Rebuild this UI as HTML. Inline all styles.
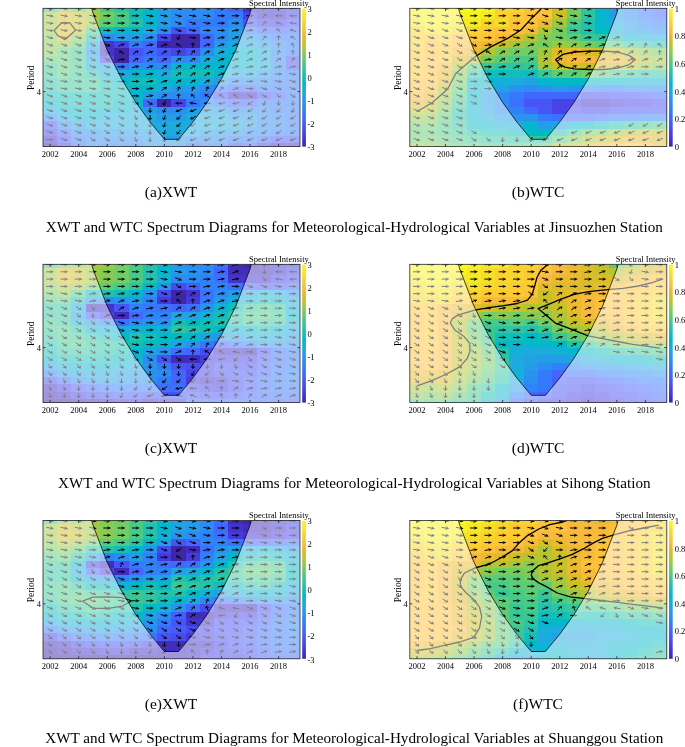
<!DOCTYPE html><html><head><meta charset="utf-8"><title>XWT and WTC Spectrum Diagrams</title>
<style>html,body{margin:0;padding:0;background:#fff}svg{display:block}.t{font-family:"Liberation Serif",serif;fill:#000}</style></head><body>
<svg width="685" height="747" viewBox="0 0 685 747">
<defs><linearGradient id="pg" x1="0" y1="0" x2="0" y2="1"><stop offset="0.000" stop-color="#f9fb15"/><stop offset="0.050" stop-color="#f5e825"/><stop offset="0.100" stop-color="#fad42e"/><stop offset="0.150" stop-color="#fec13a"/><stop offset="0.200" stop-color="#eaba31"/><stop offset="0.250" stop-color="#c8c129"/><stop offset="0.300" stop-color="#9fc942"/><stop offset="0.350" stop-color="#71cd64"/><stop offset="0.400" stop-color="#48cb86"/><stop offset="0.450" stop-color="#2fc5a2"/><stop offset="0.500" stop-color="#12beb9"/><stop offset="0.550" stop-color="#05b6ce"/><stop offset="0.600" stop-color="#1caadf"/><stop offset="0.650" stop-color="#259ce7"/><stop offset="0.700" stop-color="#2d8cf3"/><stop offset="0.750" stop-color="#347afd"/><stop offset="0.800" stop-color="#4367fd"/><stop offset="0.850" stop-color="#4755f6"/><stop offset="0.900" stop-color="#4743e7"/><stop offset="0.950" stop-color="#4433cc"/><stop offset="1.000" stop-color="#3e26a8"/></linearGradient></defs>
<rect width="685" height="747" fill="#fff"/>
<g transform="translate(43.00,8.30)">
<clipPath id="ca"><rect x="0" y="0" width="257.00" height="138.30"/></clipPath>
<g clip-path="url(#ca)">
<g shape-rendering="crispEdges">
<rect x="-0.2" y="-0.2" width="14.7" height="4.3" fill="#2fc5a2"/>
<rect x="14.1" y="-0.2" width="14.7" height="4.3" fill="#71cd64"/>
<rect x="28.4" y="-0.2" width="14.7" height="4.3" fill="#48cb86"/>
<rect x="42.6" y="-0.2" width="14.7" height="4.3" fill="#9fc942"/>
<rect x="56.9" y="-0.2" width="14.7" height="4.3" fill="#48cb86"/>
<rect x="71.2" y="-0.2" width="14.7" height="4.3" fill="#2fc5a2"/>
<rect x="85.5" y="-0.2" width="14.7" height="4.3" fill="#12beb9"/>
<rect x="99.7" y="-0.2" width="14.7" height="4.3" fill="#05b6ce"/>
<rect x="114.0" y="-0.2" width="14.7" height="4.3" fill="#259ce7"/>
<rect x="128.3" y="-0.2" width="43.2" height="4.3" fill="#2d8cf3"/>
<rect x="171.1" y="-0.2" width="14.7" height="4.3" fill="#347afd"/>
<rect x="185.4" y="-0.2" width="14.7" height="4.3" fill="#4367fd"/>
<rect x="199.7" y="-0.2" width="43.2" height="4.3" fill="#4433cc"/>
<rect x="242.5" y="-0.2" width="14.7" height="4.3" fill="#4743e7"/>
<rect x="-0.2" y="3.7" width="14.7" height="7.7" fill="#9fc942"/>
<rect x="14.1" y="3.7" width="14.7" height="7.7" fill="#dabd28"/>
<rect x="28.4" y="3.7" width="14.7" height="7.7" fill="#c8c129"/>
<rect x="42.6" y="3.7" width="14.7" height="7.7" fill="#9fc942"/>
<rect x="56.9" y="3.7" width="14.7" height="7.7" fill="#71cd64"/>
<rect x="71.2" y="3.7" width="14.7" height="7.7" fill="#48cb86"/>
<rect x="85.5" y="3.7" width="14.7" height="7.7" fill="#12beb9"/>
<rect x="99.7" y="3.7" width="14.7" height="7.7" fill="#05b6ce"/>
<rect x="114.0" y="3.7" width="14.7" height="7.7" fill="#259ce7"/>
<rect x="128.3" y="3.7" width="43.2" height="7.7" fill="#2d8cf3"/>
<rect x="171.1" y="3.7" width="29.0" height="7.7" fill="#347afd"/>
<rect x="199.7" y="3.7" width="14.7" height="7.7" fill="#4743e7"/>
<rect x="214.0" y="3.7" width="29.0" height="7.7" fill="#4433cc"/>
<rect x="242.5" y="3.7" width="14.7" height="7.7" fill="#4743e7"/>
<rect x="-0.2" y="11.0" width="14.7" height="7.7" fill="#9fc942"/>
<rect x="14.1" y="11.0" width="14.7" height="7.7" fill="#dabd28"/>
<rect x="28.4" y="11.0" width="14.7" height="7.7" fill="#c8c129"/>
<rect x="42.6" y="11.0" width="14.7" height="7.7" fill="#9fc942"/>
<rect x="56.9" y="11.0" width="14.7" height="7.7" fill="#5ccc76"/>
<rect x="71.2" y="11.0" width="14.7" height="7.7" fill="#48cb86"/>
<rect x="85.5" y="11.0" width="14.7" height="7.7" fill="#24c2ae"/>
<rect x="99.7" y="11.0" width="14.7" height="7.7" fill="#05b6ce"/>
<rect x="114.0" y="11.0" width="14.7" height="7.7" fill="#259ce7"/>
<rect x="128.3" y="11.0" width="14.7" height="7.7" fill="#2d8cf3"/>
<rect x="142.6" y="11.0" width="43.2" height="7.7" fill="#347afd"/>
<rect x="185.4" y="11.0" width="14.7" height="7.7" fill="#2d8cf3"/>
<rect x="199.7" y="11.0" width="14.7" height="7.7" fill="#4755f6"/>
<rect x="214.0" y="11.0" width="29.0" height="7.7" fill="#4743e7"/>
<rect x="242.5" y="11.0" width="14.7" height="7.7" fill="#4755f6"/>
<rect x="-0.2" y="18.3" width="14.7" height="7.7" fill="#9fc942"/>
<rect x="14.1" y="18.3" width="14.7" height="7.7" fill="#dabd28"/>
<rect x="28.4" y="18.3" width="14.7" height="7.7" fill="#c8c129"/>
<rect x="42.6" y="18.3" width="14.7" height="7.7" fill="#48cb86"/>
<rect x="56.9" y="18.3" width="14.7" height="7.7" fill="#12beb9"/>
<rect x="71.2" y="18.3" width="29.0" height="7.7" fill="#05b6ce"/>
<rect x="99.7" y="18.3" width="14.7" height="7.7" fill="#1caadf"/>
<rect x="114.0" y="18.3" width="14.7" height="7.7" fill="#2d8cf3"/>
<rect x="128.3" y="18.3" width="14.7" height="7.7" fill="#4755f6"/>
<rect x="142.6" y="18.3" width="14.7" height="7.7" fill="#4367fd"/>
<rect x="156.9" y="18.3" width="29.0" height="7.7" fill="#2d8cf3"/>
<rect x="185.4" y="18.3" width="14.7" height="7.7" fill="#259ce7"/>
<rect x="199.7" y="18.3" width="14.7" height="7.7" fill="#347afd"/>
<rect x="214.0" y="18.3" width="43.2" height="7.7" fill="#4367fd"/>
<rect x="-0.2" y="25.5" width="14.7" height="7.7" fill="#88cb53"/>
<rect x="14.1" y="25.5" width="14.7" height="7.7" fill="#dabd28"/>
<rect x="28.4" y="25.5" width="14.7" height="7.7" fill="#88cb53"/>
<rect x="42.6" y="25.5" width="14.7" height="7.7" fill="#24c2ae"/>
<rect x="56.9" y="25.5" width="14.7" height="7.7" fill="#2d8cf3"/>
<rect x="71.2" y="25.5" width="29.0" height="7.7" fill="#259ce7"/>
<rect x="99.7" y="25.5" width="14.7" height="7.7" fill="#2d8cf3"/>
<rect x="114.0" y="25.5" width="14.7" height="7.7" fill="#4743e7"/>
<rect x="128.3" y="25.5" width="29.0" height="7.7" fill="#3e26a8"/>
<rect x="156.9" y="25.5" width="14.7" height="7.7" fill="#4367fd"/>
<rect x="171.1" y="25.5" width="14.7" height="7.7" fill="#2d8cf3"/>
<rect x="185.4" y="25.5" width="29.0" height="7.7" fill="#259ce7"/>
<rect x="214.0" y="25.5" width="14.7" height="7.7" fill="#2d8cf3"/>
<rect x="228.2" y="25.5" width="29.0" height="7.7" fill="#347afd"/>
<rect x="-0.2" y="32.8" width="29.0" height="7.7" fill="#88cb53"/>
<rect x="28.4" y="32.8" width="14.7" height="7.7" fill="#5ccc76"/>
<rect x="42.6" y="32.8" width="14.7" height="7.7" fill="#1caadf"/>
<rect x="56.9" y="32.8" width="14.7" height="7.7" fill="#4433cc"/>
<rect x="71.2" y="32.8" width="14.7" height="7.7" fill="#4743e7"/>
<rect x="85.5" y="32.8" width="14.7" height="7.7" fill="#347afd"/>
<rect x="99.7" y="32.8" width="14.7" height="7.7" fill="#4367fd"/>
<rect x="114.0" y="32.8" width="43.2" height="7.7" fill="#3e26a8"/>
<rect x="156.9" y="32.8" width="14.7" height="7.7" fill="#4367fd"/>
<rect x="171.1" y="32.8" width="14.7" height="7.7" fill="#259ce7"/>
<rect x="185.4" y="32.8" width="29.0" height="7.7" fill="#1caadf"/>
<rect x="214.0" y="32.8" width="14.7" height="7.7" fill="#259ce7"/>
<rect x="228.2" y="32.8" width="14.7" height="7.7" fill="#2d8cf3"/>
<rect x="242.5" y="32.8" width="14.7" height="7.7" fill="#347afd"/>
<rect x="-0.2" y="40.1" width="14.7" height="7.7" fill="#88cb53"/>
<rect x="14.1" y="40.1" width="14.7" height="7.7" fill="#5ccc76"/>
<rect x="28.4" y="40.1" width="14.7" height="7.7" fill="#39c895"/>
<rect x="42.6" y="40.1" width="14.7" height="7.7" fill="#259ce7"/>
<rect x="56.9" y="40.1" width="14.7" height="7.7" fill="#4433cc"/>
<rect x="71.2" y="40.1" width="14.7" height="7.7" fill="#3e26a8"/>
<rect x="85.5" y="40.1" width="14.7" height="7.7" fill="#4755f6"/>
<rect x="99.7" y="40.1" width="14.7" height="7.7" fill="#4367fd"/>
<rect x="114.0" y="40.1" width="14.7" height="7.7" fill="#4755f6"/>
<rect x="128.3" y="40.1" width="14.7" height="7.7" fill="#4743e7"/>
<rect x="142.6" y="40.1" width="14.7" height="7.7" fill="#4755f6"/>
<rect x="156.9" y="40.1" width="14.7" height="7.7" fill="#2d8cf3"/>
<rect x="171.1" y="40.1" width="14.7" height="7.7" fill="#1caadf"/>
<rect x="185.4" y="40.1" width="29.0" height="7.7" fill="#05b6ce"/>
<rect x="214.0" y="40.1" width="14.7" height="7.7" fill="#1caadf"/>
<rect x="228.2" y="40.1" width="14.7" height="7.7" fill="#2d8cf3"/>
<rect x="242.5" y="40.1" width="14.7" height="7.7" fill="#347afd"/>
<rect x="-0.2" y="47.4" width="29.0" height="7.7" fill="#5ccc76"/>
<rect x="28.4" y="47.4" width="14.7" height="7.7" fill="#39c895"/>
<rect x="42.6" y="47.4" width="14.7" height="7.7" fill="#1caadf"/>
<rect x="56.9" y="47.4" width="14.7" height="7.7" fill="#4743e7"/>
<rect x="71.2" y="47.4" width="14.7" height="7.7" fill="#3e26a8"/>
<rect x="85.5" y="47.4" width="14.7" height="7.7" fill="#4367fd"/>
<rect x="99.7" y="47.4" width="14.7" height="7.7" fill="#347afd"/>
<rect x="114.0" y="47.4" width="14.7" height="7.7" fill="#4367fd"/>
<rect x="128.3" y="47.4" width="29.0" height="7.7" fill="#2d8cf3"/>
<rect x="156.9" y="47.4" width="14.7" height="7.7" fill="#1caadf"/>
<rect x="171.1" y="47.4" width="43.2" height="7.7" fill="#05b6ce"/>
<rect x="214.0" y="47.4" width="14.7" height="7.7" fill="#1caadf"/>
<rect x="228.2" y="47.4" width="14.7" height="7.7" fill="#2d8cf3"/>
<rect x="242.5" y="47.4" width="14.7" height="7.7" fill="#4755f6"/>
<rect x="-0.2" y="54.7" width="14.7" height="7.7" fill="#39c895"/>
<rect x="14.1" y="54.7" width="14.7" height="7.7" fill="#5ccc76"/>
<rect x="28.4" y="54.7" width="14.7" height="7.7" fill="#39c895"/>
<rect x="42.6" y="54.7" width="14.7" height="7.7" fill="#13b0d7"/>
<rect x="56.9" y="54.7" width="14.7" height="7.7" fill="#1caadf"/>
<rect x="71.2" y="54.7" width="14.7" height="7.7" fill="#347afd"/>
<rect x="85.5" y="54.7" width="43.2" height="7.7" fill="#2d8cf3"/>
<rect x="128.3" y="54.7" width="86.1" height="7.7" fill="#05b6ce"/>
<rect x="214.0" y="54.7" width="14.7" height="7.7" fill="#1caadf"/>
<rect x="228.2" y="54.7" width="14.7" height="7.7" fill="#2d8cf3"/>
<rect x="242.5" y="54.7" width="14.7" height="7.7" fill="#4755f6"/>
<rect x="-0.2" y="61.9" width="14.7" height="7.7" fill="#39c895"/>
<rect x="14.1" y="61.9" width="14.7" height="7.7" fill="#5ccc76"/>
<rect x="28.4" y="61.9" width="14.7" height="7.7" fill="#39c895"/>
<rect x="42.6" y="61.9" width="14.7" height="7.7" fill="#24c2ae"/>
<rect x="56.9" y="61.9" width="29.0" height="7.7" fill="#1caadf"/>
<rect x="85.5" y="61.9" width="29.0" height="7.7" fill="#05b6ce"/>
<rect x="114.0" y="61.9" width="14.7" height="7.7" fill="#1caadf"/>
<rect x="128.3" y="61.9" width="43.2" height="7.7" fill="#12beb9"/>
<rect x="171.1" y="61.9" width="14.7" height="7.7" fill="#05b6ce"/>
<rect x="185.4" y="61.9" width="29.0" height="7.7" fill="#1caadf"/>
<rect x="214.0" y="61.9" width="14.7" height="7.7" fill="#259ce7"/>
<rect x="228.2" y="61.9" width="14.7" height="7.7" fill="#2d8cf3"/>
<rect x="242.5" y="61.9" width="14.7" height="7.7" fill="#347afd"/>
<rect x="-0.2" y="69.2" width="14.7" height="7.7" fill="#24c2ae"/>
<rect x="14.1" y="69.2" width="43.2" height="7.7" fill="#39c895"/>
<rect x="56.9" y="69.2" width="14.7" height="7.7" fill="#12beb9"/>
<rect x="71.2" y="69.2" width="14.7" height="7.7" fill="#05b6ce"/>
<rect x="85.5" y="69.2" width="29.0" height="7.7" fill="#12beb9"/>
<rect x="114.0" y="69.2" width="43.2" height="7.7" fill="#05b6ce"/>
<rect x="156.9" y="69.2" width="14.7" height="7.7" fill="#1caadf"/>
<rect x="171.1" y="69.2" width="14.7" height="7.7" fill="#259ce7"/>
<rect x="185.4" y="69.2" width="43.2" height="7.7" fill="#2d8cf3"/>
<rect x="228.2" y="69.2" width="29.0" height="7.7" fill="#347afd"/>
<rect x="-0.2" y="76.5" width="14.7" height="7.7" fill="#24c2ae"/>
<rect x="14.1" y="76.5" width="43.2" height="7.7" fill="#39c895"/>
<rect x="56.9" y="76.5" width="29.0" height="7.7" fill="#12beb9"/>
<rect x="85.5" y="76.5" width="29.0" height="7.7" fill="#05b6ce"/>
<rect x="114.0" y="76.5" width="14.7" height="7.7" fill="#1caadf"/>
<rect x="128.3" y="76.5" width="29.0" height="7.7" fill="#259ce7"/>
<rect x="156.9" y="76.5" width="14.7" height="7.7" fill="#2d8cf3"/>
<rect x="171.1" y="76.5" width="14.7" height="7.7" fill="#347afd"/>
<rect x="185.4" y="76.5" width="29.0" height="7.7" fill="#4367fd"/>
<rect x="214.0" y="76.5" width="43.2" height="7.7" fill="#347afd"/>
<rect x="-0.2" y="83.8" width="86.1" height="7.7" fill="#12beb9"/>
<rect x="85.5" y="83.8" width="14.7" height="7.7" fill="#05b6ce"/>
<rect x="99.7" y="83.8" width="14.7" height="7.7" fill="#259ce7"/>
<rect x="114.0" y="83.8" width="43.2" height="7.7" fill="#2d8cf3"/>
<rect x="156.9" y="83.8" width="14.7" height="7.7" fill="#347afd"/>
<rect x="171.1" y="83.8" width="14.7" height="7.7" fill="#4755f6"/>
<rect x="185.4" y="83.8" width="29.0" height="7.7" fill="#4433cc"/>
<rect x="214.0" y="83.8" width="14.7" height="7.7" fill="#4755f6"/>
<rect x="228.2" y="83.8" width="14.7" height="7.7" fill="#4367fd"/>
<rect x="242.5" y="83.8" width="14.7" height="7.7" fill="#347afd"/>
<rect x="-0.2" y="91.1" width="14.7" height="7.7" fill="#05b6ce"/>
<rect x="14.1" y="91.1" width="57.5" height="7.7" fill="#12beb9"/>
<rect x="71.2" y="91.1" width="29.0" height="7.7" fill="#05b6ce"/>
<rect x="99.7" y="91.1" width="14.7" height="7.7" fill="#4367fd"/>
<rect x="114.0" y="91.1" width="14.7" height="7.7" fill="#3e26a8"/>
<rect x="128.3" y="91.1" width="14.7" height="7.7" fill="#4743e7"/>
<rect x="142.6" y="91.1" width="14.7" height="7.7" fill="#347afd"/>
<rect x="156.9" y="91.1" width="14.7" height="7.7" fill="#2d8cf3"/>
<rect x="171.1" y="91.1" width="14.7" height="7.7" fill="#347afd"/>
<rect x="185.4" y="91.1" width="29.0" height="7.7" fill="#4367fd"/>
<rect x="214.0" y="91.1" width="43.2" height="7.7" fill="#347afd"/>
<rect x="-0.2" y="98.3" width="14.7" height="7.7" fill="#1caadf"/>
<rect x="14.1" y="98.3" width="71.8" height="7.7" fill="#05b6ce"/>
<rect x="85.5" y="98.3" width="14.7" height="7.7" fill="#1caadf"/>
<rect x="99.7" y="98.3" width="14.7" height="7.7" fill="#259ce7"/>
<rect x="114.0" y="98.3" width="29.0" height="7.7" fill="#2d8cf3"/>
<rect x="142.6" y="98.3" width="43.2" height="7.7" fill="#259ce7"/>
<rect x="185.4" y="98.3" width="43.2" height="7.7" fill="#2d8cf3"/>
<rect x="228.2" y="98.3" width="29.0" height="7.7" fill="#347afd"/>
<rect x="-0.2" y="105.6" width="14.7" height="7.7" fill="#2d8cf3"/>
<rect x="14.1" y="105.6" width="14.7" height="7.7" fill="#1caadf"/>
<rect x="28.4" y="105.6" width="29.0" height="7.7" fill="#05b6ce"/>
<rect x="56.9" y="105.6" width="57.5" height="7.7" fill="#1caadf"/>
<rect x="114.0" y="105.6" width="29.0" height="7.7" fill="#259ce7"/>
<rect x="142.6" y="105.6" width="43.2" height="7.7" fill="#1caadf"/>
<rect x="185.4" y="105.6" width="29.0" height="7.7" fill="#259ce7"/>
<rect x="214.0" y="105.6" width="29.0" height="7.7" fill="#2d8cf3"/>
<rect x="242.5" y="105.6" width="14.7" height="7.7" fill="#347afd"/>
<rect x="-0.2" y="112.9" width="14.7" height="7.7" fill="#4755f6"/>
<rect x="14.1" y="112.9" width="14.7" height="7.7" fill="#2d8cf3"/>
<rect x="28.4" y="112.9" width="14.7" height="7.7" fill="#259ce7"/>
<rect x="42.6" y="112.9" width="157.5" height="7.7" fill="#1caadf"/>
<rect x="199.7" y="112.9" width="14.7" height="7.7" fill="#259ce7"/>
<rect x="214.0" y="112.9" width="29.0" height="7.7" fill="#2d8cf3"/>
<rect x="242.5" y="112.9" width="14.7" height="7.7" fill="#347afd"/>
<rect x="-0.2" y="120.2" width="14.7" height="7.7" fill="#4743e7"/>
<rect x="14.1" y="120.2" width="14.7" height="7.7" fill="#4367fd"/>
<rect x="28.4" y="120.2" width="29.0" height="7.7" fill="#2d8cf3"/>
<rect x="56.9" y="120.2" width="57.5" height="7.7" fill="#259ce7"/>
<rect x="114.0" y="120.2" width="43.2" height="7.7" fill="#1caadf"/>
<rect x="156.9" y="120.2" width="43.2" height="7.7" fill="#259ce7"/>
<rect x="199.7" y="120.2" width="29.0" height="7.7" fill="#2d8cf3"/>
<rect x="228.2" y="120.2" width="29.0" height="7.7" fill="#347afd"/>
<rect x="-0.2" y="127.5" width="14.7" height="7.7" fill="#4433cc"/>
<rect x="14.1" y="127.5" width="14.7" height="7.7" fill="#4755f6"/>
<rect x="28.4" y="127.5" width="14.7" height="7.7" fill="#347afd"/>
<rect x="42.6" y="127.5" width="57.5" height="7.7" fill="#2d8cf3"/>
<rect x="99.7" y="127.5" width="43.2" height="7.7" fill="#259ce7"/>
<rect x="142.6" y="127.5" width="43.2" height="7.7" fill="#2d8cf3"/>
<rect x="185.4" y="127.5" width="29.0" height="7.7" fill="#347afd"/>
<rect x="214.0" y="127.5" width="14.7" height="7.7" fill="#4367fd"/>
<rect x="228.2" y="127.5" width="29.0" height="7.7" fill="#4755f6"/>
<rect x="-0.2" y="134.7" width="14.7" height="3.8" fill="#3e26a8"/>
<rect x="14.1" y="134.7" width="14.7" height="3.8" fill="#4743e7"/>
<rect x="28.4" y="134.7" width="14.7" height="3.8" fill="#4367fd"/>
<rect x="42.6" y="134.7" width="14.7" height="3.8" fill="#2d8cf3"/>
<rect x="56.9" y="134.7" width="43.2" height="3.8" fill="#347afd"/>
<rect x="99.7" y="134.7" width="14.7" height="3.8" fill="#259ce7"/>
<rect x="114.0" y="134.7" width="29.0" height="3.8" fill="#2d8cf3"/>
<rect x="142.6" y="134.7" width="14.7" height="3.8" fill="#4367fd"/>
<rect x="156.9" y="134.7" width="29.0" height="3.8" fill="#347afd"/>
<rect x="185.4" y="134.7" width="14.7" height="3.8" fill="#4755f6"/>
<rect x="199.7" y="134.7" width="14.7" height="3.8" fill="#4367fd"/>
<rect x="214.0" y="134.7" width="14.7" height="3.8" fill="#4743e7"/>
<rect x="228.2" y="134.7" width="29.0" height="3.8" fill="#4433cc"/>
</g>
<path d="M3.4 -0.4L8.1 0.5M17.6 -0.4L22.4 0.5M31.9 -0.4L36.6 0.5M46.2 -0.4L50.9 0.5M60.4 0.3L65.2 0.3M74.6 0.3L79.5 0.3M88.9 0.3L93.8 0.3M103.3 -0.4L108.0 0.5M117.6 -0.4L122.3 0.5M132.3 -1.0L136.5 0.6M146.1 -0.4L150.9 0.5M160.4 -0.4L165.1 0.5M174.6 0.3L179.4 0.3M188.8 0.3L193.7 0.3M203.1 0.3L208.0 0.3M219.4 2.5L221.8 -0.3M239.5 0.3L234.6 0.3M253.8 0.3L248.9 0.3M3.4 6.9L8.1 7.7M17.6 6.9L22.4 7.7M31.9 6.9L36.6 7.7M46.2 6.9L50.9 7.7M60.4 7.5L65.2 7.5M74.6 7.5L79.5 7.5M88.9 7.5L93.8 7.5M103.3 6.9L108.0 7.7M117.6 6.9L122.3 7.7M132.3 6.3L136.5 7.9M146.1 6.9L150.9 7.7M160.4 6.9L165.1 7.7M174.6 7.5L179.4 7.5M188.8 7.5L193.7 7.5M203.1 7.5L208.0 7.5M219.4 9.7L221.8 7.0M239.5 7.5L234.6 7.5M253.8 7.5L248.9 7.5M3.4 14.2L8.1 15.0M17.6 14.2L22.4 15.0M31.9 14.2L36.6 15.0M46.2 14.2L50.9 15.0M60.4 14.8L65.2 14.8M74.6 14.8L79.5 14.8M88.9 14.8L93.8 14.8M103.2 14.8L108.1 14.8M117.6 14.2L122.3 15.0M132.3 13.5L136.5 15.1M146.5 13.5L150.8 15.1M160.4 14.2L165.1 15.0M174.6 14.8L179.4 14.8M188.8 14.8L193.7 14.8M203.3 15.5L208.0 14.7M219.4 17.0L221.8 14.3M239.0 16.1L234.7 14.5M253.6 15.5L248.9 14.7M3.4 21.4L8.1 22.3M17.6 21.4L22.4 22.3M31.9 21.4L36.6 22.3M46.6 20.8L50.8 22.4M60.4 22.1L65.2 22.1M74.6 22.1L79.5 22.1M88.9 22.1L93.8 22.1M103.2 22.1L108.1 22.1M117.6 21.4L122.3 22.3M132.3 20.8L136.5 22.4M146.1 21.4L150.9 22.3M160.3 22.1L165.2 22.1M174.6 22.1L179.4 22.1M189.0 22.8L193.7 21.9M203.3 22.8L208.0 21.9M219.4 24.3L221.8 21.5M237.5 24.3L235.1 21.5M253.2 23.4L249.0 21.8M3.8 28.1L8.0 29.7M18.0 28.1L22.3 29.7M32.3 28.1L36.5 29.7M46.6 28.1L50.8 29.7M60.5 28.7L65.2 29.5M74.6 29.4L79.5 29.4M89.0 30.0L93.7 29.2M103.3 30.0L108.0 29.2M117.6 28.7L122.3 29.5M136.6 26.9L135.4 30.0M146.1 28.7L150.9 29.5M160.4 30.0L165.1 29.2M174.7 30.0L179.4 29.2M189.4 30.7L193.6 29.1M203.7 30.7L207.9 29.1M219.4 31.6L221.8 28.8M235.6 31.9L235.6 28.7M252.6 31.2L249.2 28.9M3.8 35.4L8.0 37.0M18.0 35.4L22.3 37.0M32.3 35.4L36.5 37.0M47.2 34.9L50.7 37.1M60.9 35.4L65.1 37.0M75.2 37.9L79.4 36.3M89.4 37.9L93.6 36.3M103.3 37.3L108.0 36.5M118.0 37.9L122.2 36.3M138.4 38.5L134.9 36.2M149.9 39.2L149.9 36.0M160.8 37.9L165.0 36.3M175.1 37.9L179.3 36.3M189.4 37.9L193.6 36.3M203.7 37.9L207.9 36.3M219.4 38.9L221.8 36.1M235.6 39.2L235.6 36.0M250.9 39.1L249.6 36.0M3.8 42.7L8.0 44.3M18.0 42.7L22.3 44.3M32.3 42.7L36.5 44.3M47.2 42.1L50.7 44.4M61.5 42.1L64.9 44.4M81.3 45.7L77.8 43.5M90.0 45.7L93.5 43.5M103.7 45.2L107.9 43.6M118.6 45.7L122.1 43.5M134.6 46.4L135.9 43.3M148.0 46.1L150.4 43.4M161.4 45.7L164.9 43.5M175.1 45.2L179.3 43.6M189.4 45.2L193.6 43.6M204.3 45.7L207.7 43.5M218.5 45.7L222.0 43.5M234.6 46.4L235.8 43.3M249.9 46.5L249.9 43.3M3.8 49.9L8.0 51.5M18.0 49.9L22.3 51.5M32.3 49.9L36.5 51.5M47.2 49.4L50.7 51.7M61.5 49.4L64.9 51.7M74.8 51.9L79.5 51.1M90.0 53.0L93.5 50.8M104.3 53.0L107.8 50.8M118.6 53.0L122.1 50.8M132.9 53.0L136.3 50.8M147.2 53.0L150.6 50.8M161.4 53.0L164.9 50.8M175.1 52.5L179.3 50.9M189.4 52.5L193.6 50.9M203.7 52.5L207.9 50.9M218.5 53.0L222.0 50.8M232.8 53.0L236.3 50.8M247.9 53.4L250.3 50.7M3.8 57.2L8.0 58.8M18.0 57.2L22.3 58.8M32.3 57.2L36.5 58.8M46.6 57.2L50.8 58.8M60.9 57.2L65.1 58.8M74.6 58.5L79.5 58.5M89.0 59.2L93.7 58.3M103.7 59.8L107.9 58.2M118.6 60.3L122.1 58.0M132.9 60.3L136.3 58.0M147.2 60.3L150.6 58.0M161.4 60.3L164.9 58.0M175.1 59.8L179.3 58.2M189.4 59.8L193.6 58.2M203.3 59.2L208.0 58.3M217.5 59.2L222.2 58.3M231.8 59.2L236.5 58.3M246.1 59.2L250.8 58.3M3.8 64.5L8.0 66.1M18.0 64.5L22.3 66.1M32.3 64.5L36.5 66.1M46.6 64.5L50.8 66.1M60.9 64.5L65.1 66.1M74.8 65.1L79.5 65.9M88.9 65.8L93.8 65.8M103.3 66.4L108.0 65.6M118.6 67.6L122.1 65.3M132.9 67.6L136.3 65.3M147.2 67.6L150.6 65.3M161.4 67.6L164.9 65.3M175.1 67.1L179.3 65.5M189.0 66.4L193.7 65.6M203.3 66.4L208.0 65.6M217.4 65.8L222.3 65.8M231.7 65.8L236.6 65.8M246.1 65.1L250.8 65.9M3.8 71.8L8.0 73.4M17.6 72.4L22.4 73.2M31.9 72.4L36.6 73.2M46.2 72.4L50.9 73.2M60.5 72.4L65.2 73.2M74.6 73.1L79.5 73.1M88.9 73.1L93.8 73.1M103.3 73.7L108.0 72.9M118.0 74.3L122.2 72.7M132.9 74.9L136.3 72.6M147.2 74.9L150.6 72.6M161.4 74.9L164.9 72.6M175.1 74.3L179.3 72.7M189.0 73.7L193.7 72.9M203.1 73.1L208.0 73.1M217.5 72.4L222.2 73.2M231.8 72.4L236.5 73.2M246.5 71.8L250.7 73.4M3.4 79.7L8.1 80.5M17.6 79.7L22.4 80.5M31.9 79.7L36.6 80.5M46.2 79.7L50.9 80.5M60.5 79.7L65.2 80.5M74.8 79.7L79.5 80.5M88.9 80.3L93.8 80.3M103.3 81.0L108.0 80.2M118.6 82.1L122.1 79.9M134.6 82.8L135.9 79.7M148.9 82.8L150.2 79.7M163.2 82.8L164.4 79.7M176.5 82.5L179.0 79.8M189.4 81.6L193.6 80.0M203.1 80.3L208.0 80.3M217.9 79.1L222.1 80.7M232.2 79.1L236.4 80.7M246.5 79.1L250.7 80.7M3.8 86.3L8.0 87.9M18.0 86.3L22.3 87.9M32.3 86.3L36.5 87.9M46.6 86.3L50.8 87.9M60.9 86.3L65.1 87.9M75.2 86.3L79.4 87.9M88.9 87.6L93.8 87.6M103.3 88.3L108.0 87.5M118.6 89.4L122.1 87.2M135.6 90.2L135.6 87.0M151.9 89.8L149.4 87.1M167.0 89.4L163.5 87.2M181.2 89.4L177.8 87.2M195.5 89.4L192.1 87.2M204.3 85.8L207.7 88.1M218.5 85.8L222.0 88.1M233.6 85.4L236.1 88.2M247.1 85.8L250.6 88.1M3.8 93.6L8.0 95.2M18.0 93.6L22.3 95.2M32.3 93.6L36.5 95.2M46.6 93.6L50.8 95.2M60.9 93.6L65.1 95.2M75.2 93.6L79.4 95.2M89.4 93.6L93.6 95.2M104.3 93.1L107.8 95.4M122.4 92.4L121.1 95.5M139.5 94.9L134.7 94.9M153.7 95.6L149.0 94.7M168.1 94.9L163.2 94.9M182.2 94.2L177.5 95.1M196.5 94.2L191.8 95.1M209.8 93.1L206.3 95.4M222.3 92.4L221.1 95.5M235.6 92.4L235.6 95.5M249.9 92.4L249.9 95.5M3.8 100.9L8.0 102.5M18.0 100.9L22.3 102.5M32.3 100.9L36.5 102.5M46.6 100.9L50.8 102.5M60.9 100.9L65.1 102.5M75.8 100.4L79.2 102.6M90.9 100.0L93.3 102.7M107.1 99.6L107.1 102.8M122.4 99.7L121.1 102.8M139.0 100.9L134.8 102.5M153.3 100.9L149.1 102.5M168.0 101.5L163.3 102.3M181.8 100.9L177.6 102.5M196.1 100.9L191.9 102.5M209.8 100.4L206.3 102.6M223.3 100.0L220.8 102.7M237.5 100.0L235.1 102.7M250.9 99.7L249.6 102.8M3.8 108.2L8.0 109.8M18.0 108.2L22.3 109.8M32.3 108.2L36.5 109.8M46.6 108.2L50.8 109.8M61.5 107.7L64.9 109.9M75.8 107.7L79.2 109.9M91.8 107.0L93.1 110.1M107.1 106.9L107.1 110.1M122.4 107.0L121.1 110.1M137.6 107.3L135.2 110.0M152.7 107.7L149.2 109.9M167.6 108.2L163.4 109.8M181.8 108.2L177.6 109.8M196.1 108.2L191.9 109.8M209.8 107.7L206.3 109.9M224.1 107.7L220.6 109.9M238.3 107.7L234.9 109.9M252.6 107.7L249.2 109.9M3.8 115.5L8.0 117.1M18.0 115.5L22.3 117.1M32.3 115.5L36.5 117.1M46.6 115.5L50.8 117.1M61.5 114.9L64.9 117.2M75.8 114.9L79.2 117.2M91.8 114.3L93.1 117.4M107.1 114.2L107.1 117.4M122.4 114.3L121.1 117.4M137.6 114.5L135.2 117.3M152.7 114.9L149.2 117.2M167.6 115.5L163.4 117.1M181.8 115.5L177.6 117.1M196.1 115.5L191.9 117.1M210.4 115.5L206.2 117.1M224.1 114.9L220.6 117.2M238.3 114.9L234.9 117.2M252.6 114.9L249.2 117.2M3.8 122.7L8.0 124.3M18.0 122.7L22.3 124.3M32.3 122.7L36.5 124.3M47.2 122.2L50.7 124.5M61.5 122.2L64.9 124.5M76.6 121.8L79.0 124.6M91.8 121.6L93.1 124.6M107.1 121.5L107.1 124.7M122.4 121.6L121.1 124.6M137.6 121.8L135.2 124.6M152.7 122.2L149.2 124.5M167.6 122.7L163.4 124.3M181.8 122.7L177.6 124.3M196.1 122.7L191.9 124.3M210.4 122.7L206.2 124.3M224.1 122.2L220.6 124.5M238.3 122.2L234.9 124.5M252.6 122.2L249.2 124.5M3.2 131.3L8.1 131.3M18.0 130.0L22.3 131.6M32.3 130.0L36.5 131.6M47.2 129.5L50.7 131.8M61.5 129.5L64.9 131.8M76.6 129.1L79.0 131.9M91.8 128.8L93.1 131.9M107.1 128.8L107.1 131.9M121.4 128.8L121.4 131.9M138.4 129.5L134.9 131.8M153.3 130.0L149.1 131.6M167.6 130.0L163.4 131.6M181.8 130.0L177.6 131.6M196.1 130.0L191.9 131.6M210.4 130.0L206.2 131.6M224.7 130.0L220.5 131.6M239.0 130.0L234.7 131.6M253.2 130.0L249.0 131.6" stroke="#000" stroke-width="1" fill="none"/>
<path d="M10.9 1.0L7.6 -1.4L8.1 0.5L6.2 1.9ZM25.2 1.0L21.8 -1.4L22.4 0.5L20.5 1.9ZM39.5 1.0L36.1 -1.4L36.6 0.5L34.7 1.9ZM53.7 1.0L50.4 -1.4L50.9 0.5L49.0 1.9ZM68.2 0.3L64.0 -1.4L65.2 0.3L64.0 2.0ZM82.4 0.3L78.3 -1.4L79.5 0.3L78.3 2.0ZM96.7 0.3L92.5 -1.4L93.8 0.3L92.5 2.0ZM110.9 1.0L107.5 -1.4L108.0 0.5L106.1 1.9ZM125.1 1.0L121.8 -1.4L122.3 0.5L120.4 1.9ZM139.0 1.6L136.7 -1.3L136.5 0.6L134.1 1.7ZM153.7 1.0L150.3 -1.4L150.9 0.5L149.0 1.9ZM168.0 1.0L164.6 -1.4L165.1 0.5L163.2 1.9ZM182.4 0.3L178.2 -1.4L179.4 0.3L178.2 2.0ZM196.7 0.3L192.5 -1.4L193.7 0.3L192.5 2.0ZM210.9 0.3L206.8 -1.4L208.0 0.3L206.8 2.0ZM223.3 -1.9L218.9 -0.4L221.8 -0.3L223.5 1.3ZM231.7 0.3L235.9 2.0L234.6 0.3L235.9 -1.4ZM246.0 0.3L250.1 2.0L248.9 0.3L250.1 -1.4ZM10.9 8.2L7.6 5.8L8.1 7.7L6.2 9.2ZM25.2 8.2L21.8 5.8L22.4 7.7L20.5 9.2ZM39.5 8.2L36.1 5.8L36.6 7.7L34.7 9.2ZM53.7 8.2L50.4 5.8L50.9 7.7L49.0 9.2ZM68.2 7.5L64.0 5.8L65.2 7.5L64.0 9.3ZM82.4 7.5L78.3 5.8L79.5 7.5L78.3 9.3ZM96.7 7.5L92.5 5.8L93.8 7.5L92.5 9.3ZM110.9 8.2L107.5 5.8L108.0 7.7L106.1 9.2ZM125.1 8.2L121.8 5.8L122.3 7.7L120.4 9.2ZM139.0 8.8L136.7 5.9L136.5 7.9L134.1 9.0ZM153.7 8.2L150.3 5.8L150.9 7.7L149.0 9.2ZM168.0 8.2L164.6 5.8L165.1 7.7L163.2 9.2ZM182.4 7.5L178.2 5.8L179.4 7.5L178.2 9.3ZM196.7 7.5L192.5 5.8L193.7 7.5L192.5 9.3ZM210.9 7.5L206.8 5.8L208.0 7.5L206.8 9.3ZM223.3 5.3L218.9 6.8L221.8 7.0L223.5 8.6ZM231.7 7.5L235.9 9.3L234.6 7.5L235.9 5.8ZM246.0 7.5L250.1 9.3L248.9 7.5L250.1 5.8ZM10.9 15.5L7.6 13.1L8.1 15.0L6.2 16.4ZM25.2 15.5L21.8 13.1L22.4 15.0L20.5 16.4ZM39.5 15.5L36.1 13.1L36.6 15.0L34.7 16.4ZM53.7 15.5L50.4 13.1L50.9 15.0L49.0 16.4ZM68.2 14.8L64.0 13.1L65.2 14.8L64.0 16.6ZM82.4 14.8L78.3 13.1L79.5 14.8L78.3 16.6ZM96.7 14.8L92.5 13.1L93.8 14.8L92.5 16.6ZM111.0 14.8L106.8 13.1L108.1 14.8L106.8 16.6ZM125.1 15.5L121.8 13.1L122.3 15.0L120.4 16.4ZM139.0 16.1L136.7 13.2L136.5 15.1L134.1 16.2ZM153.3 16.1L151.0 13.2L150.8 15.1L148.4 16.2ZM168.0 15.5L164.6 13.1L165.1 15.0L163.2 16.4ZM182.4 14.8L178.2 13.1L179.4 14.8L178.2 16.6ZM196.7 14.8L192.5 13.1L193.7 14.8L192.5 16.6ZM210.8 14.2L206.1 13.2L208.0 14.7L207.5 16.5ZM223.3 12.6L218.9 14.1L221.8 14.3L223.5 15.8ZM232.2 13.5L234.5 16.4L234.7 14.5L237.1 13.4ZM246.1 14.2L249.4 16.5L248.9 14.7L250.8 13.2ZM10.9 22.8L7.6 20.4L8.1 22.3L6.2 23.7ZM25.2 22.8L21.8 20.4L22.4 22.3L20.5 23.7ZM39.5 22.8L36.1 20.4L36.6 22.3L34.7 23.7ZM53.3 23.4L51.1 20.5L50.8 22.4L48.4 23.5ZM68.2 22.1L64.0 20.4L65.2 22.1L64.0 23.8ZM82.4 22.1L78.3 20.4L79.5 22.1L78.3 23.8ZM96.7 22.1L92.5 20.4L93.8 22.1L92.5 23.8ZM111.0 22.1L106.8 20.4L108.1 22.1L106.8 23.8ZM125.1 22.8L121.8 20.4L122.3 22.3L120.4 23.7ZM139.0 23.4L136.7 20.5L136.5 22.4L134.1 23.5ZM153.7 22.8L150.3 20.4L150.9 22.3L149.0 23.7ZM168.1 22.1L163.9 20.4L165.2 22.1L163.9 23.8ZM182.4 22.1L178.2 20.4L179.4 22.1L178.2 23.8ZM196.5 21.4L191.8 20.5L193.7 21.9L193.2 23.8ZM210.8 21.4L206.1 20.5L208.0 21.9L207.5 23.8ZM223.3 19.9L218.9 21.4L221.8 21.5L223.5 23.1ZM233.6 19.9L233.4 23.1L235.1 21.5L238.0 21.4ZM246.5 20.8L248.8 23.7L249.0 21.8L251.4 20.7ZM10.5 30.7L8.2 27.8L8.0 29.7L5.6 30.8ZM24.8 30.7L22.5 27.8L22.3 29.7L19.9 30.8ZM39.1 30.7L36.8 27.8L36.5 29.7L34.1 30.8ZM53.3 30.7L51.1 27.8L50.8 29.7L48.4 30.8ZM68.0 30.0L64.7 27.7L65.2 29.5L63.3 31.0ZM82.4 29.4L78.3 27.6L79.5 29.4L78.3 31.1ZM96.6 28.7L91.9 27.8L93.7 29.2L93.2 31.1ZM110.9 28.7L106.1 27.8L108.0 29.2L107.5 31.1ZM125.1 30.0L121.8 27.7L122.3 29.5L120.4 31.0ZM134.6 31.8L138.3 29.7L135.4 30.0L133.1 28.8ZM153.7 30.0L150.3 27.7L150.9 29.5L149.0 31.0ZM168.0 28.7L163.2 27.8L165.1 29.2L164.6 31.1ZM182.2 28.7L177.5 27.8L179.4 29.2L178.9 31.1ZM196.1 28.1L191.2 28.0L193.6 29.1L193.8 31.0ZM210.4 28.1L205.5 28.0L207.9 29.1L208.1 31.0ZM223.3 27.2L218.9 28.7L221.8 28.8L223.5 30.4ZM235.6 26.8L232.9 29.6L235.6 28.7L238.2 29.6ZM247.1 27.6L248.2 30.7L249.2 28.9L251.9 28.3ZM10.5 37.9L8.2 35.1L8.0 37.0L5.6 38.1ZM24.8 37.9L22.5 35.1L22.3 37.0L19.9 38.1ZM39.1 37.9L36.8 35.1L36.5 37.0L34.1 38.1ZM52.7 38.5L51.7 35.3L50.7 37.1L47.9 37.8ZM67.6 37.9L65.3 35.1L65.1 37.0L62.7 38.1ZM81.9 35.4L77.0 35.2L79.4 36.3L79.6 38.3ZM96.2 35.4L91.2 35.2L93.6 36.3L93.9 38.3ZM110.9 36.0L106.1 35.0L108.0 36.5L107.5 38.4ZM124.7 35.4L119.8 35.2L122.2 36.3L122.5 38.3ZM132.9 34.9L134.0 38.0L134.9 36.2L137.7 35.6ZM149.9 34.1L147.3 36.8L149.9 36.0L152.6 36.8ZM167.6 35.4L162.6 35.2L165.0 36.3L165.3 38.3ZM181.8 35.4L176.9 35.2L179.3 36.3L179.6 38.3ZM196.1 35.4L191.2 35.2L193.6 36.3L193.8 38.3ZM210.4 35.4L205.5 35.2L207.9 36.3L208.1 38.3ZM223.3 34.5L218.9 35.9L221.8 36.1L223.5 37.7ZM235.6 34.1L232.9 36.8L235.6 36.0L238.2 36.8ZM248.9 34.2L247.4 37.3L249.6 36.0L252.5 36.4ZM10.5 45.2L8.2 42.3L8.0 44.3L5.6 45.4ZM24.8 45.2L22.5 42.3L22.3 44.3L19.9 45.4ZM39.1 45.2L36.8 42.3L36.5 44.3L34.1 45.4ZM52.7 45.7L51.7 42.6L50.7 44.4L47.9 45.0ZM67.0 45.7L65.9 42.6L64.9 44.4L62.2 45.0ZM75.8 42.1L76.8 45.3L77.8 43.5L80.6 42.8ZM95.6 42.1L90.7 42.8L93.5 43.5L94.5 45.3ZM110.5 42.7L105.5 42.5L107.9 43.6L108.2 45.5ZM124.1 42.1L119.3 42.8L122.1 43.5L123.0 45.3ZM136.6 41.5L133.0 43.7L135.9 43.3L138.1 44.6ZM151.9 41.7L147.5 43.2L150.4 43.4L152.1 45.0ZM167.0 42.1L162.1 42.8L164.9 43.5L165.9 45.3ZM181.8 42.7L176.9 42.5L179.3 43.6L179.6 45.5ZM196.1 42.7L191.2 42.5L193.6 43.6L193.8 45.5ZM209.8 42.1L205.0 42.8L207.7 43.5L208.7 45.3ZM224.1 42.1L219.2 42.8L222.0 43.5L223.0 45.3ZM236.6 41.5L233.0 43.7L235.8 43.3L238.1 44.6ZM249.9 41.4L247.2 44.1L249.9 43.3L252.5 44.1ZM10.5 52.5L8.2 49.6L8.0 51.5L5.6 52.6ZM24.8 52.5L22.5 49.6L22.3 51.5L19.9 52.6ZM39.1 52.5L36.8 49.6L36.5 51.5L34.1 52.6ZM52.7 53.0L51.7 49.9L50.7 51.7L47.9 52.3ZM67.0 53.0L65.9 49.9L64.9 51.7L62.2 52.3ZM82.3 50.6L77.6 49.6L79.5 51.1L79.0 52.9ZM95.6 49.4L90.7 50.1L93.5 50.8L94.5 52.6ZM109.8 49.4L105.0 50.1L107.8 50.8L108.8 52.6ZM124.1 49.4L119.3 50.1L122.1 50.8L123.0 52.6ZM138.4 49.4L133.6 50.1L136.3 50.8L137.3 52.6ZM152.7 49.4L147.8 50.1L150.6 50.8L151.6 52.6ZM167.0 49.4L162.1 50.1L164.9 50.8L165.9 52.6ZM181.8 49.9L176.9 49.8L179.3 50.9L179.6 52.8ZM196.1 49.9L191.2 49.8L193.6 50.9L193.8 52.8ZM210.4 49.9L205.5 49.8L207.9 50.9L208.1 52.8ZM224.1 49.4L219.2 50.1L222.0 50.8L223.0 52.6ZM238.3 49.4L233.5 50.1L236.3 50.8L237.3 52.6ZM251.8 49.0L247.4 50.5L250.3 50.7L252.0 52.2ZM10.5 59.8L8.2 56.9L8.0 58.8L5.6 59.9ZM24.8 59.8L22.5 56.9L22.3 58.8L19.9 59.9ZM39.1 59.8L36.8 56.9L36.5 58.8L34.1 59.9ZM53.3 59.8L51.1 56.9L50.8 58.8L48.4 59.9ZM67.6 59.8L65.3 56.9L65.1 58.8L62.7 59.9ZM82.4 58.5L78.3 56.8L79.5 58.5L78.3 60.2ZM96.6 57.8L91.9 56.9L93.7 58.3L93.2 60.2ZM110.5 57.2L105.5 57.1L107.9 58.2L108.2 60.1ZM124.1 56.7L119.3 57.4L122.1 58.0L123.0 59.9ZM138.4 56.7L133.6 57.4L136.3 58.0L137.3 59.9ZM152.7 56.7L147.8 57.4L150.6 58.0L151.6 59.9ZM167.0 56.7L162.1 57.4L164.9 58.0L165.9 59.9ZM181.8 57.2L176.9 57.1L179.3 58.2L179.6 60.1ZM196.1 57.2L191.2 57.1L193.6 58.2L193.8 60.1ZM210.8 57.8L206.1 56.9L208.0 58.3L207.5 60.2ZM225.1 57.8L220.4 56.9L222.2 58.3L221.7 60.2ZM239.4 57.8L234.6 56.9L236.5 58.3L236.0 60.2ZM253.6 57.8L248.9 56.9L250.8 58.3L250.3 60.2ZM10.5 67.1L8.2 64.2L8.0 66.1L5.6 67.2ZM24.8 67.1L22.5 64.2L22.3 66.1L19.9 67.2ZM39.1 67.1L36.8 64.2L36.5 66.1L34.1 67.2ZM53.3 67.1L51.1 64.2L50.8 66.1L48.4 67.2ZM67.6 67.1L65.3 64.2L65.1 66.1L62.7 67.2ZM82.3 66.4L79.0 64.1L79.5 65.9L77.6 67.4ZM96.7 65.8L92.5 64.0L93.8 65.8L92.5 67.5ZM110.9 65.1L106.1 64.2L108.0 65.6L107.5 67.5ZM124.1 64.0L119.3 64.7L122.1 65.3L123.0 67.1ZM138.4 64.0L133.6 64.7L136.3 65.3L137.3 67.1ZM152.7 64.0L147.8 64.7L150.6 65.3L151.6 67.1ZM167.0 64.0L162.1 64.7L164.9 65.3L165.9 67.1ZM181.8 64.5L176.9 64.4L179.3 65.5L179.6 67.4ZM196.5 65.1L191.8 64.2L193.7 65.6L193.2 67.5ZM210.8 65.1L206.1 64.2L208.0 65.6L207.5 67.5ZM225.2 65.8L221.0 64.0L222.3 65.8L221.0 67.5ZM239.5 65.8L235.3 64.0L236.6 65.8L235.3 67.5ZM253.6 66.4L250.3 64.1L250.8 65.9L248.9 67.4ZM10.5 74.3L8.2 71.5L8.0 73.4L5.6 74.5ZM25.2 73.7L21.8 71.3L22.4 73.2L20.5 74.7ZM39.5 73.7L36.1 71.3L36.6 73.2L34.7 74.7ZM53.7 73.7L50.4 71.3L50.9 73.2L49.0 74.7ZM68.0 73.7L64.7 71.3L65.2 73.2L63.3 74.7ZM82.4 73.1L78.3 71.3L79.5 73.1L78.3 74.8ZM96.7 73.1L92.5 71.3L93.8 73.1L92.5 74.8ZM110.9 72.4L106.1 71.4L108.0 72.9L107.5 74.8ZM124.7 71.8L119.8 71.6L122.2 72.7L122.5 74.7ZM138.4 71.3L133.6 72.0L136.3 72.6L137.3 74.4ZM152.7 71.3L147.8 72.0L150.6 72.6L151.6 74.4ZM167.0 71.3L162.1 72.0L164.9 72.6L165.9 74.4ZM181.8 71.8L176.9 71.6L179.3 72.7L179.6 74.7ZM196.5 72.4L191.8 71.4L193.7 72.9L193.2 74.8ZM210.9 73.1L206.8 71.3L208.0 73.1L206.8 74.8ZM225.1 73.7L221.7 71.3L222.2 73.2L220.4 74.7ZM239.4 73.7L236.0 71.3L236.5 73.2L234.6 74.7ZM253.2 74.3L251.0 71.5L250.7 73.4L248.3 74.5ZM10.9 81.0L7.6 78.6L8.1 80.5L6.2 82.0ZM25.2 81.0L21.8 78.6L22.4 80.5L20.5 82.0ZM39.5 81.0L36.1 78.6L36.6 80.5L34.7 82.0ZM53.7 81.0L50.4 78.6L50.9 80.5L49.0 82.0ZM68.0 81.0L64.7 78.6L65.2 80.5L63.3 82.0ZM82.3 81.0L79.0 78.6L79.5 80.5L77.6 82.0ZM96.7 80.3L92.5 78.6L93.8 80.3L92.5 82.1ZM110.9 79.7L106.1 78.7L108.0 80.2L107.5 82.1ZM124.1 78.5L119.3 79.2L122.1 79.9L123.0 81.7ZM136.6 77.9L133.0 80.1L135.9 79.7L138.1 81.0ZM150.9 77.9L147.3 80.1L150.2 79.7L152.4 81.0ZM165.2 77.9L161.6 80.1L164.4 79.7L166.7 81.0ZM180.4 78.1L176.0 79.6L179.0 79.8L180.6 81.4ZM196.1 79.1L191.2 78.9L193.6 80.0L193.8 81.9ZM210.9 80.3L206.8 78.6L208.0 80.3L206.8 82.1ZM224.7 81.6L222.4 78.7L222.1 80.7L219.7 81.8ZM239.0 81.6L236.7 78.7L236.4 80.7L234.0 81.8ZM253.2 81.6L251.0 78.7L250.7 80.7L248.3 81.8ZM10.5 88.9L8.2 86.0L8.0 87.9L5.6 89.0ZM24.8 88.9L22.5 86.0L22.3 87.9L19.9 89.0ZM39.1 88.9L36.8 86.0L36.5 87.9L34.1 89.0ZM53.3 88.9L51.1 86.0L50.8 87.9L48.4 89.0ZM67.6 88.9L65.3 86.0L65.1 87.9L62.7 89.0ZM81.9 88.9L79.6 86.0L79.4 87.9L77.0 89.0ZM96.7 87.6L92.5 85.9L93.8 87.6L92.5 89.4ZM110.9 87.0L106.1 86.0L108.0 87.5L107.5 89.3ZM124.1 85.8L119.3 86.5L122.1 87.2L123.0 89.0ZM135.6 85.1L133.0 87.8L135.6 87.0L138.3 87.8ZM148.0 85.4L147.8 88.6L149.4 87.1L152.3 86.9ZM161.4 85.8L162.5 89.0L163.5 87.2L166.3 86.5ZM175.7 85.8L176.8 89.0L177.8 87.2L180.5 86.5ZM190.0 85.8L191.1 89.0L192.1 87.2L194.8 86.5ZM209.8 89.4L208.7 86.3L207.7 88.1L205.0 88.7ZM224.1 89.4L223.0 86.3L222.0 88.1L219.2 88.7ZM237.5 89.8L237.7 86.6L236.1 88.2L233.2 88.3ZM252.6 89.4L251.5 86.3L250.6 88.1L247.8 88.7ZM10.5 96.2L8.2 93.3L8.0 95.2L5.6 96.3ZM24.8 96.2L22.5 93.3L22.3 95.2L19.9 96.3ZM39.1 96.2L36.8 93.3L36.5 95.2L34.1 96.3ZM53.3 96.2L51.1 93.3L50.8 95.2L48.4 96.3ZM67.6 96.2L65.3 93.3L65.1 95.2L62.7 96.3ZM81.9 96.2L79.6 93.3L79.4 95.2L77.0 96.3ZM96.2 96.2L93.9 93.3L93.6 95.2L91.2 96.3ZM109.8 96.7L108.8 93.5L107.8 95.4L105.0 96.0ZM120.4 97.4L124.0 95.2L121.1 95.5L118.9 94.3ZM131.7 94.9L135.9 96.6L134.7 94.9L135.9 93.2ZM146.1 94.2L149.5 96.6L149.0 94.7L150.9 93.3ZM160.3 94.9L164.5 96.6L163.2 94.9L164.5 93.2ZM174.7 95.6L179.4 96.5L177.5 95.1L178.0 93.2ZM189.0 95.6L193.7 96.5L191.8 95.1L192.3 93.2ZM204.3 96.7L209.1 96.0L206.3 95.4L205.3 93.5ZM220.3 97.4L223.9 95.2L221.1 95.5L218.8 94.3ZM235.6 97.5L238.2 94.7L235.6 95.5L232.9 94.7ZM249.9 97.5L252.5 94.7L249.9 95.5L247.2 94.7ZM10.5 103.5L8.2 100.6L8.0 102.5L5.6 103.6ZM24.8 103.5L22.5 100.6L22.3 102.5L19.9 103.6ZM39.1 103.5L36.8 100.6L36.5 102.5L34.1 103.6ZM53.3 103.5L51.1 100.6L50.8 102.5L48.4 103.6ZM67.6 103.5L65.3 100.6L65.1 102.5L62.7 103.6ZM81.3 104.0L80.2 100.8L79.2 102.6L76.5 103.3ZM94.8 104.4L95.0 101.2L93.3 102.7L90.4 102.9ZM107.1 104.7L109.7 102.0L107.1 102.8L104.4 102.0ZM120.4 104.6L124.0 102.5L121.1 102.8L118.9 101.6ZM132.3 103.5L137.2 103.6L134.8 102.5L134.5 100.6ZM146.5 103.5L151.5 103.6L149.1 102.5L148.8 100.6ZM160.4 102.8L165.1 103.8L163.3 102.3L163.8 100.5ZM175.1 103.5L180.0 103.6L177.6 102.5L177.4 100.6ZM189.4 103.5L194.3 103.6L191.9 102.5L191.7 100.6ZM204.3 104.0L209.1 103.3L206.3 102.6L205.3 100.8ZM219.4 104.4L223.7 102.9L220.8 102.7L219.1 101.2ZM233.6 104.4L238.0 102.9L235.1 102.7L233.4 101.2ZM248.9 104.6L252.5 102.5L249.6 102.8L247.4 101.6ZM10.5 110.7L8.2 107.9L8.0 109.8L5.6 110.9ZM24.8 110.7L22.5 107.9L22.3 109.8L19.9 110.9ZM39.1 110.7L36.8 107.9L36.5 109.8L34.1 110.9ZM53.3 110.7L51.1 107.9L50.8 109.8L48.4 110.9ZM67.0 111.3L65.9 108.1L64.9 109.9L62.2 110.6ZM81.3 111.3L80.2 108.1L79.2 109.9L76.5 110.6ZM93.8 111.9L95.3 108.8L93.1 110.1L90.2 109.7ZM107.1 112.0L109.7 109.3L107.1 110.1L104.4 109.3ZM120.4 111.9L124.0 109.7L121.1 110.1L118.9 108.8ZM133.7 111.7L138.1 110.2L135.2 110.0L133.5 108.4ZM147.2 111.3L152.0 110.6L149.2 109.9L148.2 108.1ZM160.8 110.7L165.8 110.9L163.4 109.8L163.1 107.9ZM175.1 110.7L180.0 110.9L177.6 109.8L177.4 107.9ZM189.4 110.7L194.3 110.9L191.9 109.8L191.7 107.9ZM204.3 111.3L209.1 110.6L206.3 109.9L205.3 108.1ZM218.5 111.3L223.4 110.6L220.6 109.9L219.6 108.1ZM232.8 111.3L237.7 110.6L234.9 109.9L233.9 108.1ZM247.1 111.3L251.9 110.6L249.2 109.9L248.2 108.1ZM10.5 118.0L8.2 115.1L8.0 117.1L5.6 118.2ZM24.8 118.0L22.5 115.1L22.3 117.1L19.9 118.2ZM39.1 118.0L36.8 115.1L36.5 117.1L34.1 118.2ZM53.3 118.0L51.1 115.1L50.8 117.1L48.4 118.2ZM67.0 118.5L65.9 115.4L64.9 117.2L62.2 117.8ZM81.3 118.5L80.2 115.4L79.2 117.2L76.5 117.8ZM93.8 119.2L95.3 116.1L93.1 117.4L90.2 117.0ZM107.1 119.3L109.7 116.6L107.1 117.4L104.4 116.6ZM120.4 119.2L124.0 117.0L121.1 117.4L118.9 116.1ZM133.7 118.9L138.1 117.5L135.2 117.3L133.5 115.7ZM147.2 118.5L152.0 117.8L149.2 117.2L148.2 115.4ZM160.8 118.0L165.8 118.2L163.4 117.1L163.1 115.1ZM175.1 118.0L180.0 118.2L177.6 117.1L177.4 115.1ZM189.4 118.0L194.3 118.2L191.9 117.1L191.7 115.1ZM203.7 118.0L208.6 118.2L206.2 117.1L205.9 115.1ZM218.5 118.5L223.4 117.8L220.6 117.2L219.6 115.4ZM232.8 118.5L237.7 117.8L234.9 117.2L233.9 115.4ZM247.1 118.5L251.9 117.8L249.2 117.2L248.2 115.4ZM10.5 125.3L8.2 122.4L8.0 124.3L5.6 125.4ZM24.8 125.3L22.5 122.4L22.3 124.3L19.9 125.4ZM39.1 125.3L36.8 122.4L36.5 124.3L34.1 125.4ZM52.7 125.8L51.7 122.7L50.7 124.5L47.9 125.1ZM67.0 125.8L65.9 122.7L64.9 124.5L62.2 125.1ZM80.5 126.2L80.7 123.0L79.0 124.6L76.1 124.7ZM93.8 126.5L95.3 123.4L93.1 124.6L90.2 124.3ZM107.1 126.6L109.7 123.8L107.1 124.7L104.4 123.8ZM120.4 126.5L124.0 124.3L121.1 124.6L118.9 123.4ZM133.7 126.2L138.1 124.7L135.2 124.6L133.5 123.0ZM147.2 125.8L152.0 125.1L149.2 124.5L148.2 122.7ZM160.8 125.3L165.8 125.4L163.4 124.3L163.1 122.4ZM175.1 125.3L180.0 125.4L177.6 124.3L177.4 122.4ZM189.4 125.3L194.3 125.4L191.9 124.3L191.7 122.4ZM203.7 125.3L208.6 125.4L206.2 124.3L205.9 122.4ZM218.5 125.8L223.4 125.1L220.6 124.5L219.6 122.7ZM232.8 125.8L237.7 125.1L234.9 124.5L233.9 122.7ZM247.1 125.8L251.9 125.1L249.2 124.5L248.2 122.7ZM11.0 131.3L6.9 129.6L8.1 131.3L6.9 133.0ZM24.8 132.6L22.5 129.7L22.3 131.6L19.9 132.7ZM39.1 132.6L36.8 129.7L36.5 131.6L34.1 132.7ZM52.7 133.1L51.7 129.9L50.7 131.8L47.9 132.4ZM67.0 133.1L65.9 129.9L64.9 131.8L62.2 132.4ZM80.5 133.5L80.7 130.3L79.0 131.9L76.1 132.0ZM93.8 133.8L95.3 130.7L93.1 131.9L90.2 131.6ZM107.1 133.9L109.7 131.1L107.1 131.9L104.4 131.1ZM121.4 133.9L124.0 131.1L121.4 131.9L118.7 131.1ZM132.9 133.1L137.7 132.4L134.9 131.8L134.0 129.9ZM146.5 132.6L151.5 132.7L149.1 131.6L148.8 129.7ZM160.8 132.6L165.8 132.7L163.4 131.6L163.1 129.7ZM175.1 132.6L180.0 132.7L177.6 131.6L177.4 129.7ZM189.4 132.6L194.3 132.7L191.9 131.6L191.7 129.7ZM203.7 132.6L208.6 132.7L206.2 131.6L205.9 129.7ZM217.9 132.6L222.9 132.7L220.5 131.6L220.2 129.7ZM232.2 132.6L237.1 132.7L234.7 131.6L234.5 129.7ZM246.5 132.6L251.4 132.7L249.0 131.6L248.8 129.7Z" fill="#000"/>
<path d="M11.1 22.2L18.7 14.4L26.9 14.6L32.5 21.9L23 30.5L21.5 31.3L15 27.5Z" fill="none" stroke="#000" stroke-width="1.2" stroke-linejoin="round"/>
<path d="M0 0H257.00V138.30H0Z M48.7 0.0L50.0 4.8L64.2 41.8L78.5 70.5L92.8 94.0L107.1 113.8L121.4 131.0L135.6 131.0L149.9 113.8L164.2 94.0L178.5 70.5L192.8 41.8L207.0 4.8L208.3 0.0Z" fill="#fff" fill-opacity="0.5" fill-rule="evenodd"/>
<path d="M48.7 0.0L50.0 4.8L64.2 41.8L78.5 70.5L92.8 94.0L107.1 113.8L121.4 131.0L135.6 131.0L149.9 113.8L164.2 94.0L178.5 70.5L192.8 41.8L207.0 4.8L208.3 0.0" fill="none" stroke="#000" stroke-width="0.75"/>
</g>
<rect x="0" y="0" width="257.00" height="138.30" fill="none" stroke="#262626" stroke-width="0.8"/>
<path d="M7.14 138.30v-2.6M7.14 0v2.6M35.69 138.30v-2.6M35.69 0v2.6M64.25 138.30v-2.6M64.25 0v2.6M92.81 138.30v-2.6M92.81 0v2.6M121.36 138.30v-2.6M121.36 0v2.6M149.92 138.30v-2.6M149.92 0v2.6M178.47 138.30v-2.6M178.47 0v2.6M207.03 138.30v-2.6M207.03 0v2.6M235.58 138.30v-2.6M235.58 0v2.6M0 83.30h2.6M257.00 83.30h-2.6" stroke="#262626" stroke-width="0.8" fill="none"/>
<text x="7.14" y="148.50" text-anchor="middle" font-size="8.5" class="t">2002</text>
<text x="35.69" y="148.50" text-anchor="middle" font-size="8.5" class="t">2004</text>
<text x="64.25" y="148.50" text-anchor="middle" font-size="8.5" class="t">2006</text>
<text x="92.81" y="148.50" text-anchor="middle" font-size="8.5" class="t">2008</text>
<text x="121.36" y="148.50" text-anchor="middle" font-size="8.5" class="t">2010</text>
<text x="149.92" y="148.50" text-anchor="middle" font-size="8.5" class="t">2012</text>
<text x="178.47" y="148.50" text-anchor="middle" font-size="8.5" class="t">2014</text>
<text x="207.03" y="148.50" text-anchor="middle" font-size="8.5" class="t">2016</text>
<text x="235.58" y="148.50" text-anchor="middle" font-size="8.5" class="t">2018</text>
<text x="-2" y="86.60" text-anchor="end" font-size="8.5" class="t">4</text>
<text transform="translate(-8.9,69.45) rotate(-90)" text-anchor="middle" font-size="9.35" class="t">Period</text>
<rect x="259.20" y="0.2" width="3.70" height="138.10" fill="url(#pg)"/>
<text x="264.50" y="3.90" font-size="8.5" class="t">3</text>
<text x="264.50" y="26.92" font-size="8.5" class="t">2</text>
<text x="264.50" y="49.93" font-size="8.5" class="t">1</text>
<text x="264.50" y="72.95" font-size="8.5" class="t">0</text>
<text x="264.50" y="95.97" font-size="8.5" class="t">-1</text>
<text x="264.50" y="118.98" font-size="8.5" class="t">-2</text>
<text x="264.50" y="142.00" font-size="8.5" class="t">-3</text>
<text x="265.80" y="-2.8" text-anchor="end" font-size="8.5" class="t">Spectral Intensity</text>
</g>
<g transform="translate(409.80,8.30)">
<clipPath id="cb"><rect x="0" y="0" width="257.00" height="138.30"/></clipPath>
<g clip-path="url(#cb)">
<g shape-rendering="crispEdges">
<rect x="-0.2" y="-0.2" width="43.2" height="4.3" fill="#f6f21e"/>
<rect x="42.6" y="-0.2" width="29.0" height="4.3" fill="#f9fb15"/>
<rect x="71.2" y="-0.2" width="14.7" height="4.3" fill="#f6f21e"/>
<rect x="85.5" y="-0.2" width="29.0" height="4.3" fill="#fad42e"/>
<rect x="114.0" y="-0.2" width="29.0" height="4.3" fill="#fec13a"/>
<rect x="142.6" y="-0.2" width="14.7" height="4.3" fill="#c8c129"/>
<rect x="156.9" y="-0.2" width="14.7" height="4.3" fill="#71cd64"/>
<rect x="171.1" y="-0.2" width="14.7" height="4.3" fill="#2fc5a2"/>
<rect x="185.4" y="-0.2" width="14.7" height="4.3" fill="#05b6ce"/>
<rect x="199.7" y="-0.2" width="14.7" height="4.3" fill="#259ce7"/>
<rect x="214.0" y="-0.2" width="14.7" height="4.3" fill="#2d8cf3"/>
<rect x="228.2" y="-0.2" width="14.7" height="4.3" fill="#347afd"/>
<rect x="242.5" y="-0.2" width="14.7" height="4.3" fill="#4367fd"/>
<rect x="-0.2" y="3.7" width="71.8" height="7.7" fill="#f6f21e"/>
<rect x="71.2" y="3.7" width="14.7" height="7.7" fill="#f5e825"/>
<rect x="85.5" y="3.7" width="14.7" height="7.7" fill="#fad42e"/>
<rect x="99.7" y="3.7" width="14.7" height="7.7" fill="#feca33"/>
<rect x="114.0" y="3.7" width="29.0" height="7.7" fill="#fec13a"/>
<rect x="142.6" y="3.7" width="14.7" height="7.7" fill="#c8c129"/>
<rect x="156.9" y="3.7" width="14.7" height="7.7" fill="#71cd64"/>
<rect x="171.1" y="3.7" width="14.7" height="7.7" fill="#2fc5a2"/>
<rect x="185.4" y="3.7" width="14.7" height="7.7" fill="#05b6ce"/>
<rect x="199.7" y="3.7" width="14.7" height="7.7" fill="#259ce7"/>
<rect x="214.0" y="3.7" width="14.7" height="7.7" fill="#2d8cf3"/>
<rect x="228.2" y="3.7" width="14.7" height="7.7" fill="#347afd"/>
<rect x="242.5" y="3.7" width="14.7" height="7.7" fill="#4367fd"/>
<rect x="-0.2" y="11.0" width="14.7" height="7.7" fill="#f5e825"/>
<rect x="14.1" y="11.0" width="29.0" height="7.7" fill="#f6f21e"/>
<rect x="42.6" y="11.0" width="29.0" height="7.7" fill="#f5e825"/>
<rect x="71.2" y="11.0" width="14.7" height="7.7" fill="#fad42e"/>
<rect x="85.5" y="11.0" width="14.7" height="7.7" fill="#f6de29"/>
<rect x="99.7" y="11.0" width="29.0" height="7.7" fill="#fec13a"/>
<rect x="128.3" y="11.0" width="14.7" height="7.7" fill="#eaba31"/>
<rect x="142.6" y="11.0" width="14.7" height="7.7" fill="#9fc942"/>
<rect x="156.9" y="11.0" width="14.7" height="7.7" fill="#48cb86"/>
<rect x="171.1" y="11.0" width="14.7" height="7.7" fill="#24c2ae"/>
<rect x="185.4" y="11.0" width="14.7" height="7.7" fill="#05b6ce"/>
<rect x="199.7" y="11.0" width="14.7" height="7.7" fill="#1caadf"/>
<rect x="214.0" y="11.0" width="14.7" height="7.7" fill="#259ce7"/>
<rect x="228.2" y="11.0" width="14.7" height="7.7" fill="#2d8cf3"/>
<rect x="242.5" y="11.0" width="14.7" height="7.7" fill="#347afd"/>
<rect x="-0.2" y="18.3" width="14.7" height="7.7" fill="#fad42e"/>
<rect x="14.1" y="18.3" width="29.0" height="7.7" fill="#f5e825"/>
<rect x="42.6" y="18.3" width="14.7" height="7.7" fill="#f6de29"/>
<rect x="56.9" y="18.3" width="14.7" height="7.7" fill="#fad42e"/>
<rect x="71.2" y="18.3" width="14.7" height="7.7" fill="#feca33"/>
<rect x="85.5" y="18.3" width="29.0" height="7.7" fill="#fec13a"/>
<rect x="114.0" y="18.3" width="14.7" height="7.7" fill="#f8ba3d"/>
<rect x="128.3" y="18.3" width="14.7" height="7.7" fill="#b4c533"/>
<rect x="142.6" y="18.3" width="14.7" height="7.7" fill="#71cd64"/>
<rect x="156.9" y="18.3" width="14.7" height="7.7" fill="#39c895"/>
<rect x="171.1" y="18.3" width="14.7" height="7.7" fill="#24c2ae"/>
<rect x="185.4" y="18.3" width="14.7" height="7.7" fill="#02bac4"/>
<rect x="199.7" y="18.3" width="14.7" height="7.7" fill="#1caadf"/>
<rect x="214.0" y="18.3" width="14.7" height="7.7" fill="#259ce7"/>
<rect x="228.2" y="18.3" width="14.7" height="7.7" fill="#2994ed"/>
<rect x="242.5" y="18.3" width="14.7" height="7.7" fill="#2d8cf3"/>
<rect x="-0.2" y="25.5" width="14.7" height="7.7" fill="#fad42e"/>
<rect x="14.1" y="25.5" width="14.7" height="7.7" fill="#feca33"/>
<rect x="28.4" y="25.5" width="14.7" height="7.7" fill="#fad42e"/>
<rect x="42.6" y="25.5" width="14.7" height="7.7" fill="#fec13a"/>
<rect x="56.9" y="25.5" width="14.7" height="7.7" fill="#feca33"/>
<rect x="71.2" y="25.5" width="14.7" height="7.7" fill="#fec13a"/>
<rect x="85.5" y="25.5" width="14.7" height="7.7" fill="#f8ba3d"/>
<rect x="99.7" y="25.5" width="14.7" height="7.7" fill="#dabd28"/>
<rect x="114.0" y="25.5" width="14.7" height="7.7" fill="#b4c533"/>
<rect x="128.3" y="25.5" width="14.7" height="7.7" fill="#88cb53"/>
<rect x="142.6" y="25.5" width="14.7" height="7.7" fill="#71cd64"/>
<rect x="156.9" y="25.5" width="14.7" height="7.7" fill="#5ccc76"/>
<rect x="171.1" y="25.5" width="14.7" height="7.7" fill="#39c895"/>
<rect x="185.4" y="25.5" width="14.7" height="7.7" fill="#2fc5a2"/>
<rect x="199.7" y="25.5" width="14.7" height="7.7" fill="#12beb9"/>
<rect x="214.0" y="25.5" width="14.7" height="7.7" fill="#05b6ce"/>
<rect x="228.2" y="25.5" width="14.7" height="7.7" fill="#13b0d7"/>
<rect x="242.5" y="25.5" width="14.7" height="7.7" fill="#1caadf"/>
<rect x="-0.2" y="32.8" width="14.7" height="7.7" fill="#fad42e"/>
<rect x="14.1" y="32.8" width="14.7" height="7.7" fill="#fec13a"/>
<rect x="28.4" y="32.8" width="14.7" height="7.7" fill="#feca33"/>
<rect x="42.6" y="32.8" width="14.7" height="7.7" fill="#fec13a"/>
<rect x="56.9" y="32.8" width="14.7" height="7.7" fill="#f8ba3d"/>
<rect x="71.2" y="32.8" width="14.7" height="7.7" fill="#eaba31"/>
<rect x="85.5" y="32.8" width="14.7" height="7.7" fill="#c8c129"/>
<rect x="99.7" y="32.8" width="14.7" height="7.7" fill="#9fc942"/>
<rect x="114.0" y="32.8" width="14.7" height="7.7" fill="#88cb53"/>
<rect x="128.3" y="32.8" width="14.7" height="7.7" fill="#71cd64"/>
<rect x="142.6" y="32.8" width="14.7" height="7.7" fill="#9fc942"/>
<rect x="156.9" y="32.8" width="14.7" height="7.7" fill="#88cb53"/>
<rect x="171.1" y="32.8" width="14.7" height="7.7" fill="#71cd64"/>
<rect x="185.4" y="32.8" width="29.0" height="7.7" fill="#5ccc76"/>
<rect x="214.0" y="32.8" width="14.7" height="7.7" fill="#39c895"/>
<rect x="228.2" y="32.8" width="14.7" height="7.7" fill="#2fc5a2"/>
<rect x="242.5" y="32.8" width="14.7" height="7.7" fill="#24c2ae"/>
<rect x="-0.2" y="40.1" width="14.7" height="7.7" fill="#feca33"/>
<rect x="14.1" y="40.1" width="14.7" height="7.7" fill="#fec13a"/>
<rect x="28.4" y="40.1" width="14.7" height="7.7" fill="#feca33"/>
<rect x="42.6" y="40.1" width="14.7" height="7.7" fill="#f8ba3d"/>
<rect x="56.9" y="40.1" width="14.7" height="7.7" fill="#eaba31"/>
<rect x="71.2" y="40.1" width="14.7" height="7.7" fill="#b4c533"/>
<rect x="85.5" y="40.1" width="14.7" height="7.7" fill="#88cb53"/>
<rect x="99.7" y="40.1" width="29.0" height="7.7" fill="#71cd64"/>
<rect x="128.3" y="40.1" width="14.7" height="7.7" fill="#9fc942"/>
<rect x="142.6" y="40.1" width="14.7" height="7.7" fill="#dabd28"/>
<rect x="156.9" y="40.1" width="14.7" height="7.7" fill="#eaba31"/>
<rect x="171.1" y="40.1" width="14.7" height="7.7" fill="#dabd28"/>
<rect x="185.4" y="40.1" width="29.0" height="7.7" fill="#c8c129"/>
<rect x="214.0" y="40.1" width="14.7" height="7.7" fill="#9fc942"/>
<rect x="228.2" y="40.1" width="14.7" height="7.7" fill="#88cb53"/>
<rect x="242.5" y="40.1" width="14.7" height="7.7" fill="#71cd64"/>
<rect x="-0.2" y="47.4" width="14.7" height="7.7" fill="#feca33"/>
<rect x="14.1" y="47.4" width="14.7" height="7.7" fill="#fec13a"/>
<rect x="28.4" y="47.4" width="14.7" height="7.7" fill="#feca33"/>
<rect x="42.6" y="47.4" width="14.7" height="7.7" fill="#dabd28"/>
<rect x="56.9" y="47.4" width="14.7" height="7.7" fill="#b4c533"/>
<rect x="71.2" y="47.4" width="14.7" height="7.7" fill="#71cd64"/>
<rect x="85.5" y="47.4" width="14.7" height="7.7" fill="#5ccc76"/>
<rect x="99.7" y="47.4" width="29.0" height="7.7" fill="#48cb86"/>
<rect x="128.3" y="47.4" width="14.7" height="7.7" fill="#b4c533"/>
<rect x="142.6" y="47.4" width="14.7" height="7.7" fill="#eaba31"/>
<rect x="156.9" y="47.4" width="29.0" height="7.7" fill="#f8ba3d"/>
<rect x="185.4" y="47.4" width="29.0" height="7.7" fill="#eaba31"/>
<rect x="214.0" y="47.4" width="14.7" height="7.7" fill="#dabd28"/>
<rect x="228.2" y="47.4" width="14.7" height="7.7" fill="#b4c533"/>
<rect x="242.5" y="47.4" width="14.7" height="7.7" fill="#9fc942"/>
<rect x="-0.2" y="54.7" width="14.7" height="7.7" fill="#feca33"/>
<rect x="14.1" y="54.7" width="14.7" height="7.7" fill="#fec13a"/>
<rect x="28.4" y="54.7" width="14.7" height="7.7" fill="#f8ba3d"/>
<rect x="42.6" y="54.7" width="14.7" height="7.7" fill="#b4c533"/>
<rect x="56.9" y="54.7" width="14.7" height="7.7" fill="#5ccc76"/>
<rect x="71.2" y="54.7" width="14.7" height="7.7" fill="#39c895"/>
<rect x="85.5" y="54.7" width="29.0" height="7.7" fill="#2fc5a2"/>
<rect x="114.0" y="54.7" width="14.7" height="7.7" fill="#39c895"/>
<rect x="128.3" y="54.7" width="14.7" height="7.7" fill="#9fc942"/>
<rect x="142.6" y="54.7" width="14.7" height="7.7" fill="#c8c129"/>
<rect x="156.9" y="54.7" width="14.7" height="7.7" fill="#dabd28"/>
<rect x="171.1" y="54.7" width="14.7" height="7.7" fill="#c8c129"/>
<rect x="185.4" y="54.7" width="14.7" height="7.7" fill="#dabd28"/>
<rect x="199.7" y="54.7" width="14.7" height="7.7" fill="#c8c129"/>
<rect x="214.0" y="54.7" width="14.7" height="7.7" fill="#b4c533"/>
<rect x="228.2" y="54.7" width="14.7" height="7.7" fill="#9fc942"/>
<rect x="242.5" y="54.7" width="14.7" height="7.7" fill="#88cb53"/>
<rect x="-0.2" y="61.9" width="14.7" height="7.7" fill="#feca33"/>
<rect x="14.1" y="61.9" width="14.7" height="7.7" fill="#fec13a"/>
<rect x="28.4" y="61.9" width="14.7" height="7.7" fill="#eaba31"/>
<rect x="42.6" y="61.9" width="14.7" height="7.7" fill="#88cb53"/>
<rect x="56.9" y="61.9" width="14.7" height="7.7" fill="#2fc5a2"/>
<rect x="71.2" y="61.9" width="57.5" height="7.7" fill="#12beb9"/>
<rect x="128.3" y="61.9" width="14.7" height="7.7" fill="#39c895"/>
<rect x="142.6" y="61.9" width="29.0" height="7.7" fill="#5ccc76"/>
<rect x="171.1" y="61.9" width="14.7" height="7.7" fill="#71cd64"/>
<rect x="185.4" y="61.9" width="14.7" height="7.7" fill="#5ccc76"/>
<rect x="199.7" y="61.9" width="14.7" height="7.7" fill="#48cb86"/>
<rect x="214.0" y="61.9" width="14.7" height="7.7" fill="#39c895"/>
<rect x="228.2" y="61.9" width="29.0" height="7.7" fill="#2fc5a2"/>
<rect x="-0.2" y="69.2" width="29.0" height="7.7" fill="#fec13a"/>
<rect x="28.4" y="69.2" width="14.7" height="7.7" fill="#dabd28"/>
<rect x="42.6" y="69.2" width="14.7" height="7.7" fill="#71cd64"/>
<rect x="56.9" y="69.2" width="14.7" height="7.7" fill="#02bac4"/>
<rect x="71.2" y="69.2" width="14.7" height="7.7" fill="#05b6ce"/>
<rect x="85.5" y="69.2" width="14.7" height="7.7" fill="#13b0d7"/>
<rect x="99.7" y="69.2" width="14.7" height="7.7" fill="#1caadf"/>
<rect x="114.0" y="69.2" width="14.7" height="7.7" fill="#21a3e3"/>
<rect x="128.3" y="69.2" width="14.7" height="7.7" fill="#05b6ce"/>
<rect x="142.6" y="69.2" width="43.2" height="7.7" fill="#02bac4"/>
<rect x="185.4" y="69.2" width="43.2" height="7.7" fill="#05b6ce"/>
<rect x="228.2" y="69.2" width="29.0" height="7.7" fill="#13b0d7"/>
<rect x="-0.2" y="76.5" width="14.7" height="7.7" fill="#fec13a"/>
<rect x="14.1" y="76.5" width="14.7" height="7.7" fill="#f8ba3d"/>
<rect x="28.4" y="76.5" width="14.7" height="7.7" fill="#b4c533"/>
<rect x="42.6" y="76.5" width="14.7" height="7.7" fill="#5ccc76"/>
<rect x="56.9" y="76.5" width="14.7" height="7.7" fill="#05b6ce"/>
<rect x="71.2" y="76.5" width="14.7" height="7.7" fill="#1caadf"/>
<rect x="85.5" y="76.5" width="14.7" height="7.7" fill="#21a3e3"/>
<rect x="99.7" y="76.5" width="14.7" height="7.7" fill="#2994ed"/>
<rect x="114.0" y="76.5" width="14.7" height="7.7" fill="#2d8cf3"/>
<rect x="128.3" y="76.5" width="14.7" height="7.7" fill="#2994ed"/>
<rect x="142.6" y="76.5" width="14.7" height="7.7" fill="#259ce7"/>
<rect x="156.9" y="76.5" width="14.7" height="7.7" fill="#2994ed"/>
<rect x="171.1" y="76.5" width="14.7" height="7.7" fill="#2d8cf3"/>
<rect x="185.4" y="76.5" width="29.0" height="7.7" fill="#2e83f9"/>
<rect x="214.0" y="76.5" width="43.2" height="7.7" fill="#2d8cf3"/>
<rect x="-0.2" y="83.8" width="14.7" height="7.7" fill="#f8ba3d"/>
<rect x="14.1" y="83.8" width="14.7" height="7.7" fill="#eaba31"/>
<rect x="28.4" y="83.8" width="14.7" height="7.7" fill="#9fc942"/>
<rect x="42.6" y="83.8" width="14.7" height="7.7" fill="#48cb86"/>
<rect x="56.9" y="83.8" width="14.7" height="7.7" fill="#05b6ce"/>
<rect x="71.2" y="83.8" width="14.7" height="7.7" fill="#259ce7"/>
<rect x="85.5" y="83.8" width="14.7" height="7.7" fill="#2d8cf3"/>
<rect x="99.7" y="83.8" width="14.7" height="7.7" fill="#347afd"/>
<rect x="114.0" y="83.8" width="57.5" height="7.7" fill="#4367fd"/>
<rect x="171.1" y="83.8" width="29.0" height="7.7" fill="#484cef"/>
<rect x="199.7" y="83.8" width="29.0" height="7.7" fill="#4755f6"/>
<rect x="228.2" y="83.8" width="14.7" height="7.7" fill="#465efb"/>
<rect x="242.5" y="83.8" width="14.7" height="7.7" fill="#4367fd"/>
<rect x="-0.2" y="91.1" width="14.7" height="7.7" fill="#eaba31"/>
<rect x="14.1" y="91.1" width="14.7" height="7.7" fill="#c8c129"/>
<rect x="28.4" y="91.1" width="14.7" height="7.7" fill="#88cb53"/>
<rect x="42.6" y="91.1" width="14.7" height="7.7" fill="#39c895"/>
<rect x="56.9" y="91.1" width="14.7" height="7.7" fill="#05b6ce"/>
<rect x="71.2" y="91.1" width="14.7" height="7.7" fill="#259ce7"/>
<rect x="85.5" y="91.1" width="14.7" height="7.7" fill="#2d8cf3"/>
<rect x="99.7" y="91.1" width="14.7" height="7.7" fill="#3d70ff"/>
<rect x="114.0" y="91.1" width="29.0" height="7.7" fill="#4755f6"/>
<rect x="142.6" y="91.1" width="29.0" height="7.7" fill="#4743e7"/>
<rect x="171.1" y="91.1" width="29.0" height="7.7" fill="#4433cc"/>
<rect x="199.7" y="91.1" width="14.7" height="7.7" fill="#463adc"/>
<rect x="214.0" y="91.1" width="29.0" height="7.7" fill="#4743e7"/>
<rect x="242.5" y="91.1" width="14.7" height="7.7" fill="#484cef"/>
<rect x="-0.2" y="98.3" width="14.7" height="7.7" fill="#c8c129"/>
<rect x="14.1" y="98.3" width="14.7" height="7.7" fill="#b4c533"/>
<rect x="28.4" y="98.3" width="14.7" height="7.7" fill="#71cd64"/>
<rect x="42.6" y="98.3" width="14.7" height="7.7" fill="#24c2ae"/>
<rect x="56.9" y="98.3" width="14.7" height="7.7" fill="#05b6ce"/>
<rect x="71.2" y="98.3" width="14.7" height="7.7" fill="#21a3e3"/>
<rect x="85.5" y="98.3" width="14.7" height="7.7" fill="#2d8cf3"/>
<rect x="99.7" y="98.3" width="14.7" height="7.7" fill="#2e83f9"/>
<rect x="114.0" y="98.3" width="14.7" height="7.7" fill="#4367fd"/>
<rect x="128.3" y="98.3" width="14.7" height="7.7" fill="#4755f6"/>
<rect x="142.6" y="98.3" width="14.7" height="7.7" fill="#4743e7"/>
<rect x="156.9" y="98.3" width="14.7" height="7.7" fill="#484cef"/>
<rect x="171.1" y="98.3" width="29.0" height="7.7" fill="#4743e7"/>
<rect x="199.7" y="98.3" width="14.7" height="7.7" fill="#484cef"/>
<rect x="214.0" y="98.3" width="43.2" height="7.7" fill="#4755f6"/>
<rect x="-0.2" y="105.6" width="14.7" height="7.7" fill="#9fc942"/>
<rect x="14.1" y="105.6" width="14.7" height="7.7" fill="#88cb53"/>
<rect x="28.4" y="105.6" width="14.7" height="7.7" fill="#5ccc76"/>
<rect x="42.6" y="105.6" width="14.7" height="7.7" fill="#24c2ae"/>
<rect x="56.9" y="105.6" width="14.7" height="7.7" fill="#05b6ce"/>
<rect x="71.2" y="105.6" width="14.7" height="7.7" fill="#1caadf"/>
<rect x="85.5" y="105.6" width="14.7" height="7.7" fill="#259ce7"/>
<rect x="99.7" y="105.6" width="29.0" height="7.7" fill="#2994ed"/>
<rect x="128.3" y="105.6" width="14.7" height="7.7" fill="#347afd"/>
<rect x="142.6" y="105.6" width="14.7" height="7.7" fill="#3d70ff"/>
<rect x="156.9" y="105.6" width="29.0" height="7.7" fill="#4367fd"/>
<rect x="185.4" y="105.6" width="14.7" height="7.7" fill="#3d70ff"/>
<rect x="199.7" y="105.6" width="29.0" height="7.7" fill="#347afd"/>
<rect x="228.2" y="105.6" width="29.0" height="7.7" fill="#2e83f9"/>
<rect x="-0.2" y="112.9" width="29.0" height="7.7" fill="#71cd64"/>
<rect x="28.4" y="112.9" width="14.7" height="7.7" fill="#48cb86"/>
<rect x="42.6" y="112.9" width="14.7" height="7.7" fill="#2fc5a2"/>
<rect x="56.9" y="112.9" width="14.7" height="7.7" fill="#02bac4"/>
<rect x="71.2" y="112.9" width="14.7" height="7.7" fill="#05b6ce"/>
<rect x="85.5" y="112.9" width="14.7" height="7.7" fill="#13b0d7"/>
<rect x="99.7" y="112.9" width="14.7" height="7.7" fill="#1caadf"/>
<rect x="114.0" y="112.9" width="14.7" height="7.7" fill="#05b6ce"/>
<rect x="128.3" y="112.9" width="14.7" height="7.7" fill="#259ce7"/>
<rect x="142.6" y="112.9" width="14.7" height="7.7" fill="#21a3e3"/>
<rect x="156.9" y="112.9" width="14.7" height="7.7" fill="#05b6ce"/>
<rect x="171.1" y="112.9" width="14.7" height="7.7" fill="#02bac4"/>
<rect x="185.4" y="112.9" width="14.7" height="7.7" fill="#12beb9"/>
<rect x="199.7" y="112.9" width="14.7" height="7.7" fill="#24c2ae"/>
<rect x="214.0" y="112.9" width="14.7" height="7.7" fill="#2fc5a2"/>
<rect x="228.2" y="112.9" width="14.7" height="7.7" fill="#39c895"/>
<rect x="242.5" y="112.9" width="14.7" height="7.7" fill="#48cb86"/>
<rect x="-0.2" y="120.2" width="29.0" height="7.7" fill="#5ccc76"/>
<rect x="28.4" y="120.2" width="14.7" height="7.7" fill="#48cb86"/>
<rect x="42.6" y="120.2" width="14.7" height="7.7" fill="#39c895"/>
<rect x="56.9" y="120.2" width="14.7" height="7.7" fill="#24c2ae"/>
<rect x="71.2" y="120.2" width="29.0" height="7.7" fill="#12beb9"/>
<rect x="99.7" y="120.2" width="43.2" height="7.7" fill="#02bac4"/>
<rect x="142.6" y="120.2" width="14.7" height="7.7" fill="#24c2ae"/>
<rect x="156.9" y="120.2" width="14.7" height="7.7" fill="#48cb86"/>
<rect x="171.1" y="120.2" width="14.7" height="7.7" fill="#71cd64"/>
<rect x="185.4" y="120.2" width="14.7" height="7.7" fill="#88cb53"/>
<rect x="199.7" y="120.2" width="14.7" height="7.7" fill="#9fc942"/>
<rect x="214.0" y="120.2" width="14.7" height="7.7" fill="#b4c533"/>
<rect x="228.2" y="120.2" width="29.0" height="7.7" fill="#c8c129"/>
<rect x="-0.2" y="127.5" width="29.0" height="7.7" fill="#71cd64"/>
<rect x="28.4" y="127.5" width="14.7" height="7.7" fill="#5ccc76"/>
<rect x="42.6" y="127.5" width="14.7" height="7.7" fill="#48cb86"/>
<rect x="56.9" y="127.5" width="14.7" height="7.7" fill="#39c895"/>
<rect x="71.2" y="127.5" width="71.8" height="7.7" fill="#2fc5a2"/>
<rect x="142.6" y="127.5" width="14.7" height="7.7" fill="#5ccc76"/>
<rect x="156.9" y="127.5" width="14.7" height="7.7" fill="#88cb53"/>
<rect x="171.1" y="127.5" width="14.7" height="7.7" fill="#b4c533"/>
<rect x="185.4" y="127.5" width="14.7" height="7.7" fill="#c8c129"/>
<rect x="199.7" y="127.5" width="14.7" height="7.7" fill="#dabd28"/>
<rect x="214.0" y="127.5" width="29.0" height="7.7" fill="#eaba31"/>
<rect x="242.5" y="127.5" width="14.7" height="7.7" fill="#dabd28"/>
<rect x="-0.2" y="134.7" width="29.0" height="3.8" fill="#88cb53"/>
<rect x="28.4" y="134.7" width="14.7" height="3.8" fill="#71cd64"/>
<rect x="42.6" y="134.7" width="29.0" height="3.8" fill="#5ccc76"/>
<rect x="71.2" y="134.7" width="29.0" height="3.8" fill="#48cb86"/>
<rect x="99.7" y="134.7" width="43.2" height="3.8" fill="#5ccc76"/>
<rect x="142.6" y="134.7" width="14.7" height="3.8" fill="#b4c533"/>
<rect x="156.9" y="134.7" width="14.7" height="3.8" fill="#c8c129"/>
<rect x="171.1" y="134.7" width="14.7" height="3.8" fill="#eaba31"/>
<rect x="185.4" y="134.7" width="14.7" height="3.8" fill="#f8ba3d"/>
<rect x="199.7" y="134.7" width="14.7" height="3.8" fill="#fec13a"/>
<rect x="214.0" y="134.7" width="14.7" height="3.8" fill="#feca33"/>
<rect x="228.2" y="134.7" width="14.7" height="3.8" fill="#fec13a"/>
<rect x="242.5" y="134.7" width="14.7" height="3.8" fill="#eaba31"/>
</g>
<path d="M3.4 -0.4L8.1 0.5M17.6 -0.4L22.4 0.5M31.9 -0.4L36.6 0.5M46.2 -0.4L50.9 0.5M60.4 0.3L65.2 0.3M74.6 0.3L79.5 0.3M88.9 0.3L93.8 0.3M103.2 0.3L108.1 0.3M117.6 -0.4L122.3 0.5M132.3 -1.0L136.5 0.6M146.5 -1.0L150.8 0.6M160.4 -0.4L165.1 0.5M174.7 -0.4L179.4 0.5M3.4 6.9L8.1 7.7M17.6 6.9L22.4 7.7M31.9 6.9L36.6 7.7M46.2 6.9L50.9 7.7M60.4 7.5L65.2 7.5M74.6 7.5L79.5 7.5M88.9 7.5L93.8 7.5M103.2 7.5L108.1 7.5M117.6 6.9L122.3 7.7M132.3 6.3L136.5 7.9M146.5 6.3L150.8 7.9M160.4 6.9L165.1 7.7M174.7 6.9L179.4 7.7M3.4 14.2L8.1 15.0M17.6 14.2L22.4 15.0M31.9 14.2L36.6 15.0M46.2 14.2L50.9 15.0M60.4 14.8L65.2 14.8M74.6 14.8L79.5 14.8M88.9 14.8L93.8 14.8M103.2 14.8L108.1 14.8M117.6 14.2L122.3 15.0M132.3 13.5L136.5 15.1M146.5 13.5L150.8 15.1M160.4 14.2L165.1 15.0M174.7 14.2L179.4 15.0M3.8 20.8L8.0 22.4M18.0 20.8L22.3 22.4M32.3 20.8L36.5 22.4M46.6 20.8L50.8 22.4M60.4 22.1L65.2 22.1M74.6 22.1L79.5 22.1M88.9 22.1L93.8 22.1M103.3 21.4L108.0 22.3M118.0 20.8L122.2 22.4M132.9 20.3L136.3 22.6M146.5 20.8L150.8 22.4M160.3 22.1L165.2 22.1M174.6 22.1L179.4 22.1M3.8 28.1L8.0 29.7M18.0 28.1L22.3 29.7M32.3 28.1L36.5 29.7M46.6 28.1L50.8 29.7M60.5 28.7L65.2 29.5M74.6 29.4L79.5 29.4M88.9 29.4L93.8 29.4M103.3 28.7L108.0 29.5M117.6 28.7L122.3 29.5M134.6 26.9L135.9 30.0M146.1 28.7L150.9 29.5M160.4 30.0L165.1 29.2M174.7 30.0L179.4 29.2M189.4 30.7L193.6 29.1M203.7 30.7L207.9 29.1M3.8 35.4L8.0 37.0M18.0 35.4L22.3 37.0M32.3 35.4L36.5 37.0M47.2 34.9L50.7 37.1M61.5 34.9L64.9 37.1M74.8 37.3L79.5 36.5M89.4 37.9L93.6 36.3M103.7 37.9L107.9 36.3M118.0 37.9L122.2 36.3M138.4 38.5L134.9 36.2M149.9 39.2L149.9 36.0M161.4 38.5L164.9 36.2M175.1 37.9L179.3 36.3M189.4 37.9L193.6 36.3M203.7 37.9L207.9 36.3M218.5 38.5L222.0 36.2M234.6 39.1L235.8 36.0M251.8 38.9L249.4 36.1M3.8 42.7L8.0 44.3M18.0 42.7L22.3 44.3M32.3 42.7L36.5 44.3M47.2 42.1L50.7 44.4M61.5 42.1L64.9 44.4M81.3 45.7L77.8 43.5M90.0 45.7L93.5 43.5M104.3 45.7L107.8 43.5M118.6 45.7L122.1 43.5M134.6 46.4L135.9 43.3M148.0 46.1L150.4 43.4M161.4 45.7L164.9 43.5M175.7 45.7L179.2 43.5M189.4 45.2L193.6 43.6M203.7 45.2L207.9 43.6M218.5 45.7L222.0 43.5M233.6 46.1L236.1 43.4M249.9 46.5L249.9 43.3M3.8 49.9L8.0 51.5M18.0 49.9L22.3 51.5M32.3 49.9L36.5 51.5M47.2 49.4L50.7 51.7M61.5 49.4L64.9 51.7M74.8 51.9L79.5 51.1M90.0 53.0L93.5 50.8M104.3 53.0L107.8 50.8M118.6 53.0L122.1 50.8M133.7 53.4L136.1 50.7M147.2 53.0L150.6 50.8M161.4 53.0L164.9 50.8M175.7 53.0L179.2 50.8M189.4 52.5L193.6 50.9M203.3 51.9L208.0 51.1M217.9 52.5L222.1 50.9M232.2 52.5L236.4 50.9M247.1 53.0L250.6 50.8M3.8 57.2L8.0 58.8M18.0 57.2L22.3 58.8M32.3 57.2L36.5 58.8M47.2 56.7L50.7 59.0M61.5 56.7L64.9 59.0M74.6 58.5L79.5 58.5M89.0 59.2L93.7 58.3M103.7 59.8L107.9 58.2M118.6 60.3L122.1 58.0M132.9 60.3L136.3 58.0M147.2 60.3L150.6 58.0M161.4 60.3L164.9 58.0M175.7 60.3L179.2 58.0M189.0 59.2L193.7 58.3M203.3 59.2L208.0 58.3M217.5 59.2L222.2 58.3M231.7 58.5L236.6 58.5M246.0 58.5L250.8 58.5M3.8 64.5L8.0 66.1M18.0 64.5L22.3 66.1M32.3 64.5L36.5 66.1M46.6 64.5L50.8 66.1M60.4 65.8L65.2 65.8M74.6 65.8L79.5 65.8M88.9 65.8L93.8 65.8M118.0 67.1L122.2 65.5M132.9 67.6L136.3 65.3M147.2 67.6L150.6 65.3M161.4 67.6L164.9 65.3M175.7 67.6L179.2 65.3M189.4 67.1L193.6 65.5M203.3 66.4L208.0 65.6M217.4 65.8L222.3 65.8M231.7 65.8L236.6 65.8M3.8 71.8L8.0 73.4M18.0 71.8L22.3 73.4M32.3 71.8L36.5 73.4M46.6 71.8L50.8 73.4M60.4 73.1L65.2 73.1M74.8 72.4L79.5 73.2M3.8 79.1L8.0 80.7M18.0 79.1L22.3 80.7M32.3 79.1L36.5 80.7M46.6 79.1L50.8 80.7M60.4 80.3L65.2 80.3M74.6 80.3L79.5 80.3M3.8 86.3L8.0 87.9M18.0 86.3L22.3 87.9M32.3 86.3L36.5 87.9M46.6 86.3L50.8 87.9M60.9 86.3L65.1 87.9M3.8 93.6L8.0 95.2M18.0 93.6L22.3 95.2M32.3 93.6L36.5 95.2M46.6 93.6L50.8 95.2M60.9 93.6L65.1 95.2M3.8 100.9L8.0 102.5M18.0 100.9L22.3 102.5M32.3 100.9L36.5 102.5M46.6 100.9L50.8 102.5M3.8 108.2L8.0 109.8M18.0 108.2L22.3 109.8M32.3 108.2L36.5 109.8M46.6 108.2L50.8 109.8M3.8 115.5L8.0 117.1M18.0 115.5L22.3 117.1M32.3 115.5L36.5 117.1M46.6 115.5L50.8 117.1M224.1 114.9L220.6 117.2M238.3 114.9L234.9 117.2M252.6 114.9L249.2 117.2M3.8 122.7L8.0 124.3M18.0 122.7L22.3 124.3M32.3 122.7L36.5 124.3M46.6 122.7L50.8 124.3M61.5 122.2L64.9 124.5M167.6 122.7L163.4 124.3M181.8 122.7L177.6 124.3M196.1 122.7L191.9 124.3M210.4 122.7L206.2 124.3M224.7 122.7L220.5 124.3M239.0 122.7L234.7 124.3M253.2 122.7L249.0 124.3M3.8 130.0L8.0 131.6M18.0 130.0L22.3 131.6M32.3 130.0L36.5 131.6M46.6 130.0L50.8 131.6M61.5 129.5L64.9 131.8M76.6 129.1L79.0 131.9M92.8 128.8L92.8 131.9M107.1 128.8L107.1 131.9M122.4 128.8L121.1 131.9M139.0 130.0L134.8 131.6M153.3 130.0L149.1 131.6M167.6 130.0L163.4 131.6M181.8 130.0L177.6 131.6M196.1 130.0L191.9 131.6M210.4 130.0L206.2 131.6M224.7 130.0L220.5 131.6M239.0 130.0L234.7 131.6M253.2 130.0L249.0 131.6" stroke="#000" stroke-width="1" fill="none"/>
<path d="M10.9 1.0L7.6 -1.4L8.1 0.5L6.2 1.9ZM25.2 1.0L21.8 -1.4L22.4 0.5L20.5 1.9ZM39.5 1.0L36.1 -1.4L36.6 0.5L34.7 1.9ZM53.7 1.0L50.4 -1.4L50.9 0.5L49.0 1.9ZM68.2 0.3L64.0 -1.4L65.2 0.3L64.0 2.0ZM82.4 0.3L78.3 -1.4L79.5 0.3L78.3 2.0ZM96.7 0.3L92.5 -1.4L93.8 0.3L92.5 2.0ZM111.0 0.3L106.8 -1.4L108.1 0.3L106.8 2.0ZM125.1 1.0L121.8 -1.4L122.3 0.5L120.4 1.9ZM139.0 1.6L136.7 -1.3L136.5 0.6L134.1 1.7ZM153.3 1.6L151.0 -1.3L150.8 0.6L148.4 1.7ZM168.0 1.0L164.6 -1.4L165.1 0.5L163.2 1.9ZM182.2 1.0L178.9 -1.4L179.4 0.5L177.5 1.9ZM10.9 8.2L7.6 5.8L8.1 7.7L6.2 9.2ZM25.2 8.2L21.8 5.8L22.4 7.7L20.5 9.2ZM39.5 8.2L36.1 5.8L36.6 7.7L34.7 9.2ZM53.7 8.2L50.4 5.8L50.9 7.7L49.0 9.2ZM68.2 7.5L64.0 5.8L65.2 7.5L64.0 9.3ZM82.4 7.5L78.3 5.8L79.5 7.5L78.3 9.3ZM96.7 7.5L92.5 5.8L93.8 7.5L92.5 9.3ZM111.0 7.5L106.8 5.8L108.1 7.5L106.8 9.3ZM125.1 8.2L121.8 5.8L122.3 7.7L120.4 9.2ZM139.0 8.8L136.7 5.9L136.5 7.9L134.1 9.0ZM153.3 8.8L151.0 5.9L150.8 7.9L148.4 9.0ZM168.0 8.2L164.6 5.8L165.1 7.7L163.2 9.2ZM182.2 8.2L178.9 5.8L179.4 7.7L177.5 9.2ZM10.9 15.5L7.6 13.1L8.1 15.0L6.2 16.4ZM25.2 15.5L21.8 13.1L22.4 15.0L20.5 16.4ZM39.5 15.5L36.1 13.1L36.6 15.0L34.7 16.4ZM53.7 15.5L50.4 13.1L50.9 15.0L49.0 16.4ZM68.2 14.8L64.0 13.1L65.2 14.8L64.0 16.6ZM82.4 14.8L78.3 13.1L79.5 14.8L78.3 16.6ZM96.7 14.8L92.5 13.1L93.8 14.8L92.5 16.6ZM111.0 14.8L106.8 13.1L108.1 14.8L106.8 16.6ZM125.1 15.5L121.8 13.1L122.3 15.0L120.4 16.4ZM139.0 16.1L136.7 13.2L136.5 15.1L134.1 16.2ZM153.3 16.1L151.0 13.2L150.8 15.1L148.4 16.2ZM168.0 15.5L164.6 13.1L165.1 15.0L163.2 16.4ZM182.2 15.5L178.9 13.1L179.4 15.0L177.5 16.4ZM10.5 23.4L8.2 20.5L8.0 22.4L5.6 23.5ZM24.8 23.4L22.5 20.5L22.3 22.4L19.9 23.5ZM39.1 23.4L36.8 20.5L36.5 22.4L34.1 23.5ZM53.3 23.4L51.1 20.5L50.8 22.4L48.4 23.5ZM68.2 22.1L64.0 20.4L65.2 22.1L64.0 23.8ZM82.4 22.1L78.3 20.4L79.5 22.1L78.3 23.8ZM96.7 22.1L92.5 20.4L93.8 22.1L92.5 23.8ZM110.9 22.8L107.5 20.4L108.0 22.3L106.1 23.7ZM124.7 23.4L122.5 20.5L122.2 22.4L119.8 23.5ZM138.4 23.9L137.3 20.7L136.3 22.6L133.6 23.2ZM153.3 23.4L151.0 20.5L150.8 22.4L148.4 23.5ZM168.1 22.1L163.9 20.4L165.2 22.1L163.9 23.8ZM182.4 22.1L178.2 20.4L179.4 22.1L178.2 23.8ZM10.5 30.7L8.2 27.8L8.0 29.7L5.6 30.8ZM24.8 30.7L22.5 27.8L22.3 29.7L19.9 30.8ZM39.1 30.7L36.8 27.8L36.5 29.7L34.1 30.8ZM53.3 30.7L51.1 27.8L50.8 29.7L48.4 30.8ZM68.0 30.0L64.7 27.7L65.2 29.5L63.3 31.0ZM82.4 29.4L78.3 27.6L79.5 29.4L78.3 31.1ZM96.7 29.4L92.5 27.6L93.8 29.4L92.5 31.1ZM110.9 30.0L107.5 27.7L108.0 29.5L106.1 31.0ZM125.1 30.0L121.8 27.7L122.3 29.5L120.4 31.0ZM136.6 31.8L138.1 28.8L135.9 30.0L133.0 29.7ZM153.7 30.0L150.3 27.7L150.9 29.5L149.0 31.0ZM168.0 28.7L163.2 27.8L165.1 29.2L164.6 31.1ZM182.2 28.7L177.5 27.8L179.4 29.2L178.9 31.1ZM196.1 28.1L191.2 28.0L193.6 29.1L193.8 31.0ZM210.4 28.1L205.5 28.0L207.9 29.1L208.1 31.0ZM10.5 37.9L8.2 35.1L8.0 37.0L5.6 38.1ZM24.8 37.9L22.5 35.1L22.3 37.0L19.9 38.1ZM39.1 37.9L36.8 35.1L36.5 37.0L34.1 38.1ZM52.7 38.5L51.7 35.3L50.7 37.1L47.9 37.8ZM67.0 38.5L65.9 35.3L64.9 37.1L62.2 37.8ZM82.3 36.0L77.6 35.0L79.5 36.5L79.0 38.4ZM96.2 35.4L91.2 35.2L93.6 36.3L93.9 38.3ZM110.5 35.4L105.5 35.2L107.9 36.3L108.2 38.3ZM124.7 35.4L119.8 35.2L122.2 36.3L122.5 38.3ZM132.9 34.9L134.0 38.0L134.9 36.2L137.7 35.6ZM149.9 34.1L147.3 36.8L149.9 36.0L152.6 36.8ZM167.0 34.9L162.1 35.6L164.9 36.2L165.9 38.0ZM181.8 35.4L176.9 35.2L179.3 36.3L179.6 38.3ZM196.1 35.4L191.2 35.2L193.6 36.3L193.8 38.3ZM210.4 35.4L205.5 35.2L207.9 36.3L208.1 38.3ZM224.1 34.9L219.2 35.6L222.0 36.2L223.0 38.0ZM236.6 34.2L233.0 36.4L235.8 36.0L238.1 37.3ZM247.9 34.5L247.7 37.7L249.4 36.1L252.3 35.9ZM10.5 45.2L8.2 42.3L8.0 44.3L5.6 45.4ZM24.8 45.2L22.5 42.3L22.3 44.3L19.9 45.4ZM39.1 45.2L36.8 42.3L36.5 44.3L34.1 45.4ZM52.7 45.7L51.7 42.6L50.7 44.4L47.9 45.0ZM67.0 45.7L65.9 42.6L64.9 44.4L62.2 45.0ZM75.8 42.1L76.8 45.3L77.8 43.5L80.6 42.8ZM95.6 42.1L90.7 42.8L93.5 43.5L94.5 45.3ZM109.8 42.1L105.0 42.8L107.8 43.5L108.8 45.3ZM124.1 42.1L119.3 42.8L122.1 43.5L123.0 45.3ZM136.6 41.5L133.0 43.7L135.9 43.3L138.1 44.6ZM151.9 41.7L147.5 43.2L150.4 43.4L152.1 45.0ZM167.0 42.1L162.1 42.8L164.9 43.5L165.9 45.3ZM181.2 42.1L176.4 42.8L179.2 43.5L180.2 45.3ZM196.1 42.7L191.2 42.5L193.6 43.6L193.8 45.5ZM210.4 42.7L205.5 42.5L207.9 43.6L208.1 45.5ZM224.1 42.1L219.2 42.8L222.0 43.5L223.0 45.3ZM237.5 41.7L233.2 43.2L236.1 43.4L237.7 45.0ZM249.9 41.4L247.2 44.1L249.9 43.3L252.5 44.1ZM10.5 52.5L8.2 49.6L8.0 51.5L5.6 52.6ZM24.8 52.5L22.5 49.6L22.3 51.5L19.9 52.6ZM39.1 52.5L36.8 49.6L36.5 51.5L34.1 52.6ZM52.7 53.0L51.7 49.9L50.7 51.7L47.9 52.3ZM67.0 53.0L65.9 49.9L64.9 51.7L62.2 52.3ZM82.3 50.6L77.6 49.6L79.5 51.1L79.0 52.9ZM95.6 49.4L90.7 50.1L93.5 50.8L94.5 52.6ZM109.8 49.4L105.0 50.1L107.8 50.8L108.8 52.6ZM124.1 49.4L119.3 50.1L122.1 50.8L123.0 52.6ZM137.6 49.0L133.2 50.5L136.1 50.7L137.8 52.2ZM152.7 49.4L147.8 50.1L150.6 50.8L151.6 52.6ZM167.0 49.4L162.1 50.1L164.9 50.8L165.9 52.6ZM181.2 49.4L176.4 50.1L179.2 50.8L180.2 52.6ZM196.1 49.9L191.2 49.8L193.6 50.9L193.8 52.8ZM210.8 50.6L206.1 49.6L208.0 51.1L207.5 52.9ZM224.7 49.9L219.7 49.8L222.1 50.9L222.4 52.8ZM239.0 49.9L234.0 49.8L236.4 50.9L236.7 52.8ZM252.6 49.4L247.8 50.1L250.6 50.8L251.5 52.6ZM10.5 59.8L8.2 56.9L8.0 58.8L5.6 59.9ZM24.8 59.8L22.5 56.9L22.3 58.8L19.9 59.9ZM39.1 59.8L36.8 56.9L36.5 58.8L34.1 59.9ZM52.7 60.3L51.7 57.1L50.7 59.0L47.9 59.6ZM67.0 60.3L65.9 57.1L64.9 59.0L62.2 59.6ZM82.4 58.5L78.3 56.8L79.5 58.5L78.3 60.2ZM96.6 57.8L91.9 56.9L93.7 58.3L93.2 60.2ZM110.5 57.2L105.5 57.1L107.9 58.2L108.2 60.1ZM124.1 56.7L119.3 57.4L122.1 58.0L123.0 59.9ZM138.4 56.7L133.6 57.4L136.3 58.0L137.3 59.9ZM152.7 56.7L147.8 57.4L150.6 58.0L151.6 59.9ZM167.0 56.7L162.1 57.4L164.9 58.0L165.9 59.9ZM181.2 56.7L176.4 57.4L179.2 58.0L180.2 59.9ZM196.5 57.8L191.8 56.9L193.7 58.3L193.2 60.2ZM210.8 57.8L206.1 56.9L208.0 58.3L207.5 60.2ZM225.1 57.8L220.4 56.9L222.2 58.3L221.7 60.2ZM239.5 58.5L235.3 56.8L236.6 58.5L235.3 60.2ZM253.8 58.5L249.6 56.8L250.8 58.5L249.6 60.2ZM10.5 67.1L8.2 64.2L8.0 66.1L5.6 67.2ZM24.8 67.1L22.5 64.2L22.3 66.1L19.9 67.2ZM39.1 67.1L36.8 64.2L36.5 66.1L34.1 67.2ZM53.3 67.1L51.1 64.2L50.8 66.1L48.4 67.2ZM68.2 65.8L64.0 64.0L65.2 65.8L64.0 67.5ZM82.4 65.8L78.3 64.0L79.5 65.8L78.3 67.5ZM96.7 65.8L92.5 64.0L93.8 65.8L92.5 67.5ZM124.7 64.5L119.8 64.4L122.2 65.5L122.5 67.4ZM138.4 64.0L133.6 64.7L136.3 65.3L137.3 67.1ZM152.7 64.0L147.8 64.7L150.6 65.3L151.6 67.1ZM167.0 64.0L162.1 64.7L164.9 65.3L165.9 67.1ZM181.2 64.0L176.4 64.7L179.2 65.3L180.2 67.1ZM196.1 64.5L191.2 64.4L193.6 65.5L193.8 67.4ZM210.8 65.1L206.1 64.2L208.0 65.6L207.5 67.5ZM225.2 65.8L221.0 64.0L222.3 65.8L221.0 67.5ZM239.5 65.8L235.3 64.0L236.6 65.8L235.3 67.5ZM10.5 74.3L8.2 71.5L8.0 73.4L5.6 74.5ZM24.8 74.3L22.5 71.5L22.3 73.4L19.9 74.5ZM39.1 74.3L36.8 71.5L36.5 73.4L34.1 74.5ZM53.3 74.3L51.1 71.5L50.8 73.4L48.4 74.5ZM68.2 73.1L64.0 71.3L65.2 73.1L64.0 74.8ZM82.3 73.7L79.0 71.3L79.5 73.2L77.6 74.7ZM10.5 81.6L8.2 78.7L8.0 80.7L5.6 81.8ZM24.8 81.6L22.5 78.7L22.3 80.7L19.9 81.8ZM39.1 81.6L36.8 78.7L36.5 80.7L34.1 81.8ZM53.3 81.6L51.1 78.7L50.8 80.7L48.4 81.8ZM68.2 80.3L64.0 78.6L65.2 80.3L64.0 82.1ZM82.4 80.3L78.3 78.6L79.5 80.3L78.3 82.1ZM10.5 88.9L8.2 86.0L8.0 87.9L5.6 89.0ZM24.8 88.9L22.5 86.0L22.3 87.9L19.9 89.0ZM39.1 88.9L36.8 86.0L36.5 87.9L34.1 89.0ZM53.3 88.9L51.1 86.0L50.8 87.9L48.4 89.0ZM67.6 88.9L65.3 86.0L65.1 87.9L62.7 89.0ZM10.5 96.2L8.2 93.3L8.0 95.2L5.6 96.3ZM24.8 96.2L22.5 93.3L22.3 95.2L19.9 96.3ZM39.1 96.2L36.8 93.3L36.5 95.2L34.1 96.3ZM53.3 96.2L51.1 93.3L50.8 95.2L48.4 96.3ZM67.6 96.2L65.3 93.3L65.1 95.2L62.7 96.3ZM10.5 103.5L8.2 100.6L8.0 102.5L5.6 103.6ZM24.8 103.5L22.5 100.6L22.3 102.5L19.9 103.6ZM39.1 103.5L36.8 100.6L36.5 102.5L34.1 103.6ZM53.3 103.5L51.1 100.6L50.8 102.5L48.4 103.6ZM10.5 110.7L8.2 107.9L8.0 109.8L5.6 110.9ZM24.8 110.7L22.5 107.9L22.3 109.8L19.9 110.9ZM39.1 110.7L36.8 107.9L36.5 109.8L34.1 110.9ZM53.3 110.7L51.1 107.9L50.8 109.8L48.4 110.9ZM10.5 118.0L8.2 115.1L8.0 117.1L5.6 118.2ZM24.8 118.0L22.5 115.1L22.3 117.1L19.9 118.2ZM39.1 118.0L36.8 115.1L36.5 117.1L34.1 118.2ZM53.3 118.0L51.1 115.1L50.8 117.1L48.4 118.2ZM218.5 118.5L223.4 117.8L220.6 117.2L219.6 115.4ZM232.8 118.5L237.7 117.8L234.9 117.2L233.9 115.4ZM247.1 118.5L251.9 117.8L249.2 117.2L248.2 115.4ZM10.5 125.3L8.2 122.4L8.0 124.3L5.6 125.4ZM24.8 125.3L22.5 122.4L22.3 124.3L19.9 125.4ZM39.1 125.3L36.8 122.4L36.5 124.3L34.1 125.4ZM53.3 125.3L51.1 122.4L50.8 124.3L48.4 125.4ZM67.0 125.8L65.9 122.7L64.9 124.5L62.2 125.1ZM160.8 125.3L165.8 125.4L163.4 124.3L163.1 122.4ZM175.1 125.3L180.0 125.4L177.6 124.3L177.4 122.4ZM189.4 125.3L194.3 125.4L191.9 124.3L191.7 122.4ZM203.7 125.3L208.6 125.4L206.2 124.3L205.9 122.4ZM217.9 125.3L222.9 125.4L220.5 124.3L220.2 122.4ZM232.2 125.3L237.1 125.4L234.7 124.3L234.5 122.4ZM246.5 125.3L251.4 125.4L249.0 124.3L248.8 122.4ZM10.5 132.6L8.2 129.7L8.0 131.6L5.6 132.7ZM24.8 132.6L22.5 129.7L22.3 131.6L19.9 132.7ZM39.1 132.6L36.8 129.7L36.5 131.6L34.1 132.7ZM53.3 132.6L51.1 129.7L50.8 131.6L48.4 132.7ZM67.0 133.1L65.9 129.9L64.9 131.8L62.2 132.4ZM80.5 133.5L80.7 130.3L79.0 131.9L76.1 132.0ZM92.8 133.9L95.5 131.1L92.8 131.9L90.2 131.1ZM107.1 133.9L109.7 131.1L107.1 131.9L104.4 131.1ZM120.4 133.8L124.0 131.6L121.1 131.9L118.9 130.7ZM132.3 132.6L137.2 132.7L134.8 131.6L134.5 129.7ZM146.5 132.6L151.5 132.7L149.1 131.6L148.8 129.7ZM160.8 132.6L165.8 132.7L163.4 131.6L163.1 129.7ZM175.1 132.6L180.0 132.7L177.6 131.6L177.4 129.7ZM189.4 132.6L194.3 132.7L191.9 131.6L191.7 129.7ZM203.7 132.6L208.6 132.7L206.2 131.6L205.9 129.7ZM217.9 132.6L222.9 132.7L220.5 131.6L220.2 129.7ZM232.2 132.6L237.1 132.7L234.7 131.6L234.5 129.7ZM246.5 132.6L251.4 132.7L249.0 131.6L248.8 129.7Z" fill="#000"/>
<path d="M7.5 103.2L22.6 94.2L37.7 81L46.1 65L65.9 48L81 38.6L97.9 30.1L111.1 21.7L120.5 11.3L129 3L132.5 -1" fill="none" stroke="#000" stroke-width="1.3" stroke-linejoin="round"/>
<path d="M145.9 51.2L153.1 46.1L164.4 43.7L179.4 42.9L193.6 42.9L207.7 43.7L219 47.1L225.6 51.2L219 56.5L207.7 59.9L193.6 61.2L179.4 61.2L164.4 60.6L155 58.8L149.3 55.6Z" fill="none" stroke="#000" stroke-width="1.3" stroke-linejoin="round"/>
<path d="M0 0H257.00V138.30H0Z M48.7 0.0L50.0 4.8L64.2 41.8L78.5 70.5L92.8 94.0L107.1 113.8L121.4 131.0L135.6 131.0L149.9 113.8L164.2 94.0L178.5 70.5L192.8 41.8L207.0 4.8L208.3 0.0Z" fill="#fff" fill-opacity="0.5" fill-rule="evenodd"/>
<path d="M48.7 0.0L50.0 4.8L64.2 41.8L78.5 70.5L92.8 94.0L107.1 113.8L121.4 131.0L135.6 131.0L149.9 113.8L164.2 94.0L178.5 70.5L192.8 41.8L207.0 4.8L208.3 0.0" fill="none" stroke="#000" stroke-width="0.75"/>
</g>
<rect x="0" y="0" width="257.00" height="138.30" fill="none" stroke="#262626" stroke-width="0.8"/>
<path d="M7.14 138.30v-2.6M7.14 0v2.6M35.69 138.30v-2.6M35.69 0v2.6M64.25 138.30v-2.6M64.25 0v2.6M92.81 138.30v-2.6M92.81 0v2.6M121.36 138.30v-2.6M121.36 0v2.6M149.92 138.30v-2.6M149.92 0v2.6M178.47 138.30v-2.6M178.47 0v2.6M207.03 138.30v-2.6M207.03 0v2.6M235.58 138.30v-2.6M235.58 0v2.6M0 83.30h2.6M257.00 83.30h-2.6" stroke="#262626" stroke-width="0.8" fill="none"/>
<text x="7.14" y="148.50" text-anchor="middle" font-size="8.5" class="t">2002</text>
<text x="35.69" y="148.50" text-anchor="middle" font-size="8.5" class="t">2004</text>
<text x="64.25" y="148.50" text-anchor="middle" font-size="8.5" class="t">2006</text>
<text x="92.81" y="148.50" text-anchor="middle" font-size="8.5" class="t">2008</text>
<text x="121.36" y="148.50" text-anchor="middle" font-size="8.5" class="t">2010</text>
<text x="149.92" y="148.50" text-anchor="middle" font-size="8.5" class="t">2012</text>
<text x="178.47" y="148.50" text-anchor="middle" font-size="8.5" class="t">2014</text>
<text x="207.03" y="148.50" text-anchor="middle" font-size="8.5" class="t">2016</text>
<text x="235.58" y="148.50" text-anchor="middle" font-size="8.5" class="t">2018</text>
<text x="-2" y="86.60" text-anchor="end" font-size="8.5" class="t">4</text>
<text transform="translate(-8.9,69.45) rotate(-90)" text-anchor="middle" font-size="9.35" class="t">Period</text>
<rect x="259.20" y="0.2" width="3.70" height="138.10" fill="url(#pg)"/>
<text x="264.90" y="3.40" font-size="8.5" class="t">1</text>
<text x="264.90" y="31.02" font-size="8.5" class="t">0.8</text>
<text x="264.90" y="58.64" font-size="8.5" class="t">0.6</text>
<text x="264.90" y="86.26" font-size="8.5" class="t">0.4</text>
<text x="264.90" y="113.88" font-size="8.5" class="t">0.2</text>
<text x="264.90" y="141.50" font-size="8.5" class="t">0</text>
<text x="265.80" y="-2.8" text-anchor="end" font-size="8.5" class="t">Spectral Intensity</text>
</g>
<g transform="translate(43.00,264.30)">
<clipPath id="cc"><rect x="0" y="0" width="257.00" height="138.30"/></clipPath>
<g clip-path="url(#cc)">
<g shape-rendering="crispEdges">
<rect x="-0.2" y="-0.2" width="14.7" height="4.3" fill="#2fc5a2"/>
<rect x="14.1" y="-0.2" width="29.0" height="4.3" fill="#71cd64"/>
<rect x="42.6" y="-0.2" width="29.0" height="4.3" fill="#9fc942"/>
<rect x="71.2" y="-0.2" width="14.7" height="4.3" fill="#71cd64"/>
<rect x="85.5" y="-0.2" width="14.7" height="4.3" fill="#48cb86"/>
<rect x="99.7" y="-0.2" width="14.7" height="4.3" fill="#24c2ae"/>
<rect x="114.0" y="-0.2" width="14.7" height="4.3" fill="#05b6ce"/>
<rect x="128.3" y="-0.2" width="14.7" height="4.3" fill="#2994ed"/>
<rect x="142.6" y="-0.2" width="29.0" height="4.3" fill="#2d8cf3"/>
<rect x="171.1" y="-0.2" width="14.7" height="4.3" fill="#3d70ff"/>
<rect x="185.4" y="-0.2" width="14.7" height="4.3" fill="#412dbb"/>
<rect x="199.7" y="-0.2" width="14.7" height="4.3" fill="#3e26a8"/>
<rect x="214.0" y="-0.2" width="14.7" height="4.3" fill="#412dbb"/>
<rect x="228.2" y="-0.2" width="14.7" height="4.3" fill="#4433cc"/>
<rect x="242.5" y="-0.2" width="14.7" height="4.3" fill="#463adc"/>
<rect x="-0.2" y="3.7" width="14.7" height="7.7" fill="#9fc942"/>
<rect x="14.1" y="3.7" width="14.7" height="7.7" fill="#dabd28"/>
<rect x="28.4" y="3.7" width="14.7" height="7.7" fill="#c8c129"/>
<rect x="42.6" y="3.7" width="14.7" height="7.7" fill="#9fc942"/>
<rect x="56.9" y="3.7" width="14.7" height="7.7" fill="#88cb53"/>
<rect x="71.2" y="3.7" width="14.7" height="7.7" fill="#71cd64"/>
<rect x="85.5" y="3.7" width="14.7" height="7.7" fill="#48cb86"/>
<rect x="99.7" y="3.7" width="14.7" height="7.7" fill="#24c2ae"/>
<rect x="114.0" y="3.7" width="14.7" height="7.7" fill="#05b6ce"/>
<rect x="128.3" y="3.7" width="14.7" height="7.7" fill="#259ce7"/>
<rect x="142.6" y="3.7" width="14.7" height="7.7" fill="#2994ed"/>
<rect x="156.9" y="3.7" width="14.7" height="7.7" fill="#2d8cf3"/>
<rect x="171.1" y="3.7" width="14.7" height="7.7" fill="#4367fd"/>
<rect x="185.4" y="3.7" width="43.2" height="7.7" fill="#412dbb"/>
<rect x="228.2" y="3.7" width="14.7" height="7.7" fill="#4433cc"/>
<rect x="242.5" y="3.7" width="14.7" height="7.7" fill="#4743e7"/>
<rect x="-0.2" y="11.0" width="14.7" height="7.7" fill="#9fc942"/>
<rect x="14.1" y="11.0" width="14.7" height="7.7" fill="#dabd28"/>
<rect x="28.4" y="11.0" width="14.7" height="7.7" fill="#c8c129"/>
<rect x="42.6" y="11.0" width="14.7" height="7.7" fill="#9fc942"/>
<rect x="56.9" y="11.0" width="14.7" height="7.7" fill="#88cb53"/>
<rect x="71.2" y="11.0" width="14.7" height="7.7" fill="#71cd64"/>
<rect x="85.5" y="11.0" width="14.7" height="7.7" fill="#48cb86"/>
<rect x="99.7" y="11.0" width="14.7" height="7.7" fill="#24c2ae"/>
<rect x="114.0" y="11.0" width="14.7" height="7.7" fill="#13b0d7"/>
<rect x="128.3" y="11.0" width="29.0" height="7.7" fill="#2d8cf3"/>
<rect x="156.9" y="11.0" width="14.7" height="7.7" fill="#2e83f9"/>
<rect x="171.1" y="11.0" width="14.7" height="7.7" fill="#3d70ff"/>
<rect x="185.4" y="11.0" width="43.2" height="7.7" fill="#4433cc"/>
<rect x="228.2" y="11.0" width="14.7" height="7.7" fill="#4743e7"/>
<rect x="242.5" y="11.0" width="14.7" height="7.7" fill="#484cef"/>
<rect x="-0.2" y="18.3" width="14.7" height="7.7" fill="#88cb53"/>
<rect x="14.1" y="18.3" width="14.7" height="7.7" fill="#b4c533"/>
<rect x="28.4" y="18.3" width="14.7" height="7.7" fill="#9fc942"/>
<rect x="42.6" y="18.3" width="14.7" height="7.7" fill="#71cd64"/>
<rect x="56.9" y="18.3" width="14.7" height="7.7" fill="#5ccc76"/>
<rect x="71.2" y="18.3" width="14.7" height="7.7" fill="#48cb86"/>
<rect x="85.5" y="18.3" width="14.7" height="7.7" fill="#2fc5a2"/>
<rect x="99.7" y="18.3" width="14.7" height="7.7" fill="#02bac4"/>
<rect x="114.0" y="18.3" width="14.7" height="7.7" fill="#2994ed"/>
<rect x="128.3" y="18.3" width="14.7" height="7.7" fill="#484cef"/>
<rect x="142.6" y="18.3" width="14.7" height="7.7" fill="#465efb"/>
<rect x="156.9" y="18.3" width="29.0" height="7.7" fill="#2e83f9"/>
<rect x="185.4" y="18.3" width="14.7" height="7.7" fill="#3d70ff"/>
<rect x="199.7" y="18.3" width="14.7" height="7.7" fill="#465efb"/>
<rect x="214.0" y="18.3" width="14.7" height="7.7" fill="#4755f6"/>
<rect x="228.2" y="18.3" width="14.7" height="7.7" fill="#465efb"/>
<rect x="242.5" y="18.3" width="14.7" height="7.7" fill="#4367fd"/>
<rect x="-0.2" y="25.5" width="14.7" height="7.7" fill="#71cd64"/>
<rect x="14.1" y="25.5" width="14.7" height="7.7" fill="#88cb53"/>
<rect x="28.4" y="25.5" width="14.7" height="7.7" fill="#48cb86"/>
<rect x="42.6" y="25.5" width="14.7" height="7.7" fill="#02bac4"/>
<rect x="56.9" y="25.5" width="14.7" height="7.7" fill="#24c2ae"/>
<rect x="71.2" y="25.5" width="14.7" height="7.7" fill="#12beb9"/>
<rect x="85.5" y="25.5" width="14.7" height="7.7" fill="#05b6ce"/>
<rect x="99.7" y="25.5" width="14.7" height="7.7" fill="#2994ed"/>
<rect x="114.0" y="25.5" width="14.7" height="7.7" fill="#484cef"/>
<rect x="128.3" y="25.5" width="14.7" height="7.7" fill="#3e26a8"/>
<rect x="142.6" y="25.5" width="14.7" height="7.7" fill="#4433cc"/>
<rect x="156.9" y="25.5" width="14.7" height="7.7" fill="#3d70ff"/>
<rect x="171.1" y="25.5" width="14.7" height="7.7" fill="#2d8cf3"/>
<rect x="185.4" y="25.5" width="14.7" height="7.7" fill="#259ce7"/>
<rect x="199.7" y="25.5" width="14.7" height="7.7" fill="#21a3e3"/>
<rect x="214.0" y="25.5" width="14.7" height="7.7" fill="#13b0d7"/>
<rect x="228.2" y="25.5" width="14.7" height="7.7" fill="#1caadf"/>
<rect x="242.5" y="25.5" width="14.7" height="7.7" fill="#2994ed"/>
<rect x="-0.2" y="32.8" width="29.0" height="7.7" fill="#48cb86"/>
<rect x="28.4" y="32.8" width="14.7" height="7.7" fill="#12beb9"/>
<rect x="42.6" y="32.8" width="14.7" height="7.7" fill="#2994ed"/>
<rect x="56.9" y="32.8" width="14.7" height="7.7" fill="#2d8cf3"/>
<rect x="71.2" y="32.8" width="14.7" height="7.7" fill="#2994ed"/>
<rect x="85.5" y="32.8" width="14.7" height="7.7" fill="#259ce7"/>
<rect x="99.7" y="32.8" width="14.7" height="7.7" fill="#2e83f9"/>
<rect x="114.0" y="32.8" width="14.7" height="7.7" fill="#463adc"/>
<rect x="128.3" y="32.8" width="14.7" height="7.7" fill="#3e26a8"/>
<rect x="142.6" y="32.8" width="14.7" height="7.7" fill="#463adc"/>
<rect x="156.9" y="32.8" width="14.7" height="7.7" fill="#347afd"/>
<rect x="171.1" y="32.8" width="14.7" height="7.7" fill="#259ce7"/>
<rect x="185.4" y="32.8" width="14.7" height="7.7" fill="#13b0d7"/>
<rect x="199.7" y="32.8" width="14.7" height="7.7" fill="#05b6ce"/>
<rect x="214.0" y="32.8" width="14.7" height="7.7" fill="#12beb9"/>
<rect x="228.2" y="32.8" width="14.7" height="7.7" fill="#02bac4"/>
<rect x="242.5" y="32.8" width="14.7" height="7.7" fill="#1caadf"/>
<rect x="-0.2" y="40.1" width="29.0" height="7.7" fill="#2fc5a2"/>
<rect x="28.4" y="40.1" width="14.7" height="7.7" fill="#1caadf"/>
<rect x="42.6" y="40.1" width="14.7" height="7.7" fill="#412dbb"/>
<rect x="56.9" y="40.1" width="14.7" height="7.7" fill="#4433cc"/>
<rect x="71.2" y="40.1" width="14.7" height="7.7" fill="#4755f6"/>
<rect x="85.5" y="40.1" width="14.7" height="7.7" fill="#2e83f9"/>
<rect x="99.7" y="40.1" width="14.7" height="7.7" fill="#347afd"/>
<rect x="114.0" y="40.1" width="14.7" height="7.7" fill="#3d70ff"/>
<rect x="128.3" y="40.1" width="14.7" height="7.7" fill="#4367fd"/>
<rect x="142.6" y="40.1" width="14.7" height="7.7" fill="#3d70ff"/>
<rect x="156.9" y="40.1" width="14.7" height="7.7" fill="#2994ed"/>
<rect x="171.1" y="40.1" width="14.7" height="7.7" fill="#13b0d7"/>
<rect x="185.4" y="40.1" width="14.7" height="7.7" fill="#12beb9"/>
<rect x="199.7" y="40.1" width="14.7" height="7.7" fill="#2fc5a2"/>
<rect x="214.0" y="40.1" width="14.7" height="7.7" fill="#39c895"/>
<rect x="228.2" y="40.1" width="14.7" height="7.7" fill="#2fc5a2"/>
<rect x="242.5" y="40.1" width="14.7" height="7.7" fill="#13b0d7"/>
<rect x="-0.2" y="47.4" width="29.0" height="7.7" fill="#2fc5a2"/>
<rect x="28.4" y="47.4" width="14.7" height="7.7" fill="#21a3e3"/>
<rect x="42.6" y="47.4" width="14.7" height="7.7" fill="#465efb"/>
<rect x="56.9" y="47.4" width="14.7" height="7.7" fill="#4743e7"/>
<rect x="71.2" y="47.4" width="14.7" height="7.7" fill="#412dbb"/>
<rect x="85.5" y="47.4" width="14.7" height="7.7" fill="#4367fd"/>
<rect x="99.7" y="47.4" width="29.0" height="7.7" fill="#2e83f9"/>
<rect x="128.3" y="47.4" width="29.0" height="7.7" fill="#21a3e3"/>
<rect x="156.9" y="47.4" width="14.7" height="7.7" fill="#13b0d7"/>
<rect x="171.1" y="47.4" width="14.7" height="7.7" fill="#12beb9"/>
<rect x="185.4" y="47.4" width="14.7" height="7.7" fill="#2fc5a2"/>
<rect x="199.7" y="47.4" width="29.0" height="7.7" fill="#48cb86"/>
<rect x="228.2" y="47.4" width="14.7" height="7.7" fill="#39c895"/>
<rect x="242.5" y="47.4" width="14.7" height="7.7" fill="#05b6ce"/>
<rect x="-0.2" y="54.7" width="14.7" height="7.7" fill="#39c895"/>
<rect x="14.1" y="54.7" width="14.7" height="7.7" fill="#2fc5a2"/>
<rect x="28.4" y="54.7" width="14.7" height="7.7" fill="#13b0d7"/>
<rect x="42.6" y="54.7" width="14.7" height="7.7" fill="#2994ed"/>
<rect x="56.9" y="54.7" width="14.7" height="7.7" fill="#2e83f9"/>
<rect x="71.2" y="54.7" width="14.7" height="7.7" fill="#3d70ff"/>
<rect x="85.5" y="54.7" width="14.7" height="7.7" fill="#2d8cf3"/>
<rect x="99.7" y="54.7" width="29.0" height="7.7" fill="#2994ed"/>
<rect x="128.3" y="54.7" width="14.7" height="7.7" fill="#12beb9"/>
<rect x="142.6" y="54.7" width="14.7" height="7.7" fill="#02bac4"/>
<rect x="156.9" y="54.7" width="14.7" height="7.7" fill="#12beb9"/>
<rect x="171.1" y="54.7" width="29.0" height="7.7" fill="#24c2ae"/>
<rect x="199.7" y="54.7" width="29.0" height="7.7" fill="#39c895"/>
<rect x="228.2" y="54.7" width="14.7" height="7.7" fill="#2fc5a2"/>
<rect x="242.5" y="54.7" width="14.7" height="7.7" fill="#13b0d7"/>
<rect x="-0.2" y="61.9" width="14.7" height="7.7" fill="#39c895"/>
<rect x="14.1" y="61.9" width="14.7" height="7.7" fill="#48cb86"/>
<rect x="28.4" y="61.9" width="14.7" height="7.7" fill="#24c2ae"/>
<rect x="42.6" y="61.9" width="14.7" height="7.7" fill="#05b6ce"/>
<rect x="56.9" y="61.9" width="14.7" height="7.7" fill="#13b0d7"/>
<rect x="71.2" y="61.9" width="14.7" height="7.7" fill="#1caadf"/>
<rect x="85.5" y="61.9" width="14.7" height="7.7" fill="#13b0d7"/>
<rect x="99.7" y="61.9" width="14.7" height="7.7" fill="#05b6ce"/>
<rect x="114.0" y="61.9" width="14.7" height="7.7" fill="#13b0d7"/>
<rect x="128.3" y="61.9" width="14.7" height="7.7" fill="#2fc5a2"/>
<rect x="142.6" y="61.9" width="14.7" height="7.7" fill="#24c2ae"/>
<rect x="156.9" y="61.9" width="14.7" height="7.7" fill="#12beb9"/>
<rect x="171.1" y="61.9" width="14.7" height="7.7" fill="#02bac4"/>
<rect x="185.4" y="61.9" width="14.7" height="7.7" fill="#05b6ce"/>
<rect x="199.7" y="61.9" width="14.7" height="7.7" fill="#02bac4"/>
<rect x="214.0" y="61.9" width="14.7" height="7.7" fill="#12beb9"/>
<rect x="228.2" y="61.9" width="14.7" height="7.7" fill="#05b6ce"/>
<rect x="242.5" y="61.9" width="14.7" height="7.7" fill="#1caadf"/>
<rect x="-0.2" y="69.2" width="14.7" height="7.7" fill="#2fc5a2"/>
<rect x="14.1" y="69.2" width="14.7" height="7.7" fill="#48cb86"/>
<rect x="28.4" y="69.2" width="14.7" height="7.7" fill="#39c895"/>
<rect x="42.6" y="69.2" width="14.7" height="7.7" fill="#24c2ae"/>
<rect x="56.9" y="69.2" width="14.7" height="7.7" fill="#12beb9"/>
<rect x="71.2" y="69.2" width="14.7" height="7.7" fill="#02bac4"/>
<rect x="85.5" y="69.2" width="14.7" height="7.7" fill="#24c2ae"/>
<rect x="99.7" y="69.2" width="14.7" height="7.7" fill="#12beb9"/>
<rect x="114.0" y="69.2" width="29.0" height="7.7" fill="#02bac4"/>
<rect x="142.6" y="69.2" width="14.7" height="7.7" fill="#05b6ce"/>
<rect x="156.9" y="69.2" width="14.7" height="7.7" fill="#21a3e3"/>
<rect x="171.1" y="69.2" width="14.7" height="7.7" fill="#2994ed"/>
<rect x="185.4" y="69.2" width="14.7" height="7.7" fill="#259ce7"/>
<rect x="199.7" y="69.2" width="14.7" height="7.7" fill="#1caadf"/>
<rect x="214.0" y="69.2" width="14.7" height="7.7" fill="#13b0d7"/>
<rect x="228.2" y="69.2" width="14.7" height="7.7" fill="#1caadf"/>
<rect x="242.5" y="69.2" width="14.7" height="7.7" fill="#259ce7"/>
<rect x="-0.2" y="76.5" width="14.7" height="7.7" fill="#24c2ae"/>
<rect x="14.1" y="76.5" width="14.7" height="7.7" fill="#39c895"/>
<rect x="28.4" y="76.5" width="14.7" height="7.7" fill="#48cb86"/>
<rect x="42.6" y="76.5" width="29.0" height="7.7" fill="#2fc5a2"/>
<rect x="71.2" y="76.5" width="14.7" height="7.7" fill="#24c2ae"/>
<rect x="85.5" y="76.5" width="14.7" height="7.7" fill="#12beb9"/>
<rect x="99.7" y="76.5" width="14.7" height="7.7" fill="#02bac4"/>
<rect x="114.0" y="76.5" width="14.7" height="7.7" fill="#05b6ce"/>
<rect x="128.3" y="76.5" width="14.7" height="7.7" fill="#21a3e3"/>
<rect x="142.6" y="76.5" width="14.7" height="7.7" fill="#2994ed"/>
<rect x="156.9" y="76.5" width="14.7" height="7.7" fill="#347afd"/>
<rect x="171.1" y="76.5" width="14.7" height="7.7" fill="#465efb"/>
<rect x="185.4" y="76.5" width="14.7" height="7.7" fill="#3d70ff"/>
<rect x="199.7" y="76.5" width="14.7" height="7.7" fill="#2e83f9"/>
<rect x="214.0" y="76.5" width="29.0" height="7.7" fill="#2994ed"/>
<rect x="242.5" y="76.5" width="14.7" height="7.7" fill="#2d8cf3"/>
<rect x="-0.2" y="83.8" width="14.7" height="7.7" fill="#12beb9"/>
<rect x="14.1" y="83.8" width="43.2" height="7.7" fill="#2fc5a2"/>
<rect x="56.9" y="83.8" width="14.7" height="7.7" fill="#24c2ae"/>
<rect x="71.2" y="83.8" width="14.7" height="7.7" fill="#12beb9"/>
<rect x="85.5" y="83.8" width="14.7" height="7.7" fill="#05b6ce"/>
<rect x="99.7" y="83.8" width="14.7" height="7.7" fill="#21a3e3"/>
<rect x="114.0" y="83.8" width="14.7" height="7.7" fill="#2994ed"/>
<rect x="128.3" y="83.8" width="14.7" height="7.7" fill="#3d70ff"/>
<rect x="142.6" y="83.8" width="14.7" height="7.7" fill="#4367fd"/>
<rect x="156.9" y="83.8" width="14.7" height="7.7" fill="#484cef"/>
<rect x="171.1" y="83.8" width="29.0" height="7.7" fill="#4433cc"/>
<rect x="199.7" y="83.8" width="14.7" height="7.7" fill="#412dbb"/>
<rect x="214.0" y="83.8" width="14.7" height="7.7" fill="#4755f6"/>
<rect x="228.2" y="83.8" width="14.7" height="7.7" fill="#3d70ff"/>
<rect x="242.5" y="83.8" width="14.7" height="7.7" fill="#347afd"/>
<rect x="-0.2" y="91.1" width="14.7" height="7.7" fill="#05b6ce"/>
<rect x="14.1" y="91.1" width="57.5" height="7.7" fill="#12beb9"/>
<rect x="71.2" y="91.1" width="14.7" height="7.7" fill="#02bac4"/>
<rect x="85.5" y="91.1" width="14.7" height="7.7" fill="#13b0d7"/>
<rect x="99.7" y="91.1" width="14.7" height="7.7" fill="#2d8cf3"/>
<rect x="114.0" y="91.1" width="14.7" height="7.7" fill="#4755f6"/>
<rect x="128.3" y="91.1" width="29.0" height="7.7" fill="#412dbb"/>
<rect x="156.9" y="91.1" width="14.7" height="7.7" fill="#463adc"/>
<rect x="171.1" y="91.1" width="43.2" height="7.7" fill="#4743e7"/>
<rect x="214.0" y="91.1" width="14.7" height="7.7" fill="#465efb"/>
<rect x="228.2" y="91.1" width="14.7" height="7.7" fill="#3d70ff"/>
<rect x="242.5" y="91.1" width="14.7" height="7.7" fill="#347afd"/>
<rect x="-0.2" y="98.3" width="14.7" height="7.7" fill="#21a3e3"/>
<rect x="14.1" y="98.3" width="14.7" height="7.7" fill="#13b0d7"/>
<rect x="28.4" y="98.3" width="43.2" height="7.7" fill="#05b6ce"/>
<rect x="71.2" y="98.3" width="14.7" height="7.7" fill="#13b0d7"/>
<rect x="85.5" y="98.3" width="14.7" height="7.7" fill="#1caadf"/>
<rect x="99.7" y="98.3" width="14.7" height="7.7" fill="#2994ed"/>
<rect x="114.0" y="98.3" width="14.7" height="7.7" fill="#347afd"/>
<rect x="128.3" y="98.3" width="14.7" height="7.7" fill="#4755f6"/>
<rect x="142.6" y="98.3" width="14.7" height="7.7" fill="#484cef"/>
<rect x="156.9" y="98.3" width="14.7" height="7.7" fill="#4743e7"/>
<rect x="171.1" y="98.3" width="14.7" height="7.7" fill="#4755f6"/>
<rect x="185.4" y="98.3" width="29.0" height="7.7" fill="#484cef"/>
<rect x="214.0" y="98.3" width="14.7" height="7.7" fill="#4367fd"/>
<rect x="228.2" y="98.3" width="29.0" height="7.7" fill="#347afd"/>
<rect x="-0.2" y="105.6" width="14.7" height="7.7" fill="#2e83f9"/>
<rect x="14.1" y="105.6" width="14.7" height="7.7" fill="#259ce7"/>
<rect x="28.4" y="105.6" width="14.7" height="7.7" fill="#21a3e3"/>
<rect x="42.6" y="105.6" width="29.0" height="7.7" fill="#1caadf"/>
<rect x="71.2" y="105.6" width="14.7" height="7.7" fill="#21a3e3"/>
<rect x="85.5" y="105.6" width="14.7" height="7.7" fill="#259ce7"/>
<rect x="99.7" y="105.6" width="14.7" height="7.7" fill="#2994ed"/>
<rect x="114.0" y="105.6" width="14.7" height="7.7" fill="#2d8cf3"/>
<rect x="128.3" y="105.6" width="14.7" height="7.7" fill="#4367fd"/>
<rect x="142.6" y="105.6" width="29.0" height="7.7" fill="#4743e7"/>
<rect x="171.1" y="105.6" width="14.7" height="7.7" fill="#484cef"/>
<rect x="185.4" y="105.6" width="29.0" height="7.7" fill="#4755f6"/>
<rect x="214.0" y="105.6" width="14.7" height="7.7" fill="#4367fd"/>
<rect x="228.2" y="105.6" width="14.7" height="7.7" fill="#347afd"/>
<rect x="242.5" y="105.6" width="14.7" height="7.7" fill="#2e83f9"/>
<rect x="-0.2" y="112.9" width="14.7" height="7.7" fill="#484cef"/>
<rect x="14.1" y="112.9" width="14.7" height="7.7" fill="#3d70ff"/>
<rect x="28.4" y="112.9" width="14.7" height="7.7" fill="#2d8cf3"/>
<rect x="42.6" y="112.9" width="14.7" height="7.7" fill="#2994ed"/>
<rect x="56.9" y="112.9" width="29.0" height="7.7" fill="#259ce7"/>
<rect x="85.5" y="112.9" width="14.7" height="7.7" fill="#2994ed"/>
<rect x="99.7" y="112.9" width="14.7" height="7.7" fill="#2d8cf3"/>
<rect x="114.0" y="112.9" width="14.7" height="7.7" fill="#347afd"/>
<rect x="128.3" y="112.9" width="14.7" height="7.7" fill="#4367fd"/>
<rect x="142.6" y="112.9" width="14.7" height="7.7" fill="#463adc"/>
<rect x="156.9" y="112.9" width="14.7" height="7.7" fill="#4433cc"/>
<rect x="171.1" y="112.9" width="14.7" height="7.7" fill="#463adc"/>
<rect x="185.4" y="112.9" width="14.7" height="7.7" fill="#484cef"/>
<rect x="199.7" y="112.9" width="14.7" height="7.7" fill="#465efb"/>
<rect x="214.0" y="112.9" width="14.7" height="7.7" fill="#3d70ff"/>
<rect x="228.2" y="112.9" width="14.7" height="7.7" fill="#347afd"/>
<rect x="242.5" y="112.9" width="14.7" height="7.7" fill="#2e83f9"/>
<rect x="-0.2" y="120.2" width="14.7" height="7.7" fill="#4433cc"/>
<rect x="14.1" y="120.2" width="14.7" height="7.7" fill="#4743e7"/>
<rect x="28.4" y="120.2" width="14.7" height="7.7" fill="#465efb"/>
<rect x="42.6" y="120.2" width="14.7" height="7.7" fill="#3d70ff"/>
<rect x="56.9" y="120.2" width="14.7" height="7.7" fill="#347afd"/>
<rect x="71.2" y="120.2" width="14.7" height="7.7" fill="#2e83f9"/>
<rect x="85.5" y="120.2" width="29.0" height="7.7" fill="#347afd"/>
<rect x="114.0" y="120.2" width="29.0" height="7.7" fill="#3d70ff"/>
<rect x="142.6" y="120.2" width="14.7" height="7.7" fill="#484cef"/>
<rect x="156.9" y="120.2" width="14.7" height="7.7" fill="#4743e7"/>
<rect x="171.1" y="120.2" width="14.7" height="7.7" fill="#463adc"/>
<rect x="185.4" y="120.2" width="14.7" height="7.7" fill="#484cef"/>
<rect x="199.7" y="120.2" width="14.7" height="7.7" fill="#465efb"/>
<rect x="214.0" y="120.2" width="14.7" height="7.7" fill="#3d70ff"/>
<rect x="228.2" y="120.2" width="29.0" height="7.7" fill="#347afd"/>
<rect x="-0.2" y="127.5" width="14.7" height="7.7" fill="#412dbb"/>
<rect x="14.1" y="127.5" width="14.7" height="7.7" fill="#4433cc"/>
<rect x="28.4" y="127.5" width="14.7" height="7.7" fill="#4743e7"/>
<rect x="42.6" y="127.5" width="14.7" height="7.7" fill="#484cef"/>
<rect x="56.9" y="127.5" width="14.7" height="7.7" fill="#4755f6"/>
<rect x="71.2" y="127.5" width="29.0" height="7.7" fill="#465efb"/>
<rect x="99.7" y="127.5" width="43.2" height="7.7" fill="#4755f6"/>
<rect x="142.6" y="127.5" width="14.7" height="7.7" fill="#465efb"/>
<rect x="156.9" y="127.5" width="29.0" height="7.7" fill="#4755f6"/>
<rect x="185.4" y="127.5" width="14.7" height="7.7" fill="#465efb"/>
<rect x="199.7" y="127.5" width="14.7" height="7.7" fill="#4367fd"/>
<rect x="214.0" y="127.5" width="43.2" height="7.7" fill="#3d70ff"/>
<rect x="-0.2" y="134.7" width="29.0" height="3.8" fill="#3e26a8"/>
<rect x="28.4" y="134.7" width="29.0" height="3.8" fill="#412dbb"/>
<rect x="56.9" y="134.7" width="14.7" height="3.8" fill="#4433cc"/>
<rect x="71.2" y="134.7" width="14.7" height="3.8" fill="#463adc"/>
<rect x="85.5" y="134.7" width="14.7" height="3.8" fill="#4743e7"/>
<rect x="99.7" y="134.7" width="14.7" height="3.8" fill="#4433cc"/>
<rect x="114.0" y="134.7" width="29.0" height="3.8" fill="#463adc"/>
<rect x="142.6" y="134.7" width="14.7" height="3.8" fill="#3d70ff"/>
<rect x="156.9" y="134.7" width="14.7" height="3.8" fill="#4367fd"/>
<rect x="171.1" y="134.7" width="57.5" height="3.8" fill="#3d70ff"/>
<rect x="228.2" y="134.7" width="29.0" height="3.8" fill="#4367fd"/>
</g>
<path d="M3.2 0.3L8.1 0.3M17.5 0.3L22.4 0.3M31.8 0.3L36.7 0.3M46.1 0.3L50.9 0.3M60.4 0.3L65.2 0.3M74.6 0.3L79.5 0.3M88.9 0.3L93.8 0.3M103.2 0.3L108.1 0.3M117.6 -0.4L122.3 0.5M131.9 -0.4L136.6 0.5M146.0 0.3L150.9 0.3M160.3 0.3L165.2 0.3M174.7 1.0L179.4 0.1M189.4 1.6L193.6 -0.0M221.3 -2.2L221.3 0.9M239.5 0.3L234.6 0.3M253.8 0.3L248.9 0.3M3.2 7.5L8.1 7.5M17.5 7.5L22.4 7.5M31.8 7.5L36.7 7.5M46.1 7.5L50.9 7.5M60.4 7.5L65.2 7.5M74.6 7.5L79.5 7.5M88.9 7.5L93.8 7.5M103.2 7.5L108.1 7.5M117.6 6.9L122.3 7.7M131.9 6.9L136.6 7.7M146.0 7.5L150.9 7.5M160.3 7.5L165.2 7.5M174.7 8.2L179.4 7.4M189.4 8.8L193.6 7.2M221.3 5.0L221.3 8.2M239.5 7.5L234.6 7.5M253.8 7.5L248.9 7.5M3.2 14.8L8.1 14.8M17.5 14.8L22.4 14.8M31.8 14.8L36.7 14.8M46.1 14.8L50.9 14.8M60.4 14.8L65.2 14.8M74.6 14.8L79.5 14.8M88.9 14.8L93.8 14.8M103.2 14.8L108.1 14.8M117.6 14.2L122.3 15.0M132.3 13.5L136.5 15.1M146.0 14.8L150.9 14.8M160.3 14.8L165.2 14.8M174.7 15.5L179.4 14.7M189.0 15.5L193.7 14.7M219.4 12.6L221.8 15.4M239.4 15.5L234.6 14.7M253.8 14.8L248.9 14.8M3.2 22.1L8.1 22.1M17.5 22.1L22.4 22.1M31.8 22.1L36.7 22.1M46.1 22.1L50.9 22.1M60.4 22.1L65.2 22.1M74.6 22.1L79.5 22.1M88.9 22.1L93.8 22.1M103.2 22.1L108.1 22.1M118.0 20.8L122.2 22.4M132.9 20.3L136.3 22.6M146.0 22.1L150.9 22.1M160.4 22.8L165.1 21.9M174.7 22.8L179.4 21.9M188.8 22.1L193.7 22.1M203.7 20.8L207.9 22.4M217.9 20.8L222.1 22.4M231.8 21.4L236.5 22.3M246.0 22.1L250.8 22.1M3.4 28.7L8.1 29.5M17.6 28.7L22.4 29.5M31.9 28.7L36.6 29.5M46.2 30.0L50.9 29.2M60.5 30.0L65.2 29.2M74.8 30.0L79.5 29.2M89.0 30.0L93.7 29.2M103.2 29.4L108.1 29.4M118.0 28.1L122.2 29.7M138.4 27.6L134.9 29.8M147.2 31.2L150.6 28.9M160.8 30.7L165.0 29.1M174.7 30.0L179.4 29.2M189.0 30.0L193.7 29.2M203.1 29.4L208.0 29.4M217.4 29.4L222.3 29.4M231.7 29.4L236.6 29.4M246.0 29.4L250.8 29.4M3.4 36.0L8.1 36.8M17.6 36.0L22.4 36.8M31.9 36.0L36.6 36.8M46.2 37.3L50.9 36.5M60.9 37.9L65.1 36.3M75.2 37.9L79.4 36.3M89.0 37.3L93.7 36.5M103.2 36.7L108.1 36.7M117.5 36.7L122.3 36.7M137.6 38.9L135.2 36.1M149.9 39.2L149.9 36.0M160.8 37.9L165.0 36.3M175.1 37.9L179.3 36.3M189.0 37.3L193.7 36.5M203.1 36.7L208.0 36.7M217.4 36.7L222.3 36.7M231.7 36.7L236.6 36.7M246.0 36.7L250.8 36.7M3.8 42.7L8.0 44.3M18.0 42.7L22.3 44.3M32.9 42.1L36.4 44.4M48.0 41.7L50.5 44.5M75.8 45.7L79.2 43.5M89.4 45.2L93.6 43.6M103.3 44.6L108.0 43.8M117.6 44.6L122.3 43.8M132.9 45.7L136.3 43.5M147.2 45.7L150.6 43.5M160.8 45.2L165.0 43.6M175.1 45.2L179.3 43.6M189.4 45.2L193.6 43.6M203.3 44.6L208.0 43.8M217.4 43.9L222.3 43.9M231.7 43.9L236.6 43.9M246.0 43.9L250.8 43.9M3.8 49.9L8.0 51.5M18.0 49.9L22.3 51.5M33.7 49.0L36.2 51.8M50.0 48.7L50.0 51.9M60.9 52.5L65.1 50.9M74.6 51.2L79.5 51.2M89.0 51.9L93.7 51.1M103.3 51.9L108.0 51.1M117.6 51.9L122.3 51.1M132.3 52.5L136.5 50.9M146.5 52.5L150.8 50.9M160.8 52.5L165.0 50.9M175.1 52.5L179.3 50.9M189.0 51.9L193.7 51.1M203.1 51.2L208.0 51.2M217.4 51.2L222.3 51.2M231.7 51.2L236.6 51.2M246.0 51.2L250.8 51.2M4.4 56.7L7.8 59.0M18.7 56.7L22.1 59.0M32.9 56.7L36.4 59.0M48.0 56.3L50.5 59.1M61.5 56.7L64.9 59.0M75.2 57.2L79.4 58.8M89.0 57.8L93.7 58.7M103.2 58.5L108.1 58.5M117.6 59.2L122.3 58.3M132.3 59.8L136.5 58.2M146.5 59.8L150.8 58.2M160.8 59.8L165.0 58.2M175.1 59.8L179.3 58.2M189.0 59.2L193.7 58.3M203.3 59.2L208.0 58.3M217.4 58.5L222.3 58.5M231.7 58.5L236.6 58.5M246.0 58.5L250.8 58.5M4.4 64.0L7.8 66.2M18.7 64.0L22.1 66.2M32.9 64.0L36.4 66.2M47.2 64.0L50.7 66.2M61.5 64.0L64.9 66.2M75.2 64.5L79.4 66.1M89.0 65.1L93.7 65.9M103.2 65.8L108.1 65.8M117.5 65.8L122.3 65.8M132.3 67.1L136.5 65.5M146.5 67.1L150.8 65.5M160.8 67.1L165.0 65.5M175.1 67.1L179.3 65.5M189.4 67.1L193.6 65.5M203.3 66.4L208.0 65.6M217.4 65.8L222.3 65.8M231.7 65.8L236.6 65.8M246.1 65.1L250.8 65.9M4.4 71.3L7.8 73.5M18.7 71.3L22.1 73.5M32.9 71.3L36.4 73.5M47.2 71.3L50.7 73.5M61.5 71.3L64.9 73.5M75.2 71.8L79.4 73.4M89.0 72.4L93.7 73.2M103.2 73.1L108.1 73.1M117.5 73.1L122.3 73.1M132.3 74.3L136.5 72.7M147.2 74.9L150.6 72.6M161.4 74.9L164.9 72.6M175.1 74.3L179.3 72.7M189.4 74.3L193.6 72.7M203.3 73.7L208.0 72.9M217.4 73.1L222.3 73.1M231.8 72.4L236.5 73.2M246.1 72.4L250.8 73.2M4.4 78.5L7.8 80.8M18.7 78.5L22.1 80.8M32.9 78.5L36.4 80.8M47.2 78.5L50.7 80.8M61.5 78.5L64.9 80.8M75.2 79.1L79.4 80.7M89.0 79.7L93.7 80.5M103.2 80.3L108.1 80.3M117.5 80.3L122.3 80.3M132.3 81.6L136.5 80.0M148.0 82.5L150.4 79.8M163.2 82.8L164.4 79.7M176.5 82.5L179.0 79.8M190.0 82.1L193.4 79.9M203.3 81.0L208.0 80.2M217.4 80.3L222.3 80.3M231.8 79.7L236.5 80.5M246.1 79.7L250.8 80.5M4.4 85.8L7.8 88.1M18.7 85.8L22.1 88.1M32.9 85.8L36.4 88.1M47.2 85.8L50.7 88.1M61.5 85.8L64.9 88.1M75.8 85.8L79.2 88.1M89.4 86.3L93.6 87.9M103.3 87.0L108.0 87.8M117.5 87.6L122.3 87.6M132.3 88.9L136.5 87.3M149.9 90.2L149.9 87.0M167.0 89.4L163.5 87.2M181.2 89.4L177.8 87.2M196.5 88.3L191.8 87.5M203.1 87.6L208.0 87.6M217.5 87.0L222.2 87.8M231.8 87.0L236.5 87.8M246.1 87.0L250.8 87.8M4.4 93.1L7.8 95.4M18.7 93.1L22.1 95.4M32.9 93.1L36.4 95.4M47.2 93.1L50.7 95.4M61.5 93.1L64.9 95.4M75.8 93.1L79.2 95.4M90.0 93.1L93.5 95.4M104.3 93.1L107.8 95.4M118.6 93.1L122.1 95.4M132.9 93.1L136.3 95.4M153.8 94.9L148.9 94.9M168.1 94.9L163.2 94.9M182.2 94.2L177.5 95.1M194.7 92.7L192.3 95.5M205.1 92.7L207.5 95.5M218.5 93.1L222.0 95.4M232.2 93.6L236.4 95.2M246.5 93.6L250.7 95.2M5.2 100.0L7.6 102.7M19.5 100.0L21.9 102.7M33.7 100.0L36.2 102.7M48.0 100.0L50.5 102.7M62.3 100.0L64.7 102.7M76.6 100.0L79.0 102.7M91.8 99.7L93.1 102.8M107.1 99.6L107.1 102.8M121.4 99.6L121.4 102.8M135.6 99.6L135.6 102.8M149.9 99.6L149.9 102.8M164.2 99.6L164.2 102.8M178.5 99.6L178.5 102.8M191.7 99.7L193.0 102.8M204.3 100.4L207.7 102.6M218.5 100.4L222.0 102.6M232.2 100.9L236.4 102.5M246.5 100.9L250.7 102.5M5.2 107.3L7.6 110.0M19.5 107.3L21.9 110.0M33.7 107.3L36.2 110.0M49.0 107.0L50.2 110.1M63.2 107.0L64.5 110.1M77.5 107.0L78.8 110.1M92.8 106.9L92.8 110.1M107.1 106.9L107.1 110.1M121.4 106.9L121.4 110.1M135.6 106.9L135.6 110.1M150.9 107.0L149.7 110.1M166.1 107.3L163.7 110.0M176.5 107.3L179.0 110.0M190.0 107.7L193.4 109.9M204.3 107.7L207.7 109.9M217.9 108.2L222.1 109.8M232.2 108.2L236.4 109.8M246.1 108.8L250.8 109.6M6.1 114.3L7.4 117.4M20.4 114.3L21.7 117.4M34.7 114.3L35.9 117.4M49.0 114.3L50.2 117.4M64.2 114.2L64.2 117.4M78.5 114.2L78.5 117.4M92.8 114.2L92.8 117.4M108.1 114.3L106.8 117.4M123.3 114.5L120.9 117.3M137.6 114.5L135.2 117.3M152.7 114.9L149.2 117.2M164.2 114.2L164.2 117.4M174.6 116.7L179.4 116.7M189.0 116.1L193.7 116.9M203.3 116.1L208.0 116.9M217.5 116.1L222.2 116.9M231.7 116.7L236.6 116.7M246.0 116.7L250.8 116.7M6.1 121.6L7.4 124.6M20.4 121.6L21.7 124.6M35.7 121.5L35.7 124.7M50.0 121.5L50.0 124.7M64.2 121.5L64.2 124.7M78.5 121.5L78.5 124.7M93.8 121.6L92.6 124.6M109.0 121.8L106.6 124.6M124.1 122.2L120.7 124.5M139.4 123.4L134.7 124.2M153.8 124.0L148.9 124.0M166.1 126.2L163.7 123.5M178.5 126.6L178.5 123.4M190.0 125.8L193.4 123.6M203.7 125.3L207.9 123.7M217.5 124.7L222.2 123.9M231.8 124.7L236.5 123.9M246.1 124.7L250.8 123.9M6.1 128.8L7.4 131.9M21.4 128.8L21.4 131.9M35.7 128.8L35.7 131.9M50.0 128.8L50.0 131.9M64.2 128.8L64.2 131.9M79.5 128.8L78.3 131.9M94.8 129.1L92.3 131.9M110.5 130.0L106.2 131.6M124.7 130.0L120.5 131.6M139.4 132.0L134.7 131.1M153.3 132.6L149.1 131.0M167.0 133.1L163.5 130.8M179.5 133.8L178.2 130.7M192.8 133.9L192.8 130.7M205.1 133.5L207.5 130.7M218.5 133.1L222.0 130.8M232.2 132.6L236.4 131.0M246.5 132.6L250.7 131.0" stroke="#000" stroke-width="1" fill="none"/>
<path d="M11.0 0.3L6.9 -1.4L8.1 0.3L6.9 2.0ZM25.3 0.3L21.1 -1.4L22.4 0.3L21.1 2.0ZM39.6 0.3L35.4 -1.4L36.7 0.3L35.4 2.0ZM53.9 0.3L49.7 -1.4L50.9 0.3L49.7 2.0ZM68.2 0.3L64.0 -1.4L65.2 0.3L64.0 2.0ZM82.4 0.3L78.3 -1.4L79.5 0.3L78.3 2.0ZM96.7 0.3L92.5 -1.4L93.8 0.3L92.5 2.0ZM111.0 0.3L106.8 -1.4L108.1 0.3L106.8 2.0ZM125.1 1.0L121.8 -1.4L122.3 0.5L120.4 1.9ZM139.4 1.0L136.1 -1.4L136.6 0.5L134.7 1.9ZM153.8 0.3L149.6 -1.4L150.9 0.3L149.6 2.0ZM168.1 0.3L163.9 -1.4L165.2 0.3L163.9 2.0ZM182.2 -0.4L177.5 -1.3L179.4 0.1L178.9 2.0ZM196.1 -1.0L191.2 -1.1L193.6 -0.0L193.8 1.9ZM221.3 2.8L224.0 0.1L221.3 0.9L218.7 0.1ZM231.7 0.3L235.9 2.0L234.6 0.3L235.9 -1.4ZM246.0 0.3L250.1 2.0L248.9 0.3L250.1 -1.4ZM11.0 7.5L6.9 5.8L8.1 7.5L6.9 9.3ZM25.3 7.5L21.1 5.8L22.4 7.5L21.1 9.3ZM39.6 7.5L35.4 5.8L36.7 7.5L35.4 9.3ZM53.9 7.5L49.7 5.8L50.9 7.5L49.7 9.3ZM68.2 7.5L64.0 5.8L65.2 7.5L64.0 9.3ZM82.4 7.5L78.3 5.8L79.5 7.5L78.3 9.3ZM96.7 7.5L92.5 5.8L93.8 7.5L92.5 9.3ZM111.0 7.5L106.8 5.8L108.1 7.5L106.8 9.3ZM125.1 8.2L121.8 5.8L122.3 7.7L120.4 9.2ZM139.4 8.2L136.1 5.8L136.6 7.7L134.7 9.2ZM153.8 7.5L149.6 5.8L150.9 7.5L149.6 9.3ZM168.1 7.5L163.9 5.8L165.2 7.5L163.9 9.3ZM182.2 6.9L177.5 5.9L179.4 7.4L178.9 9.3ZM196.1 6.3L191.2 6.1L193.6 7.2L193.8 9.1ZM221.3 10.1L224.0 7.4L221.3 8.2L218.7 7.4ZM231.7 7.5L235.9 9.3L234.6 7.5L235.9 5.8ZM246.0 7.5L250.1 9.3L248.9 7.5L250.1 5.8ZM11.0 14.8L6.9 13.1L8.1 14.8L6.9 16.6ZM25.3 14.8L21.1 13.1L22.4 14.8L21.1 16.6ZM39.6 14.8L35.4 13.1L36.7 14.8L35.4 16.6ZM53.9 14.8L49.7 13.1L50.9 14.8L49.7 16.6ZM68.2 14.8L64.0 13.1L65.2 14.8L64.0 16.6ZM82.4 14.8L78.3 13.1L79.5 14.8L78.3 16.6ZM96.7 14.8L92.5 13.1L93.8 14.8L92.5 16.6ZM111.0 14.8L106.8 13.1L108.1 14.8L106.8 16.6ZM125.1 15.5L121.8 13.1L122.3 15.0L120.4 16.4ZM139.0 16.1L136.7 13.2L136.5 15.1L134.1 16.2ZM153.8 14.8L149.6 13.1L150.9 14.8L149.6 16.6ZM168.1 14.8L163.9 13.1L165.2 14.8L163.9 16.6ZM182.2 14.2L177.5 13.2L179.4 14.7L178.9 16.5ZM196.5 14.2L191.8 13.2L193.7 14.7L193.2 16.5ZM223.3 17.0L223.5 13.8L221.8 15.4L218.9 15.5ZM231.8 14.2L235.2 16.5L234.6 14.7L236.5 13.2ZM246.0 14.8L250.1 16.6L248.9 14.8L250.1 13.1ZM11.0 22.1L6.9 20.4L8.1 22.1L6.9 23.8ZM25.3 22.1L21.1 20.4L22.4 22.1L21.1 23.8ZM39.6 22.1L35.4 20.4L36.7 22.1L35.4 23.8ZM53.9 22.1L49.7 20.4L50.9 22.1L49.7 23.8ZM68.2 22.1L64.0 20.4L65.2 22.1L64.0 23.8ZM82.4 22.1L78.3 20.4L79.5 22.1L78.3 23.8ZM96.7 22.1L92.5 20.4L93.8 22.1L92.5 23.8ZM111.0 22.1L106.8 20.4L108.1 22.1L106.8 23.8ZM124.7 23.4L122.5 20.5L122.2 22.4L119.8 23.5ZM138.4 23.9L137.3 20.7L136.3 22.6L133.6 23.2ZM153.8 22.1L149.6 20.4L150.9 22.1L149.6 23.8ZM168.0 21.4L163.2 20.5L165.1 21.9L164.6 23.8ZM182.2 21.4L177.5 20.5L179.4 21.9L178.9 23.8ZM196.7 22.1L192.5 20.4L193.7 22.1L192.5 23.8ZM210.4 23.4L208.1 20.5L207.9 22.4L205.5 23.5ZM224.7 23.4L222.4 20.5L222.1 22.4L219.7 23.5ZM239.4 22.8L236.0 20.4L236.5 22.3L234.6 23.7ZM253.8 22.1L249.6 20.4L250.8 22.1L249.6 23.8ZM10.9 30.0L7.6 27.7L8.1 29.5L6.2 31.0ZM25.2 30.0L21.8 27.7L22.4 29.5L20.5 31.0ZM39.5 30.0L36.1 27.7L36.6 29.5L34.7 31.0ZM53.7 28.7L49.0 27.8L50.9 29.2L50.4 31.1ZM68.0 28.7L63.3 27.8L65.2 29.2L64.7 31.1ZM82.3 28.7L77.6 27.8L79.5 29.2L79.0 31.1ZM96.6 28.7L91.9 27.8L93.7 29.2L93.2 31.1ZM111.0 29.4L106.8 27.6L108.1 29.4L106.8 31.1ZM124.7 30.7L122.5 27.8L122.2 29.7L119.8 30.8ZM132.9 31.2L137.7 30.5L134.9 29.8L134.0 28.0ZM152.7 27.6L147.8 28.3L150.6 28.9L151.6 30.7ZM167.6 28.1L162.6 28.0L165.0 29.1L165.3 31.0ZM182.2 28.7L177.5 27.8L179.4 29.2L178.9 31.1ZM196.5 28.7L191.8 27.8L193.7 29.2L193.2 31.1ZM210.9 29.4L206.8 27.6L208.0 29.4L206.8 31.1ZM225.2 29.4L221.0 27.6L222.3 29.4L221.0 31.1ZM239.5 29.4L235.3 27.6L236.6 29.4L235.3 31.1ZM253.8 29.4L249.6 27.6L250.8 29.4L249.6 31.1ZM10.9 37.3L7.6 34.9L8.1 36.8L6.2 38.3ZM25.2 37.3L21.8 34.9L22.4 36.8L20.5 38.3ZM39.5 37.3L36.1 34.9L36.6 36.8L34.7 38.3ZM53.7 36.0L49.0 35.0L50.9 36.5L50.4 38.4ZM67.6 35.4L62.7 35.2L65.1 36.3L65.3 38.3ZM81.9 35.4L77.0 35.2L79.4 36.3L79.6 38.3ZM96.6 36.0L91.9 35.0L93.7 36.5L93.2 38.4ZM111.0 36.7L106.8 34.9L108.1 36.7L106.8 38.4ZM125.3 36.7L121.1 34.9L122.3 36.7L121.1 38.4ZM133.7 34.5L133.5 37.7L135.2 36.1L138.1 35.9ZM149.9 34.1L147.3 36.8L149.9 36.0L152.6 36.8ZM167.6 35.4L162.6 35.2L165.0 36.3L165.3 38.3ZM181.8 35.4L176.9 35.2L179.3 36.3L179.6 38.3ZM196.5 36.0L191.8 35.0L193.7 36.5L193.2 38.4ZM210.9 36.7L206.8 34.9L208.0 36.7L206.8 38.4ZM225.2 36.7L221.0 34.9L222.3 36.7L221.0 38.4ZM239.5 36.7L235.3 34.9L236.6 36.7L235.3 38.4ZM253.8 36.7L249.6 34.9L250.8 36.7L249.6 38.4ZM10.5 45.2L8.2 42.3L8.0 44.3L5.6 45.4ZM24.8 45.2L22.5 42.3L22.3 44.3L19.9 45.4ZM38.5 45.7L37.4 42.6L36.4 44.4L33.6 45.0ZM51.9 46.1L52.1 42.9L50.5 44.5L47.5 44.7ZM81.3 42.1L76.5 42.8L79.2 43.5L80.2 45.3ZM96.2 42.7L91.2 42.5L93.6 43.6L93.9 45.5ZM110.9 43.3L106.1 42.3L108.0 43.8L107.5 45.7ZM125.1 43.3L120.4 42.3L122.3 43.8L121.8 45.7ZM138.4 42.1L133.6 42.8L136.3 43.5L137.3 45.3ZM152.7 42.1L147.8 42.8L150.6 43.5L151.6 45.3ZM167.6 42.7L162.6 42.5L165.0 43.6L165.3 45.5ZM181.8 42.7L176.9 42.5L179.3 43.6L179.6 45.5ZM196.1 42.7L191.2 42.5L193.6 43.6L193.8 45.5ZM210.8 43.3L206.1 42.3L208.0 43.8L207.5 45.7ZM225.2 43.9L221.0 42.2L222.3 43.9L221.0 45.7ZM239.5 43.9L235.3 42.2L236.6 43.9L235.3 45.7ZM253.8 43.9L249.6 42.2L250.8 43.9L249.6 45.7ZM10.5 52.5L8.2 49.6L8.0 51.5L5.6 52.6ZM24.8 52.5L22.5 49.6L22.3 51.5L19.9 52.6ZM37.6 53.4L37.9 50.2L36.2 51.8L33.3 51.9ZM50.0 53.8L52.6 51.0L50.0 51.9L47.3 51.0ZM67.6 49.9L62.7 49.8L65.1 50.9L65.3 52.8ZM82.4 51.2L78.3 49.5L79.5 51.2L78.3 53.0ZM96.6 50.6L91.9 49.6L93.7 51.1L93.2 52.9ZM110.9 50.6L106.1 49.6L108.0 51.1L107.5 52.9ZM125.1 50.6L120.4 49.6L122.3 51.1L121.8 52.9ZM139.0 49.9L134.1 49.8L136.5 50.9L136.7 52.8ZM153.3 49.9L148.4 49.8L150.8 50.9L151.0 52.8ZM167.6 49.9L162.6 49.8L165.0 50.9L165.3 52.8ZM181.8 49.9L176.9 49.8L179.3 50.9L179.6 52.8ZM196.5 50.6L191.8 49.6L193.7 51.1L193.2 52.9ZM210.9 51.2L206.8 49.5L208.0 51.2L206.8 53.0ZM225.2 51.2L221.0 49.5L222.3 51.2L221.0 53.0ZM239.5 51.2L235.3 49.5L236.6 51.2L235.3 53.0ZM253.8 51.2L249.6 49.5L250.8 51.2L249.6 53.0ZM9.9 60.3L8.8 57.1L7.8 59.0L5.1 59.6ZM24.2 60.3L23.1 57.1L22.1 59.0L19.3 59.6ZM38.5 60.3L37.4 57.1L36.4 59.0L33.6 59.6ZM51.9 60.7L52.1 57.5L50.5 59.1L47.5 59.2ZM67.0 60.3L65.9 57.1L64.9 59.0L62.2 59.6ZM81.9 59.8L79.6 56.9L79.4 58.8L77.0 59.9ZM96.6 59.2L93.2 56.8L93.7 58.7L91.9 60.1ZM111.0 58.5L106.8 56.8L108.1 58.5L106.8 60.2ZM125.1 57.8L120.4 56.9L122.3 58.3L121.8 60.2ZM139.0 57.2L134.1 57.1L136.5 58.2L136.7 60.1ZM153.3 57.2L148.4 57.1L150.8 58.2L151.0 60.1ZM167.6 57.2L162.6 57.1L165.0 58.2L165.3 60.1ZM181.8 57.2L176.9 57.1L179.3 58.2L179.6 60.1ZM196.5 57.8L191.8 56.9L193.7 58.3L193.2 60.2ZM210.8 57.8L206.1 56.9L208.0 58.3L207.5 60.2ZM225.2 58.5L221.0 56.8L222.3 58.5L221.0 60.2ZM239.5 58.5L235.3 56.8L236.6 58.5L235.3 60.2ZM253.8 58.5L249.6 56.8L250.8 58.5L249.6 60.2ZM9.9 67.6L8.8 64.4L7.8 66.2L5.1 66.9ZM24.2 67.6L23.1 64.4L22.1 66.2L19.3 66.9ZM38.5 67.6L37.4 64.4L36.4 66.2L33.6 66.9ZM52.7 67.6L51.7 64.4L50.7 66.2L47.9 66.9ZM67.0 67.6L65.9 64.4L64.9 66.2L62.2 66.9ZM81.9 67.1L79.6 64.2L79.4 66.1L77.0 67.2ZM96.6 66.4L93.2 64.1L93.7 65.9L91.9 67.4ZM111.0 65.8L106.8 64.0L108.1 65.8L106.8 67.5ZM125.3 65.8L121.1 64.0L122.3 65.8L121.1 67.5ZM139.0 64.5L134.1 64.4L136.5 65.5L136.7 67.4ZM153.3 64.5L148.4 64.4L150.8 65.5L151.0 67.4ZM167.6 64.5L162.6 64.4L165.0 65.5L165.3 67.4ZM181.8 64.5L176.9 64.4L179.3 65.5L179.6 67.4ZM196.1 64.5L191.2 64.4L193.6 65.5L193.8 67.4ZM210.8 65.1L206.1 64.2L208.0 65.6L207.5 67.5ZM225.2 65.8L221.0 64.0L222.3 65.8L221.0 67.5ZM239.5 65.8L235.3 64.0L236.6 65.8L235.3 67.5ZM253.6 66.4L250.3 64.1L250.8 65.9L248.9 67.4ZM9.9 74.9L8.8 71.7L7.8 73.5L5.1 74.2ZM24.2 74.9L23.1 71.7L22.1 73.5L19.3 74.2ZM38.5 74.9L37.4 71.7L36.4 73.5L33.6 74.2ZM52.7 74.9L51.7 71.7L50.7 73.5L47.9 74.2ZM67.0 74.9L65.9 71.7L64.9 73.5L62.2 74.2ZM81.9 74.3L79.6 71.5L79.4 73.4L77.0 74.5ZM96.6 73.7L93.2 71.3L93.7 73.2L91.9 74.7ZM111.0 73.1L106.8 71.3L108.1 73.1L106.8 74.8ZM125.3 73.1L121.1 71.3L122.3 73.1L121.1 74.8ZM139.0 71.8L134.1 71.6L136.5 72.7L136.7 74.7ZM152.7 71.3L147.8 72.0L150.6 72.6L151.6 74.4ZM167.0 71.3L162.1 72.0L164.9 72.6L165.9 74.4ZM181.8 71.8L176.9 71.6L179.3 72.7L179.6 74.7ZM196.1 71.8L191.2 71.6L193.6 72.7L193.8 74.7ZM210.8 72.4L206.1 71.4L208.0 72.9L207.5 74.8ZM225.2 73.1L221.0 71.3L222.3 73.1L221.0 74.8ZM239.4 73.7L236.0 71.3L236.5 73.2L234.6 74.7ZM253.6 73.7L250.3 71.3L250.8 73.2L248.9 74.7ZM9.9 82.1L8.8 79.0L7.8 80.8L5.1 81.4ZM24.2 82.1L23.1 79.0L22.1 80.8L19.3 81.4ZM38.5 82.1L37.4 79.0L36.4 80.8L33.6 81.4ZM52.7 82.1L51.7 79.0L50.7 80.8L47.9 81.4ZM67.0 82.1L65.9 79.0L64.9 80.8L62.2 81.4ZM81.9 81.6L79.6 78.7L79.4 80.7L77.0 81.8ZM96.6 81.0L93.2 78.6L93.7 80.5L91.9 82.0ZM111.0 80.3L106.8 78.6L108.1 80.3L106.8 82.1ZM125.3 80.3L121.1 78.6L122.3 80.3L121.1 82.1ZM139.0 79.1L134.1 78.9L136.5 80.0L136.7 81.9ZM151.9 78.1L147.5 79.6L150.4 79.8L152.1 81.4ZM165.2 77.9L161.6 80.1L164.4 79.7L166.7 81.0ZM180.4 78.1L176.0 79.6L179.0 79.8L180.6 81.4ZM195.5 78.5L190.7 79.2L193.4 79.9L194.4 81.7ZM210.8 79.7L206.1 78.7L208.0 80.2L207.5 82.1ZM225.2 80.3L221.0 78.6L222.3 80.3L221.0 82.1ZM239.4 81.0L236.0 78.6L236.5 80.5L234.6 82.0ZM253.6 81.0L250.3 78.6L250.8 80.5L248.9 82.0ZM9.9 89.4L8.8 86.3L7.8 88.1L5.1 88.7ZM24.2 89.4L23.1 86.3L22.1 88.1L19.3 88.7ZM38.5 89.4L37.4 86.3L36.4 88.1L33.6 88.7ZM52.7 89.4L51.7 86.3L50.7 88.1L47.9 88.7ZM67.0 89.4L65.9 86.3L64.9 88.1L62.2 88.7ZM81.3 89.4L80.2 86.3L79.2 88.1L76.5 88.7ZM96.2 88.9L93.9 86.0L93.6 87.9L91.2 89.0ZM110.9 88.3L107.5 85.9L108.0 87.8L106.1 89.2ZM125.3 87.6L121.1 85.9L122.3 87.6L121.1 89.4ZM139.0 86.3L134.1 86.2L136.5 87.3L136.7 89.2ZM149.9 85.1L147.3 87.8L149.9 87.0L152.6 87.8ZM161.4 85.8L162.5 89.0L163.5 87.2L166.3 86.5ZM175.7 85.8L176.8 89.0L177.8 87.2L180.5 86.5ZM189.0 87.0L192.3 89.3L191.8 87.5L193.7 86.0ZM210.9 87.6L206.8 85.9L208.0 87.6L206.8 89.4ZM225.1 88.3L221.7 85.9L222.2 87.8L220.4 89.2ZM239.4 88.3L236.0 85.9L236.5 87.8L234.6 89.2ZM253.6 88.3L250.3 85.9L250.8 87.8L248.9 89.2ZM9.9 96.7L8.8 93.5L7.8 95.4L5.1 96.0ZM24.2 96.7L23.1 93.5L22.1 95.4L19.3 96.0ZM38.5 96.7L37.4 93.5L36.4 95.4L33.6 96.0ZM52.7 96.7L51.7 93.5L50.7 95.4L47.9 96.0ZM67.0 96.7L65.9 93.5L64.9 95.4L62.2 96.0ZM81.3 96.7L80.2 93.5L79.2 95.4L76.5 96.0ZM95.6 96.7L94.5 93.5L93.5 95.4L90.7 96.0ZM109.8 96.7L108.8 93.5L107.8 95.4L105.0 96.0ZM124.1 96.7L123.0 93.5L122.1 95.4L119.3 96.0ZM138.4 96.7L137.3 93.5L136.3 95.4L133.6 96.0ZM146.0 94.9L150.2 96.6L148.9 94.9L150.2 93.2ZM160.3 94.9L164.5 96.6L163.2 94.9L164.5 93.2ZM174.7 95.6L179.4 96.5L177.5 95.1L178.0 93.2ZM190.8 97.1L195.2 95.6L192.3 95.5L190.6 93.9ZM209.0 97.1L209.2 93.9L207.5 95.5L204.6 95.6ZM224.1 96.7L223.0 93.5L222.0 95.4L219.2 96.0ZM239.0 96.2L236.7 93.3L236.4 95.2L234.0 96.3ZM253.2 96.2L251.0 93.3L250.7 95.2L248.3 96.3ZM9.1 104.4L9.3 101.2L7.6 102.7L4.7 102.9ZM23.4 104.4L23.6 101.2L21.9 102.7L19.0 102.9ZM37.6 104.4L37.9 101.2L36.2 102.7L33.3 102.9ZM51.9 104.4L52.1 101.2L50.5 102.7L47.5 102.9ZM66.2 104.4L66.4 101.2L64.7 102.7L61.8 102.9ZM80.5 104.4L80.7 101.2L79.0 102.7L76.1 102.9ZM93.8 104.6L95.3 101.6L93.1 102.8L90.2 102.5ZM107.1 104.7L109.7 102.0L107.1 102.8L104.4 102.0ZM121.4 104.7L124.0 102.0L121.4 102.8L118.7 102.0ZM135.6 104.7L138.3 102.0L135.6 102.8L133.0 102.0ZM149.9 104.7L152.6 102.0L149.9 102.8L147.3 102.0ZM164.2 104.7L166.8 102.0L164.2 102.8L161.5 102.0ZM178.5 104.7L181.1 102.0L178.5 102.8L175.8 102.0ZM193.8 104.6L195.2 101.6L193.0 102.8L190.1 102.5ZM209.8 104.0L208.7 100.8L207.7 102.6L205.0 103.3ZM224.1 104.0L223.0 100.8L222.0 102.6L219.2 103.3ZM239.0 103.5L236.7 100.6L236.4 102.5L234.0 103.6ZM253.2 103.5L251.0 100.6L250.7 102.5L248.3 103.6ZM9.1 111.7L9.3 108.4L7.6 110.0L4.7 110.2ZM23.4 111.7L23.6 108.4L21.9 110.0L19.0 110.2ZM37.6 111.7L37.9 108.4L36.2 110.0L33.3 110.2ZM51.0 111.9L52.5 108.8L50.2 110.1L47.3 109.7ZM65.3 111.9L66.7 108.8L64.5 110.1L61.6 109.7ZM79.5 111.9L81.0 108.8L78.8 110.1L75.9 109.7ZM92.8 112.0L95.5 109.3L92.8 110.1L90.2 109.3ZM107.1 112.0L109.7 109.3L107.1 110.1L104.4 109.3ZM121.4 112.0L124.0 109.3L121.4 110.1L118.7 109.3ZM135.6 112.0L138.3 109.3L135.6 110.1L133.0 109.3ZM148.9 111.9L152.5 109.7L149.7 110.1L147.4 108.8ZM162.2 111.7L166.6 110.2L163.7 110.0L162.0 108.4ZM180.4 111.7L180.6 108.4L179.0 110.0L176.0 110.2ZM195.5 111.3L194.4 108.1L193.4 109.9L190.7 110.6ZM209.8 111.3L208.7 108.1L207.7 109.9L205.0 110.6ZM224.7 110.7L222.4 107.9L222.1 109.8L219.7 110.9ZM239.0 110.7L236.7 107.9L236.4 109.8L234.0 110.9ZM253.6 110.1L250.3 107.7L250.8 109.6L248.9 111.1ZM8.1 119.2L9.6 116.1L7.4 117.4L4.5 117.0ZM22.4 119.2L23.9 116.1L21.7 117.4L18.8 117.0ZM36.7 119.2L38.2 116.1L35.9 117.4L33.1 117.0ZM51.0 119.2L52.5 116.1L50.2 117.4L47.3 117.0ZM64.2 119.3L66.9 116.6L64.2 117.4L61.6 116.6ZM78.5 119.3L81.2 116.6L78.5 117.4L75.9 116.6ZM92.8 119.3L95.5 116.6L92.8 117.4L90.2 116.6ZM106.1 119.2L109.7 117.0L106.8 117.4L104.6 116.1ZM119.4 118.9L123.8 117.5L120.9 117.3L119.2 115.7ZM133.7 118.9L138.1 117.5L135.2 117.3L133.5 115.7ZM147.2 118.5L152.0 117.8L149.2 117.2L148.2 115.4ZM164.2 119.3L166.8 116.6L164.2 117.4L161.5 116.6ZM182.4 116.7L178.2 115.0L179.4 116.7L178.2 118.5ZM196.5 117.4L193.2 115.0L193.7 116.9L191.8 118.4ZM210.8 117.4L207.5 115.0L208.0 116.9L206.1 118.4ZM225.1 117.4L221.7 115.0L222.2 116.9L220.4 118.4ZM239.5 116.7L235.3 115.0L236.6 116.7L235.3 118.5ZM253.8 116.7L249.6 115.0L250.8 116.7L249.6 118.5ZM8.1 126.5L9.6 123.4L7.4 124.6L4.5 124.3ZM22.4 126.5L23.9 123.4L21.7 124.6L18.8 124.3ZM35.7 126.6L38.3 123.8L35.7 124.7L33.0 123.8ZM50.0 126.6L52.6 123.8L50.0 124.7L47.3 123.8ZM64.2 126.6L66.9 123.8L64.2 124.7L61.6 123.8ZM78.5 126.6L81.2 123.8L78.5 124.7L75.9 123.8ZM91.8 126.5L95.4 124.3L92.6 124.6L90.3 123.4ZM105.1 126.2L109.5 124.7L106.6 124.6L104.9 123.0ZM118.6 125.8L123.4 125.1L120.7 124.5L119.7 122.7ZM131.9 124.7L136.6 125.6L134.7 124.2L135.2 122.3ZM146.0 124.0L150.2 125.8L148.9 124.0L150.2 122.3ZM162.2 121.8L162.0 125.0L163.7 123.5L166.6 123.3ZM178.5 121.5L175.8 124.2L178.5 123.4L181.1 124.2ZM195.5 122.2L190.7 122.9L193.4 123.6L194.4 125.4ZM210.4 122.7L205.5 122.6L207.9 123.7L208.1 125.6ZM225.1 123.4L220.4 122.4L222.2 123.9L221.7 125.7ZM239.4 123.4L234.6 122.4L236.5 123.9L236.0 125.7ZM253.6 123.4L248.9 122.4L250.8 123.9L250.3 125.7ZM8.1 133.8L9.6 130.7L7.4 131.9L4.5 131.6ZM21.4 133.9L24.1 131.1L21.4 131.9L18.8 131.1ZM35.7 133.9L38.3 131.1L35.7 131.9L33.0 131.1ZM50.0 133.9L52.6 131.1L50.0 131.9L47.3 131.1ZM64.2 133.9L66.9 131.1L64.2 131.9L61.6 131.1ZM77.5 133.8L81.2 131.6L78.3 131.9L76.0 130.7ZM90.9 133.5L95.2 132.0L92.3 131.9L90.6 130.3ZM103.7 132.6L108.6 132.7L106.2 131.6L106.0 129.7ZM118.0 132.6L122.9 132.7L120.5 131.6L120.3 129.7ZM131.9 130.6L135.2 133.0L134.7 131.1L136.6 129.7ZM146.5 130.0L148.8 132.9L149.1 131.0L151.5 129.9ZM161.4 129.5L162.5 132.7L163.5 130.8L166.3 130.2ZM177.5 128.8L176.0 131.9L178.2 130.7L181.1 131.0ZM192.8 128.8L190.1 131.5L192.8 130.7L195.4 131.5ZM209.0 129.1L204.6 130.6L207.5 130.7L209.2 132.3ZM224.1 129.5L219.2 130.2L222.0 130.8L223.0 132.7ZM239.0 130.0L234.0 129.9L236.4 131.0L236.7 132.9ZM253.2 130.0L248.3 129.9L250.7 131.0L251.0 132.9Z" fill="#000"/>
<path d="M0 0H257.00V138.30H0Z M48.7 0.0L50.0 4.8L64.2 41.8L78.5 70.5L92.8 94.0L107.1 113.8L121.4 131.0L135.6 131.0L149.9 113.8L164.2 94.0L178.5 70.5L192.8 41.8L207.0 4.8L208.3 0.0Z" fill="#fff" fill-opacity="0.5" fill-rule="evenodd"/>
<path d="M48.7 0.0L50.0 4.8L64.2 41.8L78.5 70.5L92.8 94.0L107.1 113.8L121.4 131.0L135.6 131.0L149.9 113.8L164.2 94.0L178.5 70.5L192.8 41.8L207.0 4.8L208.3 0.0" fill="none" stroke="#000" stroke-width="0.75"/>
</g>
<rect x="0" y="0" width="257.00" height="138.30" fill="none" stroke="#262626" stroke-width="0.8"/>
<path d="M7.14 138.30v-2.6M7.14 0v2.6M35.69 138.30v-2.6M35.69 0v2.6M64.25 138.30v-2.6M64.25 0v2.6M92.81 138.30v-2.6M92.81 0v2.6M121.36 138.30v-2.6M121.36 0v2.6M149.92 138.30v-2.6M149.92 0v2.6M178.47 138.30v-2.6M178.47 0v2.6M207.03 138.30v-2.6M207.03 0v2.6M235.58 138.30v-2.6M235.58 0v2.6M0 83.30h2.6M257.00 83.30h-2.6" stroke="#262626" stroke-width="0.8" fill="none"/>
<text x="7.14" y="148.50" text-anchor="middle" font-size="8.5" class="t">2002</text>
<text x="35.69" y="148.50" text-anchor="middle" font-size="8.5" class="t">2004</text>
<text x="64.25" y="148.50" text-anchor="middle" font-size="8.5" class="t">2006</text>
<text x="92.81" y="148.50" text-anchor="middle" font-size="8.5" class="t">2008</text>
<text x="121.36" y="148.50" text-anchor="middle" font-size="8.5" class="t">2010</text>
<text x="149.92" y="148.50" text-anchor="middle" font-size="8.5" class="t">2012</text>
<text x="178.47" y="148.50" text-anchor="middle" font-size="8.5" class="t">2014</text>
<text x="207.03" y="148.50" text-anchor="middle" font-size="8.5" class="t">2016</text>
<text x="235.58" y="148.50" text-anchor="middle" font-size="8.5" class="t">2018</text>
<text x="-2" y="86.60" text-anchor="end" font-size="8.5" class="t">4</text>
<text transform="translate(-8.9,69.45) rotate(-90)" text-anchor="middle" font-size="9.35" class="t">Period</text>
<rect x="259.20" y="0.2" width="3.70" height="138.10" fill="url(#pg)"/>
<text x="264.50" y="3.90" font-size="8.5" class="t">3</text>
<text x="264.50" y="26.92" font-size="8.5" class="t">2</text>
<text x="264.50" y="49.93" font-size="8.5" class="t">1</text>
<text x="264.50" y="72.95" font-size="8.5" class="t">0</text>
<text x="264.50" y="95.97" font-size="8.5" class="t">-1</text>
<text x="264.50" y="118.98" font-size="8.5" class="t">-2</text>
<text x="264.50" y="142.00" font-size="8.5" class="t">-3</text>
<text x="265.80" y="-2.8" text-anchor="end" font-size="8.5" class="t">Spectral Intensity</text>
</g>
<g transform="translate(409.80,264.30)">
<clipPath id="cd"><rect x="0" y="0" width="257.00" height="138.30"/></clipPath>
<g clip-path="url(#cd)">
<g shape-rendering="crispEdges">
<rect x="-0.2" y="-0.2" width="43.2" height="4.3" fill="#f6f21e"/>
<rect x="42.6" y="-0.2" width="14.7" height="4.3" fill="#f9fb15"/>
<rect x="56.9" y="-0.2" width="14.7" height="4.3" fill="#f6f21e"/>
<rect x="71.2" y="-0.2" width="29.0" height="4.3" fill="#f5e825"/>
<rect x="99.7" y="-0.2" width="29.0" height="4.3" fill="#fad42e"/>
<rect x="128.3" y="-0.2" width="14.7" height="4.3" fill="#fec13a"/>
<rect x="142.6" y="-0.2" width="14.7" height="4.3" fill="#f8ba3d"/>
<rect x="156.9" y="-0.2" width="14.7" height="4.3" fill="#eaba31"/>
<rect x="171.1" y="-0.2" width="14.7" height="4.3" fill="#dabd28"/>
<rect x="185.4" y="-0.2" width="14.7" height="4.3" fill="#b4c533"/>
<rect x="199.7" y="-0.2" width="14.7" height="4.3" fill="#5ccc76"/>
<rect x="214.0" y="-0.2" width="14.7" height="4.3" fill="#88cb53"/>
<rect x="228.2" y="-0.2" width="14.7" height="4.3" fill="#b4c533"/>
<rect x="242.5" y="-0.2" width="14.7" height="4.3" fill="#c8c129"/>
<rect x="-0.2" y="3.7" width="57.5" height="7.7" fill="#f6f21e"/>
<rect x="56.9" y="3.7" width="14.7" height="7.7" fill="#f5e825"/>
<rect x="71.2" y="3.7" width="14.7" height="7.7" fill="#f6de29"/>
<rect x="85.5" y="3.7" width="29.0" height="7.7" fill="#fad42e"/>
<rect x="114.0" y="3.7" width="14.7" height="7.7" fill="#feca33"/>
<rect x="128.3" y="3.7" width="14.7" height="7.7" fill="#fec13a"/>
<rect x="142.6" y="3.7" width="14.7" height="7.7" fill="#f8ba3d"/>
<rect x="156.9" y="3.7" width="14.7" height="7.7" fill="#eaba31"/>
<rect x="171.1" y="3.7" width="14.7" height="7.7" fill="#dabd28"/>
<rect x="185.4" y="3.7" width="14.7" height="7.7" fill="#c8c129"/>
<rect x="199.7" y="3.7" width="14.7" height="7.7" fill="#b4c533"/>
<rect x="214.0" y="3.7" width="14.7" height="7.7" fill="#c8c129"/>
<rect x="228.2" y="3.7" width="14.7" height="7.7" fill="#dabd28"/>
<rect x="242.5" y="3.7" width="14.7" height="7.7" fill="#eaba31"/>
<rect x="-0.2" y="11.0" width="14.7" height="7.7" fill="#f5e825"/>
<rect x="14.1" y="11.0" width="29.0" height="7.7" fill="#f6f21e"/>
<rect x="42.6" y="11.0" width="29.0" height="7.7" fill="#f5e825"/>
<rect x="71.2" y="11.0" width="14.7" height="7.7" fill="#f6de29"/>
<rect x="85.5" y="11.0" width="29.0" height="7.7" fill="#fad42e"/>
<rect x="114.0" y="11.0" width="14.7" height="7.7" fill="#feca33"/>
<rect x="128.3" y="11.0" width="14.7" height="7.7" fill="#f8ba3d"/>
<rect x="142.6" y="11.0" width="29.0" height="7.7" fill="#eaba31"/>
<rect x="171.1" y="11.0" width="43.2" height="7.7" fill="#dabd28"/>
<rect x="214.0" y="11.0" width="14.7" height="7.7" fill="#eaba31"/>
<rect x="228.2" y="11.0" width="14.7" height="7.7" fill="#f8ba3d"/>
<rect x="242.5" y="11.0" width="14.7" height="7.7" fill="#fec13a"/>
<rect x="-0.2" y="18.3" width="14.7" height="7.7" fill="#f6de29"/>
<rect x="14.1" y="18.3" width="29.0" height="7.7" fill="#f5e825"/>
<rect x="42.6" y="18.3" width="29.0" height="7.7" fill="#f6de29"/>
<rect x="71.2" y="18.3" width="29.0" height="7.7" fill="#fad42e"/>
<rect x="99.7" y="18.3" width="29.0" height="7.7" fill="#feca33"/>
<rect x="128.3" y="18.3" width="14.7" height="7.7" fill="#eaba31"/>
<rect x="142.6" y="18.3" width="43.2" height="7.7" fill="#dabd28"/>
<rect x="185.4" y="18.3" width="14.7" height="7.7" fill="#eaba31"/>
<rect x="199.7" y="18.3" width="14.7" height="7.7" fill="#f8ba3d"/>
<rect x="214.0" y="18.3" width="29.0" height="7.7" fill="#fec13a"/>
<rect x="242.5" y="18.3" width="14.7" height="7.7" fill="#feca33"/>
<rect x="-0.2" y="25.5" width="29.0" height="7.7" fill="#f6de29"/>
<rect x="28.4" y="25.5" width="14.7" height="7.7" fill="#f5e825"/>
<rect x="42.6" y="25.5" width="29.0" height="7.7" fill="#fad42e"/>
<rect x="71.2" y="25.5" width="43.2" height="7.7" fill="#feca33"/>
<rect x="114.0" y="25.5" width="14.7" height="7.7" fill="#fec13a"/>
<rect x="128.3" y="25.5" width="14.7" height="7.7" fill="#c8c129"/>
<rect x="142.6" y="25.5" width="14.7" height="7.7" fill="#dabd28"/>
<rect x="156.9" y="25.5" width="14.7" height="7.7" fill="#eaba31"/>
<rect x="171.1" y="25.5" width="29.0" height="7.7" fill="#f8ba3d"/>
<rect x="199.7" y="25.5" width="29.0" height="7.7" fill="#fec13a"/>
<rect x="228.2" y="25.5" width="14.7" height="7.7" fill="#feca33"/>
<rect x="242.5" y="25.5" width="14.7" height="7.7" fill="#fad42e"/>
<rect x="-0.2" y="32.8" width="29.0" height="7.7" fill="#fad42e"/>
<rect x="28.4" y="32.8" width="14.7" height="7.7" fill="#f6de29"/>
<rect x="42.6" y="32.8" width="29.0" height="7.7" fill="#feca33"/>
<rect x="71.2" y="32.8" width="43.2" height="7.7" fill="#f8ba3d"/>
<rect x="114.0" y="32.8" width="14.7" height="7.7" fill="#eaba31"/>
<rect x="128.3" y="32.8" width="14.7" height="7.7" fill="#c8c129"/>
<rect x="142.6" y="32.8" width="14.7" height="7.7" fill="#dabd28"/>
<rect x="156.9" y="32.8" width="14.7" height="7.7" fill="#eaba31"/>
<rect x="171.1" y="32.8" width="14.7" height="7.7" fill="#f8ba3d"/>
<rect x="185.4" y="32.8" width="29.0" height="7.7" fill="#fec13a"/>
<rect x="214.0" y="32.8" width="14.7" height="7.7" fill="#feca33"/>
<rect x="228.2" y="32.8" width="14.7" height="7.7" fill="#fad42e"/>
<rect x="242.5" y="32.8" width="14.7" height="7.7" fill="#f6de29"/>
<rect x="-0.2" y="40.1" width="29.0" height="7.7" fill="#feca33"/>
<rect x="28.4" y="40.1" width="14.7" height="7.7" fill="#f8ba3d"/>
<rect x="42.6" y="40.1" width="14.7" height="7.7" fill="#eaba31"/>
<rect x="56.9" y="40.1" width="29.0" height="7.7" fill="#dabd28"/>
<rect x="85.5" y="40.1" width="29.0" height="7.7" fill="#c8c129"/>
<rect x="114.0" y="40.1" width="29.0" height="7.7" fill="#b4c533"/>
<rect x="142.6" y="40.1" width="14.7" height="7.7" fill="#c8c129"/>
<rect x="156.9" y="40.1" width="14.7" height="7.7" fill="#eaba31"/>
<rect x="171.1" y="40.1" width="14.7" height="7.7" fill="#f8ba3d"/>
<rect x="185.4" y="40.1" width="29.0" height="7.7" fill="#fec13a"/>
<rect x="214.0" y="40.1" width="14.7" height="7.7" fill="#feca33"/>
<rect x="228.2" y="40.1" width="14.7" height="7.7" fill="#fad42e"/>
<rect x="242.5" y="40.1" width="14.7" height="7.7" fill="#f6de29"/>
<rect x="-0.2" y="47.4" width="14.7" height="7.7" fill="#fec13a"/>
<rect x="14.1" y="47.4" width="14.7" height="7.7" fill="#feca33"/>
<rect x="28.4" y="47.4" width="14.7" height="7.7" fill="#f8ba3d"/>
<rect x="42.6" y="47.4" width="14.7" height="7.7" fill="#dabd28"/>
<rect x="56.9" y="47.4" width="14.7" height="7.7" fill="#9fc942"/>
<rect x="71.2" y="47.4" width="14.7" height="7.7" fill="#71cd64"/>
<rect x="85.5" y="47.4" width="14.7" height="7.7" fill="#88cb53"/>
<rect x="99.7" y="47.4" width="14.7" height="7.7" fill="#71cd64"/>
<rect x="114.0" y="47.4" width="29.0" height="7.7" fill="#88cb53"/>
<rect x="142.6" y="47.4" width="14.7" height="7.7" fill="#b4c533"/>
<rect x="156.9" y="47.4" width="14.7" height="7.7" fill="#dabd28"/>
<rect x="171.1" y="47.4" width="14.7" height="7.7" fill="#f8ba3d"/>
<rect x="185.4" y="47.4" width="29.0" height="7.7" fill="#fec13a"/>
<rect x="214.0" y="47.4" width="14.7" height="7.7" fill="#feca33"/>
<rect x="228.2" y="47.4" width="14.7" height="7.7" fill="#fad42e"/>
<rect x="242.5" y="47.4" width="14.7" height="7.7" fill="#f6de29"/>
<rect x="-0.2" y="54.7" width="14.7" height="7.7" fill="#fec13a"/>
<rect x="14.1" y="54.7" width="14.7" height="7.7" fill="#feca33"/>
<rect x="28.4" y="54.7" width="14.7" height="7.7" fill="#f8ba3d"/>
<rect x="42.6" y="54.7" width="14.7" height="7.7" fill="#b4c533"/>
<rect x="56.9" y="54.7" width="14.7" height="7.7" fill="#71cd64"/>
<rect x="71.2" y="54.7" width="29.0" height="7.7" fill="#48cb86"/>
<rect x="99.7" y="54.7" width="14.7" height="7.7" fill="#5ccc76"/>
<rect x="114.0" y="54.7" width="14.7" height="7.7" fill="#48cb86"/>
<rect x="128.3" y="54.7" width="14.7" height="7.7" fill="#71cd64"/>
<rect x="142.6" y="54.7" width="14.7" height="7.7" fill="#9fc942"/>
<rect x="156.9" y="54.7" width="14.7" height="7.7" fill="#c8c129"/>
<rect x="171.1" y="54.7" width="14.7" height="7.7" fill="#dabd28"/>
<rect x="185.4" y="54.7" width="14.7" height="7.7" fill="#eaba31"/>
<rect x="199.7" y="54.7" width="14.7" height="7.7" fill="#f8ba3d"/>
<rect x="214.0" y="54.7" width="14.7" height="7.7" fill="#feca33"/>
<rect x="228.2" y="54.7" width="29.0" height="7.7" fill="#fad42e"/>
<rect x="-0.2" y="61.9" width="14.7" height="7.7" fill="#fec13a"/>
<rect x="14.1" y="61.9" width="14.7" height="7.7" fill="#feca33"/>
<rect x="28.4" y="61.9" width="14.7" height="7.7" fill="#f8ba3d"/>
<rect x="42.6" y="61.9" width="14.7" height="7.7" fill="#b4c533"/>
<rect x="56.9" y="61.9" width="14.7" height="7.7" fill="#5ccc76"/>
<rect x="71.2" y="61.9" width="14.7" height="7.7" fill="#39c895"/>
<rect x="85.5" y="61.9" width="29.0" height="7.7" fill="#2fc5a2"/>
<rect x="114.0" y="61.9" width="14.7" height="7.7" fill="#24c2ae"/>
<rect x="128.3" y="61.9" width="14.7" height="7.7" fill="#39c895"/>
<rect x="142.6" y="61.9" width="14.7" height="7.7" fill="#71cd64"/>
<rect x="156.9" y="61.9" width="14.7" height="7.7" fill="#9fc942"/>
<rect x="171.1" y="61.9" width="14.7" height="7.7" fill="#b4c533"/>
<rect x="185.4" y="61.9" width="14.7" height="7.7" fill="#c8c129"/>
<rect x="199.7" y="61.9" width="14.7" height="7.7" fill="#eaba31"/>
<rect x="214.0" y="61.9" width="14.7" height="7.7" fill="#f8ba3d"/>
<rect x="228.2" y="61.9" width="29.0" height="7.7" fill="#feca33"/>
<rect x="-0.2" y="69.2" width="14.7" height="7.7" fill="#fec13a"/>
<rect x="14.1" y="69.2" width="14.7" height="7.7" fill="#feca33"/>
<rect x="28.4" y="69.2" width="14.7" height="7.7" fill="#f8ba3d"/>
<rect x="42.6" y="69.2" width="14.7" height="7.7" fill="#c8c129"/>
<rect x="56.9" y="69.2" width="14.7" height="7.7" fill="#71cd64"/>
<rect x="71.2" y="69.2" width="14.7" height="7.7" fill="#39c895"/>
<rect x="85.5" y="69.2" width="29.0" height="7.7" fill="#12beb9"/>
<rect x="114.0" y="69.2" width="14.7" height="7.7" fill="#02bac4"/>
<rect x="128.3" y="69.2" width="14.7" height="7.7" fill="#12beb9"/>
<rect x="142.6" y="69.2" width="14.7" height="7.7" fill="#39c895"/>
<rect x="156.9" y="69.2" width="14.7" height="7.7" fill="#5ccc76"/>
<rect x="171.1" y="69.2" width="14.7" height="7.7" fill="#71cd64"/>
<rect x="185.4" y="69.2" width="14.7" height="7.7" fill="#9fc942"/>
<rect x="199.7" y="69.2" width="14.7" height="7.7" fill="#b4c533"/>
<rect x="214.0" y="69.2" width="14.7" height="7.7" fill="#c8c129"/>
<rect x="228.2" y="69.2" width="14.7" height="7.7" fill="#dabd28"/>
<rect x="242.5" y="69.2" width="14.7" height="7.7" fill="#eaba31"/>
<rect x="-0.2" y="76.5" width="14.7" height="7.7" fill="#fec13a"/>
<rect x="14.1" y="76.5" width="14.7" height="7.7" fill="#feca33"/>
<rect x="28.4" y="76.5" width="14.7" height="7.7" fill="#f8ba3d"/>
<rect x="42.6" y="76.5" width="14.7" height="7.7" fill="#c8c129"/>
<rect x="56.9" y="76.5" width="14.7" height="7.7" fill="#88cb53"/>
<rect x="71.2" y="76.5" width="14.7" height="7.7" fill="#48cb86"/>
<rect x="85.5" y="76.5" width="14.7" height="7.7" fill="#02bac4"/>
<rect x="99.7" y="76.5" width="43.2" height="7.7" fill="#05b6ce"/>
<rect x="142.6" y="76.5" width="14.7" height="7.7" fill="#02bac4"/>
<rect x="156.9" y="76.5" width="14.7" height="7.7" fill="#24c2ae"/>
<rect x="171.1" y="76.5" width="14.7" height="7.7" fill="#2fc5a2"/>
<rect x="185.4" y="76.5" width="14.7" height="7.7" fill="#48cb86"/>
<rect x="199.7" y="76.5" width="14.7" height="7.7" fill="#71cd64"/>
<rect x="214.0" y="76.5" width="14.7" height="7.7" fill="#88cb53"/>
<rect x="228.2" y="76.5" width="29.0" height="7.7" fill="#9fc942"/>
<rect x="-0.2" y="83.8" width="29.0" height="7.7" fill="#fec13a"/>
<rect x="28.4" y="83.8" width="14.7" height="7.7" fill="#f8ba3d"/>
<rect x="42.6" y="83.8" width="14.7" height="7.7" fill="#c8c129"/>
<rect x="56.9" y="83.8" width="14.7" height="7.7" fill="#9fc942"/>
<rect x="71.2" y="83.8" width="14.7" height="7.7" fill="#5ccc76"/>
<rect x="85.5" y="83.8" width="14.7" height="7.7" fill="#24c2ae"/>
<rect x="99.7" y="83.8" width="14.7" height="7.7" fill="#13b0d7"/>
<rect x="114.0" y="83.8" width="29.0" height="7.7" fill="#1caadf"/>
<rect x="142.6" y="83.8" width="14.7" height="7.7" fill="#13b0d7"/>
<rect x="156.9" y="83.8" width="14.7" height="7.7" fill="#05b6ce"/>
<rect x="171.1" y="83.8" width="14.7" height="7.7" fill="#02bac4"/>
<rect x="185.4" y="83.8" width="14.7" height="7.7" fill="#12beb9"/>
<rect x="199.7" y="83.8" width="14.7" height="7.7" fill="#24c2ae"/>
<rect x="214.0" y="83.8" width="14.7" height="7.7" fill="#2fc5a2"/>
<rect x="228.2" y="83.8" width="14.7" height="7.7" fill="#39c895"/>
<rect x="242.5" y="83.8" width="14.7" height="7.7" fill="#48cb86"/>
<rect x="-0.2" y="91.1" width="29.0" height="7.7" fill="#fec13a"/>
<rect x="28.4" y="91.1" width="14.7" height="7.7" fill="#f8ba3d"/>
<rect x="42.6" y="91.1" width="14.7" height="7.7" fill="#c8c129"/>
<rect x="56.9" y="91.1" width="14.7" height="7.7" fill="#9fc942"/>
<rect x="71.2" y="91.1" width="14.7" height="7.7" fill="#71cd64"/>
<rect x="85.5" y="91.1" width="14.7" height="7.7" fill="#2fc5a2"/>
<rect x="99.7" y="91.1" width="14.7" height="7.7" fill="#1caadf"/>
<rect x="114.0" y="91.1" width="14.7" height="7.7" fill="#21a3e3"/>
<rect x="128.3" y="91.1" width="29.0" height="7.7" fill="#259ce7"/>
<rect x="156.9" y="91.1" width="14.7" height="7.7" fill="#21a3e3"/>
<rect x="171.1" y="91.1" width="14.7" height="7.7" fill="#1caadf"/>
<rect x="185.4" y="91.1" width="14.7" height="7.7" fill="#13b0d7"/>
<rect x="199.7" y="91.1" width="29.0" height="7.7" fill="#05b6ce"/>
<rect x="228.2" y="91.1" width="14.7" height="7.7" fill="#02bac4"/>
<rect x="242.5" y="91.1" width="14.7" height="7.7" fill="#12beb9"/>
<rect x="-0.2" y="98.3" width="14.7" height="7.7" fill="#f8ba3d"/>
<rect x="14.1" y="98.3" width="14.7" height="7.7" fill="#fec13a"/>
<rect x="28.4" y="98.3" width="14.7" height="7.7" fill="#f8ba3d"/>
<rect x="42.6" y="98.3" width="14.7" height="7.7" fill="#c8c129"/>
<rect x="56.9" y="98.3" width="14.7" height="7.7" fill="#9fc942"/>
<rect x="71.2" y="98.3" width="14.7" height="7.7" fill="#71cd64"/>
<rect x="85.5" y="98.3" width="14.7" height="7.7" fill="#39c895"/>
<rect x="99.7" y="98.3" width="14.7" height="7.7" fill="#1caadf"/>
<rect x="114.0" y="98.3" width="14.7" height="7.7" fill="#259ce7"/>
<rect x="128.3" y="98.3" width="14.7" height="7.7" fill="#2d8cf3"/>
<rect x="142.6" y="98.3" width="14.7" height="7.7" fill="#2e83f9"/>
<rect x="156.9" y="98.3" width="14.7" height="7.7" fill="#2d8cf3"/>
<rect x="171.1" y="98.3" width="14.7" height="7.7" fill="#2994ed"/>
<rect x="185.4" y="98.3" width="29.0" height="7.7" fill="#259ce7"/>
<rect x="214.0" y="98.3" width="14.7" height="7.7" fill="#21a3e3"/>
<rect x="228.2" y="98.3" width="29.0" height="7.7" fill="#1caadf"/>
<rect x="-0.2" y="105.6" width="29.0" height="7.7" fill="#eaba31"/>
<rect x="28.4" y="105.6" width="14.7" height="7.7" fill="#dabd28"/>
<rect x="42.6" y="105.6" width="14.7" height="7.7" fill="#b4c533"/>
<rect x="56.9" y="105.6" width="14.7" height="7.7" fill="#88cb53"/>
<rect x="71.2" y="105.6" width="14.7" height="7.7" fill="#5ccc76"/>
<rect x="85.5" y="105.6" width="14.7" height="7.7" fill="#2fc5a2"/>
<rect x="99.7" y="105.6" width="14.7" height="7.7" fill="#13b0d7"/>
<rect x="114.0" y="105.6" width="14.7" height="7.7" fill="#2994ed"/>
<rect x="128.3" y="105.6" width="14.7" height="7.7" fill="#347afd"/>
<rect x="142.6" y="105.6" width="14.7" height="7.7" fill="#4367fd"/>
<rect x="156.9" y="105.6" width="29.0" height="7.7" fill="#3d70ff"/>
<rect x="185.4" y="105.6" width="14.7" height="7.7" fill="#347afd"/>
<rect x="199.7" y="105.6" width="14.7" height="7.7" fill="#2e83f9"/>
<rect x="214.0" y="105.6" width="29.0" height="7.7" fill="#2d8cf3"/>
<rect x="242.5" y="105.6" width="14.7" height="7.7" fill="#2994ed"/>
<rect x="-0.2" y="112.9" width="14.7" height="7.7" fill="#dabd28"/>
<rect x="14.1" y="112.9" width="14.7" height="7.7" fill="#c8c129"/>
<rect x="28.4" y="112.9" width="14.7" height="7.7" fill="#dabd28"/>
<rect x="42.6" y="112.9" width="14.7" height="7.7" fill="#9fc942"/>
<rect x="56.9" y="112.9" width="14.7" height="7.7" fill="#71cd64"/>
<rect x="71.2" y="112.9" width="14.7" height="7.7" fill="#48cb86"/>
<rect x="85.5" y="112.9" width="14.7" height="7.7" fill="#24c2ae"/>
<rect x="99.7" y="112.9" width="14.7" height="7.7" fill="#1caadf"/>
<rect x="114.0" y="112.9" width="14.7" height="7.7" fill="#2d8cf3"/>
<rect x="128.3" y="112.9" width="14.7" height="7.7" fill="#347afd"/>
<rect x="142.6" y="112.9" width="14.7" height="7.7" fill="#465efb"/>
<rect x="156.9" y="112.9" width="29.0" height="7.7" fill="#4755f6"/>
<rect x="185.4" y="112.9" width="14.7" height="7.7" fill="#465efb"/>
<rect x="199.7" y="112.9" width="14.7" height="7.7" fill="#4367fd"/>
<rect x="214.0" y="112.9" width="14.7" height="7.7" fill="#3d70ff"/>
<rect x="228.2" y="112.9" width="29.0" height="7.7" fill="#347afd"/>
<rect x="-0.2" y="120.2" width="14.7" height="7.7" fill="#b4c533"/>
<rect x="14.1" y="120.2" width="14.7" height="7.7" fill="#9fc942"/>
<rect x="28.4" y="120.2" width="14.7" height="7.7" fill="#b4c533"/>
<rect x="42.6" y="120.2" width="14.7" height="7.7" fill="#88cb53"/>
<rect x="56.9" y="120.2" width="14.7" height="7.7" fill="#48cb86"/>
<rect x="71.2" y="120.2" width="14.7" height="7.7" fill="#2fc5a2"/>
<rect x="85.5" y="120.2" width="14.7" height="7.7" fill="#02bac4"/>
<rect x="99.7" y="120.2" width="14.7" height="7.7" fill="#259ce7"/>
<rect x="114.0" y="120.2" width="14.7" height="7.7" fill="#2e83f9"/>
<rect x="128.3" y="120.2" width="14.7" height="7.7" fill="#347afd"/>
<rect x="142.6" y="120.2" width="14.7" height="7.7" fill="#4755f6"/>
<rect x="156.9" y="120.2" width="14.7" height="7.7" fill="#484cef"/>
<rect x="171.1" y="120.2" width="14.7" height="7.7" fill="#4743e7"/>
<rect x="185.4" y="120.2" width="14.7" height="7.7" fill="#484cef"/>
<rect x="199.7" y="120.2" width="14.7" height="7.7" fill="#4755f6"/>
<rect x="214.0" y="120.2" width="14.7" height="7.7" fill="#465efb"/>
<rect x="228.2" y="120.2" width="14.7" height="7.7" fill="#4367fd"/>
<rect x="242.5" y="120.2" width="14.7" height="7.7" fill="#3d70ff"/>
<rect x="-0.2" y="127.5" width="14.7" height="7.7" fill="#88cb53"/>
<rect x="14.1" y="127.5" width="14.7" height="7.7" fill="#71cd64"/>
<rect x="28.4" y="127.5" width="14.7" height="7.7" fill="#88cb53"/>
<rect x="42.6" y="127.5" width="14.7" height="7.7" fill="#5ccc76"/>
<rect x="56.9" y="127.5" width="14.7" height="7.7" fill="#39c895"/>
<rect x="71.2" y="127.5" width="14.7" height="7.7" fill="#12beb9"/>
<rect x="85.5" y="127.5" width="14.7" height="7.7" fill="#13b0d7"/>
<rect x="99.7" y="127.5" width="14.7" height="7.7" fill="#2e83f9"/>
<rect x="114.0" y="127.5" width="14.7" height="7.7" fill="#4367fd"/>
<rect x="128.3" y="127.5" width="14.7" height="7.7" fill="#465efb"/>
<rect x="142.6" y="127.5" width="14.7" height="7.7" fill="#484cef"/>
<rect x="156.9" y="127.5" width="14.7" height="7.7" fill="#4743e7"/>
<rect x="171.1" y="127.5" width="14.7" height="7.7" fill="#463adc"/>
<rect x="185.4" y="127.5" width="14.7" height="7.7" fill="#4743e7"/>
<rect x="199.7" y="127.5" width="14.7" height="7.7" fill="#484cef"/>
<rect x="214.0" y="127.5" width="14.7" height="7.7" fill="#4755f6"/>
<rect x="228.2" y="127.5" width="14.7" height="7.7" fill="#465efb"/>
<rect x="242.5" y="127.5" width="14.7" height="7.7" fill="#4367fd"/>
<rect x="-0.2" y="134.7" width="14.7" height="3.8" fill="#5ccc76"/>
<rect x="14.1" y="134.7" width="14.7" height="3.8" fill="#48cb86"/>
<rect x="28.4" y="134.7" width="14.7" height="3.8" fill="#5ccc76"/>
<rect x="42.6" y="134.7" width="14.7" height="3.8" fill="#39c895"/>
<rect x="56.9" y="134.7" width="14.7" height="3.8" fill="#2fc5a2"/>
<rect x="71.2" y="134.7" width="14.7" height="3.8" fill="#05b6ce"/>
<rect x="85.5" y="134.7" width="14.7" height="3.8" fill="#21a3e3"/>
<rect x="99.7" y="134.7" width="14.7" height="3.8" fill="#4367fd"/>
<rect x="114.0" y="134.7" width="14.7" height="3.8" fill="#484cef"/>
<rect x="128.3" y="134.7" width="29.0" height="3.8" fill="#4743e7"/>
<rect x="156.9" y="134.7" width="14.7" height="3.8" fill="#463adc"/>
<rect x="171.1" y="134.7" width="14.7" height="3.8" fill="#4433cc"/>
<rect x="185.4" y="134.7" width="14.7" height="3.8" fill="#463adc"/>
<rect x="199.7" y="134.7" width="14.7" height="3.8" fill="#4743e7"/>
<rect x="214.0" y="134.7" width="14.7" height="3.8" fill="#484cef"/>
<rect x="228.2" y="134.7" width="14.7" height="3.8" fill="#4755f6"/>
<rect x="242.5" y="134.7" width="14.7" height="3.8" fill="#465efb"/>
</g>
<path d="M3.2 0.3L8.1 0.3M17.5 0.3L22.4 0.3M31.8 0.3L36.7 0.3M46.1 0.3L50.9 0.3M60.4 0.3L65.2 0.3M74.6 0.3L79.5 0.3M88.9 0.3L93.8 0.3M103.2 0.3L108.1 0.3M117.5 0.3L122.3 0.3M131.9 -0.4L136.6 0.5M146.0 0.3L150.9 0.3M160.3 0.3L165.2 0.3M174.7 1.0L179.4 0.1M189.4 1.6L193.6 -0.0M222.3 -2.2L221.1 0.9M231.8 -0.4L236.5 0.5M246.0 0.3L250.8 0.3M3.2 7.5L8.1 7.5M17.5 7.5L22.4 7.5M31.8 7.5L36.7 7.5M46.1 7.5L50.9 7.5M60.4 7.5L65.2 7.5M74.6 7.5L79.5 7.5M88.9 7.5L93.8 7.5M103.2 7.5L108.1 7.5M117.5 7.5L122.3 7.5M131.9 6.9L136.6 7.7M146.0 7.5L150.9 7.5M160.3 7.5L165.2 7.5M174.7 8.2L179.4 7.4M189.4 8.8L193.6 7.2M222.3 5.1L221.1 8.2M231.8 6.9L236.5 7.7M246.0 7.5L250.8 7.5M3.2 14.8L8.1 14.8M17.5 14.8L22.4 14.8M31.8 14.8L36.7 14.8M46.1 14.8L50.9 14.8M60.4 14.8L65.2 14.8M74.6 14.8L79.5 14.8M88.9 14.8L93.8 14.8M103.2 14.8L108.1 14.8M117.5 14.8L122.3 14.8M132.3 13.5L136.5 15.1M146.0 14.8L150.9 14.8M160.3 14.8L165.2 14.8M174.6 14.8L179.4 14.8M188.8 14.8L193.7 14.8M204.3 13.0L207.7 15.3M219.4 12.6L221.8 15.4M231.8 14.2L236.5 15.0M246.0 14.8L250.8 14.8M3.2 22.1L8.1 22.1M17.5 22.1L22.4 22.1M31.8 22.1L36.7 22.1M46.1 22.1L50.9 22.1M60.4 22.1L65.2 22.1M74.6 22.1L79.5 22.1M88.9 22.1L93.8 22.1M103.2 22.1L108.1 22.1M117.6 21.4L122.3 22.3M132.9 20.3L136.3 22.6M146.0 22.1L150.9 22.1M160.3 22.1L165.2 22.1M174.6 22.1L179.4 22.1M188.8 22.1L193.7 22.1M231.7 22.1L236.6 22.1M246.0 22.1L250.8 22.1M3.2 29.4L8.1 29.4M17.5 29.4L22.4 29.4M31.8 29.4L36.7 29.4M46.2 30.0L50.9 29.2M60.5 30.0L65.2 29.2M74.8 30.0L79.5 29.2M88.9 29.4L93.8 29.4M103.2 29.4L108.1 29.4M118.6 27.6L122.1 29.8M138.4 27.6L134.9 29.8M147.2 31.2L150.6 28.9M160.8 30.7L165.0 29.1M174.7 30.0L179.4 29.2M188.8 29.4L193.7 29.4M203.1 29.4L208.0 29.4M217.4 29.4L222.3 29.4M231.7 29.4L236.6 29.4M246.0 29.4L250.8 29.4M3.4 36.0L8.1 36.8M17.6 36.0L22.4 36.8M31.9 36.0L36.6 36.8M46.2 37.3L50.9 36.5M60.9 37.9L65.1 36.3M74.8 37.3L79.5 36.5M89.0 37.3L93.7 36.5M103.3 37.3L108.0 36.5M137.6 38.9L135.2 36.1M148.9 39.1L150.2 36.0M161.4 38.5L164.9 36.2M175.1 37.9L179.3 36.3M189.0 37.3L193.7 36.5M203.1 36.7L208.0 36.7M217.4 36.7L222.3 36.7M231.7 36.7L236.6 36.7M246.0 36.7L250.8 36.7M3.8 42.7L8.0 44.3M18.0 42.7L22.3 44.3M32.3 42.7L36.5 44.3M48.0 41.7L50.5 44.5M74.8 44.6L79.5 43.8M89.0 44.6L93.7 43.8M103.3 44.6L108.0 43.8M117.6 44.6L122.3 43.8M132.9 45.7L136.3 43.5M147.2 45.7L150.6 43.5M161.4 45.7L164.9 43.5M175.1 45.2L179.3 43.6M189.0 44.6L193.7 43.8M203.1 43.9L208.0 43.9M217.4 43.9L222.3 43.9M231.7 43.9L236.6 43.9M246.0 43.9L250.8 43.9M4.4 49.4L7.8 51.7M18.7 49.4L22.1 51.7M32.9 49.4L36.4 51.7M47.2 49.4L50.7 51.7M63.2 48.8L64.5 51.8M74.6 51.2L79.5 51.2M88.9 51.2L93.8 51.2M103.3 51.9L108.0 51.1M117.6 51.9L122.3 51.1M132.3 52.5L136.5 50.9M147.2 53.0L150.6 50.8M160.8 52.5L165.0 50.9M175.1 52.5L179.3 50.9M189.4 52.5L193.6 50.9M203.3 51.9L208.0 51.1M217.4 51.2L222.3 51.2M231.7 51.2L236.6 51.2M246.0 51.2L250.8 51.2M4.4 56.7L7.8 59.0M18.7 56.7L22.1 59.0M32.9 56.7L36.4 59.0M48.0 56.3L50.5 59.1M62.3 56.3L64.7 59.1M75.2 57.2L79.4 58.8M89.0 57.8L93.7 58.7M103.2 58.5L108.1 58.5M117.6 59.2L122.3 58.3M132.3 59.8L136.5 58.2M146.5 59.8L150.8 58.2M160.8 59.8L165.0 58.2M175.1 59.8L179.3 58.2M189.0 59.2L193.7 58.3M203.3 59.2L208.0 58.3M217.4 58.5L222.3 58.5M231.7 58.5L236.6 58.5M246.0 58.5L250.8 58.5M4.4 64.0L7.8 66.2M18.7 64.0L22.1 66.2M32.9 64.0L36.4 66.2M48.0 63.6L50.5 66.3M61.5 64.0L64.9 66.2M75.2 64.5L79.4 66.1M88.9 65.8L93.8 65.8M103.2 65.8L108.1 65.8M117.6 66.4L122.3 65.6M132.3 67.1L136.5 65.5M146.5 67.1L150.8 65.5M160.8 67.1L165.0 65.5M174.7 66.4L179.4 65.6M189.0 66.4L193.7 65.6M203.3 66.4L208.0 65.6M217.4 65.8L222.3 65.8M231.7 65.8L236.6 65.8M246.0 65.8L250.8 65.8M4.4 71.3L7.8 73.5M18.7 71.3L22.1 73.5M32.9 71.3L36.4 73.5M48.0 70.9L50.5 73.6M61.5 71.3L64.9 73.5M75.2 71.8L79.4 73.4M88.9 73.1L93.8 73.1M103.2 73.1L108.1 73.1M117.5 73.1L122.3 73.1M131.9 73.7L136.6 72.9M146.5 74.3L150.8 72.7M160.8 74.3L165.0 72.7M189.4 74.3L193.6 72.7M203.3 73.7L208.0 72.9M217.4 73.1L222.3 73.1M231.7 73.1L236.6 73.1M246.0 73.1L250.8 73.1M4.4 78.5L7.8 80.8M18.7 78.5L22.1 80.8M32.9 78.5L36.4 80.8M48.0 78.1L50.5 80.9M61.5 78.5L64.9 80.8M75.2 79.1L79.4 80.7M89.0 79.7L93.7 80.5M103.2 80.3L108.1 80.3M147.2 82.1L150.6 79.9M161.4 82.1L164.9 79.9M176.5 82.5L179.0 79.8M190.0 82.1L193.4 79.9M203.1 80.3L208.0 80.3M231.7 80.3L236.6 80.3M246.0 80.3L250.8 80.3M4.4 85.8L7.8 88.1M18.7 85.8L22.1 88.1M32.9 85.8L36.4 88.1M48.0 85.4L50.5 88.2M61.5 85.8L64.9 88.1M75.8 85.8L79.2 88.1M89.4 86.3L93.6 87.9M203.3 87.0L208.0 87.8M217.5 87.0L222.2 87.8M231.8 87.0L236.5 87.8M246.1 87.0L250.8 87.8M4.4 93.1L7.8 95.4M18.7 93.1L22.1 95.4M32.9 93.1L36.4 95.4M48.0 92.7L50.5 95.5M61.5 93.1L64.9 95.4M75.8 93.1L79.2 95.4M90.0 93.1L93.5 95.4M246.1 94.2L250.8 95.1M4.4 100.4L7.8 102.6M18.7 100.4L22.1 102.6M32.9 100.4L36.4 102.6M48.0 100.0L50.5 102.7M61.5 100.4L64.9 102.6M90.0 100.4L93.5 102.6M5.2 107.3L7.6 110.0M19.5 107.3L21.9 110.0M33.7 107.3L36.2 110.0M49.0 107.0L50.2 110.1M63.2 107.0L64.5 110.1M5.2 114.5L7.6 117.3M19.5 114.5L21.9 117.3M34.7 114.3L35.9 117.4M50.0 114.2L50.0 117.4M64.2 114.2L64.2 117.4M78.5 114.2L78.5 117.4M6.1 121.6L7.4 124.6M20.4 121.6L21.7 124.6M35.7 121.5L35.7 124.7M50.0 121.5L50.0 124.7M64.2 121.5L64.2 124.7M78.5 121.5L78.5 124.7M6.1 128.8L7.4 131.9M20.4 128.8L21.7 131.9M35.7 128.8L35.7 131.9M50.0 128.8L50.0 131.9M64.2 128.8L64.2 131.9" stroke="#000" stroke-width="1" fill="none"/>
<path d="M11.0 0.3L6.9 -1.4L8.1 0.3L6.9 2.0ZM25.3 0.3L21.1 -1.4L22.4 0.3L21.1 2.0ZM39.6 0.3L35.4 -1.4L36.7 0.3L35.4 2.0ZM53.9 0.3L49.7 -1.4L50.9 0.3L49.7 2.0ZM68.2 0.3L64.0 -1.4L65.2 0.3L64.0 2.0ZM82.4 0.3L78.3 -1.4L79.5 0.3L78.3 2.0ZM96.7 0.3L92.5 -1.4L93.8 0.3L92.5 2.0ZM111.0 0.3L106.8 -1.4L108.1 0.3L106.8 2.0ZM125.3 0.3L121.1 -1.4L122.3 0.3L121.1 2.0ZM139.4 1.0L136.1 -1.4L136.6 0.5L134.7 1.9ZM153.8 0.3L149.6 -1.4L150.9 0.3L149.6 2.0ZM168.1 0.3L163.9 -1.4L165.2 0.3L163.9 2.0ZM182.2 -0.4L177.5 -1.3L179.4 0.1L178.9 2.0ZM196.1 -1.0L191.2 -1.1L193.6 -0.0L193.8 1.9ZM220.3 2.8L223.9 0.6L221.1 0.9L218.8 -0.3ZM239.4 1.0L236.0 -1.4L236.5 0.5L234.6 1.9ZM253.8 0.3L249.6 -1.4L250.8 0.3L249.6 2.0ZM11.0 7.5L6.9 5.8L8.1 7.5L6.9 9.3ZM25.3 7.5L21.1 5.8L22.4 7.5L21.1 9.3ZM39.6 7.5L35.4 5.8L36.7 7.5L35.4 9.3ZM53.9 7.5L49.7 5.8L50.9 7.5L49.7 9.3ZM68.2 7.5L64.0 5.8L65.2 7.5L64.0 9.3ZM82.4 7.5L78.3 5.8L79.5 7.5L78.3 9.3ZM96.7 7.5L92.5 5.8L93.8 7.5L92.5 9.3ZM111.0 7.5L106.8 5.8L108.1 7.5L106.8 9.3ZM125.3 7.5L121.1 5.8L122.3 7.5L121.1 9.3ZM139.4 8.2L136.1 5.8L136.6 7.7L134.7 9.2ZM153.8 7.5L149.6 5.8L150.9 7.5L149.6 9.3ZM168.1 7.5L163.9 5.8L165.2 7.5L163.9 9.3ZM182.2 6.9L177.5 5.9L179.4 7.4L178.9 9.3ZM196.1 6.3L191.2 6.1L193.6 7.2L193.8 9.1ZM220.3 10.0L223.9 7.8L221.1 8.2L218.8 6.9ZM239.4 8.2L236.0 5.8L236.5 7.7L234.6 9.2ZM253.8 7.5L249.6 5.8L250.8 7.5L249.6 9.3ZM11.0 14.8L6.9 13.1L8.1 14.8L6.9 16.6ZM25.3 14.8L21.1 13.1L22.4 14.8L21.1 16.6ZM39.6 14.8L35.4 13.1L36.7 14.8L35.4 16.6ZM53.9 14.8L49.7 13.1L50.9 14.8L49.7 16.6ZM68.2 14.8L64.0 13.1L65.2 14.8L64.0 16.6ZM82.4 14.8L78.3 13.1L79.5 14.8L78.3 16.6ZM96.7 14.8L92.5 13.1L93.8 14.8L92.5 16.6ZM111.0 14.8L106.8 13.1L108.1 14.8L106.8 16.6ZM125.3 14.8L121.1 13.1L122.3 14.8L121.1 16.6ZM139.0 16.1L136.7 13.2L136.5 15.1L134.1 16.2ZM153.8 14.8L149.6 13.1L150.9 14.8L149.6 16.6ZM168.1 14.8L163.9 13.1L165.2 14.8L163.9 16.6ZM182.4 14.8L178.2 13.1L179.4 14.8L178.2 16.6ZM196.7 14.8L192.5 13.1L193.7 14.8L192.5 16.6ZM209.8 16.6L208.7 13.5L207.7 15.3L205.0 15.9ZM223.3 17.0L223.5 13.8L221.8 15.4L218.9 15.5ZM239.4 15.5L236.0 13.1L236.5 15.0L234.6 16.4ZM253.8 14.8L249.6 13.1L250.8 14.8L249.6 16.6ZM11.0 22.1L6.9 20.4L8.1 22.1L6.9 23.8ZM25.3 22.1L21.1 20.4L22.4 22.1L21.1 23.8ZM39.6 22.1L35.4 20.4L36.7 22.1L35.4 23.8ZM53.9 22.1L49.7 20.4L50.9 22.1L49.7 23.8ZM68.2 22.1L64.0 20.4L65.2 22.1L64.0 23.8ZM82.4 22.1L78.3 20.4L79.5 22.1L78.3 23.8ZM96.7 22.1L92.5 20.4L93.8 22.1L92.5 23.8ZM111.0 22.1L106.8 20.4L108.1 22.1L106.8 23.8ZM125.1 22.8L121.8 20.4L122.3 22.3L120.4 23.7ZM138.4 23.9L137.3 20.7L136.3 22.6L133.6 23.2ZM153.8 22.1L149.6 20.4L150.9 22.1L149.6 23.8ZM168.1 22.1L163.9 20.4L165.2 22.1L163.9 23.8ZM182.4 22.1L178.2 20.4L179.4 22.1L178.2 23.8ZM196.7 22.1L192.5 20.4L193.7 22.1L192.5 23.8ZM239.5 22.1L235.3 20.4L236.6 22.1L235.3 23.8ZM253.8 22.1L249.6 20.4L250.8 22.1L249.6 23.8ZM11.0 29.4L6.9 27.6L8.1 29.4L6.9 31.1ZM25.3 29.4L21.1 27.6L22.4 29.4L21.1 31.1ZM39.6 29.4L35.4 27.6L36.7 29.4L35.4 31.1ZM53.7 28.7L49.0 27.8L50.9 29.2L50.4 31.1ZM68.0 28.7L63.3 27.8L65.2 29.2L64.7 31.1ZM82.3 28.7L77.6 27.8L79.5 29.2L79.0 31.1ZM96.7 29.4L92.5 27.6L93.8 29.4L92.5 31.1ZM111.0 29.4L106.8 27.6L108.1 29.4L106.8 31.1ZM124.1 31.2L123.0 28.0L122.1 29.8L119.3 30.5ZM132.9 31.2L137.7 30.5L134.9 29.8L134.0 28.0ZM152.7 27.6L147.8 28.3L150.6 28.9L151.6 30.7ZM167.6 28.1L162.6 28.0L165.0 29.1L165.3 31.0ZM182.2 28.7L177.5 27.8L179.4 29.2L178.9 31.1ZM196.7 29.4L192.5 27.6L193.7 29.4L192.5 31.1ZM210.9 29.4L206.8 27.6L208.0 29.4L206.8 31.1ZM225.2 29.4L221.0 27.6L222.3 29.4L221.0 31.1ZM239.5 29.4L235.3 27.6L236.6 29.4L235.3 31.1ZM253.8 29.4L249.6 27.6L250.8 29.4L249.6 31.1ZM10.9 37.3L7.6 34.9L8.1 36.8L6.2 38.3ZM25.2 37.3L21.8 34.9L22.4 36.8L20.5 38.3ZM39.5 37.3L36.1 34.9L36.6 36.8L34.7 38.3ZM53.7 36.0L49.0 35.0L50.9 36.5L50.4 38.4ZM67.6 35.4L62.7 35.2L65.1 36.3L65.3 38.3ZM82.3 36.0L77.6 35.0L79.5 36.5L79.0 38.4ZM96.6 36.0L91.9 35.0L93.7 36.5L93.2 38.4ZM110.9 36.0L106.1 35.0L108.0 36.5L107.5 38.4ZM133.7 34.5L133.5 37.7L135.2 36.1L138.1 35.9ZM150.9 34.2L147.3 36.4L150.2 36.0L152.4 37.3ZM167.0 34.9L162.1 35.6L164.9 36.2L165.9 38.0ZM181.8 35.4L176.9 35.2L179.3 36.3L179.6 38.3ZM196.5 36.0L191.8 35.0L193.7 36.5L193.2 38.4ZM210.9 36.7L206.8 34.9L208.0 36.7L206.8 38.4ZM225.2 36.7L221.0 34.9L222.3 36.7L221.0 38.4ZM239.5 36.7L235.3 34.9L236.6 36.7L235.3 38.4ZM253.8 36.7L249.6 34.9L250.8 36.7L249.6 38.4ZM10.5 45.2L8.2 42.3L8.0 44.3L5.6 45.4ZM24.8 45.2L22.5 42.3L22.3 44.3L19.9 45.4ZM39.1 45.2L36.8 42.3L36.5 44.3L34.1 45.4ZM51.9 46.1L52.1 42.9L50.5 44.5L47.5 44.7ZM82.3 43.3L77.6 42.3L79.5 43.8L79.0 45.7ZM96.6 43.3L91.9 42.3L93.7 43.8L93.2 45.7ZM110.9 43.3L106.1 42.3L108.0 43.8L107.5 45.7ZM125.1 43.3L120.4 42.3L122.3 43.8L121.8 45.7ZM138.4 42.1L133.6 42.8L136.3 43.5L137.3 45.3ZM152.7 42.1L147.8 42.8L150.6 43.5L151.6 45.3ZM167.0 42.1L162.1 42.8L164.9 43.5L165.9 45.3ZM181.8 42.7L176.9 42.5L179.3 43.6L179.6 45.5ZM196.5 43.3L191.8 42.3L193.7 43.8L193.2 45.7ZM210.9 43.9L206.8 42.2L208.0 43.9L206.8 45.7ZM225.2 43.9L221.0 42.2L222.3 43.9L221.0 45.7ZM239.5 43.9L235.3 42.2L236.6 43.9L235.3 45.7ZM253.8 43.9L249.6 42.2L250.8 43.9L249.6 45.7ZM9.9 53.0L8.8 49.9L7.8 51.7L5.1 52.3ZM24.2 53.0L23.1 49.9L22.1 51.7L19.3 52.3ZM38.5 53.0L37.4 49.9L36.4 51.7L33.6 52.3ZM52.7 53.0L51.7 49.9L50.7 51.7L47.9 52.3ZM65.3 53.7L66.7 50.6L64.5 51.8L61.6 51.5ZM82.4 51.2L78.3 49.5L79.5 51.2L78.3 53.0ZM96.7 51.2L92.5 49.5L93.8 51.2L92.5 53.0ZM110.9 50.6L106.1 49.6L108.0 51.1L107.5 52.9ZM125.1 50.6L120.4 49.6L122.3 51.1L121.8 52.9ZM139.0 49.9L134.1 49.8L136.5 50.9L136.7 52.8ZM152.7 49.4L147.8 50.1L150.6 50.8L151.6 52.6ZM167.6 49.9L162.6 49.8L165.0 50.9L165.3 52.8ZM181.8 49.9L176.9 49.8L179.3 50.9L179.6 52.8ZM196.1 49.9L191.2 49.8L193.6 50.9L193.8 52.8ZM210.8 50.6L206.1 49.6L208.0 51.1L207.5 52.9ZM225.2 51.2L221.0 49.5L222.3 51.2L221.0 53.0ZM239.5 51.2L235.3 49.5L236.6 51.2L235.3 53.0ZM253.8 51.2L249.6 49.5L250.8 51.2L249.6 53.0ZM9.9 60.3L8.8 57.1L7.8 59.0L5.1 59.6ZM24.2 60.3L23.1 57.1L22.1 59.0L19.3 59.6ZM38.5 60.3L37.4 57.1L36.4 59.0L33.6 59.6ZM51.9 60.7L52.1 57.5L50.5 59.1L47.5 59.2ZM66.2 60.7L66.4 57.5L64.7 59.1L61.8 59.2ZM81.9 59.8L79.6 56.9L79.4 58.8L77.0 59.9ZM96.6 59.2L93.2 56.8L93.7 58.7L91.9 60.1ZM111.0 58.5L106.8 56.8L108.1 58.5L106.8 60.2ZM125.1 57.8L120.4 56.9L122.3 58.3L121.8 60.2ZM139.0 57.2L134.1 57.1L136.5 58.2L136.7 60.1ZM153.3 57.2L148.4 57.1L150.8 58.2L151.0 60.1ZM167.6 57.2L162.6 57.1L165.0 58.2L165.3 60.1ZM181.8 57.2L176.9 57.1L179.3 58.2L179.6 60.1ZM196.5 57.8L191.8 56.9L193.7 58.3L193.2 60.2ZM210.8 57.8L206.1 56.9L208.0 58.3L207.5 60.2ZM225.2 58.5L221.0 56.8L222.3 58.5L221.0 60.2ZM239.5 58.5L235.3 56.8L236.6 58.5L235.3 60.2ZM253.8 58.5L249.6 56.8L250.8 58.5L249.6 60.2ZM9.9 67.6L8.8 64.4L7.8 66.2L5.1 66.9ZM24.2 67.6L23.1 64.4L22.1 66.2L19.3 66.9ZM38.5 67.6L37.4 64.4L36.4 66.2L33.6 66.9ZM51.9 68.0L52.1 64.8L50.5 66.3L47.5 66.5ZM67.0 67.6L65.9 64.4L64.9 66.2L62.2 66.9ZM81.9 67.1L79.6 64.2L79.4 66.1L77.0 67.2ZM96.7 65.8L92.5 64.0L93.8 65.8L92.5 67.5ZM111.0 65.8L106.8 64.0L108.1 65.8L106.8 67.5ZM125.1 65.1L120.4 64.2L122.3 65.6L121.8 67.5ZM139.0 64.5L134.1 64.4L136.5 65.5L136.7 67.4ZM153.3 64.5L148.4 64.4L150.8 65.5L151.0 67.4ZM167.6 64.5L162.6 64.4L165.0 65.5L165.3 67.4ZM182.2 65.1L177.5 64.2L179.4 65.6L178.9 67.5ZM196.5 65.1L191.8 64.2L193.7 65.6L193.2 67.5ZM210.8 65.1L206.1 64.2L208.0 65.6L207.5 67.5ZM225.2 65.8L221.0 64.0L222.3 65.8L221.0 67.5ZM239.5 65.8L235.3 64.0L236.6 65.8L235.3 67.5ZM253.8 65.8L249.6 64.0L250.8 65.8L249.6 67.5ZM9.9 74.9L8.8 71.7L7.8 73.5L5.1 74.2ZM24.2 74.9L23.1 71.7L22.1 73.5L19.3 74.2ZM38.5 74.9L37.4 71.7L36.4 73.5L33.6 74.2ZM51.9 75.3L52.1 72.0L50.5 73.6L47.5 73.8ZM67.0 74.9L65.9 71.7L64.9 73.5L62.2 74.2ZM81.9 74.3L79.6 71.5L79.4 73.4L77.0 74.5ZM96.7 73.1L92.5 71.3L93.8 73.1L92.5 74.8ZM111.0 73.1L106.8 71.3L108.1 73.1L106.8 74.8ZM125.3 73.1L121.1 71.3L122.3 73.1L121.1 74.8ZM139.4 72.4L134.7 71.4L136.6 72.9L136.1 74.8ZM153.3 71.8L148.4 71.6L150.8 72.7L151.0 74.7ZM167.6 71.8L162.6 71.6L165.0 72.7L165.3 74.7ZM196.1 71.8L191.2 71.6L193.6 72.7L193.8 74.7ZM210.8 72.4L206.1 71.4L208.0 72.9L207.5 74.8ZM225.2 73.1L221.0 71.3L222.3 73.1L221.0 74.8ZM239.5 73.1L235.3 71.3L236.6 73.1L235.3 74.8ZM253.8 73.1L249.6 71.3L250.8 73.1L249.6 74.8ZM9.9 82.1L8.8 79.0L7.8 80.8L5.1 81.4ZM24.2 82.1L23.1 79.0L22.1 80.8L19.3 81.4ZM38.5 82.1L37.4 79.0L36.4 80.8L33.6 81.4ZM51.9 82.5L52.1 79.3L50.5 80.9L47.5 81.1ZM67.0 82.1L65.9 79.0L64.9 80.8L62.2 81.4ZM81.9 81.6L79.6 78.7L79.4 80.7L77.0 81.8ZM96.6 81.0L93.2 78.6L93.7 80.5L91.9 82.0ZM111.0 80.3L106.8 78.6L108.1 80.3L106.8 82.1ZM152.7 78.5L147.8 79.2L150.6 79.9L151.6 81.7ZM167.0 78.5L162.1 79.2L164.9 79.9L165.9 81.7ZM180.4 78.1L176.0 79.6L179.0 79.8L180.6 81.4ZM195.5 78.5L190.7 79.2L193.4 79.9L194.4 81.7ZM210.9 80.3L206.8 78.6L208.0 80.3L206.8 82.1ZM239.5 80.3L235.3 78.6L236.6 80.3L235.3 82.1ZM253.8 80.3L249.6 78.6L250.8 80.3L249.6 82.1ZM9.9 89.4L8.8 86.3L7.8 88.1L5.1 88.7ZM24.2 89.4L23.1 86.3L22.1 88.1L19.3 88.7ZM38.5 89.4L37.4 86.3L36.4 88.1L33.6 88.7ZM51.9 89.8L52.1 86.6L50.5 88.2L47.5 88.3ZM67.0 89.4L65.9 86.3L64.9 88.1L62.2 88.7ZM81.3 89.4L80.2 86.3L79.2 88.1L76.5 88.7ZM96.2 88.9L93.9 86.0L93.6 87.9L91.2 89.0ZM210.8 88.3L207.5 85.9L208.0 87.8L206.1 89.2ZM225.1 88.3L221.7 85.9L222.2 87.8L220.4 89.2ZM239.4 88.3L236.0 85.9L236.5 87.8L234.6 89.2ZM253.6 88.3L250.3 85.9L250.8 87.8L248.9 89.2ZM9.9 96.7L8.8 93.5L7.8 95.4L5.1 96.0ZM24.2 96.7L23.1 93.5L22.1 95.4L19.3 96.0ZM38.5 96.7L37.4 93.5L36.4 95.4L33.6 96.0ZM51.9 97.1L52.1 93.9L50.5 95.5L47.5 95.6ZM67.0 96.7L65.9 93.5L64.9 95.4L62.2 96.0ZM81.3 96.7L80.2 93.5L79.2 95.4L76.5 96.0ZM95.6 96.7L94.5 93.5L93.5 95.4L90.7 96.0ZM253.6 95.6L250.3 93.2L250.8 95.1L248.9 96.5ZM9.9 104.0L8.8 100.8L7.8 102.6L5.1 103.3ZM24.2 104.0L23.1 100.8L22.1 102.6L19.3 103.3ZM38.5 104.0L37.4 100.8L36.4 102.6L33.6 103.3ZM51.9 104.4L52.1 101.2L50.5 102.7L47.5 102.9ZM67.0 104.0L65.9 100.8L64.9 102.6L62.2 103.3ZM95.6 104.0L94.5 100.8L93.5 102.6L90.7 103.3ZM9.1 111.7L9.3 108.4L7.6 110.0L4.7 110.2ZM23.4 111.7L23.6 108.4L21.9 110.0L19.0 110.2ZM37.6 111.7L37.9 108.4L36.2 110.0L33.3 110.2ZM51.0 111.9L52.5 108.8L50.2 110.1L47.3 109.7ZM65.3 111.9L66.7 108.8L64.5 110.1L61.6 109.7ZM9.1 118.9L9.3 115.7L7.6 117.3L4.7 117.5ZM23.4 118.9L23.6 115.7L21.9 117.3L19.0 117.5ZM36.7 119.2L38.2 116.1L35.9 117.4L33.1 117.0ZM50.0 119.3L52.6 116.6L50.0 117.4L47.3 116.6ZM64.2 119.3L66.9 116.6L64.2 117.4L61.6 116.6ZM78.5 119.3L81.2 116.6L78.5 117.4L75.9 116.6ZM8.1 126.5L9.6 123.4L7.4 124.6L4.5 124.3ZM22.4 126.5L23.9 123.4L21.7 124.6L18.8 124.3ZM35.7 126.6L38.3 123.8L35.7 124.7L33.0 123.8ZM50.0 126.6L52.6 123.8L50.0 124.7L47.3 123.8ZM64.2 126.6L66.9 123.8L64.2 124.7L61.6 123.8ZM78.5 126.6L81.2 123.8L78.5 124.7L75.9 123.8ZM8.1 133.8L9.6 130.7L7.4 131.9L4.5 131.6ZM22.4 133.8L23.9 130.7L21.7 131.9L18.8 131.6ZM35.7 133.9L38.3 131.1L35.7 131.9L33.0 131.1ZM50.0 133.9L52.6 131.1L50.0 131.9L47.3 131.1ZM64.2 133.9L66.9 131.1L64.2 131.9L61.6 131.1Z" fill="#000"/>
<path d="M7.2 121.5L20.7 116.8L35.8 110.2L49.9 102.6L57.4 94.2L60.3 86.6L59.9 79.1L54.6 72.5L45.2 65.9L40.5 58.8L42.4 54.6L48 50.8L65 45.8L79.1 43.3L94.2 41.4L107.3 39.2L117.7 35.8L122.4 30.1L125.2 20.7L127.1 13.2L128.6 10.4L131.4 5.6L137.1 0.9L139 -1" fill="none" stroke="#000" stroke-width="1.3" stroke-linejoin="round"/>
<path d="M252.9 14.7L241.6 18.5L228.4 21.7L213.3 24.1L200.2 25L178.5 27.3L164.4 30.1L151.2 34.8L139.9 39.5L128.2 44.3L136.1 50.8L145.5 58.8L156.8 63.1L166.3 66.9L178.5 71.6L192.6 74.4L207.7 77.2L222.8 80L235.9 81.9L250.1 83.8" fill="none" stroke="#000" stroke-width="1.3" stroke-linejoin="round"/>
<path d="M0 0H257.00V138.30H0Z M48.7 0.0L50.0 4.8L64.2 41.8L78.5 70.5L92.8 94.0L107.1 113.8L121.4 131.0L135.6 131.0L149.9 113.8L164.2 94.0L178.5 70.5L192.8 41.8L207.0 4.8L208.3 0.0Z" fill="#fff" fill-opacity="0.5" fill-rule="evenodd"/>
<path d="M48.7 0.0L50.0 4.8L64.2 41.8L78.5 70.5L92.8 94.0L107.1 113.8L121.4 131.0L135.6 131.0L149.9 113.8L164.2 94.0L178.5 70.5L192.8 41.8L207.0 4.8L208.3 0.0" fill="none" stroke="#000" stroke-width="0.75"/>
</g>
<rect x="0" y="0" width="257.00" height="138.30" fill="none" stroke="#262626" stroke-width="0.8"/>
<path d="M7.14 138.30v-2.6M7.14 0v2.6M35.69 138.30v-2.6M35.69 0v2.6M64.25 138.30v-2.6M64.25 0v2.6M92.81 138.30v-2.6M92.81 0v2.6M121.36 138.30v-2.6M121.36 0v2.6M149.92 138.30v-2.6M149.92 0v2.6M178.47 138.30v-2.6M178.47 0v2.6M207.03 138.30v-2.6M207.03 0v2.6M235.58 138.30v-2.6M235.58 0v2.6M0 83.30h2.6M257.00 83.30h-2.6" stroke="#262626" stroke-width="0.8" fill="none"/>
<text x="7.14" y="148.50" text-anchor="middle" font-size="8.5" class="t">2002</text>
<text x="35.69" y="148.50" text-anchor="middle" font-size="8.5" class="t">2004</text>
<text x="64.25" y="148.50" text-anchor="middle" font-size="8.5" class="t">2006</text>
<text x="92.81" y="148.50" text-anchor="middle" font-size="8.5" class="t">2008</text>
<text x="121.36" y="148.50" text-anchor="middle" font-size="8.5" class="t">2010</text>
<text x="149.92" y="148.50" text-anchor="middle" font-size="8.5" class="t">2012</text>
<text x="178.47" y="148.50" text-anchor="middle" font-size="8.5" class="t">2014</text>
<text x="207.03" y="148.50" text-anchor="middle" font-size="8.5" class="t">2016</text>
<text x="235.58" y="148.50" text-anchor="middle" font-size="8.5" class="t">2018</text>
<text x="-2" y="86.60" text-anchor="end" font-size="8.5" class="t">4</text>
<text transform="translate(-8.9,69.45) rotate(-90)" text-anchor="middle" font-size="9.35" class="t">Period</text>
<rect x="259.20" y="0.2" width="3.70" height="138.10" fill="url(#pg)"/>
<text x="264.90" y="3.40" font-size="8.5" class="t">1</text>
<text x="264.90" y="31.02" font-size="8.5" class="t">0.8</text>
<text x="264.90" y="58.64" font-size="8.5" class="t">0.6</text>
<text x="264.90" y="86.26" font-size="8.5" class="t">0.4</text>
<text x="264.90" y="113.88" font-size="8.5" class="t">0.2</text>
<text x="264.90" y="141.50" font-size="8.5" class="t">0</text>
<text x="265.80" y="-2.8" text-anchor="end" font-size="8.5" class="t">Spectral Intensity</text>
</g>
<g transform="translate(43.00,520.50)">
<clipPath id="ce"><rect x="0" y="0" width="257.00" height="138.30"/></clipPath>
<g clip-path="url(#ce)">
<g shape-rendering="crispEdges">
<rect x="-0.2" y="-0.2" width="14.7" height="4.3" fill="#2fc5a2"/>
<rect x="14.1" y="-0.2" width="14.7" height="4.3" fill="#88cb53"/>
<rect x="28.4" y="-0.2" width="14.7" height="4.3" fill="#71cd64"/>
<rect x="42.6" y="-0.2" width="14.7" height="4.3" fill="#9fc942"/>
<rect x="56.9" y="-0.2" width="14.7" height="4.3" fill="#88cb53"/>
<rect x="71.2" y="-0.2" width="14.7" height="4.3" fill="#71cd64"/>
<rect x="85.5" y="-0.2" width="14.7" height="4.3" fill="#48cb86"/>
<rect x="99.7" y="-0.2" width="14.7" height="4.3" fill="#2fc5a2"/>
<rect x="114.0" y="-0.2" width="14.7" height="4.3" fill="#05b6ce"/>
<rect x="128.3" y="-0.2" width="14.7" height="4.3" fill="#21a3e3"/>
<rect x="142.6" y="-0.2" width="14.7" height="4.3" fill="#259ce7"/>
<rect x="156.9" y="-0.2" width="14.7" height="4.3" fill="#2d8cf3"/>
<rect x="171.1" y="-0.2" width="14.7" height="4.3" fill="#3d70ff"/>
<rect x="185.4" y="-0.2" width="14.7" height="4.3" fill="#412dbb"/>
<rect x="199.7" y="-0.2" width="14.7" height="4.3" fill="#3e26a8"/>
<rect x="214.0" y="-0.2" width="14.7" height="4.3" fill="#412dbb"/>
<rect x="228.2" y="-0.2" width="14.7" height="4.3" fill="#4433cc"/>
<rect x="242.5" y="-0.2" width="14.7" height="4.3" fill="#463adc"/>
<rect x="-0.2" y="3.7" width="14.7" height="7.7" fill="#9fc942"/>
<rect x="14.1" y="3.7" width="14.7" height="7.7" fill="#c8c129"/>
<rect x="28.4" y="3.7" width="14.7" height="7.7" fill="#b4c533"/>
<rect x="42.6" y="3.7" width="14.7" height="7.7" fill="#9fc942"/>
<rect x="56.9" y="3.7" width="14.7" height="7.7" fill="#88cb53"/>
<rect x="71.2" y="3.7" width="14.7" height="7.7" fill="#71cd64"/>
<rect x="85.5" y="3.7" width="14.7" height="7.7" fill="#48cb86"/>
<rect x="99.7" y="3.7" width="14.7" height="7.7" fill="#24c2ae"/>
<rect x="114.0" y="3.7" width="14.7" height="7.7" fill="#05b6ce"/>
<rect x="128.3" y="3.7" width="14.7" height="7.7" fill="#21a3e3"/>
<rect x="142.6" y="3.7" width="14.7" height="7.7" fill="#259ce7"/>
<rect x="156.9" y="3.7" width="14.7" height="7.7" fill="#2d8cf3"/>
<rect x="171.1" y="3.7" width="14.7" height="7.7" fill="#4367fd"/>
<rect x="185.4" y="3.7" width="14.7" height="7.7" fill="#4433cc"/>
<rect x="199.7" y="3.7" width="29.0" height="7.7" fill="#412dbb"/>
<rect x="228.2" y="3.7" width="14.7" height="7.7" fill="#4433cc"/>
<rect x="242.5" y="3.7" width="14.7" height="7.7" fill="#4743e7"/>
<rect x="-0.2" y="11.0" width="14.7" height="7.7" fill="#9fc942"/>
<rect x="14.1" y="11.0" width="14.7" height="7.7" fill="#dabd28"/>
<rect x="28.4" y="11.0" width="14.7" height="7.7" fill="#c8c129"/>
<rect x="42.6" y="11.0" width="14.7" height="7.7" fill="#9fc942"/>
<rect x="56.9" y="11.0" width="14.7" height="7.7" fill="#88cb53"/>
<rect x="71.2" y="11.0" width="14.7" height="7.7" fill="#71cd64"/>
<rect x="85.5" y="11.0" width="14.7" height="7.7" fill="#48cb86"/>
<rect x="99.7" y="11.0" width="14.7" height="7.7" fill="#24c2ae"/>
<rect x="114.0" y="11.0" width="14.7" height="7.7" fill="#13b0d7"/>
<rect x="128.3" y="11.0" width="14.7" height="7.7" fill="#2994ed"/>
<rect x="142.6" y="11.0" width="14.7" height="7.7" fill="#2d8cf3"/>
<rect x="156.9" y="11.0" width="14.7" height="7.7" fill="#2e83f9"/>
<rect x="171.1" y="11.0" width="14.7" height="7.7" fill="#3d70ff"/>
<rect x="185.4" y="11.0" width="14.7" height="7.7" fill="#463adc"/>
<rect x="199.7" y="11.0" width="29.0" height="7.7" fill="#4433cc"/>
<rect x="228.2" y="11.0" width="14.7" height="7.7" fill="#463adc"/>
<rect x="242.5" y="11.0" width="14.7" height="7.7" fill="#4743e7"/>
<rect x="-0.2" y="18.3" width="14.7" height="7.7" fill="#88cb53"/>
<rect x="14.1" y="18.3" width="14.7" height="7.7" fill="#c8c129"/>
<rect x="28.4" y="18.3" width="14.7" height="7.7" fill="#9fc942"/>
<rect x="42.6" y="18.3" width="14.7" height="7.7" fill="#71cd64"/>
<rect x="56.9" y="18.3" width="14.7" height="7.7" fill="#5ccc76"/>
<rect x="71.2" y="18.3" width="14.7" height="7.7" fill="#48cb86"/>
<rect x="85.5" y="18.3" width="14.7" height="7.7" fill="#2fc5a2"/>
<rect x="99.7" y="18.3" width="14.7" height="7.7" fill="#02bac4"/>
<rect x="114.0" y="18.3" width="14.7" height="7.7" fill="#259ce7"/>
<rect x="128.3" y="18.3" width="14.7" height="7.7" fill="#4755f6"/>
<rect x="142.6" y="18.3" width="14.7" height="7.7" fill="#4367fd"/>
<rect x="156.9" y="18.3" width="29.0" height="7.7" fill="#2e83f9"/>
<rect x="185.4" y="18.3" width="14.7" height="7.7" fill="#3d70ff"/>
<rect x="199.7" y="18.3" width="29.0" height="7.7" fill="#465efb"/>
<rect x="228.2" y="18.3" width="14.7" height="7.7" fill="#4367fd"/>
<rect x="242.5" y="18.3" width="14.7" height="7.7" fill="#3d70ff"/>
<rect x="-0.2" y="25.5" width="14.7" height="7.7" fill="#71cd64"/>
<rect x="14.1" y="25.5" width="14.7" height="7.7" fill="#88cb53"/>
<rect x="28.4" y="25.5" width="14.7" height="7.7" fill="#5ccc76"/>
<rect x="42.6" y="25.5" width="29.0" height="7.7" fill="#24c2ae"/>
<rect x="71.2" y="25.5" width="14.7" height="7.7" fill="#12beb9"/>
<rect x="85.5" y="25.5" width="14.7" height="7.7" fill="#05b6ce"/>
<rect x="99.7" y="25.5" width="14.7" height="7.7" fill="#2994ed"/>
<rect x="114.0" y="25.5" width="14.7" height="7.7" fill="#484cef"/>
<rect x="128.3" y="25.5" width="14.7" height="7.7" fill="#3e26a8"/>
<rect x="142.6" y="25.5" width="14.7" height="7.7" fill="#412dbb"/>
<rect x="156.9" y="25.5" width="14.7" height="7.7" fill="#3d70ff"/>
<rect x="171.1" y="25.5" width="14.7" height="7.7" fill="#2994ed"/>
<rect x="185.4" y="25.5" width="14.7" height="7.7" fill="#21a3e3"/>
<rect x="199.7" y="25.5" width="14.7" height="7.7" fill="#1caadf"/>
<rect x="214.0" y="25.5" width="14.7" height="7.7" fill="#13b0d7"/>
<rect x="228.2" y="25.5" width="14.7" height="7.7" fill="#1caadf"/>
<rect x="242.5" y="25.5" width="14.7" height="7.7" fill="#259ce7"/>
<rect x="-0.2" y="32.8" width="14.7" height="7.7" fill="#48cb86"/>
<rect x="14.1" y="32.8" width="14.7" height="7.7" fill="#5ccc76"/>
<rect x="28.4" y="32.8" width="14.7" height="7.7" fill="#24c2ae"/>
<rect x="42.6" y="32.8" width="14.7" height="7.7" fill="#21a3e3"/>
<rect x="56.9" y="32.8" width="14.7" height="7.7" fill="#2e83f9"/>
<rect x="71.2" y="32.8" width="14.7" height="7.7" fill="#2d8cf3"/>
<rect x="85.5" y="32.8" width="14.7" height="7.7" fill="#259ce7"/>
<rect x="99.7" y="32.8" width="14.7" height="7.7" fill="#2e83f9"/>
<rect x="114.0" y="32.8" width="14.7" height="7.7" fill="#463adc"/>
<rect x="128.3" y="32.8" width="14.7" height="7.7" fill="#3e26a8"/>
<rect x="142.6" y="32.8" width="14.7" height="7.7" fill="#463adc"/>
<rect x="156.9" y="32.8" width="14.7" height="7.7" fill="#2e83f9"/>
<rect x="171.1" y="32.8" width="14.7" height="7.7" fill="#21a3e3"/>
<rect x="185.4" y="32.8" width="14.7" height="7.7" fill="#02bac4"/>
<rect x="199.7" y="32.8" width="14.7" height="7.7" fill="#12beb9"/>
<rect x="214.0" y="32.8" width="14.7" height="7.7" fill="#24c2ae"/>
<rect x="228.2" y="32.8" width="14.7" height="7.7" fill="#12beb9"/>
<rect x="242.5" y="32.8" width="14.7" height="7.7" fill="#13b0d7"/>
<rect x="-0.2" y="40.1" width="14.7" height="7.7" fill="#39c895"/>
<rect x="14.1" y="40.1" width="14.7" height="7.7" fill="#2fc5a2"/>
<rect x="28.4" y="40.1" width="14.7" height="7.7" fill="#13b0d7"/>
<rect x="42.6" y="40.1" width="14.7" height="7.7" fill="#4743e7"/>
<rect x="56.9" y="40.1" width="14.7" height="7.7" fill="#412dbb"/>
<rect x="71.2" y="40.1" width="14.7" height="7.7" fill="#4755f6"/>
<rect x="85.5" y="40.1" width="14.7" height="7.7" fill="#347afd"/>
<rect x="99.7" y="40.1" width="14.7" height="7.7" fill="#2e83f9"/>
<rect x="114.0" y="40.1" width="14.7" height="7.7" fill="#3d70ff"/>
<rect x="128.3" y="40.1" width="14.7" height="7.7" fill="#4367fd"/>
<rect x="142.6" y="40.1" width="14.7" height="7.7" fill="#3d70ff"/>
<rect x="156.9" y="40.1" width="14.7" height="7.7" fill="#2994ed"/>
<rect x="171.1" y="40.1" width="14.7" height="7.7" fill="#05b6ce"/>
<rect x="185.4" y="40.1" width="14.7" height="7.7" fill="#24c2ae"/>
<rect x="199.7" y="40.1" width="14.7" height="7.7" fill="#39c895"/>
<rect x="214.0" y="40.1" width="14.7" height="7.7" fill="#48cb86"/>
<rect x="228.2" y="40.1" width="14.7" height="7.7" fill="#39c895"/>
<rect x="242.5" y="40.1" width="14.7" height="7.7" fill="#02bac4"/>
<rect x="-0.2" y="47.4" width="29.0" height="7.7" fill="#2fc5a2"/>
<rect x="28.4" y="47.4" width="14.7" height="7.7" fill="#1caadf"/>
<rect x="42.6" y="47.4" width="14.7" height="7.7" fill="#4367fd"/>
<rect x="56.9" y="47.4" width="14.7" height="7.7" fill="#4743e7"/>
<rect x="71.2" y="47.4" width="14.7" height="7.7" fill="#412dbb"/>
<rect x="85.5" y="47.4" width="14.7" height="7.7" fill="#4367fd"/>
<rect x="99.7" y="47.4" width="29.0" height="7.7" fill="#2e83f9"/>
<rect x="128.3" y="47.4" width="14.7" height="7.7" fill="#21a3e3"/>
<rect x="142.6" y="47.4" width="14.7" height="7.7" fill="#1caadf"/>
<rect x="156.9" y="47.4" width="14.7" height="7.7" fill="#05b6ce"/>
<rect x="171.1" y="47.4" width="14.7" height="7.7" fill="#24c2ae"/>
<rect x="185.4" y="47.4" width="14.7" height="7.7" fill="#39c895"/>
<rect x="199.7" y="47.4" width="29.0" height="7.7" fill="#5ccc76"/>
<rect x="228.2" y="47.4" width="14.7" height="7.7" fill="#48cb86"/>
<rect x="242.5" y="47.4" width="14.7" height="7.7" fill="#02bac4"/>
<rect x="-0.2" y="54.7" width="29.0" height="7.7" fill="#2fc5a2"/>
<rect x="28.4" y="54.7" width="14.7" height="7.7" fill="#05b6ce"/>
<rect x="42.6" y="54.7" width="14.7" height="7.7" fill="#259ce7"/>
<rect x="56.9" y="54.7" width="14.7" height="7.7" fill="#2994ed"/>
<rect x="71.2" y="54.7" width="14.7" height="7.7" fill="#2e83f9"/>
<rect x="85.5" y="54.7" width="14.7" height="7.7" fill="#2994ed"/>
<rect x="99.7" y="54.7" width="14.7" height="7.7" fill="#259ce7"/>
<rect x="114.0" y="54.7" width="14.7" height="7.7" fill="#21a3e3"/>
<rect x="128.3" y="54.7" width="14.7" height="7.7" fill="#24c2ae"/>
<rect x="142.6" y="54.7" width="14.7" height="7.7" fill="#12beb9"/>
<rect x="156.9" y="54.7" width="14.7" height="7.7" fill="#24c2ae"/>
<rect x="171.1" y="54.7" width="29.0" height="7.7" fill="#2fc5a2"/>
<rect x="199.7" y="54.7" width="29.0" height="7.7" fill="#48cb86"/>
<rect x="228.2" y="54.7" width="14.7" height="7.7" fill="#39c895"/>
<rect x="242.5" y="54.7" width="14.7" height="7.7" fill="#02bac4"/>
<rect x="-0.2" y="61.9" width="14.7" height="7.7" fill="#39c895"/>
<rect x="14.1" y="61.9" width="14.7" height="7.7" fill="#48cb86"/>
<rect x="28.4" y="61.9" width="14.7" height="7.7" fill="#24c2ae"/>
<rect x="42.6" y="61.9" width="14.7" height="7.7" fill="#02bac4"/>
<rect x="56.9" y="61.9" width="14.7" height="7.7" fill="#05b6ce"/>
<rect x="71.2" y="61.9" width="14.7" height="7.7" fill="#13b0d7"/>
<rect x="85.5" y="61.9" width="14.7" height="7.7" fill="#02bac4"/>
<rect x="99.7" y="61.9" width="14.7" height="7.7" fill="#12beb9"/>
<rect x="114.0" y="61.9" width="14.7" height="7.7" fill="#02bac4"/>
<rect x="128.3" y="61.9" width="14.7" height="7.7" fill="#39c895"/>
<rect x="142.6" y="61.9" width="14.7" height="7.7" fill="#2fc5a2"/>
<rect x="156.9" y="61.9" width="14.7" height="7.7" fill="#24c2ae"/>
<rect x="171.1" y="61.9" width="29.0" height="7.7" fill="#12beb9"/>
<rect x="199.7" y="61.9" width="14.7" height="7.7" fill="#24c2ae"/>
<rect x="214.0" y="61.9" width="14.7" height="7.7" fill="#2fc5a2"/>
<rect x="228.2" y="61.9" width="14.7" height="7.7" fill="#12beb9"/>
<rect x="242.5" y="61.9" width="14.7" height="7.7" fill="#13b0d7"/>
<rect x="-0.2" y="69.2" width="14.7" height="7.7" fill="#39c895"/>
<rect x="14.1" y="69.2" width="29.0" height="7.7" fill="#48cb86"/>
<rect x="42.6" y="69.2" width="14.7" height="7.7" fill="#39c895"/>
<rect x="56.9" y="69.2" width="29.0" height="7.7" fill="#2fc5a2"/>
<rect x="85.5" y="69.2" width="14.7" height="7.7" fill="#39c895"/>
<rect x="99.7" y="69.2" width="14.7" height="7.7" fill="#2fc5a2"/>
<rect x="114.0" y="69.2" width="29.0" height="7.7" fill="#24c2ae"/>
<rect x="142.6" y="69.2" width="14.7" height="7.7" fill="#02bac4"/>
<rect x="156.9" y="69.2" width="14.7" height="7.7" fill="#13b0d7"/>
<rect x="171.1" y="69.2" width="14.7" height="7.7" fill="#21a3e3"/>
<rect x="185.4" y="69.2" width="14.7" height="7.7" fill="#1caadf"/>
<rect x="199.7" y="69.2" width="14.7" height="7.7" fill="#13b0d7"/>
<rect x="214.0" y="69.2" width="14.7" height="7.7" fill="#05b6ce"/>
<rect x="228.2" y="69.2" width="14.7" height="7.7" fill="#13b0d7"/>
<rect x="242.5" y="69.2" width="14.7" height="7.7" fill="#21a3e3"/>
<rect x="-0.2" y="76.5" width="14.7" height="7.7" fill="#2fc5a2"/>
<rect x="14.1" y="76.5" width="14.7" height="7.7" fill="#48cb86"/>
<rect x="28.4" y="76.5" width="29.0" height="7.7" fill="#5ccc76"/>
<rect x="56.9" y="76.5" width="14.7" height="7.7" fill="#48cb86"/>
<rect x="71.2" y="76.5" width="29.0" height="7.7" fill="#39c895"/>
<rect x="99.7" y="76.5" width="14.7" height="7.7" fill="#2fc5a2"/>
<rect x="114.0" y="76.5" width="14.7" height="7.7" fill="#12beb9"/>
<rect x="128.3" y="76.5" width="14.7" height="7.7" fill="#05b6ce"/>
<rect x="142.6" y="76.5" width="14.7" height="7.7" fill="#1caadf"/>
<rect x="156.9" y="76.5" width="14.7" height="7.7" fill="#2d8cf3"/>
<rect x="171.1" y="76.5" width="14.7" height="7.7" fill="#3d70ff"/>
<rect x="185.4" y="76.5" width="14.7" height="7.7" fill="#347afd"/>
<rect x="199.7" y="76.5" width="14.7" height="7.7" fill="#2d8cf3"/>
<rect x="214.0" y="76.5" width="29.0" height="7.7" fill="#2994ed"/>
<rect x="242.5" y="76.5" width="14.7" height="7.7" fill="#2d8cf3"/>
<rect x="-0.2" y="83.8" width="14.7" height="7.7" fill="#12beb9"/>
<rect x="14.1" y="83.8" width="14.7" height="7.7" fill="#2fc5a2"/>
<rect x="28.4" y="83.8" width="14.7" height="7.7" fill="#39c895"/>
<rect x="42.6" y="83.8" width="14.7" height="7.7" fill="#48cb86"/>
<rect x="56.9" y="83.8" width="14.7" height="7.7" fill="#39c895"/>
<rect x="71.2" y="83.8" width="14.7" height="7.7" fill="#2fc5a2"/>
<rect x="85.5" y="83.8" width="14.7" height="7.7" fill="#24c2ae"/>
<rect x="99.7" y="83.8" width="14.7" height="7.7" fill="#02bac4"/>
<rect x="114.0" y="83.8" width="14.7" height="7.7" fill="#13b0d7"/>
<rect x="128.3" y="83.8" width="14.7" height="7.7" fill="#2994ed"/>
<rect x="142.6" y="83.8" width="14.7" height="7.7" fill="#3d70ff"/>
<rect x="156.9" y="83.8" width="14.7" height="7.7" fill="#484cef"/>
<rect x="171.1" y="83.8" width="29.0" height="7.7" fill="#4433cc"/>
<rect x="199.7" y="83.8" width="14.7" height="7.7" fill="#412dbb"/>
<rect x="214.0" y="83.8" width="14.7" height="7.7" fill="#4755f6"/>
<rect x="228.2" y="83.8" width="14.7" height="7.7" fill="#3d70ff"/>
<rect x="242.5" y="83.8" width="14.7" height="7.7" fill="#347afd"/>
<rect x="-0.2" y="91.1" width="14.7" height="7.7" fill="#05b6ce"/>
<rect x="14.1" y="91.1" width="29.0" height="7.7" fill="#12beb9"/>
<rect x="42.6" y="91.1" width="14.7" height="7.7" fill="#24c2ae"/>
<rect x="56.9" y="91.1" width="14.7" height="7.7" fill="#12beb9"/>
<rect x="71.2" y="91.1" width="14.7" height="7.7" fill="#02bac4"/>
<rect x="85.5" y="91.1" width="14.7" height="7.7" fill="#05b6ce"/>
<rect x="99.7" y="91.1" width="14.7" height="7.7" fill="#21a3e3"/>
<rect x="114.0" y="91.1" width="14.7" height="7.7" fill="#2d8cf3"/>
<rect x="128.3" y="91.1" width="14.7" height="7.7" fill="#465efb"/>
<rect x="142.6" y="91.1" width="29.0" height="7.7" fill="#412dbb"/>
<rect x="171.1" y="91.1" width="14.7" height="7.7" fill="#463adc"/>
<rect x="185.4" y="91.1" width="29.0" height="7.7" fill="#4743e7"/>
<rect x="214.0" y="91.1" width="14.7" height="7.7" fill="#465efb"/>
<rect x="228.2" y="91.1" width="14.7" height="7.7" fill="#3d70ff"/>
<rect x="242.5" y="91.1" width="14.7" height="7.7" fill="#347afd"/>
<rect x="-0.2" y="98.3" width="14.7" height="7.7" fill="#21a3e3"/>
<rect x="14.1" y="98.3" width="14.7" height="7.7" fill="#13b0d7"/>
<rect x="28.4" y="98.3" width="43.2" height="7.7" fill="#05b6ce"/>
<rect x="71.2" y="98.3" width="14.7" height="7.7" fill="#13b0d7"/>
<rect x="85.5" y="98.3" width="14.7" height="7.7" fill="#1caadf"/>
<rect x="99.7" y="98.3" width="14.7" height="7.7" fill="#2994ed"/>
<rect x="114.0" y="98.3" width="14.7" height="7.7" fill="#347afd"/>
<rect x="128.3" y="98.3" width="14.7" height="7.7" fill="#4755f6"/>
<rect x="142.6" y="98.3" width="29.0" height="7.7" fill="#4433cc"/>
<rect x="171.1" y="98.3" width="14.7" height="7.7" fill="#484cef"/>
<rect x="185.4" y="98.3" width="29.0" height="7.7" fill="#4755f6"/>
<rect x="214.0" y="98.3" width="14.7" height="7.7" fill="#4367fd"/>
<rect x="228.2" y="98.3" width="14.7" height="7.7" fill="#347afd"/>
<rect x="242.5" y="98.3" width="14.7" height="7.7" fill="#2e83f9"/>
<rect x="-0.2" y="105.6" width="14.7" height="7.7" fill="#347afd"/>
<rect x="14.1" y="105.6" width="14.7" height="7.7" fill="#2994ed"/>
<rect x="28.4" y="105.6" width="14.7" height="7.7" fill="#259ce7"/>
<rect x="42.6" y="105.6" width="29.0" height="7.7" fill="#21a3e3"/>
<rect x="71.2" y="105.6" width="14.7" height="7.7" fill="#259ce7"/>
<rect x="85.5" y="105.6" width="14.7" height="7.7" fill="#2994ed"/>
<rect x="99.7" y="105.6" width="14.7" height="7.7" fill="#2d8cf3"/>
<rect x="114.0" y="105.6" width="14.7" height="7.7" fill="#4367fd"/>
<rect x="128.3" y="105.6" width="14.7" height="7.7" fill="#465efb"/>
<rect x="142.6" y="105.6" width="14.7" height="7.7" fill="#484cef"/>
<rect x="156.9" y="105.6" width="14.7" height="7.7" fill="#4743e7"/>
<rect x="171.1" y="105.6" width="29.0" height="7.7" fill="#4755f6"/>
<rect x="199.7" y="105.6" width="14.7" height="7.7" fill="#465efb"/>
<rect x="214.0" y="105.6" width="14.7" height="7.7" fill="#3d70ff"/>
<rect x="228.2" y="105.6" width="14.7" height="7.7" fill="#347afd"/>
<rect x="242.5" y="105.6" width="14.7" height="7.7" fill="#2e83f9"/>
<rect x="-0.2" y="112.9" width="14.7" height="7.7" fill="#4743e7"/>
<rect x="14.1" y="112.9" width="14.7" height="7.7" fill="#465efb"/>
<rect x="28.4" y="112.9" width="14.7" height="7.7" fill="#3d70ff"/>
<rect x="42.6" y="112.9" width="14.7" height="7.7" fill="#347afd"/>
<rect x="56.9" y="112.9" width="14.7" height="7.7" fill="#2e83f9"/>
<rect x="71.2" y="112.9" width="29.0" height="7.7" fill="#347afd"/>
<rect x="99.7" y="112.9" width="14.7" height="7.7" fill="#3d70ff"/>
<rect x="114.0" y="112.9" width="14.7" height="7.7" fill="#4755f6"/>
<rect x="128.3" y="112.9" width="14.7" height="7.7" fill="#484cef"/>
<rect x="142.6" y="112.9" width="14.7" height="7.7" fill="#463adc"/>
<rect x="156.9" y="112.9" width="14.7" height="7.7" fill="#4743e7"/>
<rect x="171.1" y="112.9" width="14.7" height="7.7" fill="#484cef"/>
<rect x="185.4" y="112.9" width="14.7" height="7.7" fill="#4755f6"/>
<rect x="199.7" y="112.9" width="14.7" height="7.7" fill="#465efb"/>
<rect x="214.0" y="112.9" width="14.7" height="7.7" fill="#3d70ff"/>
<rect x="228.2" y="112.9" width="14.7" height="7.7" fill="#347afd"/>
<rect x="242.5" y="112.9" width="14.7" height="7.7" fill="#2e83f9"/>
<rect x="-0.2" y="120.2" width="14.7" height="7.7" fill="#412dbb"/>
<rect x="14.1" y="120.2" width="14.7" height="7.7" fill="#4433cc"/>
<rect x="28.4" y="120.2" width="14.7" height="7.7" fill="#4743e7"/>
<rect x="42.6" y="120.2" width="14.7" height="7.7" fill="#484cef"/>
<rect x="56.9" y="120.2" width="29.0" height="7.7" fill="#4755f6"/>
<rect x="85.5" y="120.2" width="14.7" height="7.7" fill="#484cef"/>
<rect x="99.7" y="120.2" width="14.7" height="7.7" fill="#4743e7"/>
<rect x="114.0" y="120.2" width="29.0" height="7.7" fill="#412dbb"/>
<rect x="142.6" y="120.2" width="29.0" height="7.7" fill="#4433cc"/>
<rect x="171.1" y="120.2" width="14.7" height="7.7" fill="#4743e7"/>
<rect x="185.4" y="120.2" width="14.7" height="7.7" fill="#4755f6"/>
<rect x="199.7" y="120.2" width="14.7" height="7.7" fill="#465efb"/>
<rect x="214.0" y="120.2" width="14.7" height="7.7" fill="#3d70ff"/>
<rect x="228.2" y="120.2" width="29.0" height="7.7" fill="#347afd"/>
<rect x="-0.2" y="127.5" width="14.7" height="7.7" fill="#3e26a8"/>
<rect x="14.1" y="127.5" width="14.7" height="7.7" fill="#412dbb"/>
<rect x="28.4" y="127.5" width="29.0" height="7.7" fill="#4433cc"/>
<rect x="56.9" y="127.5" width="29.0" height="7.7" fill="#463adc"/>
<rect x="85.5" y="127.5" width="29.0" height="7.7" fill="#4433cc"/>
<rect x="114.0" y="127.5" width="29.0" height="7.7" fill="#412dbb"/>
<rect x="142.6" y="127.5" width="14.7" height="7.7" fill="#4433cc"/>
<rect x="156.9" y="127.5" width="14.7" height="7.7" fill="#463adc"/>
<rect x="171.1" y="127.5" width="14.7" height="7.7" fill="#4743e7"/>
<rect x="185.4" y="127.5" width="14.7" height="7.7" fill="#484cef"/>
<rect x="199.7" y="127.5" width="14.7" height="7.7" fill="#4755f6"/>
<rect x="214.0" y="127.5" width="14.7" height="7.7" fill="#4367fd"/>
<rect x="228.2" y="127.5" width="29.0" height="7.7" fill="#3d70ff"/>
<rect x="-0.2" y="134.7" width="114.6" height="3.8" fill="#3e26a8"/>
<rect x="114.0" y="134.7" width="29.0" height="3.8" fill="#412dbb"/>
<rect x="142.6" y="134.7" width="14.7" height="3.8" fill="#4433cc"/>
<rect x="156.9" y="134.7" width="43.2" height="3.8" fill="#4743e7"/>
<rect x="199.7" y="134.7" width="14.7" height="3.8" fill="#484cef"/>
<rect x="214.0" y="134.7" width="14.7" height="3.8" fill="#465efb"/>
<rect x="228.2" y="134.7" width="29.0" height="3.8" fill="#4367fd"/>
</g>
<path d="M3.4 -0.4L8.1 0.5M17.6 -0.4L22.4 0.5M31.9 -0.4L36.6 0.5M46.2 -0.4L50.9 0.5M60.4 0.3L65.2 0.3M74.6 0.3L79.5 0.3M88.9 0.3L93.8 0.3M103.2 0.3L108.1 0.3M117.6 -0.4L122.3 0.5M132.3 -1.0L136.5 0.6M146.1 -0.4L150.9 0.5M160.4 -0.4L165.1 0.5M174.6 0.3L179.4 0.3M188.8 0.3L193.7 0.3M219.4 -1.9L221.8 0.9M231.7 0.3L236.6 0.3M246.0 0.3L250.8 0.3M3.4 6.9L8.1 7.7M17.6 6.9L22.4 7.7M31.9 6.9L36.6 7.7M46.2 6.9L50.9 7.7M60.4 7.5L65.2 7.5M74.6 7.5L79.5 7.5M88.9 7.5L93.8 7.5M103.2 7.5L108.1 7.5M117.6 6.9L122.3 7.7M132.3 6.3L136.5 7.9M146.1 6.9L150.9 7.7M160.4 6.9L165.1 7.7M174.6 7.5L179.4 7.5M188.8 7.5L193.7 7.5M219.4 5.3L221.8 8.1M231.7 7.5L236.6 7.5M246.0 7.5L250.8 7.5M3.4 14.2L8.1 15.0M17.6 14.2L22.4 15.0M31.9 14.2L36.6 15.0M46.2 14.2L50.9 15.0M60.4 14.8L65.2 14.8M74.6 14.8L79.5 14.8M88.9 14.8L93.8 14.8M103.2 14.8L108.1 14.8M118.0 13.5L122.2 15.1M132.3 13.5L136.5 15.1M146.5 13.5L150.8 15.1M160.4 14.2L165.1 15.0M174.6 14.8L179.4 14.8M188.8 14.8L193.7 14.8M217.9 13.5L222.1 15.1M231.8 14.2L236.5 15.0M246.0 14.8L250.8 14.8M3.4 21.4L8.1 22.3M17.6 21.4L22.4 22.3M31.9 21.4L36.6 22.3M46.2 21.4L50.9 22.3M60.4 22.1L65.2 22.1M74.6 22.1L79.5 22.1M88.9 22.1L93.8 22.1M103.2 22.1L108.1 22.1M118.0 20.8L122.2 22.4M132.9 20.3L136.3 22.6M146.5 20.8L150.8 22.4M160.3 22.1L165.2 22.1M174.6 22.1L179.4 22.1M188.8 22.1L193.7 22.1M203.3 21.4L208.0 22.3M217.5 21.4L222.2 22.3M231.8 21.4L236.5 22.3M246.0 22.1L250.8 22.1M3.4 28.7L8.1 29.5M17.6 28.7L22.4 29.5M31.9 28.7L36.6 29.5M46.1 29.4L50.9 29.4M60.5 30.0L65.2 29.2M74.8 30.0L79.5 29.2M89.0 30.0L93.7 29.2M103.2 29.4L108.1 29.4M118.0 28.1L122.2 29.7M138.4 27.6L134.9 29.8M146.1 28.7L150.9 29.5M160.4 30.0L165.1 29.2M174.7 30.0L179.4 29.2M188.8 29.4L193.7 29.4M203.1 29.4L208.0 29.4M217.4 29.4L222.3 29.4M231.7 29.4L236.6 29.4M246.0 29.4L250.8 29.4M3.4 36.0L8.1 36.8M17.6 36.0L22.4 36.8M31.9 36.0L36.6 36.8M46.2 36.0L50.9 36.8M60.9 37.9L65.1 36.3M75.2 37.9L79.4 36.3M89.0 37.3L93.7 36.5M103.2 36.7L108.1 36.7M117.5 36.7L122.3 36.7M138.4 38.5L134.9 36.2M149.9 39.2L149.9 36.0M160.8 37.9L165.0 36.3M174.7 37.3L179.4 36.5M189.0 37.3L193.7 36.5M203.1 36.7L208.0 36.7M217.4 36.7L222.3 36.7M231.7 36.7L236.6 36.7M246.0 36.7L250.8 36.7M3.8 42.7L8.0 44.3M18.0 42.7L22.3 44.3M32.3 42.7L36.5 44.3M48.0 41.7L50.5 44.5M77.5 46.4L78.8 43.3M89.4 45.2L93.6 43.6M103.3 44.6L108.0 43.8M117.6 44.6L122.3 43.8M132.9 45.7L136.3 43.5M147.2 45.7L150.6 43.5M160.8 45.2L165.0 43.6M175.1 45.2L179.3 43.6M189.0 44.6L193.7 43.8M203.1 43.9L208.0 43.9M217.4 43.9L222.3 43.9M231.7 43.9L236.6 43.9M246.0 43.9L250.8 43.9M3.8 49.9L8.0 51.5M18.0 49.9L22.3 51.5M32.9 49.4L36.4 51.7M49.0 48.8L50.2 51.8M62.3 49.0L64.7 51.8M74.6 51.2L79.5 51.2M89.0 51.9L93.7 51.1M103.3 51.9L108.0 51.1M117.6 51.9L122.3 51.1M132.3 52.5L136.5 50.9M146.5 52.5L150.8 50.9M160.8 52.5L165.0 50.9M175.1 52.5L179.3 50.9M189.0 51.9L193.7 51.1M203.1 51.2L208.0 51.2M217.4 51.2L222.3 51.2M231.7 51.2L236.6 51.2M246.0 51.2L250.8 51.2M4.4 56.7L7.8 59.0M18.7 56.7L22.1 59.0M32.9 56.7L36.4 59.0M47.2 56.7L50.7 59.0M61.5 56.7L64.9 59.0M75.2 57.2L79.4 58.8M88.9 58.5L93.8 58.5M103.2 58.5L108.1 58.5M117.6 59.2L122.3 58.3M132.3 59.8L136.5 58.2M146.5 59.8L150.8 58.2M160.8 59.8L165.0 58.2M175.1 59.8L179.3 58.2M189.0 59.2L193.7 58.3M203.3 59.2L208.0 58.3M217.4 58.5L222.3 58.5M231.7 58.5L236.6 58.5M246.0 58.5L250.8 58.5M4.4 64.0L7.8 66.2M18.7 64.0L22.1 66.2M32.9 64.0L36.4 66.2M47.2 64.0L50.7 66.2M61.5 64.0L64.9 66.2M75.2 64.5L79.4 66.1M88.9 65.8L93.8 65.8M103.2 65.8L108.1 65.8M117.6 66.4L122.3 65.6M132.3 67.1L136.5 65.5M146.5 67.1L150.8 65.5M160.8 67.1L165.0 65.5M174.7 66.4L179.4 65.6M189.0 66.4L193.7 65.6M203.3 66.4L208.0 65.6M217.4 65.8L222.3 65.8M231.7 65.8L236.6 65.8M246.1 65.1L250.8 65.9M3.8 71.8L8.0 73.4M18.0 71.8L22.3 73.4M32.3 71.8L36.5 73.4M46.6 71.8L50.8 73.4M60.9 71.8L65.1 73.4M74.8 72.4L79.5 73.2M88.9 73.1L93.8 73.1M103.2 73.1L108.1 73.1M117.5 73.1L122.3 73.1M132.3 74.3L136.5 72.7M146.5 74.3L150.8 72.7M161.4 74.9L164.9 72.6M175.1 74.3L179.3 72.7M189.4 74.3L193.6 72.7M203.3 73.7L208.0 72.9M217.4 73.1L222.3 73.1M231.8 72.4L236.5 73.2M246.1 72.4L250.8 73.2M3.8 79.1L8.0 80.7M18.0 79.1L22.3 80.7M32.3 79.1L36.5 80.7M46.6 79.1L50.8 80.7M60.9 79.1L65.1 80.7M74.8 79.7L79.5 80.5M88.9 80.3L93.8 80.3M103.2 80.3L108.1 80.3M117.5 80.3L122.3 80.3M132.3 81.6L136.5 80.0M147.2 82.1L150.6 79.9M163.2 82.8L164.4 79.7M176.5 82.5L179.0 79.8M190.0 82.1L193.4 79.9M203.1 80.3L208.0 80.3M217.5 79.7L222.2 80.5M231.8 79.7L236.5 80.5M246.1 79.7L250.8 80.5M3.8 86.3L8.0 87.9M18.0 86.3L22.3 87.9M32.3 86.3L36.5 87.9M46.6 86.3L50.8 87.9M60.9 86.3L65.1 87.9M75.2 86.3L79.4 87.9M89.0 87.0L93.7 87.8M103.2 87.6L108.1 87.6M117.5 87.6L122.3 87.6M132.3 88.9L136.5 87.3M148.0 89.8L150.4 87.1M165.2 90.1L163.9 87.0M181.8 88.9L177.6 87.3M196.5 88.3L191.8 87.5M203.7 86.3L207.9 87.9M217.9 86.3L222.1 87.9M232.2 86.3L236.4 87.9M246.5 86.3L250.7 87.9M4.4 93.1L7.8 95.4M18.7 93.1L22.1 95.4M32.3 93.6L36.5 95.2M46.6 93.6L50.8 95.2M60.9 93.6L65.1 95.2M75.2 93.6L79.4 95.2M89.4 93.6L93.6 95.2M103.3 94.2L108.0 95.1M117.6 94.2L122.3 95.1M131.9 95.6L136.6 94.7M147.2 96.7L150.6 94.4M182.2 94.2L177.5 95.1M193.8 92.4L192.5 95.5M205.1 92.7L207.5 95.5M218.5 93.1L222.0 95.4M232.8 93.1L236.3 95.4M246.5 93.6L250.7 95.2M4.4 100.4L7.8 102.6M18.7 100.4L22.1 102.6M32.9 100.4L36.4 102.6M47.2 100.4L50.7 102.6M61.5 100.4L64.9 102.6M75.8 100.4L79.2 102.6M90.0 100.4L93.5 102.6M103.7 100.9L107.9 102.5M118.0 100.9L122.2 102.5M132.9 100.4L136.3 102.6M146.5 100.9L150.8 102.5M161.4 100.4L164.9 102.6M176.5 100.0L179.0 102.7M190.0 100.4L193.4 102.6M204.3 100.4L207.7 102.6M218.5 100.4L222.0 102.6M232.2 100.9L236.4 102.5M246.5 100.9L250.7 102.5M4.4 107.7L7.8 109.9M18.7 107.7L22.1 109.9M32.9 107.7L36.4 109.9M47.2 107.7L50.7 109.9M61.5 107.7L64.9 109.9M75.8 107.7L79.2 109.9M90.0 107.7L93.5 109.9M104.3 107.7L107.8 109.9M118.6 107.7L122.1 109.9M132.9 107.7L136.3 109.9M146.5 108.2L150.8 109.8M160.8 108.2L165.0 109.8M175.7 107.7L179.2 109.9M190.0 107.7L193.4 109.9M203.7 108.2L207.9 109.8M217.9 108.2L222.1 109.8M232.2 108.2L236.4 109.8M246.1 108.8L250.8 109.6M5.2 114.5L7.6 117.3M19.5 114.5L21.9 117.3M33.7 114.5L36.2 117.3M47.2 114.9L50.7 117.2M61.5 114.9L64.9 117.2M75.8 114.9L79.2 117.2M90.9 114.5L93.3 117.3M104.3 114.9L107.8 117.2M118.6 114.9L122.1 117.2M132.9 114.9L136.3 117.2M146.1 116.1L150.9 116.9M160.4 116.1L165.1 116.9M174.7 116.1L179.4 116.9M189.0 116.1L193.7 116.9M203.3 116.1L208.0 116.9M217.5 116.1L222.2 116.9M231.7 116.7L236.6 116.7M246.0 116.7L250.8 116.7M5.2 121.8L7.6 124.6M19.5 121.8L21.9 124.6M33.7 121.8L36.2 124.6M48.0 121.8L50.5 124.6M62.3 121.8L64.7 124.6M77.5 121.6L78.8 124.6M91.8 121.6L93.1 124.6M107.1 121.5L107.1 124.7M121.4 121.5L121.4 124.7M135.6 121.5L135.6 124.7M146.0 124.0L150.9 124.0M160.4 124.7L165.1 123.9M175.1 125.3L179.3 123.7M189.4 125.3L193.6 123.7M203.3 124.7L208.0 123.9M217.5 124.7L222.2 123.9M231.8 124.7L236.5 123.9M246.0 124.0L250.8 124.0M5.2 129.1L7.6 131.9M19.5 129.1L21.9 131.9M33.7 129.1L36.2 131.9M48.0 129.1L50.5 131.9M63.2 128.8L64.5 131.9M78.5 128.8L78.5 131.9M92.8 128.8L92.8 131.9M108.1 128.8L106.8 131.9M123.3 129.1L120.9 131.9M151.9 133.5L149.4 130.7M164.2 133.9L164.2 130.7M177.5 133.8L178.7 130.7M190.0 133.1L193.4 130.8M203.7 132.6L207.9 131.0M217.9 132.6L222.1 131.0M231.8 132.0L236.5 131.1M246.1 132.0L250.8 131.1" stroke="#000" stroke-width="1" fill="none"/>
<path d="M10.9 1.0L7.6 -1.4L8.1 0.5L6.2 1.9ZM25.2 1.0L21.8 -1.4L22.4 0.5L20.5 1.9ZM39.5 1.0L36.1 -1.4L36.6 0.5L34.7 1.9ZM53.7 1.0L50.4 -1.4L50.9 0.5L49.0 1.9ZM68.2 0.3L64.0 -1.4L65.2 0.3L64.0 2.0ZM82.4 0.3L78.3 -1.4L79.5 0.3L78.3 2.0ZM96.7 0.3L92.5 -1.4L93.8 0.3L92.5 2.0ZM111.0 0.3L106.8 -1.4L108.1 0.3L106.8 2.0ZM125.1 1.0L121.8 -1.4L122.3 0.5L120.4 1.9ZM139.0 1.6L136.7 -1.3L136.5 0.6L134.1 1.7ZM153.7 1.0L150.3 -1.4L150.9 0.5L149.0 1.9ZM168.0 1.0L164.6 -1.4L165.1 0.5L163.2 1.9ZM182.4 0.3L178.2 -1.4L179.4 0.3L178.2 2.0ZM196.7 0.3L192.5 -1.4L193.7 0.3L192.5 2.0ZM223.3 2.5L223.5 -0.7L221.8 0.9L218.9 1.0ZM239.5 0.3L235.3 -1.4L236.6 0.3L235.3 2.0ZM253.8 0.3L249.6 -1.4L250.8 0.3L249.6 2.0ZM10.9 8.2L7.6 5.8L8.1 7.7L6.2 9.2ZM25.2 8.2L21.8 5.8L22.4 7.7L20.5 9.2ZM39.5 8.2L36.1 5.8L36.6 7.7L34.7 9.2ZM53.7 8.2L50.4 5.8L50.9 7.7L49.0 9.2ZM68.2 7.5L64.0 5.8L65.2 7.5L64.0 9.3ZM82.4 7.5L78.3 5.8L79.5 7.5L78.3 9.3ZM96.7 7.5L92.5 5.8L93.8 7.5L92.5 9.3ZM111.0 7.5L106.8 5.8L108.1 7.5L106.8 9.3ZM125.1 8.2L121.8 5.8L122.3 7.7L120.4 9.2ZM139.0 8.8L136.7 5.9L136.5 7.9L134.1 9.0ZM153.7 8.2L150.3 5.8L150.9 7.7L149.0 9.2ZM168.0 8.2L164.6 5.8L165.1 7.7L163.2 9.2ZM182.4 7.5L178.2 5.8L179.4 7.5L178.2 9.3ZM196.7 7.5L192.5 5.8L193.7 7.5L192.5 9.3ZM223.3 9.7L223.5 6.5L221.8 8.1L218.9 8.3ZM239.5 7.5L235.3 5.8L236.6 7.5L235.3 9.3ZM253.8 7.5L249.6 5.8L250.8 7.5L249.6 9.3ZM10.9 15.5L7.6 13.1L8.1 15.0L6.2 16.4ZM25.2 15.5L21.8 13.1L22.4 15.0L20.5 16.4ZM39.5 15.5L36.1 13.1L36.6 15.0L34.7 16.4ZM53.7 15.5L50.4 13.1L50.9 15.0L49.0 16.4ZM68.2 14.8L64.0 13.1L65.2 14.8L64.0 16.6ZM82.4 14.8L78.3 13.1L79.5 14.8L78.3 16.6ZM96.7 14.8L92.5 13.1L93.8 14.8L92.5 16.6ZM111.0 14.8L106.8 13.1L108.1 14.8L106.8 16.6ZM124.7 16.1L122.5 13.2L122.2 15.1L119.8 16.2ZM139.0 16.1L136.7 13.2L136.5 15.1L134.1 16.2ZM153.3 16.1L151.0 13.2L150.8 15.1L148.4 16.2ZM168.0 15.5L164.6 13.1L165.1 15.0L163.2 16.4ZM182.4 14.8L178.2 13.1L179.4 14.8L178.2 16.6ZM196.7 14.8L192.5 13.1L193.7 14.8L192.5 16.6ZM224.7 16.1L222.4 13.2L222.1 15.1L219.7 16.2ZM239.4 15.5L236.0 13.1L236.5 15.0L234.6 16.4ZM253.8 14.8L249.6 13.1L250.8 14.8L249.6 16.6ZM10.9 22.8L7.6 20.4L8.1 22.3L6.2 23.7ZM25.2 22.8L21.8 20.4L22.4 22.3L20.5 23.7ZM39.5 22.8L36.1 20.4L36.6 22.3L34.7 23.7ZM53.7 22.8L50.4 20.4L50.9 22.3L49.0 23.7ZM68.2 22.1L64.0 20.4L65.2 22.1L64.0 23.8ZM82.4 22.1L78.3 20.4L79.5 22.1L78.3 23.8ZM96.7 22.1L92.5 20.4L93.8 22.1L92.5 23.8ZM111.0 22.1L106.8 20.4L108.1 22.1L106.8 23.8ZM124.7 23.4L122.5 20.5L122.2 22.4L119.8 23.5ZM138.4 23.9L137.3 20.7L136.3 22.6L133.6 23.2ZM153.3 23.4L151.0 20.5L150.8 22.4L148.4 23.5ZM168.1 22.1L163.9 20.4L165.2 22.1L163.9 23.8ZM182.4 22.1L178.2 20.4L179.4 22.1L178.2 23.8ZM196.7 22.1L192.5 20.4L193.7 22.1L192.5 23.8ZM210.8 22.8L207.5 20.4L208.0 22.3L206.1 23.7ZM225.1 22.8L221.7 20.4L222.2 22.3L220.4 23.7ZM239.4 22.8L236.0 20.4L236.5 22.3L234.6 23.7ZM253.8 22.1L249.6 20.4L250.8 22.1L249.6 23.8ZM10.9 30.0L7.6 27.7L8.1 29.5L6.2 31.0ZM25.2 30.0L21.8 27.7L22.4 29.5L20.5 31.0ZM39.5 30.0L36.1 27.7L36.6 29.5L34.7 31.0ZM53.9 29.4L49.7 27.6L50.9 29.4L49.7 31.1ZM68.0 28.7L63.3 27.8L65.2 29.2L64.7 31.1ZM82.3 28.7L77.6 27.8L79.5 29.2L79.0 31.1ZM96.6 28.7L91.9 27.8L93.7 29.2L93.2 31.1ZM111.0 29.4L106.8 27.6L108.1 29.4L106.8 31.1ZM124.7 30.7L122.5 27.8L122.2 29.7L119.8 30.8ZM132.9 31.2L137.7 30.5L134.9 29.8L134.0 28.0ZM153.7 30.0L150.3 27.7L150.9 29.5L149.0 31.0ZM168.0 28.7L163.2 27.8L165.1 29.2L164.6 31.1ZM182.2 28.7L177.5 27.8L179.4 29.2L178.9 31.1ZM196.7 29.4L192.5 27.6L193.7 29.4L192.5 31.1ZM210.9 29.4L206.8 27.6L208.0 29.4L206.8 31.1ZM225.2 29.4L221.0 27.6L222.3 29.4L221.0 31.1ZM239.5 29.4L235.3 27.6L236.6 29.4L235.3 31.1ZM253.8 29.4L249.6 27.6L250.8 29.4L249.6 31.1ZM10.9 37.3L7.6 34.9L8.1 36.8L6.2 38.3ZM25.2 37.3L21.8 34.9L22.4 36.8L20.5 38.3ZM39.5 37.3L36.1 34.9L36.6 36.8L34.7 38.3ZM53.7 37.3L50.4 34.9L50.9 36.8L49.0 38.3ZM67.6 35.4L62.7 35.2L65.1 36.3L65.3 38.3ZM81.9 35.4L77.0 35.2L79.4 36.3L79.6 38.3ZM96.6 36.0L91.9 35.0L93.7 36.5L93.2 38.4ZM111.0 36.7L106.8 34.9L108.1 36.7L106.8 38.4ZM125.3 36.7L121.1 34.9L122.3 36.7L121.1 38.4ZM132.9 34.9L134.0 38.0L134.9 36.2L137.7 35.6ZM149.9 34.1L147.3 36.8L149.9 36.0L152.6 36.8ZM167.6 35.4L162.6 35.2L165.0 36.3L165.3 38.3ZM182.2 36.0L177.5 35.0L179.4 36.5L178.9 38.4ZM196.5 36.0L191.8 35.0L193.7 36.5L193.2 38.4ZM210.9 36.7L206.8 34.9L208.0 36.7L206.8 38.4ZM225.2 36.7L221.0 34.9L222.3 36.7L221.0 38.4ZM239.5 36.7L235.3 34.9L236.6 36.7L235.3 38.4ZM253.8 36.7L249.6 34.9L250.8 36.7L249.6 38.4ZM10.5 45.2L8.2 42.3L8.0 44.3L5.6 45.4ZM24.8 45.2L22.5 42.3L22.3 44.3L19.9 45.4ZM39.1 45.2L36.8 42.3L36.5 44.3L34.1 45.4ZM51.9 46.1L52.1 42.9L50.5 44.5L47.5 44.7ZM79.5 41.5L75.9 43.7L78.8 43.3L81.0 44.6ZM96.2 42.7L91.2 42.5L93.6 43.6L93.9 45.5ZM110.9 43.3L106.1 42.3L108.0 43.8L107.5 45.7ZM125.1 43.3L120.4 42.3L122.3 43.8L121.8 45.7ZM138.4 42.1L133.6 42.8L136.3 43.5L137.3 45.3ZM152.7 42.1L147.8 42.8L150.6 43.5L151.6 45.3ZM167.6 42.7L162.6 42.5L165.0 43.6L165.3 45.5ZM181.8 42.7L176.9 42.5L179.3 43.6L179.6 45.5ZM196.5 43.3L191.8 42.3L193.7 43.8L193.2 45.7ZM210.9 43.9L206.8 42.2L208.0 43.9L206.8 45.7ZM225.2 43.9L221.0 42.2L222.3 43.9L221.0 45.7ZM239.5 43.9L235.3 42.2L236.6 43.9L235.3 45.7ZM253.8 43.9L249.6 42.2L250.8 43.9L249.6 45.7ZM10.5 52.5L8.2 49.6L8.0 51.5L5.6 52.6ZM24.8 52.5L22.5 49.6L22.3 51.5L19.9 52.6ZM38.5 53.0L37.4 49.9L36.4 51.7L33.6 52.3ZM51.0 53.7L52.5 50.6L50.2 51.8L47.3 51.5ZM66.2 53.4L66.4 50.2L64.7 51.8L61.8 51.9ZM82.4 51.2L78.3 49.5L79.5 51.2L78.3 53.0ZM96.6 50.6L91.9 49.6L93.7 51.1L93.2 52.9ZM110.9 50.6L106.1 49.6L108.0 51.1L107.5 52.9ZM125.1 50.6L120.4 49.6L122.3 51.1L121.8 52.9ZM139.0 49.9L134.1 49.8L136.5 50.9L136.7 52.8ZM153.3 49.9L148.4 49.8L150.8 50.9L151.0 52.8ZM167.6 49.9L162.6 49.8L165.0 50.9L165.3 52.8ZM181.8 49.9L176.9 49.8L179.3 50.9L179.6 52.8ZM196.5 50.6L191.8 49.6L193.7 51.1L193.2 52.9ZM210.9 51.2L206.8 49.5L208.0 51.2L206.8 53.0ZM225.2 51.2L221.0 49.5L222.3 51.2L221.0 53.0ZM239.5 51.2L235.3 49.5L236.6 51.2L235.3 53.0ZM253.8 51.2L249.6 49.5L250.8 51.2L249.6 53.0ZM9.9 60.3L8.8 57.1L7.8 59.0L5.1 59.6ZM24.2 60.3L23.1 57.1L22.1 59.0L19.3 59.6ZM38.5 60.3L37.4 57.1L36.4 59.0L33.6 59.6ZM52.7 60.3L51.7 57.1L50.7 59.0L47.9 59.6ZM67.0 60.3L65.9 57.1L64.9 59.0L62.2 59.6ZM81.9 59.8L79.6 56.9L79.4 58.8L77.0 59.9ZM96.7 58.5L92.5 56.8L93.8 58.5L92.5 60.2ZM111.0 58.5L106.8 56.8L108.1 58.5L106.8 60.2ZM125.1 57.8L120.4 56.9L122.3 58.3L121.8 60.2ZM139.0 57.2L134.1 57.1L136.5 58.2L136.7 60.1ZM153.3 57.2L148.4 57.1L150.8 58.2L151.0 60.1ZM167.6 57.2L162.6 57.1L165.0 58.2L165.3 60.1ZM181.8 57.2L176.9 57.1L179.3 58.2L179.6 60.1ZM196.5 57.8L191.8 56.9L193.7 58.3L193.2 60.2ZM210.8 57.8L206.1 56.9L208.0 58.3L207.5 60.2ZM225.2 58.5L221.0 56.8L222.3 58.5L221.0 60.2ZM239.5 58.5L235.3 56.8L236.6 58.5L235.3 60.2ZM253.8 58.5L249.6 56.8L250.8 58.5L249.6 60.2ZM9.9 67.6L8.8 64.4L7.8 66.2L5.1 66.9ZM24.2 67.6L23.1 64.4L22.1 66.2L19.3 66.9ZM38.5 67.6L37.4 64.4L36.4 66.2L33.6 66.9ZM52.7 67.6L51.7 64.4L50.7 66.2L47.9 66.9ZM67.0 67.6L65.9 64.4L64.9 66.2L62.2 66.9ZM81.9 67.1L79.6 64.2L79.4 66.1L77.0 67.2ZM96.7 65.8L92.5 64.0L93.8 65.8L92.5 67.5ZM111.0 65.8L106.8 64.0L108.1 65.8L106.8 67.5ZM125.1 65.1L120.4 64.2L122.3 65.6L121.8 67.5ZM139.0 64.5L134.1 64.4L136.5 65.5L136.7 67.4ZM153.3 64.5L148.4 64.4L150.8 65.5L151.0 67.4ZM167.6 64.5L162.6 64.4L165.0 65.5L165.3 67.4ZM182.2 65.1L177.5 64.2L179.4 65.6L178.9 67.5ZM196.5 65.1L191.8 64.2L193.7 65.6L193.2 67.5ZM210.8 65.1L206.1 64.2L208.0 65.6L207.5 67.5ZM225.2 65.8L221.0 64.0L222.3 65.8L221.0 67.5ZM239.5 65.8L235.3 64.0L236.6 65.8L235.3 67.5ZM253.6 66.4L250.3 64.1L250.8 65.9L248.9 67.4ZM10.5 74.3L8.2 71.5L8.0 73.4L5.6 74.5ZM24.8 74.3L22.5 71.5L22.3 73.4L19.9 74.5ZM39.1 74.3L36.8 71.5L36.5 73.4L34.1 74.5ZM53.3 74.3L51.1 71.5L50.8 73.4L48.4 74.5ZM67.6 74.3L65.3 71.5L65.1 73.4L62.7 74.5ZM82.3 73.7L79.0 71.3L79.5 73.2L77.6 74.7ZM96.7 73.1L92.5 71.3L93.8 73.1L92.5 74.8ZM111.0 73.1L106.8 71.3L108.1 73.1L106.8 74.8ZM125.3 73.1L121.1 71.3L122.3 73.1L121.1 74.8ZM139.0 71.8L134.1 71.6L136.5 72.7L136.7 74.7ZM153.3 71.8L148.4 71.6L150.8 72.7L151.0 74.7ZM167.0 71.3L162.1 72.0L164.9 72.6L165.9 74.4ZM181.8 71.8L176.9 71.6L179.3 72.7L179.6 74.7ZM196.1 71.8L191.2 71.6L193.6 72.7L193.8 74.7ZM210.8 72.4L206.1 71.4L208.0 72.9L207.5 74.8ZM225.2 73.1L221.0 71.3L222.3 73.1L221.0 74.8ZM239.4 73.7L236.0 71.3L236.5 73.2L234.6 74.7ZM253.6 73.7L250.3 71.3L250.8 73.2L248.9 74.7ZM10.5 81.6L8.2 78.7L8.0 80.7L5.6 81.8ZM24.8 81.6L22.5 78.7L22.3 80.7L19.9 81.8ZM39.1 81.6L36.8 78.7L36.5 80.7L34.1 81.8ZM53.3 81.6L51.1 78.7L50.8 80.7L48.4 81.8ZM67.6 81.6L65.3 78.7L65.1 80.7L62.7 81.8ZM82.3 81.0L79.0 78.6L79.5 80.5L77.6 82.0ZM96.7 80.3L92.5 78.6L93.8 80.3L92.5 82.1ZM111.0 80.3L106.8 78.6L108.1 80.3L106.8 82.1ZM125.3 80.3L121.1 78.6L122.3 80.3L121.1 82.1ZM139.0 79.1L134.1 78.9L136.5 80.0L136.7 81.9ZM152.7 78.5L147.8 79.2L150.6 79.9L151.6 81.7ZM165.2 77.9L161.6 80.1L164.4 79.7L166.7 81.0ZM180.4 78.1L176.0 79.6L179.0 79.8L180.6 81.4ZM195.5 78.5L190.7 79.2L193.4 79.9L194.4 81.7ZM210.9 80.3L206.8 78.6L208.0 80.3L206.8 82.1ZM225.1 81.0L221.7 78.6L222.2 80.5L220.4 82.0ZM239.4 81.0L236.0 78.6L236.5 80.5L234.6 82.0ZM253.6 81.0L250.3 78.6L250.8 80.5L248.9 82.0ZM10.5 88.9L8.2 86.0L8.0 87.9L5.6 89.0ZM24.8 88.9L22.5 86.0L22.3 87.9L19.9 89.0ZM39.1 88.9L36.8 86.0L36.5 87.9L34.1 89.0ZM53.3 88.9L51.1 86.0L50.8 87.9L48.4 89.0ZM67.6 88.9L65.3 86.0L65.1 87.9L62.7 89.0ZM81.9 88.9L79.6 86.0L79.4 87.9L77.0 89.0ZM96.6 88.3L93.2 85.9L93.7 87.8L91.9 89.2ZM111.0 87.6L106.8 85.9L108.1 87.6L106.8 89.4ZM125.3 87.6L121.1 85.9L122.3 87.6L121.1 89.4ZM139.0 86.3L134.1 86.2L136.5 87.3L136.7 89.2ZM151.9 85.4L147.5 86.9L150.4 87.1L152.1 88.6ZM163.2 85.2L161.7 88.2L163.9 87.0L166.8 87.3ZM175.1 86.3L177.4 89.2L177.6 87.3L180.0 86.2ZM189.0 87.0L192.3 89.3L191.8 87.5L193.7 86.0ZM210.4 88.9L208.1 86.0L207.9 87.9L205.5 89.0ZM224.7 88.9L222.4 86.0L222.1 87.9L219.7 89.0ZM239.0 88.9L236.7 86.0L236.4 87.9L234.0 89.0ZM253.2 88.9L251.0 86.0L250.7 87.9L248.3 89.0ZM9.9 96.7L8.8 93.5L7.8 95.4L5.1 96.0ZM24.2 96.7L23.1 93.5L22.1 95.4L19.3 96.0ZM39.1 96.2L36.8 93.3L36.5 95.2L34.1 96.3ZM53.3 96.2L51.1 93.3L50.8 95.2L48.4 96.3ZM67.6 96.2L65.3 93.3L65.1 95.2L62.7 96.3ZM81.9 96.2L79.6 93.3L79.4 95.2L77.0 96.3ZM96.2 96.2L93.9 93.3L93.6 95.2L91.2 96.3ZM110.9 95.6L107.5 93.2L108.0 95.1L106.1 96.5ZM125.1 95.6L121.8 93.2L122.3 95.1L120.4 96.5ZM139.4 94.2L134.7 93.3L136.6 94.7L136.1 96.6ZM152.7 93.1L147.8 93.8L150.6 94.4L151.6 96.3ZM174.7 95.6L179.4 96.5L177.5 95.1L178.0 93.2ZM191.7 97.4L195.4 95.2L192.5 95.5L190.3 94.3ZM209.0 97.1L209.2 93.9L207.5 95.5L204.6 95.6ZM224.1 96.7L223.0 93.5L222.0 95.4L219.2 96.0ZM238.3 96.7L237.3 93.5L236.3 95.4L233.5 96.0ZM253.2 96.2L251.0 93.3L250.7 95.2L248.3 96.3ZM9.9 104.0L8.8 100.8L7.8 102.6L5.1 103.3ZM24.2 104.0L23.1 100.8L22.1 102.6L19.3 103.3ZM38.5 104.0L37.4 100.8L36.4 102.6L33.6 103.3ZM52.7 104.0L51.7 100.8L50.7 102.6L47.9 103.3ZM67.0 104.0L65.9 100.8L64.9 102.6L62.2 103.3ZM81.3 104.0L80.2 100.8L79.2 102.6L76.5 103.3ZM95.6 104.0L94.5 100.8L93.5 102.6L90.7 103.3ZM110.5 103.5L108.2 100.6L107.9 102.5L105.5 103.6ZM124.7 103.5L122.5 100.6L122.2 102.5L119.8 103.6ZM138.4 104.0L137.3 100.8L136.3 102.6L133.6 103.3ZM153.3 103.5L151.0 100.6L150.8 102.5L148.4 103.6ZM167.0 104.0L165.9 100.8L164.9 102.6L162.1 103.3ZM180.4 104.4L180.6 101.2L179.0 102.7L176.0 102.9ZM195.5 104.0L194.4 100.8L193.4 102.6L190.7 103.3ZM209.8 104.0L208.7 100.8L207.7 102.6L205.0 103.3ZM224.1 104.0L223.0 100.8L222.0 102.6L219.2 103.3ZM239.0 103.5L236.7 100.6L236.4 102.5L234.0 103.6ZM253.2 103.5L251.0 100.6L250.7 102.5L248.3 103.6ZM9.9 111.3L8.8 108.1L7.8 109.9L5.1 110.6ZM24.2 111.3L23.1 108.1L22.1 109.9L19.3 110.6ZM38.5 111.3L37.4 108.1L36.4 109.9L33.6 110.6ZM52.7 111.3L51.7 108.1L50.7 109.9L47.9 110.6ZM67.0 111.3L65.9 108.1L64.9 109.9L62.2 110.6ZM81.3 111.3L80.2 108.1L79.2 109.9L76.5 110.6ZM95.6 111.3L94.5 108.1L93.5 109.9L90.7 110.6ZM109.8 111.3L108.8 108.1L107.8 109.9L105.0 110.6ZM124.1 111.3L123.0 108.1L122.1 109.9L119.3 110.6ZM138.4 111.3L137.3 108.1L136.3 109.9L133.6 110.6ZM153.3 110.7L151.0 107.9L150.8 109.8L148.4 110.9ZM167.6 110.7L165.3 107.9L165.0 109.8L162.6 110.9ZM181.2 111.3L180.2 108.1L179.2 109.9L176.4 110.6ZM195.5 111.3L194.4 108.1L193.4 109.9L190.7 110.6ZM210.4 110.7L208.1 107.9L207.9 109.8L205.5 110.9ZM224.7 110.7L222.4 107.9L222.1 109.8L219.7 110.9ZM239.0 110.7L236.7 107.9L236.4 109.8L234.0 110.9ZM253.6 110.1L250.3 107.7L250.8 109.6L248.9 111.1ZM9.1 118.9L9.3 115.7L7.6 117.3L4.7 117.5ZM23.4 118.9L23.6 115.7L21.9 117.3L19.0 117.5ZM37.6 118.9L37.9 115.7L36.2 117.3L33.3 117.5ZM52.7 118.5L51.7 115.4L50.7 117.2L47.9 117.8ZM67.0 118.5L65.9 115.4L64.9 117.2L62.2 117.8ZM81.3 118.5L80.2 115.4L79.2 117.2L76.5 117.8ZM94.8 118.9L95.0 115.7L93.3 117.3L90.4 117.5ZM109.8 118.5L108.8 115.4L107.8 117.2L105.0 117.8ZM124.1 118.5L123.0 115.4L122.1 117.2L119.3 117.8ZM138.4 118.5L137.3 115.4L136.3 117.2L133.6 117.8ZM153.7 117.4L150.3 115.0L150.9 116.9L149.0 118.4ZM168.0 117.4L164.6 115.0L165.1 116.9L163.2 118.4ZM182.2 117.4L178.9 115.0L179.4 116.9L177.5 118.4ZM196.5 117.4L193.2 115.0L193.7 116.9L191.8 118.4ZM210.8 117.4L207.5 115.0L208.0 116.9L206.1 118.4ZM225.1 117.4L221.7 115.0L222.2 116.9L220.4 118.4ZM239.5 116.7L235.3 115.0L236.6 116.7L235.3 118.5ZM253.8 116.7L249.6 115.0L250.8 116.7L249.6 118.5ZM9.1 126.2L9.3 123.0L7.6 124.6L4.7 124.7ZM23.4 126.2L23.6 123.0L21.9 124.6L19.0 124.7ZM37.6 126.2L37.9 123.0L36.2 124.6L33.3 124.7ZM51.9 126.2L52.1 123.0L50.5 124.6L47.5 124.7ZM66.2 126.2L66.4 123.0L64.7 124.6L61.8 124.7ZM79.5 126.5L81.0 123.4L78.8 124.6L75.9 124.3ZM93.8 126.5L95.3 123.4L93.1 124.6L90.2 124.3ZM107.1 126.6L109.7 123.8L107.1 124.7L104.4 123.8ZM121.4 126.6L124.0 123.8L121.4 124.7L118.7 123.8ZM135.6 126.6L138.3 123.8L135.6 124.7L133.0 123.8ZM153.8 124.0L149.6 122.3L150.9 124.0L149.6 125.8ZM168.0 123.4L163.2 122.4L165.1 123.9L164.6 125.7ZM181.8 122.7L176.9 122.6L179.3 123.7L179.6 125.6ZM196.1 122.7L191.2 122.6L193.6 123.7L193.8 125.6ZM210.8 123.4L206.1 122.4L208.0 123.9L207.5 125.7ZM225.1 123.4L220.4 122.4L222.2 123.9L221.7 125.7ZM239.4 123.4L234.6 122.4L236.5 123.9L236.0 125.7ZM253.8 124.0L249.6 122.3L250.8 124.0L249.6 125.8ZM9.1 133.5L9.3 130.3L7.6 131.9L4.7 132.0ZM23.4 133.5L23.6 130.3L21.9 131.9L19.0 132.0ZM37.6 133.5L37.9 130.3L36.2 131.9L33.3 132.0ZM51.9 133.5L52.1 130.3L50.5 131.9L47.5 132.0ZM65.3 133.8L66.7 130.7L64.5 131.9L61.6 131.6ZM78.5 133.9L81.2 131.1L78.5 131.9L75.9 131.1ZM92.8 133.9L95.5 131.1L92.8 131.9L90.2 131.1ZM106.1 133.8L109.7 131.6L106.8 131.9L104.6 130.7ZM119.4 133.5L123.8 132.0L120.9 131.9L119.2 130.3ZM148.0 129.1L147.8 132.3L149.4 130.7L152.3 130.6ZM164.2 128.8L161.5 131.5L164.2 130.7L166.8 131.5ZM179.5 128.8L175.8 131.0L178.7 130.7L181.0 131.9ZM195.5 129.5L190.7 130.2L193.4 130.8L194.4 132.7ZM210.4 130.0L205.5 129.9L207.9 131.0L208.1 132.9ZM224.7 130.0L219.7 129.9L222.1 131.0L222.4 132.9ZM239.4 130.6L234.6 129.7L236.5 131.1L236.0 133.0ZM253.6 130.6L248.9 129.7L250.8 131.1L250.3 133.0Z" fill="#000"/>
<path d="M39.5 80.6L49.9 76.6L65 76.3L79.1 77.2L88.5 80.2L79.1 85.7L64 88.1L49.9 87.6Z" fill="none" stroke="#000" stroke-width="1.2" stroke-linejoin="round"/>
<path d="M0 0H257.00V138.30H0Z M48.7 0.0L50.0 4.8L64.2 41.8L78.5 70.5L92.8 94.0L107.1 113.8L121.4 131.0L135.6 131.0L149.9 113.8L164.2 94.0L178.5 70.5L192.8 41.8L207.0 4.8L208.3 0.0Z" fill="#fff" fill-opacity="0.5" fill-rule="evenodd"/>
<path d="M48.7 0.0L50.0 4.8L64.2 41.8L78.5 70.5L92.8 94.0L107.1 113.8L121.4 131.0L135.6 131.0L149.9 113.8L164.2 94.0L178.5 70.5L192.8 41.8L207.0 4.8L208.3 0.0" fill="none" stroke="#000" stroke-width="0.75"/>
</g>
<rect x="0" y="0" width="257.00" height="138.30" fill="none" stroke="#262626" stroke-width="0.8"/>
<path d="M7.14 138.30v-2.6M7.14 0v2.6M35.69 138.30v-2.6M35.69 0v2.6M64.25 138.30v-2.6M64.25 0v2.6M92.81 138.30v-2.6M92.81 0v2.6M121.36 138.30v-2.6M121.36 0v2.6M149.92 138.30v-2.6M149.92 0v2.6M178.47 138.30v-2.6M178.47 0v2.6M207.03 138.30v-2.6M207.03 0v2.6M235.58 138.30v-2.6M235.58 0v2.6M0 83.30h2.6M257.00 83.30h-2.6" stroke="#262626" stroke-width="0.8" fill="none"/>
<text x="7.14" y="148.50" text-anchor="middle" font-size="8.5" class="t">2002</text>
<text x="35.69" y="148.50" text-anchor="middle" font-size="8.5" class="t">2004</text>
<text x="64.25" y="148.50" text-anchor="middle" font-size="8.5" class="t">2006</text>
<text x="92.81" y="148.50" text-anchor="middle" font-size="8.5" class="t">2008</text>
<text x="121.36" y="148.50" text-anchor="middle" font-size="8.5" class="t">2010</text>
<text x="149.92" y="148.50" text-anchor="middle" font-size="8.5" class="t">2012</text>
<text x="178.47" y="148.50" text-anchor="middle" font-size="8.5" class="t">2014</text>
<text x="207.03" y="148.50" text-anchor="middle" font-size="8.5" class="t">2016</text>
<text x="235.58" y="148.50" text-anchor="middle" font-size="8.5" class="t">2018</text>
<text x="-2" y="86.60" text-anchor="end" font-size="8.5" class="t">4</text>
<text transform="translate(-8.9,69.45) rotate(-90)" text-anchor="middle" font-size="9.35" class="t">Period</text>
<rect x="259.20" y="0.2" width="3.70" height="138.10" fill="url(#pg)"/>
<text x="264.50" y="3.90" font-size="8.5" class="t">3</text>
<text x="264.50" y="26.92" font-size="8.5" class="t">2</text>
<text x="264.50" y="49.93" font-size="8.5" class="t">1</text>
<text x="264.50" y="72.95" font-size="8.5" class="t">0</text>
<text x="264.50" y="95.97" font-size="8.5" class="t">-1</text>
<text x="264.50" y="118.98" font-size="8.5" class="t">-2</text>
<text x="264.50" y="142.00" font-size="8.5" class="t">-3</text>
<text x="265.80" y="-2.8" text-anchor="end" font-size="8.5" class="t">Spectral Intensity</text>
</g>
<g transform="translate(409.80,520.50)">
<clipPath id="cf"><rect x="0" y="0" width="257.00" height="138.30"/></clipPath>
<g clip-path="url(#cf)">
<g shape-rendering="crispEdges">
<rect x="-0.2" y="-0.2" width="43.2" height="4.3" fill="#f6f21e"/>
<rect x="42.6" y="-0.2" width="14.7" height="4.3" fill="#f9fb15"/>
<rect x="56.9" y="-0.2" width="14.7" height="4.3" fill="#f6f21e"/>
<rect x="71.2" y="-0.2" width="14.7" height="4.3" fill="#f5e825"/>
<rect x="85.5" y="-0.2" width="14.7" height="4.3" fill="#f6de29"/>
<rect x="99.7" y="-0.2" width="29.0" height="4.3" fill="#fad42e"/>
<rect x="128.3" y="-0.2" width="29.0" height="4.3" fill="#fec13a"/>
<rect x="156.9" y="-0.2" width="29.0" height="4.3" fill="#f8ba3d"/>
<rect x="185.4" y="-0.2" width="14.7" height="4.3" fill="#eaba31"/>
<rect x="199.7" y="-0.2" width="14.7" height="4.3" fill="#f8ba3d"/>
<rect x="214.0" y="-0.2" width="14.7" height="4.3" fill="#fec13a"/>
<rect x="228.2" y="-0.2" width="14.7" height="4.3" fill="#feca33"/>
<rect x="242.5" y="-0.2" width="14.7" height="4.3" fill="#fad42e"/>
<rect x="-0.2" y="3.7" width="57.5" height="7.7" fill="#f6f21e"/>
<rect x="56.9" y="3.7" width="14.7" height="7.7" fill="#f5e825"/>
<rect x="71.2" y="3.7" width="14.7" height="7.7" fill="#f6de29"/>
<rect x="85.5" y="3.7" width="14.7" height="7.7" fill="#fad42e"/>
<rect x="99.7" y="3.7" width="29.0" height="7.7" fill="#feca33"/>
<rect x="128.3" y="3.7" width="29.0" height="7.7" fill="#fec13a"/>
<rect x="156.9" y="3.7" width="43.2" height="7.7" fill="#f8ba3d"/>
<rect x="199.7" y="3.7" width="29.0" height="7.7" fill="#fec13a"/>
<rect x="228.2" y="3.7" width="14.7" height="7.7" fill="#feca33"/>
<rect x="242.5" y="3.7" width="14.7" height="7.7" fill="#fad42e"/>
<rect x="-0.2" y="11.0" width="14.7" height="7.7" fill="#f5e825"/>
<rect x="14.1" y="11.0" width="29.0" height="7.7" fill="#f6f21e"/>
<rect x="42.6" y="11.0" width="14.7" height="7.7" fill="#f5e825"/>
<rect x="56.9" y="11.0" width="14.7" height="7.7" fill="#f6de29"/>
<rect x="71.2" y="11.0" width="14.7" height="7.7" fill="#fad42e"/>
<rect x="85.5" y="11.0" width="29.0" height="7.7" fill="#feca33"/>
<rect x="114.0" y="11.0" width="14.7" height="7.7" fill="#fec13a"/>
<rect x="128.3" y="11.0" width="71.8" height="7.7" fill="#f8ba3d"/>
<rect x="199.7" y="11.0" width="14.7" height="7.7" fill="#fec13a"/>
<rect x="214.0" y="11.0" width="14.7" height="7.7" fill="#feca33"/>
<rect x="228.2" y="11.0" width="14.7" height="7.7" fill="#fad42e"/>
<rect x="242.5" y="11.0" width="14.7" height="7.7" fill="#f6de29"/>
<rect x="-0.2" y="18.3" width="14.7" height="7.7" fill="#f6de29"/>
<rect x="14.1" y="18.3" width="29.0" height="7.7" fill="#f5e825"/>
<rect x="42.6" y="18.3" width="14.7" height="7.7" fill="#f6de29"/>
<rect x="56.9" y="18.3" width="14.7" height="7.7" fill="#fad42e"/>
<rect x="71.2" y="18.3" width="29.0" height="7.7" fill="#feca33"/>
<rect x="99.7" y="18.3" width="14.7" height="7.7" fill="#fec13a"/>
<rect x="114.0" y="18.3" width="14.7" height="7.7" fill="#f8ba3d"/>
<rect x="128.3" y="18.3" width="14.7" height="7.7" fill="#dabd28"/>
<rect x="142.6" y="18.3" width="14.7" height="7.7" fill="#eaba31"/>
<rect x="156.9" y="18.3" width="29.0" height="7.7" fill="#f8ba3d"/>
<rect x="185.4" y="18.3" width="29.0" height="7.7" fill="#fec13a"/>
<rect x="214.0" y="18.3" width="14.7" height="7.7" fill="#feca33"/>
<rect x="228.2" y="18.3" width="14.7" height="7.7" fill="#fad42e"/>
<rect x="242.5" y="18.3" width="14.7" height="7.7" fill="#f6de29"/>
<rect x="-0.2" y="25.5" width="14.7" height="7.7" fill="#fad42e"/>
<rect x="14.1" y="25.5" width="29.0" height="7.7" fill="#f6de29"/>
<rect x="42.6" y="25.5" width="14.7" height="7.7" fill="#fad42e"/>
<rect x="56.9" y="25.5" width="14.7" height="7.7" fill="#feca33"/>
<rect x="71.2" y="25.5" width="14.7" height="7.7" fill="#fec13a"/>
<rect x="85.5" y="25.5" width="29.0" height="7.7" fill="#f8ba3d"/>
<rect x="114.0" y="25.5" width="14.7" height="7.7" fill="#dabd28"/>
<rect x="128.3" y="25.5" width="14.7" height="7.7" fill="#b4c533"/>
<rect x="142.6" y="25.5" width="14.7" height="7.7" fill="#dabd28"/>
<rect x="156.9" y="25.5" width="14.7" height="7.7" fill="#eaba31"/>
<rect x="171.1" y="25.5" width="14.7" height="7.7" fill="#f8ba3d"/>
<rect x="185.4" y="25.5" width="29.0" height="7.7" fill="#fec13a"/>
<rect x="214.0" y="25.5" width="14.7" height="7.7" fill="#feca33"/>
<rect x="228.2" y="25.5" width="14.7" height="7.7" fill="#fad42e"/>
<rect x="242.5" y="25.5" width="14.7" height="7.7" fill="#f6de29"/>
<rect x="-0.2" y="32.8" width="14.7" height="7.7" fill="#feca33"/>
<rect x="14.1" y="32.8" width="14.7" height="7.7" fill="#fad42e"/>
<rect x="28.4" y="32.8" width="14.7" height="7.7" fill="#f6de29"/>
<rect x="42.6" y="32.8" width="14.7" height="7.7" fill="#feca33"/>
<rect x="56.9" y="32.8" width="14.7" height="7.7" fill="#f8ba3d"/>
<rect x="71.2" y="32.8" width="14.7" height="7.7" fill="#eaba31"/>
<rect x="85.5" y="32.8" width="14.7" height="7.7" fill="#dabd28"/>
<rect x="99.7" y="32.8" width="14.7" height="7.7" fill="#c8c129"/>
<rect x="114.0" y="32.8" width="29.0" height="7.7" fill="#b4c533"/>
<rect x="142.6" y="32.8" width="14.7" height="7.7" fill="#c8c129"/>
<rect x="156.9" y="32.8" width="14.7" height="7.7" fill="#eaba31"/>
<rect x="171.1" y="32.8" width="14.7" height="7.7" fill="#f8ba3d"/>
<rect x="185.4" y="32.8" width="29.0" height="7.7" fill="#fec13a"/>
<rect x="214.0" y="32.8" width="14.7" height="7.7" fill="#feca33"/>
<rect x="228.2" y="32.8" width="14.7" height="7.7" fill="#fad42e"/>
<rect x="242.5" y="32.8" width="14.7" height="7.7" fill="#f5e825"/>
<rect x="-0.2" y="40.1" width="14.7" height="7.7" fill="#fec13a"/>
<rect x="14.1" y="40.1" width="14.7" height="7.7" fill="#feca33"/>
<rect x="28.4" y="40.1" width="14.7" height="7.7" fill="#f8ba3d"/>
<rect x="42.6" y="40.1" width="29.0" height="7.7" fill="#eaba31"/>
<rect x="71.2" y="40.1" width="29.0" height="7.7" fill="#b4c533"/>
<rect x="99.7" y="40.1" width="14.7" height="7.7" fill="#9fc942"/>
<rect x="114.0" y="40.1" width="14.7" height="7.7" fill="#88cb53"/>
<rect x="128.3" y="40.1" width="14.7" height="7.7" fill="#b4c533"/>
<rect x="142.6" y="40.1" width="14.7" height="7.7" fill="#c8c129"/>
<rect x="156.9" y="40.1" width="14.7" height="7.7" fill="#eaba31"/>
<rect x="171.1" y="40.1" width="43.2" height="7.7" fill="#fec13a"/>
<rect x="214.0" y="40.1" width="14.7" height="7.7" fill="#feca33"/>
<rect x="228.2" y="40.1" width="14.7" height="7.7" fill="#fad42e"/>
<rect x="242.5" y="40.1" width="14.7" height="7.7" fill="#f6de29"/>
<rect x="-0.2" y="47.4" width="14.7" height="7.7" fill="#fec13a"/>
<rect x="14.1" y="47.4" width="14.7" height="7.7" fill="#feca33"/>
<rect x="28.4" y="47.4" width="14.7" height="7.7" fill="#f8ba3d"/>
<rect x="42.6" y="47.4" width="14.7" height="7.7" fill="#dabd28"/>
<rect x="56.9" y="47.4" width="14.7" height="7.7" fill="#b4c533"/>
<rect x="71.2" y="47.4" width="14.7" height="7.7" fill="#88cb53"/>
<rect x="85.5" y="47.4" width="29.0" height="7.7" fill="#71cd64"/>
<rect x="114.0" y="47.4" width="14.7" height="7.7" fill="#88cb53"/>
<rect x="128.3" y="47.4" width="14.7" height="7.7" fill="#b4c533"/>
<rect x="142.6" y="47.4" width="14.7" height="7.7" fill="#c8c129"/>
<rect x="156.9" y="47.4" width="14.7" height="7.7" fill="#eaba31"/>
<rect x="171.1" y="47.4" width="14.7" height="7.7" fill="#f8ba3d"/>
<rect x="185.4" y="47.4" width="29.0" height="7.7" fill="#fec13a"/>
<rect x="214.0" y="47.4" width="14.7" height="7.7" fill="#feca33"/>
<rect x="228.2" y="47.4" width="14.7" height="7.7" fill="#fad42e"/>
<rect x="242.5" y="47.4" width="14.7" height="7.7" fill="#f6de29"/>
<rect x="-0.2" y="54.7" width="14.7" height="7.7" fill="#fec13a"/>
<rect x="14.1" y="54.7" width="14.7" height="7.7" fill="#feca33"/>
<rect x="28.4" y="54.7" width="14.7" height="7.7" fill="#f8ba3d"/>
<rect x="42.6" y="54.7" width="14.7" height="7.7" fill="#dabd28"/>
<rect x="56.9" y="54.7" width="14.7" height="7.7" fill="#88cb53"/>
<rect x="71.2" y="54.7" width="43.2" height="7.7" fill="#5ccc76"/>
<rect x="114.0" y="54.7" width="14.7" height="7.7" fill="#71cd64"/>
<rect x="128.3" y="54.7" width="14.7" height="7.7" fill="#9fc942"/>
<rect x="142.6" y="54.7" width="14.7" height="7.7" fill="#b4c533"/>
<rect x="156.9" y="54.7" width="14.7" height="7.7" fill="#dabd28"/>
<rect x="171.1" y="54.7" width="29.0" height="7.7" fill="#f8ba3d"/>
<rect x="199.7" y="54.7" width="29.0" height="7.7" fill="#fec13a"/>
<rect x="228.2" y="54.7" width="14.7" height="7.7" fill="#feca33"/>
<rect x="242.5" y="54.7" width="14.7" height="7.7" fill="#fad42e"/>
<rect x="-0.2" y="61.9" width="14.7" height="7.7" fill="#fec13a"/>
<rect x="14.1" y="61.9" width="14.7" height="7.7" fill="#feca33"/>
<rect x="28.4" y="61.9" width="14.7" height="7.7" fill="#f8ba3d"/>
<rect x="42.6" y="61.9" width="14.7" height="7.7" fill="#c8c129"/>
<rect x="56.9" y="61.9" width="14.7" height="7.7" fill="#71cd64"/>
<rect x="71.2" y="61.9" width="29.0" height="7.7" fill="#48cb86"/>
<rect x="99.7" y="61.9" width="43.2" height="7.7" fill="#5ccc76"/>
<rect x="142.6" y="61.9" width="14.7" height="7.7" fill="#9fc942"/>
<rect x="156.9" y="61.9" width="14.7" height="7.7" fill="#c8c129"/>
<rect x="171.1" y="61.9" width="14.7" height="7.7" fill="#dabd28"/>
<rect x="185.4" y="61.9" width="14.7" height="7.7" fill="#eaba31"/>
<rect x="199.7" y="61.9" width="14.7" height="7.7" fill="#f8ba3d"/>
<rect x="214.0" y="61.9" width="14.7" height="7.7" fill="#fec13a"/>
<rect x="228.2" y="61.9" width="29.0" height="7.7" fill="#feca33"/>
<rect x="-0.2" y="69.2" width="14.7" height="7.7" fill="#fec13a"/>
<rect x="14.1" y="69.2" width="14.7" height="7.7" fill="#feca33"/>
<rect x="28.4" y="69.2" width="14.7" height="7.7" fill="#f8ba3d"/>
<rect x="42.6" y="69.2" width="14.7" height="7.7" fill="#dabd28"/>
<rect x="56.9" y="69.2" width="14.7" height="7.7" fill="#88cb53"/>
<rect x="71.2" y="69.2" width="14.7" height="7.7" fill="#5ccc76"/>
<rect x="85.5" y="69.2" width="14.7" height="7.7" fill="#39c895"/>
<rect x="99.7" y="69.2" width="14.7" height="7.7" fill="#48cb86"/>
<rect x="114.0" y="69.2" width="14.7" height="7.7" fill="#5ccc76"/>
<rect x="128.3" y="69.2" width="14.7" height="7.7" fill="#39c895"/>
<rect x="142.6" y="69.2" width="14.7" height="7.7" fill="#71cd64"/>
<rect x="156.9" y="69.2" width="14.7" height="7.7" fill="#9fc942"/>
<rect x="171.1" y="69.2" width="14.7" height="7.7" fill="#b4c533"/>
<rect x="185.4" y="69.2" width="14.7" height="7.7" fill="#dabd28"/>
<rect x="199.7" y="69.2" width="29.0" height="7.7" fill="#eaba31"/>
<rect x="228.2" y="69.2" width="14.7" height="7.7" fill="#f8ba3d"/>
<rect x="242.5" y="69.2" width="14.7" height="7.7" fill="#fec13a"/>
<rect x="-0.2" y="76.5" width="14.7" height="7.7" fill="#fec13a"/>
<rect x="14.1" y="76.5" width="14.7" height="7.7" fill="#feca33"/>
<rect x="28.4" y="76.5" width="14.7" height="7.7" fill="#f8ba3d"/>
<rect x="42.6" y="76.5" width="14.7" height="7.7" fill="#dabd28"/>
<rect x="56.9" y="76.5" width="14.7" height="7.7" fill="#9fc942"/>
<rect x="71.2" y="76.5" width="14.7" height="7.7" fill="#71cd64"/>
<rect x="85.5" y="76.5" width="14.7" height="7.7" fill="#5ccc76"/>
<rect x="99.7" y="76.5" width="29.0" height="7.7" fill="#48cb86"/>
<rect x="128.3" y="76.5" width="14.7" height="7.7" fill="#2fc5a2"/>
<rect x="142.6" y="76.5" width="14.7" height="7.7" fill="#48cb86"/>
<rect x="156.9" y="76.5" width="14.7" height="7.7" fill="#5ccc76"/>
<rect x="171.1" y="76.5" width="14.7" height="7.7" fill="#88cb53"/>
<rect x="185.4" y="76.5" width="14.7" height="7.7" fill="#9fc942"/>
<rect x="199.7" y="76.5" width="14.7" height="7.7" fill="#b4c533"/>
<rect x="214.0" y="76.5" width="29.0" height="7.7" fill="#c8c129"/>
<rect x="242.5" y="76.5" width="14.7" height="7.7" fill="#dabd28"/>
<rect x="-0.2" y="83.8" width="43.2" height="7.7" fill="#fec13a"/>
<rect x="42.6" y="83.8" width="14.7" height="7.7" fill="#eaba31"/>
<rect x="56.9" y="83.8" width="14.7" height="7.7" fill="#b4c533"/>
<rect x="71.2" y="83.8" width="14.7" height="7.7" fill="#88cb53"/>
<rect x="85.5" y="83.8" width="14.7" height="7.7" fill="#5ccc76"/>
<rect x="99.7" y="83.8" width="14.7" height="7.7" fill="#39c895"/>
<rect x="114.0" y="83.8" width="14.7" height="7.7" fill="#48cb86"/>
<rect x="128.3" y="83.8" width="14.7" height="7.7" fill="#24c2ae"/>
<rect x="142.6" y="83.8" width="14.7" height="7.7" fill="#2fc5a2"/>
<rect x="156.9" y="83.8" width="14.7" height="7.7" fill="#39c895"/>
<rect x="171.1" y="83.8" width="29.0" height="7.7" fill="#48cb86"/>
<rect x="199.7" y="83.8" width="14.7" height="7.7" fill="#5ccc76"/>
<rect x="214.0" y="83.8" width="29.0" height="7.7" fill="#71cd64"/>
<rect x="242.5" y="83.8" width="14.7" height="7.7" fill="#88cb53"/>
<rect x="-0.2" y="91.1" width="43.2" height="7.7" fill="#fec13a"/>
<rect x="42.6" y="91.1" width="14.7" height="7.7" fill="#eaba31"/>
<rect x="56.9" y="91.1" width="14.7" height="7.7" fill="#c8c129"/>
<rect x="71.2" y="91.1" width="14.7" height="7.7" fill="#88cb53"/>
<rect x="85.5" y="91.1" width="14.7" height="7.7" fill="#5ccc76"/>
<rect x="99.7" y="91.1" width="29.0" height="7.7" fill="#39c895"/>
<rect x="128.3" y="91.1" width="29.0" height="7.7" fill="#12beb9"/>
<rect x="156.9" y="91.1" width="14.7" height="7.7" fill="#24c2ae"/>
<rect x="171.1" y="91.1" width="29.0" height="7.7" fill="#12beb9"/>
<rect x="199.7" y="91.1" width="14.7" height="7.7" fill="#24c2ae"/>
<rect x="214.0" y="91.1" width="29.0" height="7.7" fill="#2fc5a2"/>
<rect x="242.5" y="91.1" width="14.7" height="7.7" fill="#39c895"/>
<rect x="-0.2" y="98.3" width="43.2" height="7.7" fill="#fec13a"/>
<rect x="42.6" y="98.3" width="14.7" height="7.7" fill="#eaba31"/>
<rect x="56.9" y="98.3" width="14.7" height="7.7" fill="#c8c129"/>
<rect x="71.2" y="98.3" width="14.7" height="7.7" fill="#9fc942"/>
<rect x="85.5" y="98.3" width="14.7" height="7.7" fill="#5ccc76"/>
<rect x="99.7" y="98.3" width="14.7" height="7.7" fill="#48cb86"/>
<rect x="114.0" y="98.3" width="14.7" height="7.7" fill="#2fc5a2"/>
<rect x="128.3" y="98.3" width="14.7" height="7.7" fill="#05b6ce"/>
<rect x="142.6" y="98.3" width="14.7" height="7.7" fill="#02bac4"/>
<rect x="156.9" y="98.3" width="57.5" height="7.7" fill="#05b6ce"/>
<rect x="214.0" y="98.3" width="14.7" height="7.7" fill="#02bac4"/>
<rect x="228.2" y="98.3" width="29.0" height="7.7" fill="#12beb9"/>
<rect x="-0.2" y="105.6" width="43.2" height="7.7" fill="#fec13a"/>
<rect x="42.6" y="105.6" width="14.7" height="7.7" fill="#f8ba3d"/>
<rect x="56.9" y="105.6" width="14.7" height="7.7" fill="#c8c129"/>
<rect x="71.2" y="105.6" width="14.7" height="7.7" fill="#9fc942"/>
<rect x="85.5" y="105.6" width="14.7" height="7.7" fill="#5ccc76"/>
<rect x="99.7" y="105.6" width="14.7" height="7.7" fill="#39c895"/>
<rect x="114.0" y="105.6" width="14.7" height="7.7" fill="#24c2ae"/>
<rect x="128.3" y="105.6" width="14.7" height="7.7" fill="#13b0d7"/>
<rect x="142.6" y="105.6" width="57.5" height="7.7" fill="#1caadf"/>
<rect x="199.7" y="105.6" width="14.7" height="7.7" fill="#13b0d7"/>
<rect x="214.0" y="105.6" width="43.2" height="7.7" fill="#05b6ce"/>
<rect x="-0.2" y="112.9" width="43.2" height="7.7" fill="#fec13a"/>
<rect x="42.6" y="112.9" width="14.7" height="7.7" fill="#eaba31"/>
<rect x="56.9" y="112.9" width="14.7" height="7.7" fill="#c8c129"/>
<rect x="71.2" y="112.9" width="14.7" height="7.7" fill="#9fc942"/>
<rect x="85.5" y="112.9" width="14.7" height="7.7" fill="#5ccc76"/>
<rect x="99.7" y="112.9" width="14.7" height="7.7" fill="#39c895"/>
<rect x="114.0" y="112.9" width="14.7" height="7.7" fill="#12beb9"/>
<rect x="128.3" y="112.9" width="14.7" height="7.7" fill="#1caadf"/>
<rect x="142.6" y="112.9" width="43.2" height="7.7" fill="#21a3e3"/>
<rect x="185.4" y="112.9" width="29.0" height="7.7" fill="#1caadf"/>
<rect x="214.0" y="112.9" width="14.7" height="7.7" fill="#13b0d7"/>
<rect x="228.2" y="112.9" width="29.0" height="7.7" fill="#05b6ce"/>
<rect x="-0.2" y="120.2" width="14.7" height="7.7" fill="#f8ba3d"/>
<rect x="14.1" y="120.2" width="14.7" height="7.7" fill="#eaba31"/>
<rect x="28.4" y="120.2" width="14.7" height="7.7" fill="#dabd28"/>
<rect x="42.6" y="120.2" width="14.7" height="7.7" fill="#b4c533"/>
<rect x="56.9" y="120.2" width="14.7" height="7.7" fill="#88cb53"/>
<rect x="71.2" y="120.2" width="29.0" height="7.7" fill="#5ccc76"/>
<rect x="99.7" y="120.2" width="14.7" height="7.7" fill="#2fc5a2"/>
<rect x="114.0" y="120.2" width="14.7" height="7.7" fill="#02bac4"/>
<rect x="128.3" y="120.2" width="29.0" height="7.7" fill="#13b0d7"/>
<rect x="156.9" y="120.2" width="29.0" height="7.7" fill="#1caadf"/>
<rect x="185.4" y="120.2" width="14.7" height="7.7" fill="#13b0d7"/>
<rect x="199.7" y="120.2" width="29.0" height="7.7" fill="#05b6ce"/>
<rect x="228.2" y="120.2" width="14.7" height="7.7" fill="#02bac4"/>
<rect x="242.5" y="120.2" width="14.7" height="7.7" fill="#12beb9"/>
<rect x="-0.2" y="127.5" width="14.7" height="7.7" fill="#dabd28"/>
<rect x="14.1" y="127.5" width="14.7" height="7.7" fill="#c8c129"/>
<rect x="28.4" y="127.5" width="14.7" height="7.7" fill="#b4c533"/>
<rect x="42.6" y="127.5" width="14.7" height="7.7" fill="#88cb53"/>
<rect x="56.9" y="127.5" width="14.7" height="7.7" fill="#5ccc76"/>
<rect x="71.2" y="127.5" width="14.7" height="7.7" fill="#39c895"/>
<rect x="85.5" y="127.5" width="14.7" height="7.7" fill="#24c2ae"/>
<rect x="99.7" y="127.5" width="14.7" height="7.7" fill="#05b6ce"/>
<rect x="114.0" y="127.5" width="14.7" height="7.7" fill="#13b0d7"/>
<rect x="128.3" y="127.5" width="29.0" height="7.7" fill="#05b6ce"/>
<rect x="156.9" y="127.5" width="14.7" height="7.7" fill="#13b0d7"/>
<rect x="171.1" y="127.5" width="14.7" height="7.7" fill="#1caadf"/>
<rect x="185.4" y="127.5" width="14.7" height="7.7" fill="#13b0d7"/>
<rect x="199.7" y="127.5" width="14.7" height="7.7" fill="#05b6ce"/>
<rect x="214.0" y="127.5" width="14.7" height="7.7" fill="#02bac4"/>
<rect x="228.2" y="127.5" width="14.7" height="7.7" fill="#12beb9"/>
<rect x="242.5" y="127.5" width="14.7" height="7.7" fill="#24c2ae"/>
<rect x="-0.2" y="134.7" width="14.7" height="3.8" fill="#b4c533"/>
<rect x="14.1" y="134.7" width="14.7" height="3.8" fill="#9fc942"/>
<rect x="28.4" y="134.7" width="14.7" height="3.8" fill="#88cb53"/>
<rect x="42.6" y="134.7" width="14.7" height="3.8" fill="#5ccc76"/>
<rect x="56.9" y="134.7" width="14.7" height="3.8" fill="#39c895"/>
<rect x="71.2" y="134.7" width="14.7" height="3.8" fill="#24c2ae"/>
<rect x="85.5" y="134.7" width="14.7" height="3.8" fill="#13b0d7"/>
<rect x="99.7" y="134.7" width="14.7" height="3.8" fill="#259ce7"/>
<rect x="114.0" y="134.7" width="14.7" height="3.8" fill="#21a3e3"/>
<rect x="128.3" y="134.7" width="29.0" height="3.8" fill="#02bac4"/>
<rect x="156.9" y="134.7" width="14.7" height="3.8" fill="#05b6ce"/>
<rect x="171.1" y="134.7" width="14.7" height="3.8" fill="#1caadf"/>
<rect x="185.4" y="134.7" width="14.7" height="3.8" fill="#13b0d7"/>
<rect x="199.7" y="134.7" width="14.7" height="3.8" fill="#05b6ce"/>
<rect x="214.0" y="134.7" width="14.7" height="3.8" fill="#12beb9"/>
<rect x="228.2" y="134.7" width="14.7" height="3.8" fill="#24c2ae"/>
<rect x="242.5" y="134.7" width="14.7" height="3.8" fill="#2fc5a2"/>
</g>
<path d="M3.4 -0.4L8.1 0.5M17.6 -0.4L22.4 0.5M31.9 -0.4L36.6 0.5M46.2 -0.4L50.9 0.5M60.4 0.3L65.2 0.3M74.6 0.3L79.5 0.3M88.9 0.3L93.8 0.3M103.2 0.3L108.1 0.3M117.6 -0.4L122.3 0.5M132.3 -1.0L136.5 0.6M146.1 -0.4L150.9 0.5M160.3 0.3L165.2 0.3M174.6 0.3L179.4 0.3M188.8 0.3L193.7 0.3M218.5 -1.5L222.0 0.8M231.7 0.3L236.6 0.3M246.0 0.3L250.8 0.3M3.4 6.9L8.1 7.7M17.6 6.9L22.4 7.7M31.9 6.9L36.6 7.7M46.2 6.9L50.9 7.7M60.4 7.5L65.2 7.5M74.6 7.5L79.5 7.5M88.9 7.5L93.8 7.5M103.2 7.5L108.1 7.5M117.6 6.9L122.3 7.7M132.3 6.3L136.5 7.9M146.1 6.9L150.9 7.7M160.3 7.5L165.2 7.5M174.6 7.5L179.4 7.5M188.8 7.5L193.7 7.5M218.5 5.7L222.0 8.0M231.7 7.5L236.6 7.5M246.0 7.5L250.8 7.5M3.4 14.2L8.1 15.0M17.6 14.2L22.4 15.0M31.9 14.2L36.6 15.0M46.2 14.2L50.9 15.0M60.4 14.8L65.2 14.8M74.6 14.8L79.5 14.8M88.9 14.8L93.8 14.8M103.2 14.8L108.1 14.8M118.0 13.5L122.2 15.1M132.3 13.5L136.5 15.1M146.5 13.5L150.8 15.1M160.3 14.8L165.2 14.8M174.6 14.8L179.4 14.8M188.8 14.8L193.7 14.8M217.4 14.8L222.3 14.8M231.7 14.8L236.6 14.8M246.0 14.8L250.8 14.8M3.4 21.4L8.1 22.3M17.6 21.4L22.4 22.3M31.9 21.4L36.6 22.3M46.2 21.4L50.9 22.3M60.4 22.1L65.2 22.1M74.6 22.1L79.5 22.1M88.9 22.1L93.8 22.1M103.2 22.1L108.1 22.1M118.0 20.8L122.2 22.4M132.9 20.3L136.3 22.6M146.5 20.8L150.8 22.4M160.3 22.1L165.2 22.1M174.6 22.1L179.4 22.1M188.8 22.1L193.7 22.1M203.1 22.1L208.0 22.1M217.4 22.1L222.3 22.1M231.7 22.1L236.6 22.1M246.0 22.1L250.8 22.1M3.4 28.7L8.1 29.5M17.6 28.7L22.4 29.5M31.9 28.7L36.6 29.5M46.1 29.4L50.9 29.4M60.5 30.0L65.2 29.2M74.8 30.0L79.5 29.2M88.9 29.4L93.8 29.4M103.2 29.4L108.1 29.4M118.6 27.6L122.1 29.8M137.6 27.2L135.2 29.9M146.0 29.4L150.9 29.4M160.4 30.0L165.1 29.2M174.6 29.4L179.4 29.4M188.8 29.4L193.7 29.4M203.1 29.4L208.0 29.4M217.4 29.4L222.3 29.4M231.7 29.4L236.6 29.4M246.0 29.4L250.8 29.4M3.8 35.4L8.0 37.0M18.0 35.4L22.3 37.0M32.3 35.4L36.5 37.0M46.2 36.0L50.9 36.8M60.9 37.9L65.1 36.3M75.2 37.9L79.4 36.3M89.0 37.3L93.7 36.5M103.3 37.3L108.0 36.5M118.0 35.4L122.2 37.0M137.6 38.9L135.2 36.1M149.9 39.2L149.9 36.0M160.8 37.9L165.0 36.3M174.7 37.3L179.4 36.5M188.8 36.7L193.7 36.7M203.1 36.7L208.0 36.7M217.4 36.7L222.3 36.7M231.7 36.7L236.6 36.7M246.0 36.7L250.8 36.7M3.8 42.7L8.0 44.3M18.0 42.7L22.3 44.3M32.3 42.7L36.5 44.3M48.0 41.7L50.5 44.5M75.8 45.7L79.2 43.5M89.4 45.2L93.6 43.6M103.3 44.6L108.0 43.8M117.6 44.6L122.3 43.8M132.3 45.2L136.5 43.6M147.2 45.7L150.6 43.5M160.8 45.2L165.0 43.6M175.1 45.2L179.3 43.6M189.0 44.6L193.7 43.8M203.1 43.9L208.0 43.9M217.4 43.9L222.3 43.9M231.7 43.9L236.6 43.9M246.0 43.9L250.8 43.9M4.4 49.4L7.8 51.7M18.7 49.4L22.1 51.7M32.9 49.4L36.4 51.7M49.0 48.8L50.2 51.8M62.3 49.0L64.7 51.8M74.8 50.6L79.5 51.4M88.9 51.2L93.8 51.2M103.3 51.9L108.0 51.1M117.6 51.9L122.3 51.1M132.3 52.5L136.5 50.9M146.5 52.5L150.8 50.9M160.8 52.5L165.0 50.9M175.1 52.5L179.3 50.9M189.0 51.9L193.7 51.1M203.1 51.2L208.0 51.2M217.4 51.2L222.3 51.2M231.7 51.2L236.6 51.2M246.0 51.2L250.8 51.2M4.4 56.7L7.8 59.0M18.7 56.7L22.1 59.0M32.9 56.7L36.4 59.0M48.0 56.3L50.5 59.1M61.5 56.7L64.9 59.0M75.2 57.2L79.4 58.8M88.9 58.5L93.8 58.5M103.2 58.5L108.1 58.5M117.5 58.5L122.3 58.5M132.3 59.8L136.5 58.2M146.5 59.8L150.8 58.2M160.8 59.8L165.0 58.2M175.1 59.8L179.3 58.2M189.0 59.2L193.7 58.3M203.1 58.5L208.0 58.5M217.4 58.5L222.3 58.5M231.7 58.5L236.6 58.5M246.0 58.5L250.8 58.5M4.4 64.0L7.8 66.2M18.7 64.0L22.1 66.2M32.9 64.0L36.4 66.2M47.2 64.0L50.7 66.2M61.5 64.0L64.9 66.2M75.2 64.5L79.4 66.1M89.0 65.1L93.7 65.9M103.2 65.8L108.1 65.8M117.5 65.8L122.3 65.8M146.5 67.1L150.8 65.5M160.8 67.1L165.0 65.5M174.7 66.4L179.4 65.6M189.0 66.4L193.7 65.6M203.1 65.8L208.0 65.8M217.4 65.8L222.3 65.8M231.7 65.8L236.6 65.8M246.0 65.8L250.8 65.8M4.4 71.3L7.8 73.5M18.7 71.3L22.1 73.5M32.9 71.3L36.4 73.5M47.2 71.3L50.7 73.5M61.5 71.3L64.9 73.5M75.2 71.8L79.4 73.4M89.0 72.4L93.7 73.2M103.2 73.1L108.1 73.1M117.5 73.1L122.3 73.1M132.3 74.3L136.5 72.7M160.8 74.3L165.0 72.7M175.1 74.3L179.3 72.7M189.4 74.3L193.6 72.7M203.3 73.7L208.0 72.9M217.4 73.1L222.3 73.1M231.7 73.1L236.6 73.1M246.0 73.1L250.8 73.1M4.4 78.5L7.8 80.8M18.7 78.5L22.1 80.8M32.9 78.5L36.4 80.8M47.2 78.5L50.7 80.8M61.5 78.5L64.9 80.8M75.2 79.1L79.4 80.7M89.0 79.7L93.7 80.5M103.2 80.3L108.1 80.3M117.5 80.3L122.3 80.3M132.3 81.6L136.5 80.0M147.2 82.1L150.6 79.9M163.2 82.8L164.4 79.7M176.5 82.5L179.0 79.8M189.0 81.0L193.7 80.2M203.1 80.3L208.0 80.3M217.4 80.3L222.3 80.3M231.7 80.3L236.6 80.3M246.0 80.3L250.8 80.3M4.4 85.8L7.8 88.1M18.7 85.8L22.1 88.1M32.9 85.8L36.4 88.1M47.2 85.8L50.7 88.1M61.5 85.8L64.9 88.1M75.8 85.8L79.2 88.1M89.4 86.3L93.6 87.9M103.3 87.0L108.0 87.8M117.5 87.6L122.3 87.6M132.3 88.9L136.5 87.3M148.0 89.8L150.4 87.1M165.2 90.1L163.9 87.0M181.2 89.4L177.8 87.2M196.1 88.9L191.9 87.3M210.8 88.3L206.1 87.5M217.9 86.3L222.1 87.9M231.8 87.0L236.5 87.8M246.1 87.0L250.8 87.8M4.4 93.1L7.8 95.4M18.7 93.1L22.1 95.4M32.9 93.1L36.4 95.4M47.2 93.1L50.7 95.4M61.5 93.1L64.9 95.4M75.8 93.1L79.2 95.4M89.4 93.6L93.6 95.2M103.3 94.2L108.0 95.1M117.6 94.2L122.3 95.1M131.9 95.6L136.6 94.7M147.2 96.7L150.6 94.4M160.3 94.9L165.2 94.9M194.7 92.7L192.3 95.5M206.0 92.4L207.3 95.5M218.5 93.1L222.0 95.4M232.2 93.6L236.4 95.2M246.5 93.6L250.7 95.2M4.4 100.4L7.8 102.6M18.7 100.4L22.1 102.6M32.9 100.4L36.4 102.6M47.2 100.4L50.7 102.6M61.5 100.4L64.9 102.6M75.8 100.4L79.2 102.6M90.0 100.4L93.5 102.6M103.7 100.9L107.9 102.5M118.0 100.9L122.2 102.5M132.3 100.9L136.5 102.5M246.1 101.5L250.8 102.3M4.4 107.7L7.8 109.9M18.7 107.7L22.1 109.9M32.9 107.7L36.4 109.9M47.2 107.7L50.7 109.9M61.5 107.7L64.9 109.9M75.8 107.7L79.2 109.9M90.0 107.7L93.5 109.9M104.3 107.7L107.8 109.9M118.6 107.7L122.1 109.9M5.2 114.5L7.6 117.3M19.5 114.5L21.9 117.3M32.9 114.9L36.4 117.2M47.2 114.9L50.7 117.2M61.5 114.9L64.9 117.2M75.8 114.9L79.2 117.2M90.9 114.5L93.3 117.3M105.1 114.5L107.6 117.3M119.4 114.5L121.8 117.3M5.2 121.8L7.6 124.6M19.5 121.8L21.9 124.6M33.7 121.8L36.2 124.6M48.0 121.8L50.5 124.6M62.3 121.8L64.7 124.6M76.6 121.8L79.0 124.6M91.8 121.6L93.1 124.6M107.1 121.5L107.1 124.7M121.4 121.5L121.4 124.7M5.2 129.1L7.6 131.9M19.5 129.1L21.9 131.9M33.7 129.1L36.2 131.9M48.0 129.1L50.5 131.9M62.3 129.1L64.7 131.9M77.5 128.8L78.8 131.9M92.8 128.8L92.8 131.9M108.1 128.8L106.8 131.9M246.1 132.0L250.8 131.1" stroke="#000" stroke-width="1" fill="none"/>
<path d="M10.9 1.0L7.6 -1.4L8.1 0.5L6.2 1.9ZM25.2 1.0L21.8 -1.4L22.4 0.5L20.5 1.9ZM39.5 1.0L36.1 -1.4L36.6 0.5L34.7 1.9ZM53.7 1.0L50.4 -1.4L50.9 0.5L49.0 1.9ZM68.2 0.3L64.0 -1.4L65.2 0.3L64.0 2.0ZM82.4 0.3L78.3 -1.4L79.5 0.3L78.3 2.0ZM96.7 0.3L92.5 -1.4L93.8 0.3L92.5 2.0ZM111.0 0.3L106.8 -1.4L108.1 0.3L106.8 2.0ZM125.1 1.0L121.8 -1.4L122.3 0.5L120.4 1.9ZM139.0 1.6L136.7 -1.3L136.5 0.6L134.1 1.7ZM153.7 1.0L150.3 -1.4L150.9 0.5L149.0 1.9ZM168.1 0.3L163.9 -1.4L165.2 0.3L163.9 2.0ZM182.4 0.3L178.2 -1.4L179.4 0.3L178.2 2.0ZM196.7 0.3L192.5 -1.4L193.7 0.3L192.5 2.0ZM224.1 2.1L223.0 -1.1L222.0 0.8L219.2 1.4ZM239.5 0.3L235.3 -1.4L236.6 0.3L235.3 2.0ZM253.8 0.3L249.6 -1.4L250.8 0.3L249.6 2.0ZM10.9 8.2L7.6 5.8L8.1 7.7L6.2 9.2ZM25.2 8.2L21.8 5.8L22.4 7.7L20.5 9.2ZM39.5 8.2L36.1 5.8L36.6 7.7L34.7 9.2ZM53.7 8.2L50.4 5.8L50.9 7.7L49.0 9.2ZM68.2 7.5L64.0 5.8L65.2 7.5L64.0 9.3ZM82.4 7.5L78.3 5.8L79.5 7.5L78.3 9.3ZM96.7 7.5L92.5 5.8L93.8 7.5L92.5 9.3ZM111.0 7.5L106.8 5.8L108.1 7.5L106.8 9.3ZM125.1 8.2L121.8 5.8L122.3 7.7L120.4 9.2ZM139.0 8.8L136.7 5.9L136.5 7.9L134.1 9.0ZM153.7 8.2L150.3 5.8L150.9 7.7L149.0 9.2ZM168.1 7.5L163.9 5.8L165.2 7.5L163.9 9.3ZM182.4 7.5L178.2 5.8L179.4 7.5L178.2 9.3ZM196.7 7.5L192.5 5.8L193.7 7.5L192.5 9.3ZM224.1 9.3L223.0 6.2L222.0 8.0L219.2 8.6ZM239.5 7.5L235.3 5.8L236.6 7.5L235.3 9.3ZM253.8 7.5L249.6 5.8L250.8 7.5L249.6 9.3ZM10.9 15.5L7.6 13.1L8.1 15.0L6.2 16.4ZM25.2 15.5L21.8 13.1L22.4 15.0L20.5 16.4ZM39.5 15.5L36.1 13.1L36.6 15.0L34.7 16.4ZM53.7 15.5L50.4 13.1L50.9 15.0L49.0 16.4ZM68.2 14.8L64.0 13.1L65.2 14.8L64.0 16.6ZM82.4 14.8L78.3 13.1L79.5 14.8L78.3 16.6ZM96.7 14.8L92.5 13.1L93.8 14.8L92.5 16.6ZM111.0 14.8L106.8 13.1L108.1 14.8L106.8 16.6ZM124.7 16.1L122.5 13.2L122.2 15.1L119.8 16.2ZM139.0 16.1L136.7 13.2L136.5 15.1L134.1 16.2ZM153.3 16.1L151.0 13.2L150.8 15.1L148.4 16.2ZM168.1 14.8L163.9 13.1L165.2 14.8L163.9 16.6ZM182.4 14.8L178.2 13.1L179.4 14.8L178.2 16.6ZM196.7 14.8L192.5 13.1L193.7 14.8L192.5 16.6ZM225.2 14.8L221.0 13.1L222.3 14.8L221.0 16.6ZM239.5 14.8L235.3 13.1L236.6 14.8L235.3 16.6ZM253.8 14.8L249.6 13.1L250.8 14.8L249.6 16.6ZM10.9 22.8L7.6 20.4L8.1 22.3L6.2 23.7ZM25.2 22.8L21.8 20.4L22.4 22.3L20.5 23.7ZM39.5 22.8L36.1 20.4L36.6 22.3L34.7 23.7ZM53.7 22.8L50.4 20.4L50.9 22.3L49.0 23.7ZM68.2 22.1L64.0 20.4L65.2 22.1L64.0 23.8ZM82.4 22.1L78.3 20.4L79.5 22.1L78.3 23.8ZM96.7 22.1L92.5 20.4L93.8 22.1L92.5 23.8ZM111.0 22.1L106.8 20.4L108.1 22.1L106.8 23.8ZM124.7 23.4L122.5 20.5L122.2 22.4L119.8 23.5ZM138.4 23.9L137.3 20.7L136.3 22.6L133.6 23.2ZM153.3 23.4L151.0 20.5L150.8 22.4L148.4 23.5ZM168.1 22.1L163.9 20.4L165.2 22.1L163.9 23.8ZM182.4 22.1L178.2 20.4L179.4 22.1L178.2 23.8ZM196.7 22.1L192.5 20.4L193.7 22.1L192.5 23.8ZM210.9 22.1L206.8 20.4L208.0 22.1L206.8 23.8ZM225.2 22.1L221.0 20.4L222.3 22.1L221.0 23.8ZM239.5 22.1L235.3 20.4L236.6 22.1L235.3 23.8ZM253.8 22.1L249.6 20.4L250.8 22.1L249.6 23.8ZM10.9 30.0L7.6 27.7L8.1 29.5L6.2 31.0ZM25.2 30.0L21.8 27.7L22.4 29.5L20.5 31.0ZM39.5 30.0L36.1 27.7L36.6 29.5L34.7 31.0ZM53.9 29.4L49.7 27.6L50.9 29.4L49.7 31.1ZM68.0 28.7L63.3 27.8L65.2 29.2L64.7 31.1ZM82.3 28.7L77.6 27.8L79.5 29.2L79.0 31.1ZM96.7 29.4L92.5 27.6L93.8 29.4L92.5 31.1ZM111.0 29.4L106.8 27.6L108.1 29.4L106.8 31.1ZM124.1 31.2L123.0 28.0L122.1 29.8L119.3 30.5ZM133.7 31.6L138.1 30.1L135.2 29.9L133.5 28.4ZM153.8 29.4L149.6 27.6L150.9 29.4L149.6 31.1ZM168.0 28.7L163.2 27.8L165.1 29.2L164.6 31.1ZM182.4 29.4L178.2 27.6L179.4 29.4L178.2 31.1ZM196.7 29.4L192.5 27.6L193.7 29.4L192.5 31.1ZM210.9 29.4L206.8 27.6L208.0 29.4L206.8 31.1ZM225.2 29.4L221.0 27.6L222.3 29.4L221.0 31.1ZM239.5 29.4L235.3 27.6L236.6 29.4L235.3 31.1ZM253.8 29.4L249.6 27.6L250.8 29.4L249.6 31.1ZM10.5 37.9L8.2 35.1L8.0 37.0L5.6 38.1ZM24.8 37.9L22.5 35.1L22.3 37.0L19.9 38.1ZM39.1 37.9L36.8 35.1L36.5 37.0L34.1 38.1ZM53.7 37.3L50.4 34.9L50.9 36.8L49.0 38.3ZM67.6 35.4L62.7 35.2L65.1 36.3L65.3 38.3ZM81.9 35.4L77.0 35.2L79.4 36.3L79.6 38.3ZM96.6 36.0L91.9 35.0L93.7 36.5L93.2 38.4ZM110.9 36.0L106.1 35.0L108.0 36.5L107.5 38.4ZM124.7 37.9L122.5 35.1L122.2 37.0L119.8 38.1ZM133.7 34.5L133.5 37.7L135.2 36.1L138.1 35.9ZM149.9 34.1L147.3 36.8L149.9 36.0L152.6 36.8ZM167.6 35.4L162.6 35.2L165.0 36.3L165.3 38.3ZM182.2 36.0L177.5 35.0L179.4 36.5L178.9 38.4ZM196.7 36.7L192.5 34.9L193.7 36.7L192.5 38.4ZM210.9 36.7L206.8 34.9L208.0 36.7L206.8 38.4ZM225.2 36.7L221.0 34.9L222.3 36.7L221.0 38.4ZM239.5 36.7L235.3 34.9L236.6 36.7L235.3 38.4ZM253.8 36.7L249.6 34.9L250.8 36.7L249.6 38.4ZM10.5 45.2L8.2 42.3L8.0 44.3L5.6 45.4ZM24.8 45.2L22.5 42.3L22.3 44.3L19.9 45.4ZM39.1 45.2L36.8 42.3L36.5 44.3L34.1 45.4ZM51.9 46.1L52.1 42.9L50.5 44.5L47.5 44.7ZM81.3 42.1L76.5 42.8L79.2 43.5L80.2 45.3ZM96.2 42.7L91.2 42.5L93.6 43.6L93.9 45.5ZM110.9 43.3L106.1 42.3L108.0 43.8L107.5 45.7ZM125.1 43.3L120.4 42.3L122.3 43.8L121.8 45.7ZM139.0 42.7L134.1 42.5L136.5 43.6L136.7 45.5ZM152.7 42.1L147.8 42.8L150.6 43.5L151.6 45.3ZM167.6 42.7L162.6 42.5L165.0 43.6L165.3 45.5ZM181.8 42.7L176.9 42.5L179.3 43.6L179.6 45.5ZM196.5 43.3L191.8 42.3L193.7 43.8L193.2 45.7ZM210.9 43.9L206.8 42.2L208.0 43.9L206.8 45.7ZM225.2 43.9L221.0 42.2L222.3 43.9L221.0 45.7ZM239.5 43.9L235.3 42.2L236.6 43.9L235.3 45.7ZM253.8 43.9L249.6 42.2L250.8 43.9L249.6 45.7ZM9.9 53.0L8.8 49.9L7.8 51.7L5.1 52.3ZM24.2 53.0L23.1 49.9L22.1 51.7L19.3 52.3ZM38.5 53.0L37.4 49.9L36.4 51.7L33.6 52.3ZM51.0 53.7L52.5 50.6L50.2 51.8L47.3 51.5ZM66.2 53.4L66.4 50.2L64.7 51.8L61.8 51.9ZM82.3 51.9L79.0 49.5L79.5 51.4L77.6 52.8ZM96.7 51.2L92.5 49.5L93.8 51.2L92.5 53.0ZM110.9 50.6L106.1 49.6L108.0 51.1L107.5 52.9ZM125.1 50.6L120.4 49.6L122.3 51.1L121.8 52.9ZM139.0 49.9L134.1 49.8L136.5 50.9L136.7 52.8ZM153.3 49.9L148.4 49.8L150.8 50.9L151.0 52.8ZM167.6 49.9L162.6 49.8L165.0 50.9L165.3 52.8ZM181.8 49.9L176.9 49.8L179.3 50.9L179.6 52.8ZM196.5 50.6L191.8 49.6L193.7 51.1L193.2 52.9ZM210.9 51.2L206.8 49.5L208.0 51.2L206.8 53.0ZM225.2 51.2L221.0 49.5L222.3 51.2L221.0 53.0ZM239.5 51.2L235.3 49.5L236.6 51.2L235.3 53.0ZM253.8 51.2L249.6 49.5L250.8 51.2L249.6 53.0ZM9.9 60.3L8.8 57.1L7.8 59.0L5.1 59.6ZM24.2 60.3L23.1 57.1L22.1 59.0L19.3 59.6ZM38.5 60.3L37.4 57.1L36.4 59.0L33.6 59.6ZM51.9 60.7L52.1 57.5L50.5 59.1L47.5 59.2ZM67.0 60.3L65.9 57.1L64.9 59.0L62.2 59.6ZM81.9 59.8L79.6 56.9L79.4 58.8L77.0 59.9ZM96.7 58.5L92.5 56.8L93.8 58.5L92.5 60.2ZM111.0 58.5L106.8 56.8L108.1 58.5L106.8 60.2ZM125.3 58.5L121.1 56.8L122.3 58.5L121.1 60.2ZM139.0 57.2L134.1 57.1L136.5 58.2L136.7 60.1ZM153.3 57.2L148.4 57.1L150.8 58.2L151.0 60.1ZM167.6 57.2L162.6 57.1L165.0 58.2L165.3 60.1ZM181.8 57.2L176.9 57.1L179.3 58.2L179.6 60.1ZM196.5 57.8L191.8 56.9L193.7 58.3L193.2 60.2ZM210.9 58.5L206.8 56.8L208.0 58.5L206.8 60.2ZM225.2 58.5L221.0 56.8L222.3 58.5L221.0 60.2ZM239.5 58.5L235.3 56.8L236.6 58.5L235.3 60.2ZM253.8 58.5L249.6 56.8L250.8 58.5L249.6 60.2ZM9.9 67.6L8.8 64.4L7.8 66.2L5.1 66.9ZM24.2 67.6L23.1 64.4L22.1 66.2L19.3 66.9ZM38.5 67.6L37.4 64.4L36.4 66.2L33.6 66.9ZM52.7 67.6L51.7 64.4L50.7 66.2L47.9 66.9ZM67.0 67.6L65.9 64.4L64.9 66.2L62.2 66.9ZM81.9 67.1L79.6 64.2L79.4 66.1L77.0 67.2ZM96.6 66.4L93.2 64.1L93.7 65.9L91.9 67.4ZM111.0 65.8L106.8 64.0L108.1 65.8L106.8 67.5ZM125.3 65.8L121.1 64.0L122.3 65.8L121.1 67.5ZM153.3 64.5L148.4 64.4L150.8 65.5L151.0 67.4ZM167.6 64.5L162.6 64.4L165.0 65.5L165.3 67.4ZM182.2 65.1L177.5 64.2L179.4 65.6L178.9 67.5ZM196.5 65.1L191.8 64.2L193.7 65.6L193.2 67.5ZM210.9 65.8L206.8 64.0L208.0 65.8L206.8 67.5ZM225.2 65.8L221.0 64.0L222.3 65.8L221.0 67.5ZM239.5 65.8L235.3 64.0L236.6 65.8L235.3 67.5ZM253.8 65.8L249.6 64.0L250.8 65.8L249.6 67.5ZM9.9 74.9L8.8 71.7L7.8 73.5L5.1 74.2ZM24.2 74.9L23.1 71.7L22.1 73.5L19.3 74.2ZM38.5 74.9L37.4 71.7L36.4 73.5L33.6 74.2ZM52.7 74.9L51.7 71.7L50.7 73.5L47.9 74.2ZM67.0 74.9L65.9 71.7L64.9 73.5L62.2 74.2ZM81.9 74.3L79.6 71.5L79.4 73.4L77.0 74.5ZM96.6 73.7L93.2 71.3L93.7 73.2L91.9 74.7ZM111.0 73.1L106.8 71.3L108.1 73.1L106.8 74.8ZM125.3 73.1L121.1 71.3L122.3 73.1L121.1 74.8ZM139.0 71.8L134.1 71.6L136.5 72.7L136.7 74.7ZM167.6 71.8L162.6 71.6L165.0 72.7L165.3 74.7ZM181.8 71.8L176.9 71.6L179.3 72.7L179.6 74.7ZM196.1 71.8L191.2 71.6L193.6 72.7L193.8 74.7ZM210.8 72.4L206.1 71.4L208.0 72.9L207.5 74.8ZM225.2 73.1L221.0 71.3L222.3 73.1L221.0 74.8ZM239.5 73.1L235.3 71.3L236.6 73.1L235.3 74.8ZM253.8 73.1L249.6 71.3L250.8 73.1L249.6 74.8ZM9.9 82.1L8.8 79.0L7.8 80.8L5.1 81.4ZM24.2 82.1L23.1 79.0L22.1 80.8L19.3 81.4ZM38.5 82.1L37.4 79.0L36.4 80.8L33.6 81.4ZM52.7 82.1L51.7 79.0L50.7 80.8L47.9 81.4ZM67.0 82.1L65.9 79.0L64.9 80.8L62.2 81.4ZM81.9 81.6L79.6 78.7L79.4 80.7L77.0 81.8ZM96.6 81.0L93.2 78.6L93.7 80.5L91.9 82.0ZM111.0 80.3L106.8 78.6L108.1 80.3L106.8 82.1ZM125.3 80.3L121.1 78.6L122.3 80.3L121.1 82.1ZM139.0 79.1L134.1 78.9L136.5 80.0L136.7 81.9ZM152.7 78.5L147.8 79.2L150.6 79.9L151.6 81.7ZM165.2 77.9L161.6 80.1L164.4 79.7L166.7 81.0ZM180.4 78.1L176.0 79.6L179.0 79.8L180.6 81.4ZM196.5 79.7L191.8 78.7L193.7 80.2L193.2 82.1ZM210.9 80.3L206.8 78.6L208.0 80.3L206.8 82.1ZM225.2 80.3L221.0 78.6L222.3 80.3L221.0 82.1ZM239.5 80.3L235.3 78.6L236.6 80.3L235.3 82.1ZM253.8 80.3L249.6 78.6L250.8 80.3L249.6 82.1ZM9.9 89.4L8.8 86.3L7.8 88.1L5.1 88.7ZM24.2 89.4L23.1 86.3L22.1 88.1L19.3 88.7ZM38.5 89.4L37.4 86.3L36.4 88.1L33.6 88.7ZM52.7 89.4L51.7 86.3L50.7 88.1L47.9 88.7ZM67.0 89.4L65.9 86.3L64.9 88.1L62.2 88.7ZM81.3 89.4L80.2 86.3L79.2 88.1L76.5 88.7ZM96.2 88.9L93.9 86.0L93.6 87.9L91.2 89.0ZM110.9 88.3L107.5 85.9L108.0 87.8L106.1 89.2ZM125.3 87.6L121.1 85.9L122.3 87.6L121.1 89.4ZM139.0 86.3L134.1 86.2L136.5 87.3L136.7 89.2ZM151.9 85.4L147.5 86.9L150.4 87.1L152.1 88.6ZM163.2 85.2L161.7 88.2L163.9 87.0L166.8 87.3ZM175.7 85.8L176.8 89.0L177.8 87.2L180.5 86.5ZM189.4 86.3L191.7 89.2L191.9 87.3L194.3 86.2ZM203.3 87.0L206.6 89.3L206.1 87.5L208.0 86.0ZM224.7 88.9L222.4 86.0L222.1 87.9L219.7 89.0ZM239.4 88.3L236.0 85.9L236.5 87.8L234.6 89.2ZM253.6 88.3L250.3 85.9L250.8 87.8L248.9 89.2ZM9.9 96.7L8.8 93.5L7.8 95.4L5.1 96.0ZM24.2 96.7L23.1 93.5L22.1 95.4L19.3 96.0ZM38.5 96.7L37.4 93.5L36.4 95.4L33.6 96.0ZM52.7 96.7L51.7 93.5L50.7 95.4L47.9 96.0ZM67.0 96.7L65.9 93.5L64.9 95.4L62.2 96.0ZM81.3 96.7L80.2 93.5L79.2 95.4L76.5 96.0ZM96.2 96.2L93.9 93.3L93.6 95.2L91.2 96.3ZM110.9 95.6L107.5 93.2L108.0 95.1L106.1 96.5ZM125.1 95.6L121.8 93.2L122.3 95.1L120.4 96.5ZM139.4 94.2L134.7 93.3L136.6 94.7L136.1 96.6ZM152.7 93.1L147.8 93.8L150.6 94.4L151.6 96.3ZM168.1 94.9L163.9 93.2L165.2 94.9L163.9 96.6ZM190.8 97.1L195.2 95.6L192.3 95.5L190.6 93.9ZM208.0 97.4L209.5 94.3L207.3 95.5L204.4 95.2ZM224.1 96.7L223.0 93.5L222.0 95.4L219.2 96.0ZM239.0 96.2L236.7 93.3L236.4 95.2L234.0 96.3ZM253.2 96.2L251.0 93.3L250.7 95.2L248.3 96.3ZM9.9 104.0L8.8 100.8L7.8 102.6L5.1 103.3ZM24.2 104.0L23.1 100.8L22.1 102.6L19.3 103.3ZM38.5 104.0L37.4 100.8L36.4 102.6L33.6 103.3ZM52.7 104.0L51.7 100.8L50.7 102.6L47.9 103.3ZM67.0 104.0L65.9 100.8L64.9 102.6L62.2 103.3ZM81.3 104.0L80.2 100.8L79.2 102.6L76.5 103.3ZM95.6 104.0L94.5 100.8L93.5 102.6L90.7 103.3ZM110.5 103.5L108.2 100.6L107.9 102.5L105.5 103.6ZM124.7 103.5L122.5 100.6L122.2 102.5L119.8 103.6ZM139.0 103.5L136.7 100.6L136.5 102.5L134.1 103.6ZM253.6 102.8L250.3 100.5L250.8 102.3L248.9 103.8ZM9.9 111.3L8.8 108.1L7.8 109.9L5.1 110.6ZM24.2 111.3L23.1 108.1L22.1 109.9L19.3 110.6ZM38.5 111.3L37.4 108.1L36.4 109.9L33.6 110.6ZM52.7 111.3L51.7 108.1L50.7 109.9L47.9 110.6ZM67.0 111.3L65.9 108.1L64.9 109.9L62.2 110.6ZM81.3 111.3L80.2 108.1L79.2 109.9L76.5 110.6ZM95.6 111.3L94.5 108.1L93.5 109.9L90.7 110.6ZM109.8 111.3L108.8 108.1L107.8 109.9L105.0 110.6ZM124.1 111.3L123.0 108.1L122.1 109.9L119.3 110.6ZM9.1 118.9L9.3 115.7L7.6 117.3L4.7 117.5ZM23.4 118.9L23.6 115.7L21.9 117.3L19.0 117.5ZM38.5 118.5L37.4 115.4L36.4 117.2L33.6 117.8ZM52.7 118.5L51.7 115.4L50.7 117.2L47.9 117.8ZM67.0 118.5L65.9 115.4L64.9 117.2L62.2 117.8ZM81.3 118.5L80.2 115.4L79.2 117.2L76.5 117.8ZM94.8 118.9L95.0 115.7L93.3 117.3L90.4 117.5ZM109.0 118.9L109.2 115.7L107.6 117.3L104.7 117.5ZM123.3 118.9L123.5 115.7L121.8 117.3L118.9 117.5ZM9.1 126.2L9.3 123.0L7.6 124.6L4.7 124.7ZM23.4 126.2L23.6 123.0L21.9 124.6L19.0 124.7ZM37.6 126.2L37.9 123.0L36.2 124.6L33.3 124.7ZM51.9 126.2L52.1 123.0L50.5 124.6L47.5 124.7ZM66.2 126.2L66.4 123.0L64.7 124.6L61.8 124.7ZM80.5 126.2L80.7 123.0L79.0 124.6L76.1 124.7ZM93.8 126.5L95.3 123.4L93.1 124.6L90.2 124.3ZM107.1 126.6L109.7 123.8L107.1 124.7L104.4 123.8ZM121.4 126.6L124.0 123.8L121.4 124.7L118.7 123.8ZM9.1 133.5L9.3 130.3L7.6 131.9L4.7 132.0ZM23.4 133.5L23.6 130.3L21.9 131.9L19.0 132.0ZM37.6 133.5L37.9 130.3L36.2 131.9L33.3 132.0ZM51.9 133.5L52.1 130.3L50.5 131.9L47.5 132.0ZM66.2 133.5L66.4 130.3L64.7 131.9L61.8 132.0ZM79.5 133.8L81.0 130.7L78.8 131.9L75.9 131.6ZM92.8 133.9L95.5 131.1L92.8 131.9L90.2 131.1ZM106.1 133.8L109.7 131.6L106.8 131.9L104.6 130.7ZM253.6 130.6L248.9 129.7L250.8 131.1L250.3 133.0Z" fill="#000"/>
<path d="M7.2 130L20.7 128.1L35.8 124.7L49.9 121.5L64 116.8L69.7 107.3L71.9 96L69.7 86.6L64 79.1L56.5 72.5L50.8 65.9L50.5 59.3L54.6 52.7L65 47.5L79.1 43.7L92.3 36.7L102.6 30.1L109.2 22.6L117.7 15.1L129 8.5L139.9 4.1L153.1 1.5L160 -1" fill="none" stroke="#000" stroke-width="1.3" stroke-linejoin="round"/>
<path d="M249.1 4.7L234.1 7.5L219 10.4L204.9 14.1L192.6 17.9L183.2 22.6L173.8 28.2L162.5 33.9L149.3 38.6L138 42.4L128.6 45.2L122.4 50.8L121.5 54.6L123.4 58.4L128.6 62.1L136.1 65.9L147.4 72.5L160.6 76.3L175.7 78.2L190.7 80L207.7 81.9L222.8 83.8L237.8 85.7L252.9 87.6" fill="none" stroke="#000" stroke-width="1.3" stroke-linejoin="round"/>
<path d="M0 0H257.00V138.30H0Z M48.7 0.0L50.0 4.8L64.2 41.8L78.5 70.5L92.8 94.0L107.1 113.8L121.4 131.0L135.6 131.0L149.9 113.8L164.2 94.0L178.5 70.5L192.8 41.8L207.0 4.8L208.3 0.0Z" fill="#fff" fill-opacity="0.5" fill-rule="evenodd"/>
<path d="M48.7 0.0L50.0 4.8L64.2 41.8L78.5 70.5L92.8 94.0L107.1 113.8L121.4 131.0L135.6 131.0L149.9 113.8L164.2 94.0L178.5 70.5L192.8 41.8L207.0 4.8L208.3 0.0" fill="none" stroke="#000" stroke-width="0.75"/>
</g>
<rect x="0" y="0" width="257.00" height="138.30" fill="none" stroke="#262626" stroke-width="0.8"/>
<path d="M7.14 138.30v-2.6M7.14 0v2.6M35.69 138.30v-2.6M35.69 0v2.6M64.25 138.30v-2.6M64.25 0v2.6M92.81 138.30v-2.6M92.81 0v2.6M121.36 138.30v-2.6M121.36 0v2.6M149.92 138.30v-2.6M149.92 0v2.6M178.47 138.30v-2.6M178.47 0v2.6M207.03 138.30v-2.6M207.03 0v2.6M235.58 138.30v-2.6M235.58 0v2.6M0 83.30h2.6M257.00 83.30h-2.6" stroke="#262626" stroke-width="0.8" fill="none"/>
<text x="7.14" y="148.50" text-anchor="middle" font-size="8.5" class="t">2002</text>
<text x="35.69" y="148.50" text-anchor="middle" font-size="8.5" class="t">2004</text>
<text x="64.25" y="148.50" text-anchor="middle" font-size="8.5" class="t">2006</text>
<text x="92.81" y="148.50" text-anchor="middle" font-size="8.5" class="t">2008</text>
<text x="121.36" y="148.50" text-anchor="middle" font-size="8.5" class="t">2010</text>
<text x="149.92" y="148.50" text-anchor="middle" font-size="8.5" class="t">2012</text>
<text x="178.47" y="148.50" text-anchor="middle" font-size="8.5" class="t">2014</text>
<text x="207.03" y="148.50" text-anchor="middle" font-size="8.5" class="t">2016</text>
<text x="235.58" y="148.50" text-anchor="middle" font-size="8.5" class="t">2018</text>
<text x="-2" y="86.60" text-anchor="end" font-size="8.5" class="t">4</text>
<text transform="translate(-8.9,69.45) rotate(-90)" text-anchor="middle" font-size="9.35" class="t">Period</text>
<rect x="259.20" y="0.2" width="3.70" height="138.10" fill="url(#pg)"/>
<text x="264.90" y="3.40" font-size="8.5" class="t">1</text>
<text x="264.90" y="31.02" font-size="8.5" class="t">0.8</text>
<text x="264.90" y="58.64" font-size="8.5" class="t">0.6</text>
<text x="264.90" y="86.26" font-size="8.5" class="t">0.4</text>
<text x="264.90" y="113.88" font-size="8.5" class="t">0.2</text>
<text x="264.90" y="141.50" font-size="8.5" class="t">0</text>
<text x="265.80" y="-2.8" text-anchor="end" font-size="8.5" class="t">Spectral Intensity</text>
</g>
<text x="171.0" y="197.2" text-anchor="middle" font-size="15.5" class="t">(a)XWT</text>
<text x="538.0" y="197.2" text-anchor="middle" font-size="15.5" class="t">(b)WTC</text>
<text x="171.0" y="453.0" text-anchor="middle" font-size="15.5" class="t">(c)XWT</text>
<text x="538.0" y="453.0" text-anchor="middle" font-size="15.5" class="t">(d)WTC</text>
<text x="171.0" y="708.8" text-anchor="middle" font-size="15.5" class="t">(e)XWT</text>
<text x="538.0" y="708.8" text-anchor="middle" font-size="15.5" class="t">(f)WTC</text>
<text x="354.3" y="231.7" text-anchor="middle" font-size="15.17" class="t">XWT and WTC Spectrum Diagrams for Meteorological-Hydrological Variables at Jinsuozhen Station</text>
<text x="354.3" y="487.5" text-anchor="middle" font-size="15.17" class="t">XWT and WTC Spectrum Diagrams for Meteorological-Hydrological Variables at Sihong Station</text>
<text x="354.3" y="743.0" text-anchor="middle" font-size="15.17" class="t">XWT and WTC Spectrum Diagrams for Meteorological-Hydrological Variables at Shuanggou Station</text>
</svg></body></html>
